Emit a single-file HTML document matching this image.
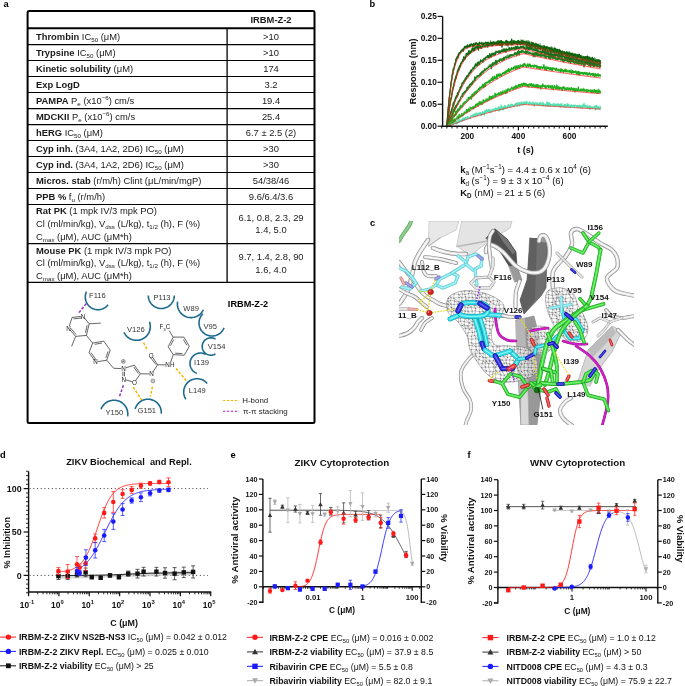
<!DOCTYPE html>
<html><head><meta charset="utf-8"><style>
html,body{margin:0;padding:0;background:#fff;}
body{width:685px;height:686px;overflow:hidden;}
svg{display:block;font-family:"Liberation Sans",sans-serif;will-change:transform;}
</style></head><body>
<svg width="685" height="686" viewBox="0 0 685 686">
<rect width="685" height="686" fill="#fff"/>
<text x="3.60" y="6.70" font-size="9.3" font-weight="bold" fill="#000" >a</text>
<text x="369.60" y="6.70" font-size="9.3" font-weight="bold" fill="#000" >b</text>
<text x="370.00" y="226.00" font-size="9.3" font-weight="bold" fill="#000" >c</text>
<text x="0.00" y="458.10" font-size="9.3" font-weight="bold" fill="#000" >d</text>
<text x="230.50" y="458.10" font-size="9.3" font-weight="bold" fill="#000" >e</text>
<text x="467.50" y="458.00" font-size="9.3" font-weight="bold" fill="#000" >f</text>
<rect x="27.6" y="11" width="286.9" height="412" rx="1.5" fill="none" stroke="#000" stroke-width="2"/>
<line x1="27.60" y1="28.20" x2="314.50" y2="28.20" stroke="#000" stroke-width="2.0" />
<line x1="27.60" y1="44.60" x2="314.50" y2="44.60" stroke="#000" stroke-width="1.2" />
<line x1="27.60" y1="60.50" x2="314.50" y2="60.50" stroke="#000" stroke-width="1.2" />
<line x1="27.60" y1="76.50" x2="314.50" y2="76.50" stroke="#000" stroke-width="1.2" />
<line x1="27.60" y1="92.50" x2="314.50" y2="92.50" stroke="#000" stroke-width="1.2" />
<line x1="27.60" y1="108.60" x2="314.50" y2="108.60" stroke="#000" stroke-width="1.2" />
<line x1="27.60" y1="124.60" x2="314.50" y2="124.60" stroke="#000" stroke-width="1.2" />
<line x1="27.60" y1="140.50" x2="314.50" y2="140.50" stroke="#000" stroke-width="1.2" />
<line x1="27.60" y1="156.50" x2="314.50" y2="156.50" stroke="#000" stroke-width="1.2" />
<line x1="27.60" y1="172.50" x2="314.50" y2="172.50" stroke="#000" stroke-width="1.2" />
<line x1="27.60" y1="188.50" x2="314.50" y2="188.50" stroke="#000" stroke-width="1.2" />
<line x1="27.60" y1="204.50" x2="314.50" y2="204.50" stroke="#000" stroke-width="1.2" />
<line x1="27.60" y1="243.60" x2="314.50" y2="243.60" stroke="#000" stroke-width="1.2" />
<line x1="27.60" y1="282.40" x2="314.50" y2="282.40" stroke="#000" stroke-width="1.2" />
<line x1="227.10" y1="28.20" x2="227.10" y2="282.40" stroke="#000" stroke-width="1.3" />
<text x="271.00" y="22.80" font-size="9.4" font-weight="bold" text-anchor="middle" fill="#1a1a1a" >IRBM-Z-2</text>
<text x="36.00" y="39.80" font-size="9.4" fill="#1a1a1a" ><tspan font-weight="bold">Thrombin</tspan> IC<tspan font-size="6.20" baseline-shift="-1.88">50</tspan> (μM)</text>
<text x="271.00" y="39.80" font-size="9.4" text-anchor="middle" fill="#1a1a1a" >>10</text>
<text x="36.00" y="56.20" font-size="9.4" fill="#1a1a1a" ><tspan font-weight="bold">Trypsine</tspan> IC<tspan font-size="6.20" baseline-shift="-1.88">50</tspan> (μM)</text>
<text x="271.00" y="56.20" font-size="9.4" text-anchor="middle" fill="#1a1a1a" >>10</text>
<text x="36.00" y="72.10" font-size="9.4" fill="#1a1a1a" ><tspan font-weight="bold">Kinetic solubility</tspan> (μM)</text>
<text x="271.00" y="72.10" font-size="9.4" text-anchor="middle" fill="#1a1a1a" >174</text>
<text x="36.00" y="88.10" font-size="9.4" fill="#1a1a1a" ><tspan font-weight="bold">Exp LogD</tspan></text>
<text x="271.00" y="88.10" font-size="9.4" text-anchor="middle" fill="#1a1a1a" >3.2</text>
<text x="36.00" y="104.10" font-size="9.4" fill="#1a1a1a" ><tspan font-weight="bold">PAMPA</tspan> P<tspan font-size="6.20" baseline-shift="-1.88">e</tspan> (x10<tspan font-size="6.20" baseline-shift="3.57">−6</tspan>) cm/s</text>
<text x="271.00" y="104.10" font-size="9.4" text-anchor="middle" fill="#1a1a1a" >19.4</text>
<text x="36.00" y="120.20" font-size="9.4" fill="#1a1a1a" ><tspan font-weight="bold">MDCKII</tspan> P<tspan font-size="6.20" baseline-shift="-1.88">e</tspan> (x10<tspan font-size="6.20" baseline-shift="3.57">−6</tspan>) cm/s</text>
<text x="271.00" y="120.20" font-size="9.4" text-anchor="middle" fill="#1a1a1a" >25.4</text>
<text x="36.00" y="136.20" font-size="9.4" fill="#1a1a1a" ><tspan font-weight="bold">hERG</tspan> IC<tspan font-size="6.20" baseline-shift="-1.88">50</tspan> (μM)</text>
<text x="271.00" y="136.20" font-size="9.4" text-anchor="middle" fill="#1a1a1a" >6.7 ± 2.5 (2)</text>
<text x="36.00" y="152.10" font-size="9.4" fill="#1a1a1a" ><tspan font-weight="bold">Cyp inh.</tspan> (3A4, 1A2, 2D6) IC<tspan font-size="6.20" baseline-shift="-1.88">50</tspan> (μM)</text>
<text x="271.00" y="152.10" font-size="9.4" text-anchor="middle" fill="#1a1a1a" >>30</text>
<text x="36.00" y="168.10" font-size="9.4" fill="#1a1a1a" ><tspan font-weight="bold">Cyp ind.</tspan> (3A4, 1A2, 2D6) IC<tspan font-size="6.20" baseline-shift="-1.88">50</tspan> (μM)</text>
<text x="271.00" y="168.10" font-size="9.4" text-anchor="middle" fill="#1a1a1a" >>30</text>
<text x="36.00" y="184.10" font-size="9.4" fill="#1a1a1a" ><tspan font-weight="bold">Micros. stab</tspan> (r/m/h) Clint (μL/min/mgP)</text>
<text x="271.00" y="184.10" font-size="9.4" text-anchor="middle" fill="#1a1a1a" >54/38/46</text>
<text x="36.00" y="200.10" font-size="9.4" fill="#1a1a1a" ><tspan font-weight="bold">PPB %</tspan> f<tspan font-size="6.20" baseline-shift="-1.88">u</tspan> (r/m/h)</text>
<text x="271.00" y="200.10" font-size="9.4" text-anchor="middle" fill="#1a1a1a" >9.6/6.4/3.6</text>
<text x="36.00" y="214.40" font-size="9.4" fill="#1a1a1a" ><tspan font-weight="bold">Rat PK</tspan> (1 mpk IV/3 mpk PO)</text>
<text x="36.00" y="227.00" font-size="9.4" fill="#1a1a1a" >Cl (ml/min/kg), V<tspan font-size="6.20" baseline-shift="-1.88">dss</tspan> (L/kg), t<tspan font-size="6.20" baseline-shift="-1.88">1/2</tspan> (h), F (%)</text>
<text x="36.00" y="239.60" font-size="9.4" fill="#1a1a1a" >C<tspan font-size="6.20" baseline-shift="-1.88">max</tspan> (μM), AUC (μM*h)</text>
<text x="271.00" y="220.80" font-size="9.4" text-anchor="middle" fill="#1a1a1a" >6.1, 0.8, 2.3, 29</text>
<text x="271.00" y="233.40" font-size="9.4" text-anchor="middle" fill="#1a1a1a" >1.4, 5.0</text>
<text x="36.00" y="253.60" font-size="9.4" fill="#1a1a1a" ><tspan font-weight="bold">Mouse PK</tspan> (1 mpk IV/3 mpk PO)</text>
<text x="36.00" y="266.20" font-size="9.4" fill="#1a1a1a" >Cl (ml/min/kg), V<tspan font-size="6.20" baseline-shift="-1.88">dss</tspan> (L/kg), t<tspan font-size="6.20" baseline-shift="-1.88">1/2</tspan> (h), F (%)</text>
<text x="36.00" y="278.80" font-size="9.4" fill="#1a1a1a" >C<tspan font-size="6.20" baseline-shift="-1.88">max</tspan> (μM), AUC (μM*h)</text>
<text x="271.00" y="260.00" font-size="9.4" text-anchor="middle" fill="#1a1a1a" >9.7, 1.4, 2.8, 90</text>
<text x="271.00" y="272.60" font-size="9.4" text-anchor="middle" fill="#1a1a1a" >1.6, 4.0</text>
<polyline points="108.01,304.82 107.41,305.53 106.77,306.19 106.07,306.80 105.34,307.36 104.56,307.87 103.76,308.32 102.92,308.71 102.05,309.04 101.16,309.30 100.26,309.50 99.34,309.63 98.42,309.69 97.50,309.69 96.57,309.62 95.66,309.48 94.76,309.28 93.87,309.01 93.01,308.68 92.17,308.28 91.36,307.83 90.59,307.32 89.86,306.75 89.17,306.13 88.53,305.46 87.94,304.75 87.40,304.00 86.92,303.21 86.50,302.39 86.14,301.54 85.84,300.66 85.60,299.77 85.44,298.86 85.33,297.94 85.30,297.01 85.33,296.09 85.43,295.17 85.60,294.26 85.83,293.36 86.13,292.48 86.49,291.63" fill="none" stroke="#1d6a8f" stroke-width="1.6" stroke-linecap="butt"/>
<polyline points="174.30,295.50 174.26,296.52 174.14,297.53 173.94,298.53 173.66,299.52 173.31,300.47 172.88,301.40 172.38,302.29 171.82,303.14 171.19,303.94 170.49,304.69 169.74,305.39 168.94,306.02 168.09,306.58 167.20,307.08 166.27,307.51 165.32,307.86 164.33,308.14 163.33,308.34 162.32,308.46 161.30,308.50 160.28,308.46 159.27,308.34 158.27,308.14 157.28,307.86 156.33,307.51 155.40,307.08 154.51,306.58 153.66,306.02 152.86,305.39 152.11,304.69 151.41,303.94 150.78,303.14 150.22,302.29 149.72,301.40 149.29,300.47 148.94,299.52 148.66,298.53 148.46,297.53 148.34,296.52 148.30,295.50" fill="none" stroke="#1d6a8f" stroke-width="1.6" stroke-linecap="butt"/>
<polyline points="203.33,309.75 202.88,310.62 202.37,311.46 201.81,312.26 201.19,313.01 200.51,313.72 199.79,314.38 199.02,314.99 198.21,315.53 197.36,316.02 196.48,316.45 195.57,316.81 194.63,317.11 193.68,317.33 192.72,317.49 191.74,317.58 190.76,317.60 189.79,317.55 188.81,317.42 187.85,317.23 186.91,316.97 185.99,316.64 185.09,316.25 184.23,315.79 183.39,315.27 182.60,314.70 181.86,314.07 181.16,313.38 180.51,312.65 179.91,311.87 179.37,311.06 178.90,310.20 178.48,309.31 178.13,308.40 177.85,307.46 177.63,306.51 177.49,305.54 177.41,304.56 177.41,303.58 177.47,302.61 177.61,301.64" fill="none" stroke="#1d6a8f" stroke-width="1.6" stroke-linecap="butt"/>
<polyline points="224.05,327.87 223.58,328.92 223.01,329.92 222.35,330.86 221.62,331.75 220.80,332.57 219.92,333.31 218.98,333.97 217.98,334.54 216.94,335.03 215.86,335.42 214.74,335.71 213.61,335.90 212.46,335.99 211.31,335.98 210.16,335.87 209.03,335.66 207.92,335.34 206.85,334.94 205.81,334.43 204.82,333.84 203.89,333.16 203.03,332.41 202.23,331.58 201.51,330.68 200.87,329.72 200.32,328.71 199.86,327.65 199.50,326.56 199.23,325.44 199.07,324.30 199.00,323.15 199.04,322.00 199.18,320.86 199.42,319.73 199.76,318.63 200.19,317.57 200.72,316.54 201.33,315.57 202.03,314.66 202.81,313.81" fill="none" stroke="#1d6a8f" stroke-width="1.6" stroke-linecap="butt"/>
<polyline points="215.51,353.88 214.70,354.33 213.85,354.69 212.96,354.95 212.05,355.12 211.13,355.20 210.20,355.17 209.28,355.05 208.39,354.83 207.51,354.51 206.68,354.11 205.90,353.62 205.17,353.05 204.51,352.40 203.92,351.69 203.40,350.92 202.98,350.09 202.64,349.23 202.40,348.34 202.25,347.42 202.20,346.50 202.25,345.58 202.40,344.66 202.64,343.77 202.98,342.91 203.40,342.08 203.92,341.31 204.51,340.60 205.17,339.95 205.90,339.38 206.68,338.89 207.51,338.49 208.39,338.17 209.28,337.95 210.20,337.83 211.13,337.80 212.05,337.88 212.96,338.05 213.85,338.31 214.70,338.67 215.51,339.12" fill="none" stroke="#1d6a8f" stroke-width="1.6" stroke-linecap="butt"/>
<polyline points="196.91,373.37 196.10,373.04 195.33,372.64 194.59,372.18 193.89,371.66 193.24,371.08 192.64,370.46 192.09,369.78 191.60,369.06 191.17,368.31 190.80,367.52 190.50,366.70 190.27,365.86 190.11,365.01 190.02,364.14 190.00,363.27 190.06,362.40 190.18,361.54 190.38,360.69 190.65,359.87 190.98,359.06 191.38,358.29 191.85,357.55 192.37,356.86 192.95,356.21 193.58,355.61 194.25,355.06 194.97,354.57 195.73,354.14 196.52,353.78 197.34,353.49 198.18,353.26 199.04,353.10 199.90,353.02 200.77,353.00 201.64,353.06 202.50,353.19 203.35,353.39 204.18,353.66 204.98,354.00 205.75,354.41" fill="none" stroke="#1d6a8f" stroke-width="1.6" stroke-linecap="butt"/>
<polyline points="185.85,399.24 185.33,398.38 184.88,397.48 184.50,396.55 184.20,395.60 183.96,394.62 183.80,393.63 183.72,392.63 183.71,391.63 183.77,390.63 183.91,389.63 184.13,388.65 184.42,387.69 184.78,386.76 185.21,385.85 185.71,384.98 186.27,384.14 186.89,383.36 187.57,382.62 188.31,381.94 189.09,381.31 189.92,380.74 190.79,380.24 191.69,379.81 192.63,379.44 193.59,379.15 194.56,378.92 195.56,378.78 196.56,378.71 197.56,378.71 198.56,378.79 199.55,378.95 200.53,379.18 201.49,379.48 202.42,379.85 203.32,380.30 204.19,380.81 205.01,381.38 205.79,382.02 206.51,382.71 207.19,383.45" fill="none" stroke="#1d6a8f" stroke-width="1.6" stroke-linecap="butt"/>
<polyline points="149.47,321.78 149.79,322.78 150.03,323.81 150.20,324.85 150.29,325.90 150.29,326.95 150.22,328.00 150.06,329.04 149.83,330.07 149.52,331.08 149.13,332.06 148.67,333.01 148.14,333.91 147.54,334.78 146.88,335.60 146.15,336.36 145.37,337.07 144.54,337.72 143.66,338.30 142.74,338.81 141.78,339.25 140.79,339.62 139.78,339.90 138.75,340.12 137.70,340.25 136.65,340.30 135.60,340.27 134.55,340.16 133.51,339.97 132.49,339.71 131.50,339.36 130.53,338.94 129.60,338.45 128.71,337.89 127.86,337.26 127.07,336.57 126.33,335.82 125.64,335.02 125.03,334.17 124.47,333.27 123.99,332.33" fill="none" stroke="#1d6a8f" stroke-width="1.6" stroke-linecap="butt"/>
<polyline points="101.03,409.28 101.42,408.33 101.87,407.42 102.39,406.53 102.98,405.69 103.62,404.90 104.33,404.16 105.08,403.47 105.89,402.84 106.74,402.27 107.63,401.76 108.55,401.32 109.51,400.95 110.49,400.65 111.49,400.43 112.50,400.28 113.52,400.21 114.54,400.21 115.56,400.29 116.57,400.44 117.57,400.67 118.55,400.97 119.50,401.34 120.43,401.79 121.31,402.30 122.16,402.87 122.96,403.51 123.72,404.20 124.41,404.95 125.06,405.74 125.64,406.59 126.16,407.47 126.61,408.39 126.99,409.34 127.30,410.31 127.53,411.31 127.70,412.32 127.78,413.34 127.80,414.36 127.73,415.38 127.59,416.40" fill="none" stroke="#1d6a8f" stroke-width="1.6" stroke-linecap="butt"/>
<polyline points="135.15,409.06 135.44,408.12 135.80,407.20 136.23,406.31 136.72,405.45 137.27,404.64 137.89,403.86 138.55,403.14 139.27,402.46 140.04,401.84 140.85,401.28 141.70,400.78 142.59,400.35 143.51,399.98 144.45,399.68 145.41,399.46 146.38,399.30 147.36,399.22 148.35,399.20 149.33,399.27 150.31,399.40 151.27,399.61 152.22,399.89 153.14,400.23 154.04,400.65 154.90,401.13 155.72,401.67 156.50,402.27 157.24,402.93 157.92,403.64 158.55,404.40 159.12,405.21 159.63,406.05 160.08,406.93 160.46,407.84 160.77,408.78 161.01,409.73 161.18,410.71 161.28,411.69 161.30,412.67 161.25,413.66" fill="none" stroke="#1d6a8f" stroke-width="1.6" stroke-linecap="butt"/>
<text x="97.40" y="297.80" font-size="7.6" text-anchor="middle" fill="#333" >F116</text>
<text x="162.00" y="300.10" font-size="7.6" text-anchor="middle" fill="#333" >P113</text>
<text x="191.10" y="310.60" font-size="7.6" text-anchor="middle" fill="#333" >W89</text>
<text x="210.30" y="328.80" font-size="7.6" text-anchor="middle" fill="#333" >V95</text>
<text x="216.60" y="349.40" font-size="7.6" text-anchor="middle" fill="#333" >V154</text>
<text x="201.50" y="365.10" font-size="7.6" text-anchor="middle" fill="#333" >I139</text>
<text x="197.20" y="393.30" font-size="7.6" text-anchor="middle" fill="#333" >L149</text>
<text x="135.90" y="332.10" font-size="7.6" text-anchor="middle" fill="#333" >V126</text>
<text x="114.30" y="414.80" font-size="7.6" text-anchor="middle" fill="#333" >Y150</text>
<text x="146.80" y="412.80" font-size="7.6" text-anchor="middle" fill="#333" >G151</text>
<text x="248.00" y="306.60" font-size="9.2" font-weight="bold" text-anchor="middle" fill="#000" >IRBM-Z-2</text>
<line x1="223.10" y1="400.50" x2="238.90" y2="400.50" stroke="#f5b800" stroke-width="1.1" stroke-dasharray="2.3,1.6"/>
<line x1="223.10" y1="411.30" x2="238.90" y2="411.30" stroke="#a020a0" stroke-width="1.1" stroke-dasharray="2.3,1.6"/>
<text x="242.30" y="403.00" font-size="7.9" fill="#222" >H-bond</text>
<text x="243.00" y="413.90" font-size="7.9" fill="#222" >π-π stacking</text>
<line x1="84.39" y1="317.90" x2="89.20" y2="323.80" stroke="#333" stroke-width="0.75" />
<line x1="89.20" y1="323.80" x2="86.40" y2="335.40" stroke="#333" stroke-width="0.75" />
<line x1="86.40" y1="335.40" x2="75.60" y2="336.40" stroke="#333" stroke-width="0.75" />
<line x1="75.60" y1="336.40" x2="70.04" y2="329.96" stroke="#333" stroke-width="0.75" />
<line x1="69.27" y1="326.21" x2="72.10" y2="317.40" stroke="#333" stroke-width="0.75" />
<line x1="72.10" y1="317.40" x2="80.81" y2="316.44" stroke="#333" stroke-width="0.75" />
<line x1="73.46" y1="318.86" x2="82.18" y2="317.90" stroke="#333" stroke-width="0.75" />
<line x1="87.20" y1="325.31" x2="85.41" y2="332.73" stroke="#333" stroke-width="0.75" />
<line x1="76.11" y1="334.54" x2="70.51" y2="328.06" stroke="#333" stroke-width="0.75" />
<line x1="89.20" y1="323.80" x2="100.80" y2="323.10" stroke="#333" stroke-width="0.75" />
<line x1="75.60" y1="336.40" x2="71.60" y2="346.40" stroke="#333" stroke-width="0.75" />
<text x="83.00" y="318.90" font-size="6.3" text-anchor="middle" fill="#222" >N</text>
<text x="68.60" y="330.60" font-size="6.3" text-anchor="middle" fill="#222" >N</text>
<line x1="86.40" y1="335.40" x2="92.60" y2="343.10" stroke="#333" stroke-width="0.75" />
<line x1="92.60" y1="343.10" x2="103.70" y2="341.10" stroke="#333" stroke-width="0.75" />
<line x1="103.70" y1="341.10" x2="110.20" y2="350.10" stroke="#333" stroke-width="0.75" />
<line x1="110.20" y1="350.10" x2="106.70" y2="360.20" stroke="#333" stroke-width="0.75" />
<line x1="106.70" y1="360.20" x2="97.87" y2="361.63" stroke="#333" stroke-width="0.75" />
<line x1="94.28" y1="360.11" x2="89.10" y2="352.70" stroke="#333" stroke-width="0.75" />
<line x1="89.10" y1="352.70" x2="92.60" y2="343.10" stroke="#333" stroke-width="0.75" />
<line x1="94.85" y1="344.32" x2="101.95" y2="343.04" stroke="#333" stroke-width="0.75" />
<line x1="108.09" y1="351.31" x2="105.85" y2="357.77" stroke="#333" stroke-width="0.75" />
<line x1="96.20" y1="360.07" x2="91.00" y2="352.63" stroke="#333" stroke-width="0.75" />
<text x="95.60" y="364.30" font-size="6.3" text-anchor="middle" fill="#222" >N</text>
<line x1="106.70" y1="360.20" x2="113.70" y2="368.30" stroke="#333" stroke-width="0.75" />
<line x1="113.70" y1="368.30" x2="121.10" y2="368.53" stroke="#333" stroke-width="0.75" />
<line x1="125.79" y1="367.89" x2="134.40" y2="365.20" stroke="#333" stroke-width="0.75" />
<line x1="134.40" y1="365.20" x2="140.40" y2="373.80" stroke="#333" stroke-width="0.75" />
<line x1="140.40" y1="373.80" x2="135.66" y2="380.60" stroke="#333" stroke-width="0.75" />
<line x1="132.29" y1="381.78" x2="125.91" y2="379.92" stroke="#333" stroke-width="0.75" />
<line x1="133.90" y1="367.10" x2="138.46" y2="373.64" stroke="#333" stroke-width="0.75" />
<line x1="122.90" y1="371.60" x2="122.90" y2="376.30" stroke="#333" stroke-width="0.75" />
<line x1="124.50" y1="371.60" x2="124.50" y2="376.30" stroke="#333" stroke-width="0.75" />
<text x="123.50" y="370.90" font-size="6.3" text-anchor="middle" fill="#222" >N</text>
<text x="123.80" y="381.60" font-size="6.3" text-anchor="middle" fill="#222" >N</text>
<text x="134.40" y="384.70" font-size="6.3" text-anchor="middle" fill="#222" >O</text>
<circle cx="123.3" cy="361.4" r="1.9" fill="none" stroke="#333" stroke-width="0.55"/>
<line x1="122.20" y1="361.40" x2="124.40" y2="361.40" stroke="#333" stroke-width="0.55" />
<line x1="123.30" y1="360.30" x2="123.30" y2="362.50" stroke="#333" stroke-width="0.55" />
<line x1="140.40" y1="373.80" x2="149.40" y2="373.88" stroke="#333" stroke-width="0.75" />
<text x="151.60" y="376.20" font-size="6.3" text-anchor="middle" fill="#222" >N</text>
<circle cx="152.9" cy="380.9" r="1.9" fill="none" stroke="#333" stroke-width="0.55"/>
<line x1="151.80" y1="380.90" x2="154.00" y2="380.90" stroke="#333" stroke-width="0.55" />
<line x1="152.81" y1="372.06" x2="157.60" y2="364.80" stroke="#333" stroke-width="0.75" />
<line x1="157.60" y1="364.80" x2="152.56" y2="357.12" stroke="#333" stroke-width="0.75" />
<line x1="156.20" y1="364.60" x2="150.10" y2="357.20" stroke="#333" stroke-width="0.75" />
<text x="151.30" y="357.50" font-size="6.3" text-anchor="middle" fill="#222" >O</text>
<line x1="157.60" y1="364.80" x2="165.70" y2="364.80" stroke="#333" stroke-width="0.75" />
<text x="169.90" y="367.10" font-size="6.3" text-anchor="middle" fill="#222" >NH</text>
<line x1="170.62" y1="362.15" x2="173.20" y2="354.70" stroke="#333" stroke-width="0.75" />
<line x1="173.20" y1="354.70" x2="168.20" y2="346.70" stroke="#333" stroke-width="0.75" />
<line x1="168.20" y1="346.70" x2="173.20" y2="337.10" stroke="#333" stroke-width="0.75" />
<line x1="173.20" y1="337.10" x2="183.80" y2="337.10" stroke="#333" stroke-width="0.75" />
<line x1="183.80" y1="337.10" x2="189.30" y2="346.20" stroke="#333" stroke-width="0.75" />
<line x1="189.30" y1="346.20" x2="184.30" y2="355.20" stroke="#333" stroke-width="0.75" />
<line x1="184.30" y1="355.20" x2="173.20" y2="354.70" stroke="#333" stroke-width="0.75" />
<line x1="170.51" y1="345.73" x2="173.71" y2="339.58" stroke="#333" stroke-width="0.75" />
<line x1="183.40" y1="339.53" x2="186.92" y2="345.36" stroke="#333" stroke-width="0.75" />
<line x1="182.29" y1="353.51" x2="175.18" y2="353.19" stroke="#333" stroke-width="0.75" />
<line x1="173.20" y1="337.10" x2="169.20" y2="330.60" stroke="#333" stroke-width="0.75" />
<text x="159.40" y="329.30" font-size="6.3" fill="#222" >F<tspan font-size="4.3" dy="1.3">3</tspan><tspan dy="-1.3">C</tspan></text>
<line x1="86.20" y1="303.60" x2="78.10" y2="313.70" stroke="#8e35b8" stroke-width="1.5" stroke-dasharray="2.8,1.6"/>
<line x1="123.40" y1="385.30" x2="119.10" y2="397.70" stroke="#8e35b8" stroke-width="1.5" stroke-dasharray="2.8,1.6"/>
<line x1="133.20" y1="387.10" x2="141.80" y2="400.20" stroke="#f5b800" stroke-width="1.5" stroke-dasharray="2.8,1.6"/>
<line x1="152.40" y1="386.60" x2="150.40" y2="396.70" stroke="#f5b800" stroke-width="1.5" stroke-dasharray="2.8,1.6"/>
<line x1="176.00" y1="368.40" x2="186.10" y2="380.40" stroke="#f5b800" stroke-width="1.5" stroke-dasharray="2.8,1.6"/>
<line x1="143.50" y1="342.70" x2="147.00" y2="349.20" stroke="#f5b800" stroke-width="1.5" stroke-dasharray="2.8,1.6"/>
<polyline points="446.86,126.20 447.19,125.69 447.52,124.95 447.86,126.20 448.19,126.20 448.52,125.56 448.85,124.89 449.19,124.15 449.52,126.20 449.85,126.18 450.18,124.11 450.51,124.20 450.85,123.04 451.18,123.43 451.51,124.34 451.84,124.38 452.17,121.49 452.51,124.12 452.84,124.46 453.17,124.67 453.50,123.34 453.84,123.16 454.17,123.50 454.50,123.10 454.83,122.64 455.16,122.10 455.50,121.58 455.83,122.31 456.16,124.11 456.49,121.57 456.82,123.49 457.16,122.16 457.49,123.29 457.82,121.73 458.15,122.36 458.49,121.27 458.82,118.16 459.15,121.27 459.48,120.28 459.81,122.25 460.15,121.12 460.48,120.08 460.81,120.69 461.14,120.11 461.47,120.25 461.81,121.20 462.14,119.56 462.47,120.76 462.80,118.05 463.14,120.22 463.47,118.95 463.80,119.49 464.13,118.45 464.46,119.83 464.80,118.17 465.13,119.13 465.46,117.67 465.79,118.17 466.12,118.52 466.46,119.29 466.79,117.68 467.12,117.85 467.45,116.60 467.79,118.43 468.12,117.42 468.45,117.35 468.78,117.45 469.11,117.40 469.45,117.32 469.78,117.96 470.11,118.24 470.44,117.53 470.77,116.47 471.11,115.46 471.44,115.87 471.77,115.68 472.10,115.84 472.44,115.80 472.77,116.19 473.10,115.51 473.43,114.43 473.76,116.35 474.10,116.60 474.43,113.92 474.76,115.47 475.09,114.66 475.42,114.65 475.76,116.48 476.09,112.92 476.42,113.45 476.75,114.89 477.09,114.23 477.42,114.73 477.75,115.60 478.08,114.75 478.41,114.17 478.75,113.35 479.08,113.64 479.41,114.16 479.74,112.81 480.08,114.75 480.41,113.14 480.74,112.73 481.07,113.99 481.40,115.33 481.74,114.38 482.07,113.17 482.40,112.79 482.73,111.70 483.06,114.07 483.40,113.00 483.73,112.27 484.06,112.95 484.39,114.99 484.73,111.82 485.06,110.27 485.39,111.44 485.72,113.19 486.05,112.61 486.39,111.90 486.72,109.61 487.05,111.32 487.38,111.71 487.71,110.22 488.05,111.71 488.38,109.74 488.71,112.10 489.04,111.81 489.38,110.56 489.71,109.78 490.04,110.43 490.37,110.68 490.70,112.64 491.04,111.47 491.37,111.28 491.70,111.12 492.03,109.94 492.36,110.74 492.70,109.57 493.03,110.16 493.36,110.47 493.69,109.94 494.03,109.55 494.36,109.05 494.69,110.25 495.02,109.92 495.35,110.92 495.69,107.97 496.02,108.03 496.35,109.51 496.68,109.72 497.01,110.36 497.35,108.91 497.68,108.79 498.01,106.80 498.34,108.58 498.68,109.48 499.01,111.01 499.34,107.20 499.67,108.29 500.00,109.95 500.34,108.13 500.67,109.78 501.00,104.78 501.33,106.97 501.66,107.42 502.00,108.06 502.33,109.87 502.66,107.84 502.99,109.14 503.33,106.98 503.66,109.54 503.99,108.27 504.32,106.13 504.65,105.64 504.99,108.29 505.32,108.55 505.65,106.14 505.98,106.08 506.31,107.78 506.65,107.42 506.98,107.34 507.31,107.74 507.64,107.17 507.98,105.22 508.31,105.69 508.64,104.29 508.97,106.28 509.30,106.25 509.64,106.99 509.97,106.09 510.30,107.16 510.63,107.53 510.96,105.06 511.30,104.27 511.63,104.78 511.96,104.22 512.29,105.19 512.63,106.05 512.96,105.20 513.29,105.57 513.62,106.21 513.95,106.70 514.29,106.42 514.62,104.92 514.95,104.69 515.28,105.22 515.62,103.31 515.95,104.45 516.28,103.98 516.61,103.30 516.94,105.20 517.28,106.23 517.61,103.53 517.94,104.85 518.27,102.85 518.60,103.72 518.94,103.00 519.27,103.17 519.60,105.85 519.93,103.07 520.27,104.35 520.60,104.36 520.93,103.98 521.26,102.75 521.59,102.56 521.93,102.37 522.26,104.89 522.59,103.78 522.92,105.44 523.25,103.18 523.59,102.45 523.92,103.79 524.25,102.84 524.58,102.88 524.92,102.15 525.25,103.94 525.58,103.97 525.91,103.93 526.24,101.52 526.58,102.18 526.91,103.38 527.24,103.06 527.57,103.19 527.90,103.13 528.24,103.55 528.57,103.69 528.90,104.60 529.23,104.03 529.57,101.84 529.90,102.94 530.23,103.42 530.56,103.71 530.89,103.46 531.23,103.20 531.56,104.19 531.89,103.40 532.22,103.38 532.55,104.36 532.89,104.42 533.22,104.64 533.55,104.73 533.88,102.86 534.22,106.02 534.55,104.02 534.88,104.38 535.21,104.41 535.54,103.74 535.88,102.76 536.21,103.80 536.54,104.03 536.87,104.51 537.20,104.06 537.54,103.08 537.87,104.36 538.20,105.11 538.53,105.25 538.87,105.12 539.20,105.41 539.53,103.03 539.86,103.77 540.19,104.36 540.53,102.75 540.86,104.81 541.19,103.47 541.52,103.45 541.85,105.74 542.19,105.77 542.52,105.18 542.85,103.43 543.18,103.07 543.52,105.53 543.85,103.36 544.18,104.76 544.51,104.79 544.84,104.97 545.18,104.77 545.51,106.23 545.84,105.46 546.17,105.71 546.51,104.06 546.84,102.54 547.17,101.94 547.50,104.93 547.83,106.29 548.17,105.04 548.50,105.57 548.83,102.77 549.16,104.16 549.49,105.43 549.83,103.84 550.16,104.25 550.49,106.36 550.82,105.33 551.16,105.06 551.49,104.84 551.82,104.75 552.15,105.22 552.48,104.73 552.82,105.50 553.15,105.82 553.48,103.51 553.81,104.65 554.14,104.60 554.48,106.58 554.81,105.22 555.14,104.29 555.47,106.35 555.81,104.06 556.14,105.52 556.47,104.77 556.80,105.31 557.13,104.99 557.47,104.06 557.80,105.64 558.13,103.75 558.46,106.04 558.79,106.21 559.13,104.64 559.46,106.38 559.79,105.73 560.12,104.51 560.46,104.24 560.79,107.14 561.12,104.96 561.45,103.65 561.78,104.33 562.12,105.74 562.45,106.11 562.78,105.84 563.11,106.68 563.44,105.85 563.78,105.79 564.11,105.77 564.44,104.51 564.77,105.89 565.11,107.10 565.44,104.69 565.77,106.77 566.10,106.18 566.43,105.90 566.77,106.12 567.10,106.78 567.43,106.07 567.76,103.74 568.09,106.46 568.43,106.02 568.76,104.82 569.09,105.21 569.42,105.21 569.76,105.13 570.09,107.89 570.42,106.84 570.75,105.90 571.08,105.56 571.42,104.82 571.75,105.63 572.08,106.34 572.41,106.09 572.74,106.35 573.08,105.93 573.41,105.53 573.74,106.53 574.07,107.01 574.41,107.07 574.74,105.20 575.07,105.04 575.40,105.34 575.73,105.49 576.07,105.53 576.40,106.36 576.73,105.74 577.06,107.41 577.39,106.61 577.73,107.14 578.06,105.75 578.39,107.03 578.72,106.60 579.06,106.13 579.39,105.22 579.72,107.32 580.05,107.48 580.38,105.80 580.72,107.68 581.05,106.19 581.38,107.20 581.71,106.77 582.05,108.44 582.38,106.01 582.71,107.21 583.04,107.61 583.37,104.75 583.71,106.09 584.04,103.41 584.37,106.42 584.70,107.17 585.03,106.75 585.37,105.32 585.70,106.92 586.03,106.48 586.36,106.43 586.70,107.83 587.03,106.84 587.36,107.47 587.69,108.21 588.02,106.18 588.36,106.40 588.69,106.99 589.02,107.96 589.35,109.04 589.68,106.65 590.02,107.23 590.35,108.78 590.68,107.23 591.01,108.66 591.35,107.24 591.68,107.09 592.01,106.90 592.34,107.06 592.67,107.12 593.01,108.40 593.34,107.69 593.67,107.83 594.00,107.59 594.33,107.12 594.67,106.80 595.00,105.83 595.33,109.91 595.66,107.06 596.00,107.66 596.33,105.29 596.66,106.60 596.99,109.12 597.32,107.15 597.66,108.06 597.99,106.62 598.32,108.62 598.65,107.71 598.98,107.76 599.32,107.74 599.65,108.23 599.98,109.46 600.31,107.26 600.65,106.76" fill="none" stroke="#55e0b0" stroke-width="1.3" stroke-linejoin="round"/>
<polyline points="446.86,126.20 447.19,126.20 447.52,125.46 447.86,124.84 448.19,125.28 448.52,124.86 448.85,123.21 449.19,125.39 449.52,124.58 449.85,125.62 450.18,124.19 450.51,123.96 450.85,123.91 451.18,123.40 451.51,120.73 451.84,122.40 452.17,122.06 452.51,119.57 452.84,121.49 453.17,122.86 453.50,120.54 453.84,121.58 454.17,118.84 454.50,121.37 454.83,120.48 455.16,121.22 455.50,119.33 455.83,120.16 456.16,118.99 456.49,119.05 456.82,119.03 457.16,117.29 457.49,117.05 457.82,117.65 458.15,118.34 458.49,118.27 458.82,116.73 459.15,114.45 459.48,116.96 459.81,117.04 460.15,116.72 460.48,116.87 460.81,116.52 461.14,115.55 461.47,113.73 461.81,114.89 462.14,115.15 462.47,115.99 462.80,114.00 463.14,114.00 463.47,114.94 463.80,114.58 464.13,113.34 464.46,112.10 464.80,112.25 465.13,112.43 465.46,112.73 465.79,111.88 466.12,111.99 466.46,109.66 466.79,112.63 467.12,111.68 467.45,109.88 467.79,111.15 468.12,109.30 468.45,110.51 468.78,110.11 469.11,110.40 469.45,111.16 469.78,110.56 470.11,107.27 470.44,108.58 470.77,108.41 471.11,107.87 471.44,108.03 471.77,107.39 472.10,108.43 472.44,108.19 472.77,106.82 473.10,107.91 473.43,108.65 473.76,107.38 474.10,107.49 474.43,106.17 474.76,107.27 475.09,107.40 475.42,106.50 475.76,104.48 476.09,105.83 476.42,105.44 476.75,105.39 477.09,104.92 477.42,104.12 477.75,103.47 478.08,106.22 478.41,103.13 478.75,104.26 479.08,104.38 479.41,101.56 479.74,103.86 480.08,101.63 480.41,102.39 480.74,104.13 481.07,102.48 481.40,102.06 481.74,102.71 482.07,104.66 482.40,102.56 482.73,102.23 483.06,102.94 483.40,99.92 483.73,101.74 484.06,101.71 484.39,101.44 484.73,101.74 485.06,101.55 485.39,100.54 485.72,100.15 486.05,100.77 486.39,100.20 486.72,101.28 487.05,99.26 487.38,100.32 487.71,99.22 488.05,100.13 488.38,99.58 488.71,98.71 489.04,99.92 489.38,96.20 489.71,98.45 490.04,98.32 490.37,98.80 490.70,96.38 491.04,96.42 491.37,97.31 491.70,98.76 492.03,97.76 492.36,96.52 492.70,97.45 493.03,97.94 493.36,97.78 493.69,97.22 494.03,96.30 494.36,96.79 494.69,95.99 495.02,93.15 495.35,93.98 495.69,96.54 496.02,95.05 496.35,95.15 496.68,95.21 497.01,93.92 497.35,95.09 497.68,94.94 498.01,94.83 498.34,94.42 498.68,92.93 499.01,93.27 499.34,95.17 499.67,94.15 500.00,94.35 500.34,92.64 500.67,93.07 501.00,92.28 501.33,93.06 501.66,94.70 502.00,92.27 502.33,92.35 502.66,91.93 502.99,93.54 503.33,92.06 503.66,92.66 503.99,92.52 504.32,91.38 504.65,91.24 504.99,92.30 505.32,92.96 505.65,93.55 505.98,91.58 506.31,89.81 506.65,90.81 506.98,92.79 507.31,91.32 507.64,89.94 507.98,88.60 508.31,88.95 508.64,89.59 508.97,89.63 509.30,90.71 509.64,89.99 509.97,89.74 510.30,90.04 510.63,89.10 510.96,89.41 511.30,88.58 511.63,87.39 511.96,87.93 512.29,88.12 512.63,88.63 512.96,89.74 513.29,88.25 513.62,87.49 513.95,88.87 514.29,86.55 514.62,87.96 514.95,87.16 515.28,87.71 515.62,88.49 515.95,85.15 516.28,88.15 516.61,86.02 516.94,87.33 517.28,86.40 517.61,87.33 517.94,86.83 518.27,85.42 518.60,84.31 518.94,86.89 519.27,85.95 519.60,84.92 519.93,86.33 520.27,84.92 520.60,86.25 520.93,84.79 521.26,84.84 521.59,83.98 521.93,84.68 522.26,86.07 522.59,84.17 522.92,85.76 523.25,83.86 523.59,83.05 523.92,83.96 524.25,85.11 524.58,83.46 524.92,84.48 525.25,85.88 525.58,85.05 525.91,83.37 526.24,85.07 526.58,84.69 526.91,85.18 527.24,86.51 527.57,85.41 527.90,84.60 528.24,84.78 528.57,85.18 528.90,87.11 529.23,83.90 529.57,84.42 529.90,84.16 530.23,83.93 530.56,85.65 530.89,85.83 531.23,84.98 531.56,83.70 531.89,86.98 532.22,85.61 532.55,86.11 532.89,84.91 533.22,84.07 533.55,85.80 533.88,86.75 534.22,85.54 534.55,85.89 534.88,87.14 535.21,84.83 535.54,86.22 535.88,85.09 536.21,87.06 536.54,84.76 536.87,87.24 537.20,84.87 537.54,87.67 537.87,84.62 538.20,86.34 538.53,87.52 538.87,86.27 539.20,85.75 539.53,87.07 539.86,86.62 540.19,85.92 540.53,86.38 540.86,89.21 541.19,86.69 541.52,85.90 541.85,86.06 542.19,85.40 542.52,87.08 542.85,83.97 543.18,85.70 543.52,86.20 543.85,85.49 544.18,85.65 544.51,86.50 544.84,87.24 545.18,85.68 545.51,86.29 545.84,88.56 546.17,87.83 546.51,86.35 546.84,86.72 547.17,86.59 547.50,86.27 547.83,86.79 548.17,85.43 548.50,87.56 548.83,87.41 549.16,86.74 549.49,86.37 549.83,86.36 550.16,85.71 550.49,87.64 550.82,86.09 551.16,86.79 551.49,88.29 551.82,87.44 552.15,85.33 552.48,86.61 552.82,87.86 553.15,89.75 553.48,88.18 553.81,88.18 554.14,87.46 554.48,85.33 554.81,86.87 555.14,87.32 555.47,88.56 555.81,88.84 556.14,87.92 556.47,88.21 556.80,84.88 557.13,88.21 557.47,88.44 557.80,86.79 558.13,87.84 558.46,89.14 558.79,86.73 559.13,88.31 559.46,89.32 559.79,87.76 560.12,87.63 560.46,88.46 560.79,87.49 561.12,87.40 561.45,89.08 561.78,90.24 562.12,90.60 562.45,88.44 562.78,87.16 563.11,87.41 563.44,87.06 563.78,86.65 564.11,88.46 564.44,87.48 564.77,90.01 565.11,87.90 565.44,88.21 565.77,88.72 566.10,89.08 566.43,89.76 566.77,88.58 567.10,87.51 567.43,89.13 567.76,88.30 568.09,89.48 568.43,88.63 568.76,89.87 569.09,88.57 569.42,89.17 569.76,88.69 570.09,89.61 570.42,90.19 570.75,89.40 571.08,88.11 571.42,87.62 571.75,89.49 572.08,88.43 572.41,88.50 572.74,88.89 573.08,90.80 573.41,89.01 573.74,90.29 574.07,88.25 574.41,88.66 574.74,88.85 575.07,91.93 575.40,88.91 575.73,88.86 576.07,90.80 576.40,88.66 576.73,89.55 577.06,89.83 577.39,90.38 577.73,90.70 578.06,90.17 578.39,86.79 578.72,89.61 579.06,89.64 579.39,90.49 579.72,90.49 580.05,90.46 580.38,90.81 580.72,89.14 581.05,90.28 581.38,89.21 581.71,91.19 582.05,89.21 582.38,90.16 582.71,89.52 583.04,90.29 583.37,91.08 583.71,89.08 584.04,90.70 584.37,90.45 584.70,91.19 585.03,90.17 585.37,90.77 585.70,90.15 586.03,90.12 586.36,91.15 586.70,91.88 587.03,90.13 587.36,89.69 587.69,89.93 588.02,91.74 588.36,90.08 588.69,90.32 589.02,90.44 589.35,90.33 589.68,91.09 590.02,90.60 590.35,89.94 590.68,91.35 591.01,92.28 591.35,91.02 591.68,90.76 592.01,92.76 592.34,91.66 592.67,90.47 593.01,91.21 593.34,91.01 593.67,92.34 594.00,90.28 594.33,89.49 594.67,91.40 595.00,91.95 595.33,92.38 595.66,90.43 596.00,91.22 596.33,92.12 596.66,90.21 596.99,90.67 597.32,90.86 597.66,93.17 597.99,91.59 598.32,90.92 598.65,92.73 598.98,90.68 599.32,90.23 599.65,90.64 599.98,92.36 600.31,92.38 600.65,90.81" fill="none" stroke="#22b022" stroke-width="1.3" stroke-linejoin="round"/>
<polyline points="446.86,125.24 447.19,124.50 447.52,124.02 447.86,124.77 448.19,124.57 448.52,125.46 448.85,122.42 449.19,120.48 449.52,122.64 449.85,122.17 450.18,120.60 450.51,120.38 450.85,121.59 451.18,120.48 451.51,120.38 451.84,116.90 452.17,119.08 452.51,117.10 452.84,115.62 453.17,115.18 453.50,115.19 453.84,114.54 454.17,116.86 454.50,115.56 454.83,115.48 455.16,114.62 455.50,111.37 455.83,115.10 456.16,112.51 456.49,113.81 456.82,110.90 457.16,110.52 457.49,111.85 457.82,108.94 458.15,110.45 458.49,108.85 458.82,109.41 459.15,109.84 459.48,109.27 459.81,108.61 460.15,107.50 460.48,107.58 460.81,105.03 461.14,107.11 461.47,106.99 461.81,106.85 462.14,106.52 462.47,106.78 462.80,105.96 463.14,103.76 463.47,104.21 463.80,104.06 464.13,103.19 464.46,102.13 464.80,102.20 465.13,101.69 465.46,102.62 465.79,101.98 466.12,102.12 466.46,101.11 466.79,101.46 467.12,100.68 467.45,100.15 467.79,99.84 468.12,99.55 468.45,99.43 468.78,97.36 469.11,98.62 469.45,98.93 469.78,97.44 470.11,98.35 470.44,98.01 470.77,96.57 471.11,97.94 471.44,99.12 471.77,95.42 472.10,94.38 472.44,96.68 472.77,95.63 473.10,93.89 473.43,96.06 473.76,94.68 474.10,94.70 474.43,93.43 474.76,94.84 475.09,91.78 475.42,92.49 475.76,91.76 476.09,92.08 476.42,93.52 476.75,91.33 477.09,92.20 477.42,90.61 477.75,91.16 478.08,90.36 478.41,89.98 478.75,88.76 479.08,88.49 479.41,89.93 479.74,88.70 480.08,87.00 480.41,87.67 480.74,88.59 481.07,87.74 481.40,87.69 481.74,86.19 482.07,86.80 482.40,86.22 482.73,84.19 483.06,87.40 483.40,86.80 483.73,87.24 484.06,86.86 484.39,84.24 484.73,84.54 485.06,83.00 485.39,86.25 485.72,84.95 486.05,82.46 486.39,82.63 486.72,82.53 487.05,82.31 487.38,82.88 487.71,82.69 488.05,82.42 488.38,81.41 488.71,82.15 489.04,81.46 489.38,80.14 489.71,82.41 490.04,81.83 490.37,80.34 490.70,80.92 491.04,80.60 491.37,78.20 491.70,79.62 492.03,80.21 492.36,78.53 492.70,76.95 493.03,80.25 493.36,79.61 493.69,78.65 494.03,79.17 494.36,76.25 494.69,77.64 495.02,78.33 495.35,77.27 495.69,78.32 496.02,77.94 496.35,77.06 496.68,74.66 497.01,78.94 497.35,76.17 497.68,75.08 498.01,75.48 498.34,74.15 498.68,75.39 499.01,75.50 499.34,75.58 499.67,76.10 500.00,73.51 500.34,76.05 500.67,74.85 501.00,75.05 501.33,75.13 501.66,76.34 502.00,74.39 502.33,73.71 502.66,73.53 502.99,72.68 503.33,73.49 503.66,73.78 503.99,72.69 504.32,72.18 504.65,73.53 504.99,73.96 505.32,73.32 505.65,71.14 505.98,71.04 506.31,72.70 506.65,71.57 506.98,70.71 507.31,70.08 507.64,71.84 507.98,71.28 508.31,69.53 508.64,68.41 508.97,69.11 509.30,71.54 509.64,69.85 509.97,70.43 510.30,70.04 510.63,70.48 510.96,70.16 511.30,69.56 511.63,67.66 511.96,68.58 512.29,68.70 512.63,68.95 512.96,69.56 513.29,68.91 513.62,67.35 513.95,67.61 514.29,66.38 514.62,67.88 514.95,68.02 515.28,69.43 515.62,67.35 515.95,69.26 516.28,65.99 516.61,67.94 516.94,67.20 517.28,68.38 517.61,67.42 517.94,67.72 518.27,65.59 518.60,66.32 518.94,67.58 519.27,68.18 519.60,66.25 519.93,66.53 520.27,67.01 520.60,65.25 520.93,65.88 521.26,65.47 521.59,66.03 521.93,65.89 522.26,65.67 522.59,66.65 522.92,64.38 523.25,64.48 523.59,66.46 523.92,64.75 524.25,63.78 524.58,64.72 524.92,63.75 525.25,65.31 525.58,65.10 525.91,66.41 526.24,66.08 526.58,67.02 526.91,66.18 527.24,65.13 527.57,64.91 527.90,64.34 528.24,65.39 528.57,66.53 528.90,65.20 529.23,65.81 529.57,64.00 529.90,63.88 530.23,64.90 530.56,66.97 530.89,66.43 531.23,65.79 531.56,66.72 531.89,65.57 532.22,65.47 532.55,65.37 532.89,66.01 533.22,67.14 533.55,67.15 533.88,66.50 534.22,65.15 534.55,64.96 534.88,65.59 535.21,66.23 535.54,65.98 535.88,65.89 536.21,65.49 536.54,65.96 536.87,68.32 537.20,65.97 537.54,66.56 537.87,67.43 538.20,66.53 538.53,66.81 538.87,67.19 539.20,68.82 539.53,67.13 539.86,66.75 540.19,67.38 540.53,68.92 540.86,66.99 541.19,66.79 541.52,67.36 541.85,67.17 542.19,67.97 542.52,68.32 542.85,67.23 543.18,68.12 543.52,67.66 543.85,64.74 544.18,67.24 544.51,67.85 544.84,69.60 545.18,67.98 545.51,67.39 545.84,68.86 546.17,68.45 546.51,70.45 546.84,67.79 547.17,68.95 547.50,67.76 547.83,67.15 548.17,68.67 548.50,67.62 548.83,68.37 549.16,68.86 549.49,68.98 549.83,69.58 550.16,67.57 550.49,68.01 550.82,69.88 551.16,68.14 551.49,69.71 551.82,70.51 552.15,67.94 552.48,70.38 552.82,68.05 553.15,69.05 553.48,68.42 553.81,68.85 554.14,68.27 554.48,69.10 554.81,68.93 555.14,69.29 555.47,68.52 555.81,70.01 556.14,68.69 556.47,68.27 556.80,69.83 557.13,69.39 557.47,70.36 557.80,70.19 558.13,69.71 558.46,70.34 558.79,70.91 559.13,70.13 559.46,69.97 559.79,69.89 560.12,69.56 560.46,72.01 560.79,68.98 561.12,70.55 561.45,71.18 561.78,70.84 562.12,70.10 562.45,69.73 562.78,70.98 563.11,70.52 563.44,72.26 563.78,70.60 564.11,70.92 564.44,71.27 564.77,70.05 565.11,69.22 565.44,70.00 565.77,71.80 566.10,69.61 566.43,71.46 566.77,71.22 567.10,71.79 567.43,70.84 567.76,70.79 568.09,71.23 568.43,71.62 568.76,71.60 569.09,71.90 569.42,70.62 569.76,72.10 570.09,71.79 570.42,71.89 570.75,72.46 571.08,72.00 571.42,73.25 571.75,71.48 572.08,71.40 572.41,72.26 572.74,70.52 573.08,72.85 573.41,71.57 573.74,71.69 574.07,72.71 574.41,72.47 574.74,71.43 575.07,72.27 575.40,72.11 575.73,71.08 576.07,72.26 576.40,74.12 576.73,73.27 577.06,71.80 577.39,72.78 577.73,73.73 578.06,74.64 578.39,72.48 578.72,71.39 579.06,74.08 579.39,75.01 579.72,72.49 580.05,73.53 580.38,73.34 580.72,73.41 581.05,74.01 581.38,72.77 581.71,72.35 582.05,72.93 582.38,73.86 582.71,72.37 583.04,73.52 583.37,72.90 583.71,74.40 584.04,72.92 584.37,72.88 584.70,72.40 585.03,73.65 585.37,73.30 585.70,74.32 586.03,72.97 586.36,73.11 586.70,72.87 587.03,74.32 587.36,75.16 587.69,74.10 588.02,74.28 588.36,74.84 588.69,73.59 589.02,73.30 589.35,73.88 589.68,73.24 590.02,73.96 590.35,75.32 590.68,74.99 591.01,74.81 591.35,73.86 591.68,73.68 592.01,74.47 592.34,73.68 592.67,75.48 593.01,74.84 593.34,73.35 593.67,74.40 594.00,73.87 594.33,76.71 594.67,76.55 595.00,75.82 595.33,74.08 595.66,73.53 596.00,75.71 596.33,76.11 596.66,76.18 596.99,76.10 597.32,74.77 597.66,75.64 597.99,73.59 598.32,74.74 598.65,76.12 598.98,75.29 599.32,75.70 599.65,74.84 599.98,74.78 600.31,76.01 600.65,74.87" fill="none" stroke="#1eaa1e" stroke-width="1.3" stroke-linejoin="round"/>
<polyline points="446.86,125.66 447.19,125.47 447.52,124.34 447.86,123.14 448.19,123.31 448.52,122.87 448.85,120.25 449.19,120.69 449.52,120.50 449.85,118.75 450.18,119.85 450.51,117.66 450.85,118.28 451.18,116.67 451.51,117.24 451.84,115.53 452.17,113.29 452.51,113.62 452.84,113.92 453.17,110.43 453.50,112.01 453.84,109.34 454.17,110.59 454.50,110.82 454.83,107.03 455.16,108.55 455.50,106.79 455.83,105.75 456.16,107.51 456.49,105.57 456.82,105.58 457.16,103.85 457.49,103.84 457.82,104.44 458.15,102.60 458.49,101.34 458.82,101.77 459.15,100.39 459.48,100.86 459.81,99.85 460.15,98.91 460.48,98.56 460.81,96.95 461.14,96.72 461.47,96.29 461.81,95.87 462.14,95.89 462.47,96.62 462.80,94.00 463.14,92.85 463.47,93.78 463.80,93.74 464.13,93.04 464.46,91.38 464.80,91.76 465.13,92.49 465.46,91.25 465.79,91.34 466.12,90.34 466.46,90.54 466.79,90.06 467.12,87.38 467.45,87.35 467.79,89.42 468.12,88.38 468.45,87.44 468.78,86.96 469.11,87.47 469.45,84.91 469.78,86.85 470.11,84.26 470.44,83.85 470.77,84.45 471.11,84.32 471.44,83.25 471.77,82.77 472.10,84.50 472.44,83.32 472.77,81.25 473.10,81.48 473.43,81.39 473.76,81.56 474.10,80.92 474.43,80.62 474.76,76.90 475.09,80.36 475.42,77.38 475.76,78.02 476.09,77.93 476.42,77.60 476.75,77.80 477.09,75.59 477.42,76.29 477.75,76.47 478.08,76.23 478.41,75.60 478.75,76.55 479.08,75.46 479.41,75.43 479.74,73.94 480.08,73.65 480.41,75.68 480.74,73.82 481.07,72.38 481.40,74.24 481.74,73.84 482.07,71.49 482.40,72.27 482.73,72.28 483.06,72.72 483.40,71.14 483.73,71.54 484.06,70.54 484.39,70.07 484.73,69.54 485.06,70.24 485.39,70.17 485.72,69.38 486.05,69.25 486.39,68.73 486.72,69.14 487.05,68.62 487.38,68.70 487.71,68.45 488.05,67.51 488.38,66.32 488.71,67.68 489.04,66.38 489.38,66.37 489.71,66.36 490.04,65.60 490.37,66.54 490.70,65.25 491.04,65.28 491.37,68.64 491.70,64.78 492.03,64.34 492.36,62.84 492.70,65.48 493.03,64.17 493.36,63.72 493.69,64.76 494.03,62.51 494.36,63.02 494.69,63.99 495.02,64.17 495.35,63.24 495.69,60.41 496.02,60.42 496.35,64.61 496.68,63.80 497.01,61.26 497.35,61.80 497.68,62.12 498.01,60.76 498.34,61.07 498.68,60.71 499.01,60.55 499.34,61.66 499.67,59.21 500.00,60.71 500.34,59.04 500.67,59.29 501.00,59.74 501.33,59.48 501.66,59.49 502.00,61.03 502.33,59.43 502.66,58.56 502.99,60.33 503.33,60.06 503.66,57.47 503.99,57.58 504.32,59.66 504.65,57.61 504.99,57.94 505.32,56.82 505.65,57.91 505.98,57.67 506.31,58.03 506.65,57.00 506.98,57.15 507.31,57.52 507.64,57.09 507.98,57.34 508.31,55.90 508.64,57.33 508.97,57.70 509.30,57.01 509.64,54.93 509.97,56.32 510.30,55.09 510.63,54.88 510.96,55.94 511.30,54.62 511.63,54.73 511.96,55.13 512.29,55.64 512.63,54.91 512.96,55.95 513.29,54.88 513.62,55.06 513.95,53.97 514.29,53.95 514.62,54.78 514.95,53.23 515.28,52.81 515.62,53.77 515.95,54.43 516.28,53.14 516.61,55.84 516.94,53.97 517.28,52.75 517.61,51.30 517.94,53.81 518.27,51.55 518.60,50.69 518.94,51.01 519.27,54.96 519.60,51.56 519.93,52.33 520.27,51.45 520.60,52.50 520.93,52.82 521.26,52.36 521.59,50.62 521.93,51.16 522.26,52.15 522.59,51.42 522.92,50.87 523.25,51.07 523.59,51.60 523.92,52.26 524.25,52.41 524.58,52.19 524.92,52.38 525.25,53.43 525.58,53.35 525.91,51.23 526.24,53.21 526.58,53.47 526.91,52.33 527.24,50.97 527.57,51.22 527.90,52.90 528.24,53.56 528.57,53.16 528.90,53.59 529.23,53.31 529.57,52.40 529.90,53.95 530.23,53.75 530.56,53.32 530.89,53.17 531.23,53.95 531.56,54.04 531.89,54.44 532.22,54.15 532.55,53.00 532.89,53.81 533.22,56.62 533.55,53.12 533.88,53.85 534.22,54.69 534.55,54.17 534.88,56.90 535.21,55.65 535.54,53.02 535.88,52.16 536.21,52.18 536.54,55.05 536.87,54.38 537.20,53.74 537.54,55.74 537.87,52.95 538.20,55.39 538.53,54.43 538.87,55.94 539.20,54.55 539.53,54.99 539.86,54.00 540.19,56.23 540.53,55.19 540.86,53.50 541.19,56.47 541.52,55.05 541.85,55.04 542.19,56.01 542.52,55.86 542.85,54.30 543.18,54.64 543.52,55.26 543.85,55.61 544.18,57.03 544.51,55.92 544.84,54.35 545.18,55.13 545.51,57.53 545.84,58.28 546.17,56.99 546.51,56.26 546.84,57.02 547.17,56.85 547.50,56.29 547.83,55.83 548.17,56.56 548.50,55.62 548.83,58.27 549.16,56.51 549.49,56.62 549.83,58.53 550.16,55.95 550.49,58.78 550.82,58.70 551.16,54.78 551.49,56.18 551.82,57.13 552.15,56.26 552.48,56.52 552.82,58.79 553.15,57.30 553.48,56.48 553.81,58.06 554.14,57.90 554.48,58.48 554.81,57.39 555.14,58.70 555.47,58.80 555.81,59.49 556.14,59.26 556.47,58.22 556.80,58.04 557.13,58.94 557.47,59.65 557.80,58.36 558.13,58.41 558.46,57.59 558.79,59.37 559.13,59.36 559.46,58.53 559.79,57.61 560.12,59.20 560.46,59.30 560.79,60.20 561.12,59.72 561.45,58.50 561.78,58.65 562.12,58.46 562.45,61.20 562.78,58.86 563.11,60.64 563.44,59.23 563.78,62.17 564.11,60.03 564.44,60.86 564.77,58.82 565.11,60.01 565.44,58.93 565.77,60.68 566.10,58.41 566.43,60.82 566.77,58.60 567.10,60.99 567.43,61.53 567.76,59.77 568.09,61.09 568.43,60.82 568.76,62.14 569.09,61.23 569.42,60.85 569.76,61.71 570.09,60.70 570.42,63.39 570.75,60.34 571.08,61.67 571.42,59.91 571.75,61.74 572.08,62.11 572.41,61.97 572.74,61.32 573.08,61.07 573.41,62.17 573.74,62.56 574.07,61.42 574.41,61.10 574.74,63.67 575.07,63.05 575.40,62.75 575.73,60.49 576.07,61.02 576.40,61.50 576.73,61.86 577.06,63.50 577.39,61.37 577.73,62.96 578.06,63.37 578.39,60.76 578.72,64.13 579.06,61.43 579.39,62.64 579.72,63.80 580.05,62.79 580.38,63.85 580.72,62.90 581.05,63.78 581.38,64.37 581.71,60.67 582.05,63.82 582.38,62.43 582.71,63.50 583.04,62.85 583.37,64.81 583.71,64.66 584.04,66.90 584.37,62.78 584.70,63.38 585.03,65.03 585.37,63.12 585.70,63.42 586.03,61.20 586.36,63.89 586.70,63.29 587.03,63.64 587.36,63.55 587.69,64.39 588.02,64.83 588.36,63.79 588.69,63.34 589.02,65.75 589.35,65.78 589.68,64.76 590.02,63.02 590.35,65.05 590.68,66.57 591.01,64.17 591.35,64.28 591.68,63.18 592.01,64.96 592.34,63.27 592.67,65.97 593.01,64.44 593.34,65.25 593.67,66.61 594.00,65.77 594.33,64.26 594.67,64.52 595.00,66.04 595.33,64.65 595.66,64.91 596.00,64.97 596.33,65.63 596.66,65.67 596.99,66.84 597.32,66.15 597.66,66.02 597.99,66.92 598.32,66.54 598.65,66.16 598.98,66.17 599.32,65.40 599.65,67.50 599.98,66.94 600.31,66.35 600.65,67.04" fill="none" stroke="#1e7d1e" stroke-width="1.3" stroke-linejoin="round"/>
<polyline points="446.86,125.87 447.19,125.40 447.52,122.55 447.86,122.70 448.19,122.39 448.52,119.37 448.85,117.31 449.19,119.67 449.52,116.79 449.85,115.48 450.18,113.45 450.51,111.92 450.85,112.48 451.18,112.80 451.51,109.60 451.84,108.26 452.17,107.79 452.51,107.19 452.84,107.10 453.17,102.97 453.50,105.59 453.84,104.97 454.17,101.64 454.50,101.42 454.83,100.16 455.16,99.61 455.50,97.46 455.83,96.87 456.16,97.98 456.49,95.65 456.82,96.98 457.16,96.71 457.49,93.09 457.82,93.92 458.15,94.85 458.49,92.03 458.82,91.93 459.15,90.07 459.48,89.91 459.81,89.91 460.15,89.17 460.48,87.05 460.81,88.05 461.14,86.36 461.47,86.81 461.81,84.77 462.14,82.84 462.47,83.42 462.80,82.28 463.14,82.33 463.47,83.13 463.80,81.91 464.13,80.97 464.46,80.06 464.80,80.52 465.13,78.79 465.46,79.56 465.79,78.27 466.12,77.83 466.46,78.43 466.79,75.83 467.12,76.27 467.45,75.72 467.79,75.38 468.12,76.93 468.45,75.78 468.78,74.83 469.11,72.54 469.45,73.63 469.78,72.04 470.11,73.21 470.44,72.61 470.77,71.83 471.11,69.92 471.44,72.17 471.77,70.33 472.10,69.37 472.44,69.25 472.77,69.02 473.10,67.87 473.43,67.99 473.76,68.89 474.10,66.93 474.43,67.96 474.76,67.19 475.09,65.10 475.42,63.80 475.76,64.44 476.09,65.11 476.42,65.97 476.75,65.64 477.09,62.97 477.42,63.96 477.75,65.34 478.08,62.16 478.41,62.83 478.75,61.83 479.08,62.44 479.41,64.66 479.74,63.00 480.08,62.15 480.41,61.91 480.74,60.02 481.07,61.89 481.40,61.08 481.74,60.79 482.07,60.58 482.40,61.26 482.73,61.20 483.06,62.29 483.40,59.23 483.73,59.52 484.06,58.90 484.39,59.91 484.73,58.66 485.06,59.40 485.39,59.23 485.72,57.71 486.05,57.22 486.39,57.07 486.72,57.48 487.05,57.62 487.38,55.69 487.71,55.66 488.05,57.30 488.38,57.56 488.71,55.96 489.04,55.84 489.38,56.86 489.71,53.58 490.04,57.67 490.37,56.28 490.70,55.07 491.04,54.18 491.37,56.79 491.70,55.26 492.03,53.28 492.36,53.16 492.70,54.63 493.03,54.20 493.36,54.95 493.69,53.56 494.03,54.83 494.36,55.65 494.69,55.02 495.02,53.35 495.35,54.56 495.69,52.06 496.02,51.77 496.35,51.92 496.68,52.13 497.01,51.54 497.35,52.27 497.68,51.57 498.01,51.84 498.34,51.42 498.68,53.06 499.01,52.60 499.34,52.82 499.67,50.94 500.00,51.15 500.34,52.30 500.67,52.39 501.00,51.89 501.33,50.38 501.66,51.25 502.00,51.27 502.33,51.62 502.66,50.97 502.99,49.21 503.33,51.34 503.66,50.93 503.99,48.84 504.32,49.71 504.65,51.43 504.99,49.18 505.32,51.39 505.65,49.53 505.98,52.46 506.31,50.89 506.65,48.95 506.98,50.35 507.31,50.40 507.64,49.57 507.98,49.54 508.31,49.93 508.64,50.06 508.97,47.59 509.30,47.81 509.64,48.88 509.97,50.25 510.30,49.58 510.63,49.29 510.96,48.47 511.30,47.32 511.63,49.33 511.96,48.62 512.29,49.12 512.63,48.51 512.96,49.26 513.29,48.16 513.62,47.34 513.95,48.80 514.29,48.68 514.62,48.20 514.95,49.54 515.28,46.45 515.62,49.46 515.95,48.46 516.28,48.92 516.61,46.55 516.94,48.44 517.28,48.41 517.61,46.03 517.94,47.94 518.27,48.54 518.60,47.74 518.94,47.50 519.27,48.38 519.60,47.79 519.93,47.77 520.27,46.82 520.60,46.74 520.93,46.64 521.26,47.53 521.59,46.59 521.93,47.54 522.26,46.17 522.59,46.87 522.92,47.64 523.25,45.99 523.59,48.65 523.92,48.21 524.25,48.13 524.58,47.57 524.92,48.73 525.25,48.79 525.58,49.54 525.91,47.68 526.24,48.62 526.58,45.83 526.91,47.30 527.24,49.25 527.57,46.94 527.90,48.20 528.24,47.35 528.57,49.56 528.90,47.44 529.23,47.58 529.57,49.14 529.90,49.65 530.23,49.28 530.56,48.74 530.89,46.74 531.23,47.40 531.56,47.79 531.89,49.55 532.22,49.74 532.55,49.15 532.89,49.85 533.22,50.13 533.55,49.96 533.88,49.02 534.22,49.99 534.55,49.78 534.88,50.35 535.21,50.37 535.54,50.58 535.88,49.12 536.21,50.20 536.54,49.06 536.87,50.76 537.20,49.65 537.54,52.11 537.87,51.24 538.20,50.99 538.53,51.63 538.87,51.21 539.20,52.08 539.53,51.42 539.86,51.99 540.19,51.43 540.53,51.80 540.86,52.56 541.19,52.07 541.52,51.73 541.85,53.08 542.19,51.83 542.52,50.79 542.85,52.31 543.18,51.63 543.52,51.64 543.85,53.11 544.18,51.13 544.51,50.05 544.84,53.57 545.18,50.57 545.51,53.43 545.84,51.40 546.17,54.66 546.51,51.88 546.84,52.93 547.17,54.39 547.50,54.02 547.83,54.32 548.17,54.26 548.50,53.10 548.83,53.72 549.16,56.06 549.49,54.01 549.83,53.33 550.16,53.78 550.49,52.30 550.82,55.81 551.16,53.87 551.49,54.15 551.82,53.56 552.15,55.65 552.48,55.69 552.82,54.67 553.15,54.51 553.48,56.42 553.81,54.38 554.14,54.82 554.48,54.18 554.81,57.51 555.14,54.57 555.47,56.00 555.81,55.68 556.14,54.53 556.47,53.73 556.80,55.30 557.13,55.63 557.47,54.33 557.80,56.55 558.13,55.91 558.46,56.33 558.79,56.87 559.13,55.80 559.46,54.09 559.79,55.91 560.12,55.74 560.46,56.33 560.79,55.28 561.12,56.28 561.45,57.39 561.78,56.51 562.12,55.29 562.45,56.85 562.78,55.67 563.11,56.99 563.44,55.02 563.78,56.80 564.11,56.51 564.44,57.50 564.77,56.49 565.11,57.59 565.44,58.89 565.77,57.23 566.10,58.78 566.43,56.24 566.77,56.98 567.10,57.81 567.43,57.23 567.76,60.50 568.09,56.56 568.43,58.76 568.76,57.55 569.09,55.79 569.42,59.93 569.76,58.83 570.09,58.17 570.42,58.17 570.75,60.30 571.08,59.64 571.42,57.36 571.75,59.46 572.08,58.41 572.41,60.36 572.74,59.99 573.08,60.95 573.41,58.99 573.74,58.20 574.07,59.31 574.41,59.74 574.74,59.31 575.07,59.16 575.40,59.97 575.73,59.23 576.07,57.94 576.40,57.75 576.73,60.54 577.06,61.28 577.39,58.27 577.73,59.25 578.06,59.09 578.39,59.76 578.72,60.64 579.06,59.55 579.39,59.48 579.72,59.50 580.05,61.77 580.38,59.78 580.72,61.20 581.05,61.28 581.38,60.66 581.71,61.41 582.05,58.89 582.38,60.67 582.71,61.03 583.04,61.54 583.37,61.19 583.71,61.73 584.04,61.01 584.37,60.81 584.70,60.90 585.03,63.01 585.37,62.18 585.70,61.85 586.03,63.19 586.36,61.70 586.70,62.28 587.03,62.16 587.36,61.91 587.69,62.96 588.02,60.91 588.36,61.49 588.69,63.10 589.02,62.18 589.35,61.98 589.68,63.52 590.02,63.19 590.35,62.24 590.68,65.49 591.01,64.34 591.35,62.81 591.68,62.59 592.01,64.16 592.34,62.50 592.67,61.25 593.01,63.27 593.34,63.58 593.67,63.54 594.00,64.66 594.33,63.21 594.67,63.64 595.00,63.16 595.33,62.57 595.66,63.99 596.00,63.92 596.33,63.84 596.66,62.54 596.99,65.71 597.32,64.37 597.66,65.04 597.99,64.38 598.32,63.76 598.65,64.57 598.98,63.99 599.32,64.59 599.65,65.53 599.98,65.55 600.31,66.32 600.65,64.83" fill="none" stroke="#15701a" stroke-width="1.3" stroke-linejoin="round"/>
<polyline points="446.86,126.20 447.19,122.65 447.52,119.90 447.86,119.15 448.19,116.89 448.52,112.87 448.85,112.01 449.19,108.73 449.52,106.20 449.85,105.09 450.18,100.97 450.51,101.51 450.85,98.47 451.18,97.47 451.51,98.11 451.84,93.78 452.17,92.13 452.51,89.82 452.84,88.98 453.17,88.08 453.50,86.44 453.84,84.84 454.17,82.47 454.50,82.18 454.83,79.46 455.16,78.61 455.50,78.99 455.83,76.14 456.16,78.24 456.49,74.96 456.82,74.91 457.16,73.07 457.49,70.89 457.82,71.09 458.15,70.35 458.49,68.08 458.82,69.23 459.15,68.48 459.48,65.95 459.81,65.54 460.15,66.79 460.48,64.55 460.81,63.25 461.14,63.51 461.47,63.10 461.81,61.96 462.14,61.28 462.47,61.59 462.80,59.54 463.14,61.34 463.47,59.36 463.80,56.70 464.13,59.32 464.46,57.85 464.80,59.56 465.13,57.72 465.46,57.60 465.79,56.01 466.12,56.15 466.46,53.50 466.79,55.80 467.12,54.57 467.45,53.98 467.79,53.23 468.12,52.66 468.45,54.72 468.78,50.77 469.11,52.90 469.45,53.01 469.78,53.63 470.11,52.20 470.44,53.22 470.77,51.07 471.11,51.59 471.44,50.46 471.77,51.31 472.10,50.25 472.44,47.95 472.77,48.77 473.10,49.55 473.43,50.47 473.76,47.91 474.10,50.78 474.43,50.34 474.76,47.54 475.09,49.21 475.42,47.17 475.76,47.76 476.09,46.06 476.42,46.29 476.75,47.32 477.09,48.36 477.42,47.05 477.75,46.13 478.08,47.24 478.41,50.06 478.75,47.50 479.08,47.38 479.41,46.97 479.74,47.15 480.08,45.60 480.41,47.84 480.74,46.09 481.07,48.35 481.40,48.45 481.74,47.23 482.07,46.90 482.40,46.96 482.73,46.69 483.06,45.34 483.40,45.30 483.73,45.71 484.06,45.53 484.39,46.32 484.73,46.54 485.06,46.90 485.39,45.86 485.72,46.50 486.05,45.66 486.39,44.59 486.72,44.70 487.05,43.90 487.38,46.03 487.71,47.21 488.05,46.11 488.38,43.06 488.71,44.26 489.04,45.32 489.38,43.58 489.71,45.21 490.04,43.15 490.37,45.12 490.70,45.09 491.04,43.98 491.37,45.73 491.70,44.75 492.03,42.68 492.36,44.10 492.70,45.56 493.03,44.70 493.36,44.45 493.69,45.13 494.03,43.97 494.36,43.13 494.69,44.27 495.02,43.43 495.35,43.98 495.69,44.10 496.02,44.94 496.35,43.26 496.68,42.86 497.01,44.58 497.35,44.97 497.68,43.59 498.01,43.98 498.34,42.97 498.68,43.56 499.01,44.14 499.34,45.34 499.67,43.38 500.00,43.87 500.34,45.17 500.67,45.37 501.00,45.68 501.33,43.29 501.66,44.30 502.00,47.08 502.33,44.70 502.66,44.45 502.99,43.92 503.33,43.77 503.66,44.11 503.99,43.05 504.32,42.77 504.65,43.96 504.99,42.20 505.32,43.84 505.65,44.54 505.98,43.54 506.31,45.07 506.65,43.96 506.98,44.68 507.31,44.06 507.64,43.44 507.98,45.99 508.31,43.23 508.64,43.35 508.97,43.80 509.30,42.89 509.64,43.24 509.97,43.91 510.30,44.52 510.63,42.83 510.96,42.79 511.30,44.95 511.63,44.22 511.96,44.65 512.29,42.69 512.63,44.04 512.96,44.68 513.29,42.00 513.62,43.02 513.95,43.22 514.29,43.20 514.62,43.60 514.95,43.39 515.28,42.55 515.62,42.98 515.95,43.84 516.28,43.30 516.61,41.57 516.94,43.91 517.28,44.64 517.61,43.25 517.94,44.46 518.27,40.80 518.60,42.73 518.94,42.76 519.27,42.96 519.60,41.40 519.93,44.29 520.27,43.35 520.60,44.91 520.93,42.08 521.26,43.35 521.59,41.56 521.93,43.53 522.26,44.27 522.59,43.93 522.92,42.46 523.25,44.03 523.59,43.00 523.92,44.05 524.25,44.13 524.58,44.08 524.92,42.06 525.25,44.77 525.58,43.51 525.91,43.13 526.24,44.73 526.58,45.57 526.91,42.74 527.24,42.61 527.57,44.63 527.90,45.64 528.24,43.73 528.57,44.70 528.90,45.56 529.23,45.23 529.57,47.27 529.90,45.83 530.23,46.31 530.56,46.51 530.89,44.75 531.23,45.15 531.56,43.85 531.89,48.21 532.22,46.34 532.55,46.60 532.89,44.58 533.22,44.96 533.55,45.94 533.88,46.06 534.22,46.97 534.55,46.84 534.88,46.86 535.21,48.97 535.54,44.76 535.88,45.98 536.21,44.76 536.54,45.68 536.87,46.49 537.20,46.25 537.54,48.80 537.87,48.23 538.20,46.50 538.53,47.79 538.87,49.09 539.20,47.62 539.53,48.95 539.86,47.78 540.19,46.35 540.53,49.07 540.86,48.49 541.19,47.61 541.52,48.26 541.85,48.14 542.19,49.23 542.52,48.83 542.85,50.91 543.18,48.85 543.52,47.51 543.85,49.95 544.18,49.13 544.51,48.34 544.84,47.93 545.18,48.07 545.51,50.16 545.84,49.79 546.17,47.76 546.51,50.02 546.84,49.37 547.17,50.56 547.50,50.47 547.83,52.81 548.17,50.53 548.50,52.24 548.83,51.17 549.16,51.22 549.49,49.03 549.83,49.69 550.16,50.13 550.49,51.12 550.82,52.06 551.16,50.31 551.49,51.68 551.82,51.07 552.15,50.12 552.48,51.31 552.82,51.24 553.15,52.27 553.48,50.36 553.81,50.95 554.14,50.86 554.48,50.05 554.81,53.32 555.14,51.79 555.47,51.27 555.81,51.66 556.14,51.77 556.47,51.70 556.80,53.74 557.13,52.40 557.47,51.27 557.80,52.54 558.13,52.77 558.46,51.83 558.79,54.46 559.13,52.44 559.46,51.43 559.79,53.25 560.12,53.89 560.46,52.65 560.79,53.69 561.12,54.13 561.45,53.25 561.78,55.12 562.12,52.92 562.45,54.84 562.78,54.29 563.11,53.12 563.44,53.94 563.78,53.74 564.11,52.73 564.44,52.67 564.77,52.20 565.11,54.86 565.44,53.51 565.77,56.11 566.10,53.79 566.43,53.38 566.77,55.45 567.10,54.36 567.43,54.08 567.76,55.14 568.09,55.69 568.43,53.67 568.76,56.52 569.09,55.14 569.42,54.45 569.76,55.24 570.09,54.00 570.42,54.18 570.75,55.25 571.08,54.05 571.42,55.13 571.75,57.16 572.08,56.35 572.41,55.85 572.74,56.00 573.08,57.93 573.41,54.10 573.74,57.96 574.07,57.62 574.41,56.15 574.74,56.47 575.07,55.25 575.40,56.61 575.73,56.54 576.07,56.27 576.40,57.78 576.73,58.41 577.06,57.68 577.39,56.31 577.73,57.66 578.06,56.23 578.39,58.08 578.72,56.88 579.06,57.67 579.39,56.95 579.72,57.84 580.05,57.73 580.38,58.46 580.72,56.86 581.05,58.20 581.38,57.75 581.71,57.68 582.05,59.27 582.38,59.29 582.71,58.59 583.04,57.38 583.37,59.74 583.71,59.78 584.04,59.83 584.37,59.32 584.70,60.06 585.03,59.89 585.37,58.65 585.70,60.31 586.03,59.33 586.36,60.55 586.70,59.67 587.03,59.04 587.36,61.59 587.69,59.65 588.02,59.56 588.36,59.91 588.69,59.68 589.02,59.60 589.35,61.35 589.68,60.28 590.02,59.60 590.35,59.04 590.68,61.71 591.01,61.04 591.35,61.87 591.68,60.62 592.01,61.73 592.34,61.72 592.67,60.08 593.01,58.71 593.34,63.00 593.67,59.45 594.00,62.03 594.33,60.54 594.67,60.93 595.00,60.14 595.33,61.63 595.66,62.31 596.00,61.63 596.33,60.88 596.66,62.59 596.99,61.40 597.32,61.87 597.66,61.77 597.99,62.01 598.32,61.50 598.65,61.38 598.98,62.52 599.32,62.65 599.65,64.48 599.98,63.31 600.31,64.02 600.65,61.94" fill="none" stroke="#116a11" stroke-width="1.3" stroke-linejoin="round"/>
<polyline points="446.86,126.20 447.19,122.19 447.52,116.56 447.86,111.92 448.19,107.77 448.52,106.08 448.85,101.52 449.19,97.41 449.52,96.18 449.85,92.65 450.18,90.86 450.51,87.70 450.85,83.94 451.18,82.23 451.51,80.50 451.84,78.64 452.17,74.69 452.51,73.61 452.84,73.84 453.17,68.90 453.50,69.90 453.84,68.21 454.17,67.19 454.50,65.99 454.83,63.60 455.16,64.51 455.50,61.99 455.83,61.34 456.16,58.37 456.49,58.79 456.82,57.90 457.16,57.01 457.49,56.20 457.82,55.95 458.15,57.78 458.49,54.35 458.82,54.48 459.15,52.92 459.48,52.78 459.81,53.11 460.15,52.97 460.48,52.65 460.81,50.96 461.14,50.94 461.47,51.33 461.81,50.46 462.14,49.43 462.47,50.10 462.80,49.28 463.14,49.47 463.47,51.13 463.80,48.26 464.13,48.05 464.46,47.10 464.80,46.40 465.13,48.18 465.46,46.70 465.79,46.83 466.12,46.85 466.46,45.95 466.79,45.75 467.12,47.69 467.45,44.88 467.79,46.36 468.12,46.71 468.45,46.61 468.78,46.05 469.11,46.81 469.45,44.56 469.78,45.10 470.11,46.30 470.44,44.54 470.77,45.03 471.11,45.09 471.44,44.16 471.77,45.11 472.10,45.21 472.44,44.40 472.77,46.60 473.10,45.93 473.43,44.21 473.76,43.61 474.10,46.23 474.43,44.53 474.76,45.14 475.09,44.72 475.42,43.81 475.76,42.90 476.09,42.59 476.42,43.35 476.75,43.60 477.09,44.05 477.42,45.97 477.75,43.73 478.08,45.24 478.41,45.13 478.75,43.90 479.08,45.51 479.41,42.23 479.74,43.33 480.08,43.53 480.41,43.39 480.74,43.60 481.07,43.74 481.40,43.09 481.74,44.40 482.07,43.46 482.40,43.53 482.73,42.92 483.06,44.72 483.40,43.38 483.73,43.73 484.06,42.96 484.39,43.03 484.73,43.35 485.06,43.06 485.39,43.06 485.72,42.14 486.05,43.15 486.39,42.90 486.72,44.31 487.05,43.58 487.38,42.61 487.71,42.32 488.05,44.27 488.38,43.34 488.71,43.54 489.04,43.21 489.38,43.71 489.71,43.63 490.04,43.26 490.37,43.06 490.70,42.18 491.04,43.97 491.37,44.06 491.70,42.34 492.03,42.60 492.36,43.25 492.70,44.17 493.03,42.01 493.36,44.06 493.69,41.90 494.03,42.74 494.36,43.11 494.69,43.11 495.02,42.13 495.35,42.90 495.69,44.57 496.02,43.55 496.35,44.93 496.68,42.45 497.01,41.92 497.35,41.80 497.68,44.09 498.01,40.71 498.34,40.98 498.68,42.84 499.01,44.64 499.34,43.54 499.67,41.67 500.00,40.66 500.34,43.16 500.67,44.41 501.00,43.55 501.33,40.74 501.66,42.58 502.00,43.92 502.33,44.57 502.66,41.90 502.99,41.72 503.33,42.95 503.66,42.66 503.99,42.38 504.32,42.77 504.65,42.95 504.99,42.96 505.32,42.96 505.65,41.17 505.98,41.96 506.31,41.34 506.65,40.53 506.98,44.51 507.31,42.34 507.64,41.34 507.98,42.45 508.31,42.81 508.64,41.83 508.97,42.71 509.30,42.99 509.64,42.46 509.97,42.09 510.30,42.12 510.63,41.24 510.96,42.07 511.30,42.53 511.63,39.11 511.96,42.26 512.29,42.28 512.63,42.15 512.96,42.67 513.29,43.50 513.62,41.77 513.95,40.52 514.29,43.68 514.62,42.64 514.95,41.47 515.28,42.53 515.62,41.34 515.95,41.88 516.28,42.88 516.61,42.01 516.94,42.28 517.28,41.24 517.61,44.21 517.94,41.33 518.27,40.42 518.60,41.55 518.94,41.45 519.27,42.18 519.60,41.32 519.93,41.77 520.27,42.85 520.60,42.74 520.93,43.82 521.26,41.14 521.59,41.38 521.93,40.47 522.26,41.26 522.59,40.82 522.92,42.77 523.25,43.27 523.59,42.02 523.92,41.88 524.25,41.31 524.58,41.89 524.92,42.01 525.25,41.91 525.58,41.80 525.91,41.95 526.24,41.93 526.58,42.82 526.91,42.52 527.24,43.95 527.57,43.70 527.90,42.98 528.24,42.40 528.57,43.64 528.90,44.37 529.23,42.17 529.57,44.00 529.90,44.96 530.23,44.32 530.56,44.63 530.89,45.92 531.23,44.04 531.56,42.13 531.89,44.58 532.22,44.75 532.55,42.94 532.89,44.05 533.22,44.33 533.55,43.01 533.88,45.56 534.22,44.57 534.55,44.12 534.88,44.50 535.21,45.93 535.54,45.79 535.88,43.26 536.21,45.16 536.54,45.42 536.87,44.22 537.20,47.08 537.54,45.50 537.87,47.24 538.20,44.28 538.53,46.68 538.87,45.70 539.20,46.79 539.53,45.87 539.86,45.78 540.19,46.17 540.53,46.58 540.86,46.12 541.19,46.68 541.52,47.03 541.85,46.02 542.19,45.90 542.52,48.12 542.85,47.88 543.18,47.75 543.52,46.80 543.85,48.53 544.18,45.77 544.51,47.32 544.84,47.30 545.18,46.69 545.51,48.35 545.84,47.36 546.17,47.41 546.51,46.65 546.84,49.00 547.17,46.74 547.50,47.59 547.83,48.01 548.17,47.31 548.50,48.67 548.83,48.71 549.16,47.80 549.49,49.04 549.83,47.74 550.16,47.55 550.49,48.75 550.82,48.88 551.16,49.76 551.49,50.11 551.82,47.92 552.15,50.40 552.48,49.41 552.82,49.29 553.15,50.53 553.48,50.41 553.81,50.52 554.14,47.88 554.48,49.65 554.81,48.76 555.14,48.22 555.47,49.29 555.81,49.09 556.14,50.87 556.47,51.19 556.80,49.22 557.13,49.29 557.47,51.77 557.80,49.77 558.13,50.67 558.46,50.27 558.79,50.20 559.13,49.38 559.46,51.90 559.79,51.38 560.12,50.25 560.46,51.80 560.79,51.11 561.12,51.80 561.45,53.45 561.78,52.43 562.12,51.13 562.45,52.59 562.78,53.63 563.11,52.71 563.44,52.22 563.78,51.93 564.11,52.16 564.44,52.06 564.77,53.67 565.11,53.31 565.44,53.56 565.77,53.33 566.10,52.56 566.43,51.78 566.77,53.38 567.10,52.21 567.43,52.25 567.76,54.51 568.09,54.27 568.43,53.42 568.76,54.98 569.09,51.93 569.42,55.62 569.76,55.08 570.09,53.23 570.42,54.78 570.75,53.46 571.08,55.18 571.42,53.29 571.75,54.95 572.08,53.77 572.41,53.58 572.74,56.08 573.08,55.57 573.41,56.48 573.74,55.95 574.07,54.07 574.41,55.07 574.74,54.30 575.07,53.83 575.40,54.29 575.73,54.67 576.07,55.86 576.40,55.90 576.73,55.30 577.06,54.85 577.39,54.72 577.73,55.56 578.06,56.21 578.39,56.08 578.72,54.48 579.06,55.90 579.39,54.32 579.72,57.01 580.05,55.56 580.38,56.27 580.72,55.83 581.05,57.37 581.38,56.40 581.71,56.86 582.05,57.15 582.38,58.11 582.71,58.40 583.04,57.44 583.37,56.67 583.71,57.02 584.04,57.12 584.37,57.12 584.70,58.81 585.03,56.56 585.37,57.60 585.70,58.47 586.03,58.35 586.36,56.95 586.70,57.79 587.03,59.66 587.36,56.11 587.69,59.64 588.02,56.64 588.36,57.55 588.69,59.41 589.02,57.32 589.35,57.39 589.68,57.67 590.02,58.13 590.35,58.52 590.68,58.70 591.01,59.50 591.35,58.80 591.68,57.90 592.01,59.31 592.34,57.39 592.67,60.86 593.01,59.41 593.34,60.94 593.67,61.28 594.00,59.42 594.33,60.06 594.67,60.35 595.00,60.92 595.33,60.20 595.66,61.61 596.00,60.31 596.33,60.71 596.66,61.48 596.99,59.95 597.32,62.21 597.66,60.09 597.99,60.32 598.32,60.14 598.65,60.60 598.98,60.03 599.32,61.13 599.65,61.99 599.98,60.66 600.31,61.86 600.65,61.52" fill="none" stroke="#0d640d" stroke-width="1.3" stroke-linejoin="round"/>
<polyline points="446.86,126.73 447.37,119.94 447.88,113.72 448.39,108.03 448.90,102.81 449.42,98.03 449.93,93.66 450.44,89.65 450.95,85.98 451.46,82.62 451.97,79.54 452.48,76.71 452.99,74.13 453.50,71.76 454.01,69.59 454.53,67.60 455.04,65.77 455.55,64.10 456.06,62.57 456.57,61.16 457.08,59.87 457.59,58.69 458.10,57.60 458.61,56.61 459.12,55.70 459.63,54.86 460.15,54.09 460.66,53.38 461.17,52.73 461.68,52.13 462.19,51.59 462.70,51.08 463.21,50.62 463.72,50.19 464.23,49.80 464.75,49.44 465.26,49.10 465.77,48.79 466.28,48.51 466.79,48.25 467.30,48.01 467.81,47.78 468.32,47.57 468.83,47.38 469.34,47.21 469.86,47.04 470.37,46.89 470.88,46.74 471.39,46.61 471.90,46.49 472.41,46.37 472.92,46.26 473.43,46.16 473.94,46.07 474.45,45.98 474.97,45.89 475.48,45.82 475.99,45.74 476.50,45.67 477.01,45.60 477.52,45.54 478.03,45.48 478.54,45.42 479.05,45.37 479.56,45.32 480.07,45.27 480.59,45.22 481.10,45.17 481.61,45.13 482.12,45.08 482.63,45.04 483.14,45.00 483.65,44.96 484.16,44.93 484.67,44.89 485.19,44.85 485.70,44.82 486.21,44.78 486.72,44.75 487.23,44.72 487.74,44.68 488.25,44.65 488.76,44.62 489.27,44.59 489.78,44.56 490.30,44.53 490.81,44.50 491.32,44.47 491.83,44.44 492.34,44.41 492.85,44.38 493.36,44.35 493.87,44.32 494.38,44.29 494.89,44.27 495.41,44.24 495.92,44.21 496.43,44.18 496.94,44.15 497.45,44.13 497.96,44.10 498.47,44.07 498.98,44.04 499.49,44.02 500.00,43.99 500.51,43.96 501.03,43.94 501.54,43.91 502.05,43.88 502.56,43.86 503.07,43.83 503.58,43.80 504.09,43.77 504.60,43.75 505.11,43.72 505.62,43.69 506.14,43.67 506.65,43.64 507.16,43.62 507.67,43.59 508.18,43.56 508.69,43.54 509.20,43.51 509.71,43.48 510.22,43.46 510.74,43.43 511.25,43.40 511.76,43.38 512.27,43.35 512.78,43.32 513.29,43.30 513.80,43.27 514.31,43.24 514.82,43.22 515.33,43.19 515.85,43.17 516.36,43.14 516.87,43.11 517.38,43.09 517.89,43.06 518.40,43.03 518.91,43.01 519.42,42.98 519.93,42.95 520.44,42.93 520.96,42.90 521.47,42.88 521.98,42.85 522.49,42.82 523.00,42.80 523.51,42.77 524.02,42.92 524.53,43.08 525.04,43.23 525.55,43.38 526.07,43.53 526.58,43.69 527.09,43.84 527.60,43.99 528.11,44.14 528.62,44.29 529.13,44.44 529.64,44.59 530.15,44.74 530.66,44.89 531.17,45.04 531.69,45.19 532.20,45.34 532.71,45.49 533.22,45.64 533.73,45.79 534.24,45.94 534.75,46.08 535.26,46.23 535.77,46.38 536.28,46.53 536.80,46.67 537.31,46.82 537.82,46.96 538.33,47.11 538.84,47.26 539.35,47.40 539.86,47.55 540.37,47.69 540.88,47.84 541.39,47.98 541.91,48.12 542.42,48.27 542.93,48.41 543.44,48.55 543.95,48.70 544.46,48.84 544.97,48.98 545.48,49.12 545.99,49.27 546.50,49.41 547.02,49.55 547.53,49.69 548.04,49.83 548.55,49.97 549.06,50.11 549.57,50.25 550.08,50.39 550.59,50.53 551.10,50.67 551.62,50.81 552.13,50.95 552.64,51.09 553.15,51.23 553.66,51.36 554.17,51.50 554.68,51.64 555.19,51.78 555.70,51.91 556.21,52.05 556.73,52.19 557.24,52.32 557.75,52.46 558.26,52.60 558.77,52.73 559.28,52.87 559.79,53.00 560.30,53.14 560.81,53.27 561.32,53.41 561.84,53.54 562.35,53.67 562.86,53.81 563.37,53.94 563.88,54.07 564.39,54.21 564.90,54.34 565.41,54.47 565.92,54.60 566.43,54.74 566.95,54.87 567.46,55.00 567.97,55.13 568.48,55.26 568.99,55.39 569.50,55.52 570.01,55.65 570.52,55.78 571.03,55.91 571.54,56.04 572.06,56.17 572.57,56.30 573.08,56.43 573.59,56.56 574.10,56.68 574.61,56.81 575.12,56.94 575.63,57.07 576.14,57.20 576.65,57.32 577.16,57.45 577.68,57.58 578.19,57.70 578.70,57.83 579.21,57.96 579.72,58.08 580.23,58.21 580.74,58.33 581.25,58.46 581.76,58.58 582.27,58.71 582.79,58.83 583.30,58.95 583.81,59.08 584.32,59.20 584.83,59.33 585.34,59.45 585.85,59.57 586.36,59.70 586.87,59.82 587.38,59.94 587.90,60.06 588.41,60.18 588.92,60.31 589.43,60.43 589.94,60.55 590.45,60.67 590.96,60.79 591.47,60.91 591.98,61.03 592.50,61.15 593.01,61.27 593.52,61.39 594.03,61.51 594.54,61.63 595.05,61.75 595.56,61.87 596.07,61.99 596.58,62.10 597.09,62.22 597.61,62.34 598.12,62.46 598.63,62.58 599.14,62.69 599.65,62.81 600.16,62.93 600.67,63.04" fill="none" stroke="#ff2020" stroke-width="0.9" />
<polyline points="446.86,126.73 447.37,122.78 447.88,119.02 448.39,115.45 448.90,112.05 449.42,108.82 449.93,105.74 450.44,102.81 450.95,100.03 451.46,97.38 451.97,94.86 452.48,92.46 452.99,90.17 453.50,88.00 454.01,85.94 454.53,83.97 455.04,82.10 455.55,80.32 456.06,78.62 456.57,77.01 457.08,75.48 457.59,74.02 458.10,72.63 458.61,71.31 459.12,70.05 459.63,68.85 460.15,67.71 460.66,66.63 461.17,65.59 461.68,64.61 462.19,63.68 462.70,62.79 463.21,61.94 463.72,61.14 464.23,60.37 464.75,59.64 465.26,58.94 465.77,58.28 466.28,57.65 466.79,57.05 467.30,56.48 467.81,55.94 468.32,55.42 468.83,54.93 469.34,54.46 469.86,54.01 470.37,53.59 470.88,53.18 471.39,52.80 471.90,52.43 472.41,52.08 472.92,51.75 473.43,51.43 473.94,51.13 474.45,50.84 474.97,50.56 475.48,50.30 475.99,50.05 476.50,49.81 477.01,49.59 477.52,49.37 478.03,49.17 478.54,48.97 479.05,48.78 479.56,48.60 480.07,48.43 480.59,48.27 481.10,48.12 481.61,47.97 482.12,47.83 482.63,47.69 483.14,47.57 483.65,47.44 484.16,47.33 484.67,47.21 485.19,47.11 485.70,47.01 486.21,46.91 486.72,46.81 487.23,46.73 487.74,46.64 488.25,46.56 488.76,46.48 489.27,46.41 489.78,46.34 490.30,46.27 490.81,46.20 491.32,46.14 491.83,46.08 492.34,46.02 492.85,45.97 493.36,45.91 493.87,45.86 494.38,45.81 494.89,45.77 495.41,45.72 495.92,45.68 496.43,45.64 496.94,45.60 497.45,45.56 497.96,45.52 498.47,45.49 498.98,45.45 499.49,45.42 500.00,45.39 500.51,45.36 501.03,45.33 501.54,45.30 502.05,45.27 502.56,45.25 503.07,45.22 503.58,45.19 504.09,45.17 504.60,45.15 505.11,45.12 505.62,45.10 506.14,45.08 506.65,45.06 507.16,45.04 507.67,45.02 508.18,45.00 508.69,44.98 509.20,44.96 509.71,44.95 510.22,44.93 510.74,44.91 511.25,44.90 511.76,44.88 512.27,44.86 512.78,44.85 513.29,44.83 513.80,44.82 514.31,44.80 514.82,44.79 515.33,44.78 515.85,44.76 516.36,44.75 516.87,44.74 517.38,44.72 517.89,44.71 518.40,44.70 518.91,44.69 519.42,44.67 519.93,44.66 520.44,44.65 520.96,44.64 521.47,44.63 521.98,44.61 522.49,44.60 523.00,44.59 523.51,44.58 524.02,44.73 524.53,44.88 525.04,45.03 525.55,45.18 526.07,45.33 526.58,45.48 527.09,45.63 527.60,45.77 528.11,45.92 528.62,46.07 529.13,46.22 529.64,46.37 530.15,46.51 530.66,46.66 531.17,46.81 531.69,46.95 532.20,47.10 532.71,47.24 533.22,47.39 533.73,47.53 534.24,47.68 534.75,47.82 535.26,47.97 535.77,48.11 536.28,48.25 536.80,48.40 537.31,48.54 537.82,48.68 538.33,48.83 538.84,48.97 539.35,49.11 539.86,49.25 540.37,49.40 540.88,49.54 541.39,49.68 541.91,49.82 542.42,49.96 542.93,50.10 543.44,50.24 543.95,50.38 544.46,50.52 544.97,50.66 545.48,50.80 545.99,50.94 546.50,51.08 547.02,51.21 547.53,51.35 548.04,51.49 548.55,51.63 549.06,51.76 549.57,51.90 550.08,52.04 550.59,52.18 551.10,52.31 551.62,52.45 552.13,52.58 552.64,52.72 553.15,52.85 553.66,52.99 554.17,53.12 554.68,53.26 555.19,53.39 555.70,53.53 556.21,53.66 556.73,53.79 557.24,53.93 557.75,54.06 558.26,54.19 558.77,54.33 559.28,54.46 559.79,54.59 560.30,54.72 560.81,54.86 561.32,54.99 561.84,55.12 562.35,55.25 562.86,55.38 563.37,55.51 563.88,55.64 564.39,55.77 564.90,55.90 565.41,56.03 565.92,56.16 566.43,56.29 566.95,56.42 567.46,56.55 567.97,56.67 568.48,56.80 568.99,56.93 569.50,57.06 570.01,57.18 570.52,57.31 571.03,57.44 571.54,57.57 572.06,57.69 572.57,57.82 573.08,57.94 573.59,58.07 574.10,58.20 574.61,58.32 575.12,58.45 575.63,58.57 576.14,58.70 576.65,58.82 577.16,58.94 577.68,59.07 578.19,59.19 578.70,59.32 579.21,59.44 579.72,59.56 580.23,59.68 580.74,59.81 581.25,59.93 581.76,60.05 582.27,60.17 582.79,60.30 583.30,60.42 583.81,60.54 584.32,60.66 584.83,60.78 585.34,60.90 585.85,61.02 586.36,61.14 586.87,61.26 587.38,61.38 587.90,61.50 588.41,61.62 588.92,61.74 589.43,61.86 589.94,61.98 590.45,62.09 590.96,62.21 591.47,62.33 591.98,62.45 592.50,62.57 593.01,62.68 593.52,62.80 594.03,62.92 594.54,63.03 595.05,63.15 595.56,63.27 596.07,63.38 596.58,63.50 597.09,63.61 597.61,63.73 598.12,63.84 598.63,63.96 599.14,64.07 599.65,64.19 600.16,64.30 600.67,64.42" fill="none" stroke="#ff2020" stroke-width="0.9" />
<polyline points="446.86,126.73 447.37,124.89 447.88,123.10 448.39,121.35 448.90,119.65 449.42,117.97 449.93,116.34 450.44,114.75 450.95,113.19 451.46,111.66 451.97,110.17 452.48,108.72 452.99,107.30 453.50,105.91 454.01,104.55 454.53,103.22 455.04,101.93 455.55,100.66 456.06,99.42 456.57,98.21 457.08,97.03 457.59,95.87 458.10,94.74 458.61,93.64 459.12,92.56 459.63,91.51 460.15,90.48 460.66,89.47 461.17,88.49 461.68,87.52 462.19,86.59 462.70,85.67 463.21,84.77 463.72,83.89 464.23,83.04 464.75,82.20 465.26,81.38 465.77,80.58 466.28,79.80 466.79,79.04 467.30,78.29 467.81,77.56 468.32,76.85 468.83,76.16 469.34,75.48 469.86,74.81 470.37,74.16 470.88,73.53 471.39,72.91 471.90,72.30 472.41,71.71 472.92,71.13 473.43,70.56 473.94,70.01 474.45,69.47 474.97,68.94 475.48,68.42 475.99,67.92 476.50,67.43 477.01,66.95 477.52,66.48 478.03,66.02 478.54,65.57 479.05,65.13 479.56,64.70 480.07,64.28 480.59,63.87 481.10,63.47 481.61,63.08 482.12,62.70 482.63,62.32 483.14,61.96 483.65,61.60 484.16,61.25 484.67,60.91 485.19,60.58 485.70,60.25 486.21,59.93 486.72,59.62 487.23,59.32 487.74,59.02 488.25,58.73 488.76,58.45 489.27,58.17 489.78,57.90 490.30,57.64 490.81,57.38 491.32,57.13 491.83,56.88 492.34,56.64 492.85,56.40 493.36,56.17 493.87,55.95 494.38,55.73 494.89,55.51 495.41,55.30 495.92,55.10 496.43,54.89 496.94,54.70 497.45,54.51 497.96,54.32 498.47,54.14 498.98,53.96 499.49,53.78 500.00,53.61 500.51,53.45 501.03,53.28 501.54,53.12 502.05,52.97 502.56,52.82 503.07,52.67 503.58,52.52 504.09,52.38 504.60,52.24 505.11,52.11 505.62,51.97 506.14,51.84 506.65,51.72 507.16,51.59 507.67,51.47 508.18,51.35 508.69,51.24 509.20,51.13 509.71,51.02 510.22,50.91 510.74,50.80 511.25,50.70 511.76,50.60 512.27,50.50 512.78,50.41 513.29,50.31 513.80,50.22 514.31,50.13 514.82,50.04 515.33,49.96 515.85,49.87 516.36,49.79 516.87,49.71 517.38,49.63 517.89,49.56 518.40,49.48 518.91,49.41 519.42,49.34 519.93,49.27 520.44,49.20 520.96,49.14 521.47,49.07 521.98,49.01 522.49,48.95 523.00,48.89 523.51,48.83 524.02,48.96 524.53,49.10 525.04,49.24 525.55,49.37 526.07,49.51 526.58,49.65 527.09,49.78 527.60,49.92 528.11,50.06 528.62,50.19 529.13,50.33 529.64,50.46 530.15,50.60 530.66,50.73 531.17,50.86 531.69,51.00 532.20,51.13 532.71,51.27 533.22,51.40 533.73,51.53 534.24,51.67 534.75,51.80 535.26,51.93 535.77,52.06 536.28,52.19 536.80,52.33 537.31,52.46 537.82,52.59 538.33,52.72 538.84,52.85 539.35,52.98 539.86,53.11 540.37,53.24 540.88,53.37 541.39,53.50 541.91,53.63 542.42,53.76 542.93,53.89 543.44,54.02 543.95,54.14 544.46,54.27 544.97,54.40 545.48,54.53 545.99,54.66 546.50,54.78 547.02,54.91 547.53,55.04 548.04,55.16 548.55,55.29 549.06,55.42 549.57,55.54 550.08,55.67 550.59,55.79 551.10,55.92 551.62,56.04 552.13,56.17 552.64,56.29 553.15,56.42 553.66,56.54 554.17,56.67 554.68,56.79 555.19,56.91 555.70,57.04 556.21,57.16 556.73,57.28 557.24,57.41 557.75,57.53 558.26,57.65 558.77,57.77 559.28,57.89 559.79,58.02 560.30,58.14 560.81,58.26 561.32,58.38 561.84,58.50 562.35,58.62 562.86,58.74 563.37,58.86 563.88,58.98 564.39,59.10 564.90,59.22 565.41,59.34 565.92,59.46 566.43,59.58 566.95,59.70 567.46,59.81 567.97,59.93 568.48,60.05 568.99,60.17 569.50,60.29 570.01,60.40 570.52,60.52 571.03,60.64 571.54,60.75 572.06,60.87 572.57,60.99 573.08,61.10 573.59,61.22 574.10,61.33 574.61,61.45 575.12,61.57 575.63,61.68 576.14,61.80 576.65,61.91 577.16,62.02 577.68,62.14 578.19,62.25 578.70,62.37 579.21,62.48 579.72,62.59 580.23,62.71 580.74,62.82 581.25,62.93 581.76,63.05 582.27,63.16 582.79,63.27 583.30,63.38 583.81,63.49 584.32,63.61 584.83,63.72 585.34,63.83 585.85,63.94 586.36,64.05 586.87,64.16 587.38,64.27 587.90,64.38 588.41,64.49 588.92,64.60 589.43,64.71 589.94,64.82 590.45,64.93 590.96,65.04 591.47,65.15 591.98,65.26 592.50,65.37 593.01,65.48 593.52,65.58 594.03,65.69 594.54,65.80 595.05,65.91 595.56,66.01 596.07,66.12 596.58,66.23 597.09,66.34 597.61,66.44 598.12,66.55 598.63,66.65 599.14,66.76 599.65,66.87 600.16,66.97 600.67,67.08" fill="none" stroke="#ff2020" stroke-width="0.9" />
<polyline points="446.86,126.73 447.37,125.55 447.88,124.38 448.39,123.23 448.90,122.10 449.42,120.99 449.93,119.89 450.44,118.81 450.95,117.74 451.46,116.69 451.97,115.65 452.48,114.62 452.99,113.62 453.50,112.62 454.01,111.64 454.53,110.68 455.04,109.73 455.55,108.79 456.06,107.86 456.57,106.95 457.08,106.05 457.59,105.17 458.10,104.30 458.61,103.44 459.12,102.59 459.63,101.75 460.15,100.93 460.66,100.11 461.17,99.31 461.68,98.52 462.19,97.75 462.70,96.98 463.21,96.22 463.72,95.48 464.23,94.74 464.75,94.02 465.26,93.31 465.77,92.60 466.28,91.91 466.79,91.23 467.30,90.55 467.81,89.89 468.32,89.24 468.83,88.59 469.34,87.95 469.86,87.33 470.37,86.71 470.88,86.10 471.39,85.50 471.90,84.91 472.41,84.33 472.92,83.75 473.43,83.18 473.94,82.63 474.45,82.08 474.97,81.53 475.48,81.00 475.99,80.47 476.50,79.95 477.01,79.44 477.52,78.93 478.03,78.44 478.54,77.94 479.05,77.46 479.56,76.98 480.07,76.51 480.59,76.05 481.10,75.59 481.61,75.14 482.12,74.70 482.63,74.26 483.14,73.83 483.65,73.41 484.16,72.99 484.67,72.58 485.19,72.17 485.70,71.77 486.21,71.37 486.72,70.98 487.23,70.60 487.74,70.22 488.25,69.85 488.76,69.48 489.27,69.12 489.78,68.76 490.30,68.41 490.81,68.06 491.32,67.72 491.83,67.38 492.34,67.05 492.85,66.72 493.36,66.40 493.87,66.08 494.38,65.76 494.89,65.45 495.41,65.15 495.92,64.85 496.43,64.55 496.94,64.26 497.45,63.97 497.96,63.69 498.47,63.41 498.98,63.13 499.49,62.86 500.00,62.59 500.51,62.33 501.03,62.07 501.54,61.81 502.05,61.56 502.56,61.31 503.07,61.06 503.58,60.82 504.09,60.58 504.60,60.35 505.11,60.11 505.62,59.88 506.14,59.66 506.65,59.44 507.16,59.22 507.67,59.00 508.18,58.79 508.69,58.58 509.20,58.37 509.71,58.17 510.22,57.97 510.74,57.77 511.25,57.57 511.76,57.38 512.27,57.19 512.78,57.01 513.29,56.82 513.80,56.64 514.31,56.46 514.82,56.28 515.33,56.11 515.85,55.94 516.36,55.77 516.87,55.60 517.38,55.44 517.89,55.28 518.40,55.12 518.91,54.96 519.42,54.80 519.93,54.65 520.44,54.50 520.96,54.35 521.47,54.21 521.98,54.06 522.49,53.92 523.00,53.78 523.51,53.64 524.02,53.75 524.53,53.87 525.04,53.98 525.55,54.10 526.07,54.21 526.58,54.32 527.09,54.43 527.60,54.55 528.11,54.66 528.62,54.77 529.13,54.88 529.64,55.00 530.15,55.11 530.66,55.22 531.17,55.33 531.69,55.44 532.20,55.55 532.71,55.66 533.22,55.78 533.73,55.89 534.24,56.00 534.75,56.11 535.26,56.22 535.77,56.33 536.28,56.44 536.80,56.55 537.31,56.66 537.82,56.76 538.33,56.87 538.84,56.98 539.35,57.09 539.86,57.20 540.37,57.31 540.88,57.42 541.39,57.52 541.91,57.63 542.42,57.74 542.93,57.85 543.44,57.95 543.95,58.06 544.46,58.17 544.97,58.28 545.48,58.38 545.99,58.49 546.50,58.60 547.02,58.70 547.53,58.81 548.04,58.91 548.55,59.02 549.06,59.12 549.57,59.23 550.08,59.34 550.59,59.44 551.10,59.55 551.62,59.65 552.13,59.75 552.64,59.86 553.15,59.96 553.66,60.07 554.17,60.17 554.68,60.28 555.19,60.38 555.70,60.48 556.21,60.59 556.73,60.69 557.24,60.79 557.75,60.89 558.26,61.00 558.77,61.10 559.28,61.20 559.79,61.30 560.30,61.41 560.81,61.51 561.32,61.61 561.84,61.71 562.35,61.81 562.86,61.91 563.37,62.01 563.88,62.12 564.39,62.22 564.90,62.32 565.41,62.42 565.92,62.52 566.43,62.62 566.95,62.72 567.46,62.82 567.97,62.92 568.48,63.02 568.99,63.12 569.50,63.21 570.01,63.31 570.52,63.41 571.03,63.51 571.54,63.61 572.06,63.71 572.57,63.81 573.08,63.90 573.59,64.00 574.10,64.10 574.61,64.20 575.12,64.30 575.63,64.39 576.14,64.49 576.65,64.59 577.16,64.68 577.68,64.78 578.19,64.88 578.70,64.97 579.21,65.07 579.72,65.17 580.23,65.26 580.74,65.36 581.25,65.45 581.76,65.55 582.27,65.64 582.79,65.74 583.30,65.83 583.81,65.93 584.32,66.02 584.83,66.12 585.34,66.21 585.85,66.31 586.36,66.40 586.87,66.50 587.38,66.59 587.90,66.68 588.41,66.78 588.92,66.87 589.43,66.96 589.94,67.06 590.45,67.15 590.96,67.24 591.47,67.34 591.98,67.43 592.50,67.52 593.01,67.61 593.52,67.70 594.03,67.80 594.54,67.89 595.05,67.98 595.56,68.07 596.07,68.16 596.58,68.25 597.09,68.35 597.61,68.44 598.12,68.53 598.63,68.62 599.14,68.71 599.65,68.80 600.16,68.89 600.67,68.98" fill="none" stroke="#ff2020" stroke-width="0.9" />
<polyline points="446.86,126.73 447.37,125.98 447.88,125.24 448.39,124.51 448.90,123.78 449.42,123.06 449.93,122.35 450.44,121.64 450.95,120.94 451.46,120.25 451.97,119.56 452.48,118.88 452.99,118.21 453.50,117.54 454.01,116.88 454.53,116.23 455.04,115.58 455.55,114.94 456.06,114.31 456.57,113.68 457.08,113.05 457.59,112.44 458.10,111.83 458.61,111.22 459.12,110.62 459.63,110.03 460.15,109.44 460.66,108.86 461.17,108.28 461.68,107.71 462.19,107.14 462.70,106.58 463.21,106.03 463.72,105.48 464.23,104.93 464.75,104.39 465.26,103.86 465.77,103.33 466.28,102.80 466.79,102.28 467.30,101.77 467.81,101.26 468.32,100.76 468.83,100.26 469.34,99.76 469.86,99.27 470.37,98.79 470.88,98.31 471.39,97.83 471.90,97.36 472.41,96.89 472.92,96.43 473.43,95.97 473.94,95.52 474.45,95.07 474.97,94.62 475.48,94.18 475.99,93.74 476.50,93.31 477.01,92.88 477.52,92.46 478.03,92.04 478.54,91.62 479.05,91.21 479.56,90.80 480.07,90.40 480.59,90.00 481.10,89.60 481.61,89.21 482.12,88.82 482.63,88.43 483.14,88.05 483.65,87.67 484.16,87.30 484.67,86.92 485.19,86.56 485.70,86.19 486.21,85.83 486.72,85.48 487.23,85.12 487.74,84.77 488.25,84.43 488.76,84.08 489.27,83.74 489.78,83.40 490.30,83.07 490.81,82.74 491.32,82.41 491.83,82.09 492.34,81.77 492.85,81.45 493.36,81.13 493.87,80.82 494.38,80.51 494.89,80.21 495.41,79.90 495.92,79.60 496.43,79.30 496.94,79.01 497.45,78.72 497.96,78.43 498.47,78.14 498.98,77.86 499.49,77.58 500.00,77.30 500.51,77.02 501.03,76.75 501.54,76.48 502.05,76.21 502.56,75.95 503.07,75.69 503.58,75.43 504.09,75.17 504.60,74.91 505.11,74.66 505.62,74.41 506.14,74.16 506.65,73.92 507.16,73.67 507.67,73.43 508.18,73.19 508.69,72.96 509.20,72.72 509.71,72.49 510.22,72.26 510.74,72.03 511.25,71.81 511.76,71.59 512.27,71.37 512.78,71.15 513.29,70.93 513.80,70.72 514.31,70.50 514.82,70.29 515.33,70.08 515.85,69.88 516.36,69.67 516.87,69.47 517.38,69.27 517.89,69.07 518.40,68.87 518.91,68.68 519.42,68.49 519.93,68.29 520.44,68.10 520.96,67.92 521.47,67.73 521.98,67.55 522.49,67.36 523.00,67.18 523.51,67.00 524.02,67.09 524.53,67.17 525.04,67.25 525.55,67.33 526.07,67.41 526.58,67.49 527.09,67.57 527.60,67.65 528.11,67.73 528.62,67.81 529.13,67.89 529.64,67.97 530.15,68.05 530.66,68.12 531.17,68.20 531.69,68.28 532.20,68.36 532.71,68.44 533.22,68.52 533.73,68.60 534.24,68.68 534.75,68.76 535.26,68.83 535.77,68.91 536.28,68.99 536.80,69.07 537.31,69.15 537.82,69.22 538.33,69.30 538.84,69.38 539.35,69.46 539.86,69.53 540.37,69.61 540.88,69.69 541.39,69.77 541.91,69.84 542.42,69.92 542.93,70.00 543.44,70.07 543.95,70.15 544.46,70.23 544.97,70.30 545.48,70.38 545.99,70.45 546.50,70.53 547.02,70.61 547.53,70.68 548.04,70.76 548.55,70.83 549.06,70.91 549.57,70.98 550.08,71.06 550.59,71.13 551.10,71.21 551.62,71.28 552.13,71.36 552.64,71.43 553.15,71.51 553.66,71.58 554.17,71.66 554.68,71.73 555.19,71.81 555.70,71.88 556.21,71.96 556.73,72.03 557.24,72.10 557.75,72.18 558.26,72.25 558.77,72.32 559.28,72.40 559.79,72.47 560.30,72.54 560.81,72.62 561.32,72.69 561.84,72.76 562.35,72.84 562.86,72.91 563.37,72.98 563.88,73.05 564.39,73.13 564.90,73.20 565.41,73.27 565.92,73.34 566.43,73.42 566.95,73.49 567.46,73.56 567.97,73.63 568.48,73.70 568.99,73.78 569.50,73.85 570.01,73.92 570.52,73.99 571.03,74.06 571.54,74.13 572.06,74.20 572.57,74.27 573.08,74.35 573.59,74.42 574.10,74.49 574.61,74.56 575.12,74.63 575.63,74.70 576.14,74.77 576.65,74.84 577.16,74.91 577.68,74.98 578.19,75.05 578.70,75.12 579.21,75.19 579.72,75.26 580.23,75.33 580.74,75.40 581.25,75.47 581.76,75.54 582.27,75.60 582.79,75.67 583.30,75.74 583.81,75.81 584.32,75.88 584.83,75.95 585.34,76.02 585.85,76.09 586.36,76.15 586.87,76.22 587.38,76.29 587.90,76.36 588.41,76.43 588.92,76.50 589.43,76.56 589.94,76.63 590.45,76.70 590.96,76.77 591.47,76.83 591.98,76.90 592.50,76.97 593.01,77.04 593.52,77.10 594.03,77.17 594.54,77.24 595.05,77.30 595.56,77.37 596.07,77.44 596.58,77.50 597.09,77.57 597.61,77.64 598.12,77.70 598.63,77.77 599.14,77.84 599.65,77.90 600.16,77.97 600.67,78.03" fill="none" stroke="#ff2020" stroke-width="0.9" />
<polyline points="446.86,126.73 447.37,126.33 447.88,125.93 448.39,125.54 448.90,125.14 449.42,124.75 449.93,124.36 450.44,123.98 450.95,123.59 451.46,123.21 451.97,122.83 452.48,122.46 452.99,122.08 453.50,121.71 454.01,121.34 454.53,120.97 455.04,120.60 455.55,120.24 456.06,119.88 456.57,119.52 457.08,119.16 457.59,118.80 458.10,118.45 458.61,118.09 459.12,117.74 459.63,117.40 460.15,117.05 460.66,116.71 461.17,116.36 461.68,116.02 462.19,115.69 462.70,115.35 463.21,115.02 463.72,114.68 464.23,114.35 464.75,114.03 465.26,113.70 465.77,113.37 466.28,113.05 466.79,112.73 467.30,112.41 467.81,112.09 468.32,111.78 468.83,111.46 469.34,111.15 469.86,110.84 470.37,110.53 470.88,110.23 471.39,109.92 471.90,109.62 472.41,109.32 472.92,109.02 473.43,108.72 473.94,108.42 474.45,108.13 474.97,107.84 475.48,107.55 475.99,107.26 476.50,106.97 477.01,106.68 477.52,106.40 478.03,106.12 478.54,105.83 479.05,105.56 479.56,105.28 480.07,105.00 480.59,104.73 481.10,104.45 481.61,104.18 482.12,103.91 482.63,103.64 483.14,103.38 483.65,103.11 484.16,102.85 484.67,102.58 485.19,102.32 485.70,102.06 486.21,101.81 486.72,101.55 487.23,101.29 487.74,101.04 488.25,100.79 488.76,100.54 489.27,100.29 489.78,100.04 490.30,99.79 490.81,99.55 491.32,99.31 491.83,99.06 492.34,98.82 492.85,98.58 493.36,98.35 493.87,98.11 494.38,97.87 494.89,97.64 495.41,97.41 495.92,97.18 496.43,96.95 496.94,96.72 497.45,96.49 497.96,96.27 498.47,96.04 498.98,95.82 499.49,95.60 500.00,95.37 500.51,95.16 501.03,94.94 501.54,94.72 502.05,94.50 502.56,94.29 503.07,94.08 503.58,93.86 504.09,93.65 504.60,93.44 505.11,93.24 505.62,93.03 506.14,92.82 506.65,92.62 507.16,92.41 507.67,92.21 508.18,92.01 508.69,91.81 509.20,91.61 509.71,91.41 510.22,91.22 510.74,91.02 511.25,90.83 511.76,90.63 512.27,90.44 512.78,90.25 513.29,90.06 513.80,89.87 514.31,89.68 514.82,89.50 515.33,89.31 515.85,89.13 516.36,88.94 516.87,88.76 517.38,88.58 517.89,88.40 518.40,88.22 518.91,88.04 519.42,87.86 519.93,87.69 520.44,87.51 520.96,87.34 521.47,87.16 521.98,86.99 522.49,86.82 523.00,86.65 523.51,86.48 524.02,86.53 524.53,86.58 525.04,86.64 525.55,86.69 526.07,86.74 526.58,86.79 527.09,86.85 527.60,86.90 528.11,86.95 528.62,87.00 529.13,87.06 529.64,87.11 530.15,87.16 530.66,87.21 531.17,87.26 531.69,87.31 532.20,87.37 532.71,87.42 533.22,87.47 533.73,87.52 534.24,87.57 534.75,87.62 535.26,87.67 535.77,87.73 536.28,87.78 536.80,87.83 537.31,87.88 537.82,87.93 538.33,87.98 538.84,88.03 539.35,88.08 539.86,88.13 540.37,88.18 540.88,88.23 541.39,88.28 541.91,88.33 542.42,88.38 542.93,88.43 543.44,88.48 543.95,88.53 544.46,88.58 544.97,88.63 545.48,88.68 545.99,88.73 546.50,88.78 547.02,88.83 547.53,88.88 548.04,88.93 548.55,88.98 549.06,89.03 549.57,89.08 550.08,89.13 550.59,89.18 551.10,89.23 551.62,89.28 552.13,89.33 552.64,89.38 553.15,89.42 553.66,89.47 554.17,89.52 554.68,89.57 555.19,89.62 555.70,89.67 556.21,89.72 556.73,89.77 557.24,89.81 557.75,89.86 558.26,89.91 558.77,89.96 559.28,90.01 559.79,90.05 560.30,90.10 560.81,90.15 561.32,90.20 561.84,90.25 562.35,90.29 562.86,90.34 563.37,90.39 563.88,90.44 564.39,90.48 564.90,90.53 565.41,90.58 565.92,90.63 566.43,90.67 566.95,90.72 567.46,90.77 567.97,90.82 568.48,90.86 568.99,90.91 569.50,90.96 570.01,91.00 570.52,91.05 571.03,91.10 571.54,91.14 572.06,91.19 572.57,91.24 573.08,91.28 573.59,91.33 574.10,91.38 574.61,91.42 575.12,91.47 575.63,91.51 576.14,91.56 576.65,91.61 577.16,91.65 577.68,91.70 578.19,91.74 578.70,91.79 579.21,91.84 579.72,91.88 580.23,91.93 580.74,91.97 581.25,92.02 581.76,92.06 582.27,92.11 582.79,92.15 583.30,92.20 583.81,92.25 584.32,92.29 584.83,92.34 585.34,92.38 585.85,92.43 586.36,92.47 586.87,92.52 587.38,92.56 587.90,92.61 588.41,92.65 588.92,92.69 589.43,92.74 589.94,92.78 590.45,92.83 590.96,92.87 591.47,92.92 591.98,92.96 592.50,93.01 593.01,93.05 593.52,93.09 594.03,93.14 594.54,93.18 595.05,93.23 595.56,93.27 596.07,93.31 596.58,93.36 597.09,93.40 597.61,93.44 598.12,93.49 598.63,93.53 599.14,93.57 599.65,93.62 600.16,93.66 600.67,93.70" fill="none" stroke="#ff2020" stroke-width="0.9" />
<polyline points="446.86,126.73 447.37,126.52 447.88,126.31 448.39,126.11 448.90,125.90 449.42,125.70 449.93,125.49 450.44,125.29 450.95,125.09 451.46,124.89 451.97,124.69 452.48,124.49 452.99,124.29 453.50,124.10 454.01,123.90 454.53,123.71 455.04,123.51 455.55,123.32 456.06,123.13 456.57,122.94 457.08,122.75 457.59,122.56 458.10,122.37 458.61,122.18 459.12,122.00 459.63,121.81 460.15,121.63 460.66,121.44 461.17,121.26 461.68,121.08 462.19,120.90 462.70,120.72 463.21,120.54 463.72,120.36 464.23,120.18 464.75,120.00 465.26,119.83 465.77,119.65 466.28,119.48 466.79,119.30 467.30,119.13 467.81,118.96 468.32,118.79 468.83,118.62 469.34,118.45 469.86,118.28 470.37,118.11 470.88,117.95 471.39,117.78 471.90,117.61 472.41,117.45 472.92,117.29 473.43,117.12 473.94,116.96 474.45,116.80 474.97,116.64 475.48,116.48 475.99,116.32 476.50,116.16 477.01,116.00 477.52,115.85 478.03,115.69 478.54,115.54 479.05,115.38 479.56,115.23 480.07,115.07 480.59,114.92 481.10,114.77 481.61,114.62 482.12,114.47 482.63,114.32 483.14,114.17 483.65,114.02 484.16,113.87 484.67,113.73 485.19,113.58 485.70,113.44 486.21,113.29 486.72,113.15 487.23,113.00 487.74,112.86 488.25,112.72 488.76,112.58 489.27,112.44 489.78,112.30 490.30,112.16 490.81,112.02 491.32,111.88 491.83,111.75 492.34,111.61 492.85,111.47 493.36,111.34 493.87,111.20 494.38,111.07 494.89,110.94 495.41,110.80 495.92,110.67 496.43,110.54 496.94,110.41 497.45,110.28 497.96,110.15 498.47,110.02 498.98,109.89 499.49,109.77 500.00,109.64 500.51,109.51 501.03,109.39 501.54,109.26 502.05,109.14 502.56,109.01 503.07,108.89 503.58,108.77 504.09,108.65 504.60,108.52 505.11,108.40 505.62,108.28 506.14,108.16 506.65,108.04 507.16,107.92 507.67,107.81 508.18,107.69 508.69,107.57 509.20,107.46 509.71,107.34 510.22,107.22 510.74,107.11 511.25,106.99 511.76,106.88 512.27,106.77 512.78,106.66 513.29,106.54 513.80,106.43 514.31,106.32 514.82,106.21 515.33,106.10 515.85,105.99 516.36,105.88 516.87,105.77 517.38,105.67 517.89,105.56 518.40,105.45 518.91,105.34 519.42,105.24 519.93,105.13 520.44,105.03 520.96,104.92 521.47,104.82 521.98,104.72 522.49,104.61 523.00,104.51 523.51,104.41 524.02,104.45 524.53,104.48 525.04,104.51 525.55,104.55 526.07,104.58 526.58,104.62 527.09,104.65 527.60,104.69 528.11,104.72 528.62,104.76 529.13,104.79 529.64,104.82 530.15,104.86 530.66,104.89 531.17,104.93 531.69,104.96 532.20,104.99 532.71,105.03 533.22,105.06 533.73,105.10 534.24,105.13 534.75,105.16 535.26,105.20 535.77,105.23 536.28,105.26 536.80,105.30 537.31,105.33 537.82,105.36 538.33,105.40 538.84,105.43 539.35,105.46 539.86,105.50 540.37,105.53 540.88,105.56 541.39,105.60 541.91,105.63 542.42,105.66 542.93,105.70 543.44,105.73 543.95,105.76 544.46,105.79 544.97,105.83 545.48,105.86 545.99,105.89 546.50,105.92 547.02,105.96 547.53,105.99 548.04,106.02 548.55,106.05 549.06,106.09 549.57,106.12 550.08,106.15 550.59,106.18 551.10,106.21 551.62,106.25 552.13,106.28 552.64,106.31 553.15,106.34 553.66,106.37 554.17,106.40 554.68,106.44 555.19,106.47 555.70,106.50 556.21,106.53 556.73,106.56 557.24,106.59 557.75,106.63 558.26,106.66 558.77,106.69 559.28,106.72 559.79,106.75 560.30,106.78 560.81,106.81 561.32,106.84 561.84,106.87 562.35,106.91 562.86,106.94 563.37,106.97 563.88,107.00 564.39,107.03 564.90,107.06 565.41,107.09 565.92,107.12 566.43,107.15 566.95,107.18 567.46,107.21 567.97,107.24 568.48,107.27 568.99,107.30 569.50,107.33 570.01,107.36 570.52,107.39 571.03,107.42 571.54,107.45 572.06,107.48 572.57,107.51 573.08,107.54 573.59,107.57 574.10,107.60 574.61,107.63 575.12,107.66 575.63,107.69 576.14,107.72 576.65,107.75 577.16,107.78 577.68,107.81 578.19,107.84 578.70,107.87 579.21,107.90 579.72,107.93 580.23,107.96 580.74,107.99 581.25,108.02 581.76,108.05 582.27,108.08 582.79,108.10 583.30,108.13 583.81,108.16 584.32,108.19 584.83,108.22 585.34,108.25 585.85,108.28 586.36,108.31 586.87,108.34 587.38,108.36 587.90,108.39 588.41,108.42 588.92,108.45 589.43,108.48 589.94,108.51 590.45,108.54 590.96,108.56 591.47,108.59 591.98,108.62 592.50,108.65 593.01,108.68 593.52,108.70 594.03,108.73 594.54,108.76 595.05,108.79 595.56,108.82 596.07,108.84 596.58,108.87 597.09,108.90 597.61,108.93 598.12,108.96 598.63,108.98 599.14,109.01 599.65,109.04 600.16,109.07 600.67,109.09" fill="none" stroke="#ff2020" stroke-width="0.9" />
<polyline points="446.86,125.62 447.27,126.20 447.68,124.52 448.09,126.20 448.50,123.96 448.90,124.88 449.31,123.20 449.72,123.54 450.13,123.75 450.54,123.92 450.95,123.90 451.36,125.04 451.77,124.15 452.17,124.32 452.58,123.96 452.99,123.28 453.40,123.70 453.81,122.71 454.22,122.90 454.63,122.92 455.04,122.01 455.44,121.78 455.85,123.20 456.26,122.14 456.67,119.15 457.08,121.53 457.49,120.98 457.90,122.00 458.31,120.22 458.72,119.57 459.12,120.25 459.53,120.72 459.94,120.42 460.35,121.95 460.76,119.62 461.17,120.25 461.58,119.49 461.99,119.36 462.39,119.35 462.80,117.54 463.21,118.43 463.62,119.65 464.03,118.40 464.44,118.23 464.85,118.60 465.26,117.26 465.66,118.66 466.07,119.73 466.48,118.98 466.89,117.57 467.30,118.63 467.71,117.49 468.12,118.80 468.53,117.00 468.94,117.42 469.34,117.85 469.75,117.40 470.16,117.01 470.57,115.83 470.98,116.28 471.39,116.53 471.80,116.08 472.21,115.30 472.61,115.53 473.02,114.28 473.43,116.30 473.84,114.82 474.25,115.29 474.66,115.82 475.07,114.61 475.48,114.27 475.88,114.01 476.29,114.31 476.70,115.37 477.11,114.32 477.52,114.01 477.93,112.76 478.34,113.98 478.75,113.82 479.16,112.46 479.56,113.64 479.97,113.96 480.38,113.19 480.79,112.64 481.20,113.06 481.61,114.53 482.02,113.29 482.43,111.94 482.83,113.34 483.24,111.82 483.65,112.30 484.06,113.02 484.47,111.51 484.88,113.95 485.29,113.79 485.70,113.19 486.10,111.26 486.51,111.84 486.92,110.93 487.33,111.43 487.74,111.13 488.15,111.58 488.56,111.36 488.97,110.03 489.38,110.11 489.78,111.82 490.19,110.05 490.60,108.67 491.01,109.66 491.42,111.03 491.83,109.44 492.24,109.79 492.65,110.14 493.05,108.91 493.46,108.57 493.87,109.98 494.28,109.31 494.69,109.65 495.10,109.20 495.51,107.70 495.92,109.36 496.32,108.38 496.73,108.54 497.14,108.58 497.55,109.53 497.96,107.90 498.37,109.29 498.78,107.60 499.19,108.20 499.60,107.90 500.00,108.32 500.41,108.55 500.82,108.60 501.23,107.59 501.64,107.57 502.05,107.15 502.46,107.55 502.87,106.52 503.27,106.97 503.68,106.89 504.09,107.10 504.50,106.81 504.91,106.13 505.32,107.20 505.73,107.54 506.14,106.06 506.54,105.93 506.95,106.17 507.36,105.89 507.77,107.13 508.18,106.75 508.59,105.81 509.00,105.74 509.41,106.70 509.82,105.12 510.22,107.08 510.63,104.26 511.04,106.15 511.45,105.64 511.86,105.96 512.27,106.13 512.68,105.15 513.09,106.42 513.49,104.98 513.90,104.45 514.31,104.76 514.72,104.43 515.13,105.58 515.54,105.83 515.95,105.29 516.36,103.14 516.76,103.70 517.17,105.43 517.58,102.32 517.99,103.16 518.40,102.68 518.81,102.66 519.22,102.32 519.63,104.82 520.04,103.21 520.44,103.86 520.85,101.43 521.26,102.42 521.67,102.94 522.08,103.07 522.49,104.59 522.90,102.59 523.31,103.32 523.71,101.39 524.12,101.96 524.53,102.69 524.94,102.99 525.35,101.72 525.76,103.17 526.17,101.79 526.58,102.58 526.98,103.04 527.39,102.50 527.80,101.34 528.21,104.26 528.62,102.25 529.03,102.29 529.44,103.18 529.85,101.72 530.26,102.43 530.66,102.57 531.07,103.94 531.48,102.59 531.89,104.24 532.30,102.71 532.71,101.31 533.12,103.98 533.53,101.88 533.93,104.19 534.34,103.22 534.75,102.69 535.16,104.59 535.57,103.08 535.98,104.06 536.39,103.95 536.80,102.71 537.20,103.54 537.61,103.15 538.02,103.51 538.43,103.22 538.84,102.23 539.25,103.49 539.66,103.88 540.07,103.63 540.48,103.06 540.88,103.31 541.29,105.59 541.70,103.83 542.11,103.41 542.52,101.55 542.93,104.36 543.34,104.10 543.75,104.90 544.15,103.98 544.56,105.48 544.97,104.70 545.38,104.07 545.79,105.33 546.20,104.28 546.61,104.67 547.02,103.01 547.42,102.75 547.83,102.32 548.24,104.06 548.65,103.62 549.06,102.18 549.47,104.82 549.88,102.81 550.29,105.10 550.70,103.42 551.10,105.72 551.51,104.73 551.92,104.58 552.33,104.66 552.74,106.15 553.15,104.38 553.56,104.77 553.97,103.25 554.37,104.06 554.78,106.47 555.19,104.50 555.60,103.72 556.01,104.75 556.42,105.31 556.83,105.91 557.24,105.06 557.64,105.59 558.05,105.03 558.46,105.10 558.87,103.73 559.28,105.72 559.69,104.60 560.10,105.87 560.51,104.70 560.92,104.07 561.32,105.49 561.73,106.05 562.14,105.01 562.55,105.05 562.96,105.65 563.37,104.75 563.78,105.08 564.19,104.58 564.59,106.39 565.00,104.56 565.41,104.14 565.82,105.98 566.23,103.57 566.64,105.11 567.05,106.47 567.46,106.29 567.86,106.04 568.27,105.98 568.68,105.64 569.09,105.20 569.50,105.66 569.91,105.79 570.32,106.37 570.73,107.34 571.14,106.20 571.54,106.68 571.95,104.86 572.36,107.76 572.77,104.69 573.18,108.19 573.59,105.90 574.00,105.74 574.41,106.75 574.81,106.65 575.22,105.06 575.63,106.79 576.04,105.95 576.45,105.86 576.86,105.35 577.27,107.05 577.68,104.82 578.08,106.13 578.49,105.13 578.90,107.27 579.31,105.11 579.72,106.17 580.13,105.43 580.54,106.69 580.95,105.40 581.36,106.15 581.76,107.86 582.17,104.05 582.58,106.83 582.99,105.87 583.40,106.47 583.81,106.72 584.22,106.67 584.63,105.57 585.03,105.57 585.44,105.60 585.85,107.86 586.26,105.75 586.67,107.80 587.08,104.49 587.49,106.19 587.90,105.56 588.30,106.58 588.71,106.48 589.12,107.24 589.53,104.90 589.94,106.96 590.35,105.73 590.76,107.42 591.17,106.86 591.58,107.10 591.98,106.88 592.39,107.25 592.80,106.27 593.21,106.27 593.62,108.28 594.03,107.28 594.44,108.07 594.85,106.00 595.25,108.06 595.66,106.57 596.07,106.87 596.48,107.08 596.89,108.76 597.30,105.59 597.71,107.22 598.12,106.52 598.52,106.22 598.93,108.04 599.34,108.05 599.75,105.70 600.16,105.53 600.57,107.97" fill="none" stroke="#55e0b0" stroke-width="0.6" stroke-opacity="0.8"/>
<polyline points="446.86,125.81 447.27,124.56 447.68,125.19 448.09,123.57 448.50,123.87 448.90,124.13 449.31,123.15 449.72,123.83 450.13,121.98 450.54,123.34 450.95,121.29 451.36,119.92 451.77,123.34 452.17,119.99 452.58,122.47 452.99,120.91 453.40,118.93 453.81,119.27 454.22,119.32 454.63,119.28 455.04,119.14 455.44,118.59 455.85,118.86 456.26,118.64 456.67,119.17 457.08,116.26 457.49,117.50 457.90,115.52 458.31,116.24 458.72,116.20 459.12,117.27 459.53,116.24 459.94,115.69 460.35,115.54 460.76,115.42 461.17,116.87 461.58,114.94 461.99,114.52 462.39,114.44 462.80,114.01 463.21,114.83 463.62,113.93 464.03,111.60 464.44,113.45 464.85,112.81 465.26,112.81 465.66,111.95 466.07,111.99 466.48,109.51 466.89,111.92 467.30,109.54 467.71,110.88 468.12,109.81 468.53,107.72 468.94,109.70 469.34,109.43 469.75,111.68 470.16,109.21 470.57,108.85 470.98,108.28 471.39,107.94 471.80,108.86 472.21,108.47 472.61,106.72 473.02,107.38 473.43,106.86 473.84,106.06 474.25,106.31 474.66,106.02 475.07,106.86 475.48,105.67 475.88,106.92 476.29,103.64 476.70,105.63 477.11,103.24 477.52,104.92 477.93,104.36 478.34,102.86 478.75,103.59 479.16,103.38 479.56,103.55 479.97,103.31 480.38,103.51 480.79,103.31 481.20,103.98 481.61,102.31 482.02,102.65 482.43,100.49 482.83,99.64 483.24,99.61 483.65,102.12 484.06,101.17 484.47,100.75 484.88,101.77 485.29,98.83 485.70,99.36 486.10,99.51 486.51,97.86 486.92,98.92 487.33,99.40 487.74,98.68 488.15,99.13 488.56,98.09 488.97,99.46 489.38,97.65 489.78,98.16 490.19,98.07 490.60,97.83 491.01,97.40 491.42,98.62 491.83,96.36 492.24,96.86 492.65,94.91 493.05,96.31 493.46,95.27 493.87,95.93 494.28,95.83 494.69,96.59 495.10,95.74 495.51,95.65 495.92,97.08 496.32,95.02 496.73,95.20 497.14,94.11 497.55,93.28 497.96,94.27 498.37,92.78 498.78,92.54 499.19,92.78 499.60,93.57 500.00,93.00 500.41,91.47 500.82,91.37 501.23,91.54 501.64,93.90 502.05,94.20 502.46,90.45 502.87,91.22 503.27,90.48 503.68,90.99 504.09,91.59 504.50,90.75 504.91,91.02 505.32,89.49 505.73,89.90 506.14,91.31 506.54,90.97 506.95,89.24 507.36,89.19 507.77,89.55 508.18,89.34 508.59,90.58 509.00,90.07 509.41,88.69 509.82,90.60 510.22,88.40 510.63,88.16 511.04,87.93 511.45,87.60 511.86,86.51 512.27,87.78 512.68,88.60 513.09,89.23 513.49,89.56 513.90,87.33 514.31,86.48 514.72,88.59 515.13,86.80 515.54,87.44 515.95,86.88 516.36,86.32 516.76,86.32 517.17,87.26 517.58,85.39 517.99,86.03 518.40,87.43 518.81,84.94 519.22,84.09 519.63,85.68 520.04,83.77 520.44,86.45 520.85,85.13 521.26,83.62 521.67,83.47 522.08,84.03 522.49,83.41 522.90,84.57 523.31,83.43 523.71,83.18 524.12,83.23 524.53,83.77 524.94,83.41 525.35,83.81 525.76,83.69 526.17,85.64 526.58,83.79 526.98,85.19 527.39,84.73 527.80,84.39 528.21,84.26 528.62,85.69 529.03,85.03 529.44,84.40 529.85,85.01 530.26,84.67 530.66,84.53 531.07,84.59 531.48,85.30 531.89,84.70 532.30,84.39 532.71,86.06 533.12,84.29 533.53,85.90 533.93,84.74 534.34,84.56 534.75,84.58 535.16,86.23 535.57,86.04 535.98,86.31 536.39,84.80 536.80,85.23 537.20,86.98 537.61,84.78 538.02,84.42 538.43,85.97 538.84,85.62 539.25,85.38 539.66,86.53 540.07,86.05 540.48,85.23 540.88,86.06 541.29,85.80 541.70,85.74 542.11,84.36 542.52,85.68 542.93,85.66 543.34,86.42 543.75,84.94 544.15,86.02 544.56,86.14 544.97,85.00 545.38,85.01 545.79,87.05 546.20,86.55 546.61,85.19 547.02,86.77 547.42,85.01 547.83,86.58 548.24,84.76 548.65,87.37 549.06,88.27 549.47,87.88 549.88,84.89 550.29,87.31 550.70,87.10 551.10,87.26 551.51,87.45 551.92,86.69 552.33,86.76 552.74,87.46 553.15,87.42 553.56,85.81 553.97,86.18 554.37,86.19 554.78,86.01 555.19,87.31 555.60,86.41 556.01,85.77 556.42,87.99 556.83,86.10 557.24,89.51 557.64,89.06 558.05,88.71 558.46,88.34 558.87,88.35 559.28,87.96 559.69,86.85 560.10,88.26 560.51,87.98 560.92,88.83 561.32,89.14 561.73,87.93 562.14,88.46 562.55,87.06 562.96,87.78 563.37,89.52 563.78,87.32 564.19,89.05 564.59,88.39 565.00,88.99 565.41,88.84 565.82,88.68 566.23,89.24 566.64,88.88 567.05,88.51 567.46,87.67 567.86,87.72 568.27,86.81 568.68,89.85 569.09,88.80 569.50,87.42 569.91,89.53 570.32,88.72 570.73,87.97 571.14,87.28 571.54,88.17 571.95,88.43 572.36,88.90 572.77,88.25 573.18,88.74 573.59,88.57 574.00,89.47 574.41,89.06 574.81,89.76 575.22,89.98 575.63,89.80 576.04,89.83 576.45,89.72 576.86,89.68 577.27,90.54 577.68,88.97 578.08,89.00 578.49,87.95 578.90,91.43 579.31,90.64 579.72,90.28 580.13,90.23 580.54,89.45 580.95,90.29 581.36,90.25 581.76,88.97 582.17,89.81 582.58,91.11 582.99,88.89 583.40,87.78 583.81,88.80 584.22,89.97 584.63,88.67 585.03,89.96 585.44,90.25 585.85,89.75 586.26,88.87 586.67,89.95 587.08,90.35 587.49,91.34 587.90,89.99 588.30,91.14 588.71,90.31 589.12,91.48 589.53,91.06 589.94,91.19 590.35,90.96 590.76,91.41 591.17,89.36 591.58,89.79 591.98,90.80 592.39,91.46 592.80,89.62 593.21,90.83 593.62,90.15 594.03,89.81 594.44,91.08 594.85,90.37 595.25,90.40 595.66,91.21 596.07,91.02 596.48,91.45 596.89,93.92 597.30,91.31 597.71,89.56 598.12,90.15 598.52,88.68 598.93,91.05 599.34,90.37 599.75,91.73 600.16,91.87 600.57,92.02" fill="none" stroke="#22b022" stroke-width="0.6" stroke-opacity="0.8"/>
<polyline points="446.86,125.34 447.27,124.43 447.68,126.16 448.09,123.24 448.50,122.45 448.90,121.94 449.31,123.15 449.72,121.26 450.13,120.55 450.54,121.42 450.95,120.65 451.36,117.14 451.77,119.09 452.17,118.36 452.58,119.07 452.99,117.34 453.40,115.05 453.81,115.34 454.22,115.88 454.63,114.56 455.04,113.73 455.44,113.00 455.85,113.85 456.26,112.12 456.67,112.51 457.08,111.85 457.49,111.64 457.90,111.08 458.31,109.45 458.72,110.91 459.12,108.70 459.53,105.99 459.94,108.67 460.35,107.65 460.76,106.97 461.17,105.07 461.58,107.21 461.99,104.99 462.39,105.10 462.80,102.83 463.21,104.27 463.62,101.89 464.03,104.02 464.44,102.41 464.85,103.25 465.26,102.36 465.66,102.50 466.07,101.32 466.48,99.18 466.89,100.57 467.30,97.52 467.71,97.84 468.12,98.57 468.53,98.41 468.94,97.73 469.34,98.26 469.75,96.68 470.16,96.71 470.57,98.10 470.98,95.97 471.39,95.10 471.80,95.17 472.21,94.56 472.61,94.44 473.02,94.49 473.43,92.77 473.84,92.09 474.25,93.21 474.66,91.87 475.07,93.15 475.48,90.75 475.88,92.20 476.29,91.09 476.70,89.95 477.11,90.86 477.52,90.04 477.93,88.85 478.34,89.87 478.75,88.75 479.16,87.75 479.56,88.15 479.97,88.72 480.38,88.06 480.79,87.60 481.20,87.05 481.61,86.19 482.02,87.78 482.43,86.17 482.83,85.62 483.24,84.17 483.65,86.44 484.06,85.63 484.47,83.78 484.88,84.29 485.29,83.01 485.70,83.70 486.10,83.93 486.51,83.12 486.92,81.71 487.33,81.87 487.74,82.04 488.15,81.80 488.56,80.71 488.97,80.83 489.38,80.88 489.78,80.19 490.19,80.46 490.60,81.24 491.01,79.23 491.42,78.70 491.83,78.27 492.24,79.27 492.65,80.00 493.05,78.35 493.46,78.95 493.87,79.81 494.28,77.81 494.69,78.36 495.10,77.39 495.51,77.62 495.92,76.25 496.32,75.98 496.73,76.04 497.14,75.22 497.55,76.47 497.96,73.73 498.37,77.03 498.78,74.67 499.19,74.19 499.60,75.20 500.00,74.53 500.41,75.44 500.82,74.57 501.23,73.72 501.64,74.84 502.05,75.22 502.46,73.63 502.87,73.83 503.27,73.73 503.68,72.84 504.09,73.67 504.50,71.34 504.91,71.08 505.32,71.85 505.73,72.18 506.14,71.52 506.54,71.37 506.95,71.76 507.36,71.44 507.77,70.33 508.18,71.28 508.59,70.86 509.00,70.51 509.41,70.80 509.82,69.53 510.22,70.67 510.63,68.59 511.04,68.59 511.45,69.05 511.86,68.12 512.27,67.73 512.68,68.83 513.09,68.37 513.49,68.67 513.90,68.30 514.31,68.14 514.72,67.57 515.13,67.04 515.54,65.43 515.95,66.86 516.36,66.17 516.76,67.02 517.17,65.25 517.58,66.40 517.99,66.50 518.40,66.43 518.81,66.01 519.22,66.22 519.63,65.58 520.04,64.07 520.44,65.37 520.85,65.92 521.26,66.71 521.67,65.07 522.08,65.70 522.49,65.35 522.90,64.43 523.31,64.11 523.71,63.97 524.12,63.45 524.53,65.31 524.94,65.12 525.35,65.37 525.76,65.55 526.17,65.31 526.58,65.54 526.98,64.29 527.39,65.85 527.80,63.14 528.21,66.83 528.62,64.43 529.03,66.53 529.44,65.67 529.85,66.36 530.26,65.38 530.66,65.04 531.07,65.87 531.48,66.14 531.89,66.48 532.30,66.42 532.71,66.49 533.12,66.41 533.53,65.84 533.93,65.21 534.34,66.61 534.75,67.80 535.16,66.46 535.57,65.51 535.98,67.14 536.39,66.02 536.80,67.38 537.20,67.54 537.61,66.33 538.02,68.16 538.43,66.99 538.84,69.01 539.25,67.66 539.66,66.51 540.07,67.32 540.48,67.56 540.88,66.56 541.29,67.86 541.70,68.12 542.11,67.56 542.52,67.33 542.93,67.21 543.34,67.54 543.75,66.44 544.15,67.03 544.56,67.69 544.97,65.68 545.38,69.02 545.79,67.55 546.20,68.48 546.61,66.05 547.02,67.69 547.42,67.30 547.83,67.72 548.24,66.87 548.65,68.64 549.06,67.47 549.47,69.76 549.88,67.88 550.29,67.45 550.70,67.74 551.10,68.03 551.51,70.19 551.92,68.58 552.33,69.00 552.74,67.48 553.15,68.38 553.56,68.34 553.97,67.84 554.37,68.57 554.78,70.23 555.19,69.82 555.60,70.97 556.01,68.22 556.42,69.47 556.83,70.46 557.24,69.01 557.64,69.85 558.05,69.80 558.46,68.50 558.87,71.41 559.28,70.97 559.69,69.86 560.10,70.05 560.51,68.94 560.92,70.26 561.32,69.57 561.73,68.60 562.14,71.29 562.55,71.40 562.96,70.85 563.37,70.48 563.78,71.29 564.19,70.20 564.59,71.13 565.00,69.57 565.41,70.16 565.82,70.07 566.23,70.52 566.64,70.59 567.05,72.20 567.46,71.07 567.86,72.45 568.27,69.87 568.68,72.01 569.09,71.88 569.50,71.55 569.91,69.35 570.32,72.22 570.73,69.91 571.14,71.27 571.54,69.25 571.95,71.69 572.36,72.02 572.77,71.64 573.18,72.14 573.59,72.34 574.00,71.18 574.41,72.23 574.81,71.14 575.22,71.44 575.63,71.22 576.04,70.72 576.45,71.22 576.86,72.98 577.27,71.09 577.68,74.39 578.08,71.26 578.49,71.36 578.90,73.36 579.31,71.42 579.72,74.16 580.13,71.76 580.54,73.02 580.95,72.97 581.36,72.93 581.76,73.32 582.17,72.27 582.58,72.99 582.99,73.04 583.40,73.01 583.81,73.42 584.22,74.03 584.63,72.72 585.03,72.56 585.44,74.34 585.85,72.57 586.26,72.36 586.67,73.35 587.08,72.30 587.49,75.45 587.90,72.49 588.30,74.34 588.71,73.51 589.12,74.60 589.53,71.79 589.94,74.27 590.35,73.41 590.76,75.28 591.17,74.34 591.58,73.78 591.98,74.29 592.39,74.89 592.80,73.03 593.21,75.67 593.62,74.34 594.03,74.61 594.44,74.83 594.85,74.02 595.25,74.42 595.66,74.83 596.07,74.17 596.48,74.85 596.89,74.38 597.30,73.80 597.71,74.73 598.12,74.94 598.52,75.53 598.93,73.89 599.34,74.33 599.75,74.75 600.16,74.99 600.57,76.01" fill="none" stroke="#1eaa1e" stroke-width="0.6" stroke-opacity="0.8"/>
<polyline points="446.86,125.72 447.27,124.54 447.68,124.80 448.09,123.65 448.50,121.97 448.90,119.30 449.31,119.68 449.72,120.30 450.13,117.07 450.54,116.48 450.95,115.75 451.36,115.94 451.77,114.69 452.17,111.87 452.58,111.93 452.99,108.13 453.40,112.76 453.81,111.73 454.22,109.94 454.63,109.55 455.04,108.55 455.44,106.58 455.85,105.29 456.26,106.87 456.67,104.42 457.08,103.43 457.49,103.20 457.90,101.54 458.31,100.98 458.72,101.95 459.12,100.44 459.53,99.63 459.94,100.20 460.35,98.69 460.76,96.96 461.17,96.83 461.58,96.48 461.99,93.66 462.39,94.69 462.80,93.78 463.21,94.71 463.62,92.31 464.03,93.12 464.44,92.30 464.85,91.90 465.26,92.05 465.66,89.89 466.07,90.86 466.48,88.53 466.89,89.37 467.30,87.04 467.71,87.30 468.12,86.04 468.53,87.46 468.94,85.49 469.34,84.83 469.75,84.71 470.16,84.53 470.57,84.44 470.98,86.22 471.39,82.51 471.80,83.55 472.21,82.88 472.61,81.19 473.02,83.32 473.43,81.24 473.84,79.54 474.25,79.65 474.66,79.41 475.07,79.46 475.48,78.20 475.88,79.25 476.29,77.98 476.70,76.39 477.11,77.45 477.52,76.37 477.93,76.17 478.34,76.52 478.75,76.75 479.16,75.41 479.56,74.94 479.97,74.79 480.38,73.57 480.79,72.88 481.20,72.24 481.61,72.11 482.02,73.06 482.43,70.51 482.83,71.05 483.24,70.37 483.65,71.77 484.06,69.40 484.47,68.02 484.88,69.22 485.29,68.37 485.70,69.51 486.10,68.55 486.51,68.43 486.92,67.50 487.33,67.62 487.74,67.23 488.15,67.94 488.56,67.88 488.97,66.58 489.38,64.11 489.78,66.84 490.19,65.25 490.60,64.28 491.01,65.71 491.42,66.30 491.83,64.29 492.24,64.38 492.65,64.83 493.05,62.53 493.46,62.95 493.87,63.32 494.28,64.25 494.69,61.73 495.10,61.59 495.51,61.61 495.92,60.68 496.32,62.75 496.73,62.48 497.14,60.64 497.55,60.78 497.96,60.98 498.37,61.13 498.78,59.61 499.19,60.06 499.60,59.32 500.00,60.84 500.41,59.59 500.82,59.07 501.23,58.35 501.64,60.47 502.05,59.01 502.46,59.20 502.87,58.43 503.27,58.37 503.68,57.69 504.09,57.18 504.50,57.45 504.91,57.56 505.32,56.56 505.73,55.93 506.14,56.91 506.54,57.48 506.95,55.08 507.36,55.65 507.77,54.38 508.18,56.46 508.59,56.28 509.00,55.93 509.41,55.70 509.82,56.73 510.22,54.58 510.63,56.44 511.04,57.40 511.45,54.89 511.86,55.62 512.27,54.32 512.68,55.41 513.09,55.43 513.49,55.90 513.90,55.07 514.31,54.09 514.72,51.84 515.13,52.98 515.54,53.99 515.95,52.12 516.36,52.95 516.76,54.66 517.17,54.43 517.58,54.10 517.99,53.16 518.40,52.50 518.81,52.94 519.22,52.76 519.63,52.99 520.04,51.90 520.44,51.25 520.85,52.75 521.26,50.62 521.67,52.33 522.08,51.73 522.49,49.92 522.90,50.74 523.31,51.12 523.71,52.82 524.12,51.17 524.53,51.64 524.94,51.61 525.35,50.55 525.76,52.08 526.17,50.12 526.58,51.73 526.98,51.72 527.39,52.22 527.80,51.96 528.21,50.95 528.62,52.01 529.03,53.18 529.44,53.07 529.85,51.47 530.26,52.09 530.66,53.40 531.07,52.85 531.48,52.75 531.89,52.42 532.30,53.84 532.71,53.01 533.12,54.31 533.53,53.94 533.93,53.55 534.34,52.26 534.75,53.61 535.16,52.17 535.57,53.37 535.98,52.66 536.39,54.01 536.80,55.53 537.20,55.95 537.61,54.51 538.02,52.67 538.43,54.44 538.84,54.83 539.25,53.94 539.66,54.89 540.07,54.98 540.48,54.56 540.88,54.47 541.29,55.41 541.70,55.70 542.11,53.67 542.52,55.91 542.93,56.03 543.34,55.49 543.75,55.54 544.15,55.24 544.56,54.22 544.97,54.52 545.38,55.78 545.79,55.73 546.20,55.07 546.61,56.11 547.02,55.94 547.42,57.12 547.83,55.90 548.24,56.41 548.65,57.67 549.06,56.29 549.47,54.65 549.88,56.37 550.29,57.45 550.70,55.71 551.10,56.60 551.51,56.83 551.92,55.76 552.33,56.36 552.74,55.42 553.15,58.02 553.56,57.79 553.97,57.57 554.37,57.40 554.78,58.69 555.19,57.49 555.60,59.04 556.01,58.39 556.42,58.20 556.83,57.84 557.24,57.86 557.64,58.89 558.05,58.01 558.46,58.12 558.87,58.55 559.28,58.52 559.69,59.07 560.10,57.13 560.51,57.59 560.92,58.65 561.32,57.79 561.73,59.80 562.14,59.56 562.55,59.48 562.96,58.88 563.37,59.63 563.78,60.23 564.19,60.82 564.59,60.55 565.00,58.85 565.41,59.33 565.82,61.05 566.23,58.28 566.64,60.41 567.05,60.47 567.46,60.29 567.86,60.18 568.27,60.63 568.68,60.41 569.09,59.78 569.50,59.74 569.91,61.20 570.32,60.84 570.73,61.43 571.14,61.23 571.54,61.01 571.95,61.28 572.36,60.56 572.77,61.96 573.18,60.90 573.59,60.67 574.00,61.66 574.41,61.75 574.81,61.02 575.22,61.95 575.63,61.99 576.04,61.59 576.45,64.01 576.86,61.32 577.27,61.79 577.68,61.57 578.08,63.36 578.49,62.60 578.90,61.93 579.31,61.90 579.72,62.98 580.13,62.93 580.54,61.28 580.95,62.46 581.36,61.69 581.76,64.01 582.17,62.54 582.58,63.47 582.99,63.51 583.40,62.04 583.81,64.14 584.22,64.11 584.63,63.97 585.03,63.65 585.44,63.49 585.85,63.22 586.26,62.58 586.67,63.33 587.08,62.28 587.49,62.96 587.90,63.49 588.30,64.16 588.71,62.91 589.12,64.45 589.53,63.40 589.94,64.30 590.35,64.89 590.76,63.90 591.17,63.96 591.58,64.36 591.98,63.75 592.39,64.67 592.80,65.48 593.21,64.85 593.62,63.37 594.03,65.91 594.44,66.72 594.85,65.21 595.25,66.17 595.66,64.19 596.07,65.29 596.48,66.31 596.89,65.62 597.30,66.46 597.71,65.29 598.12,64.98 598.52,64.81 598.93,65.02 599.34,66.02 599.75,65.05 600.16,65.72 600.57,67.33" fill="none" stroke="#1e7d1e" stroke-width="0.6" stroke-opacity="0.8"/>
<polyline points="446.86,124.57 447.27,124.98 447.68,123.21 448.09,122.56 448.50,120.47 448.90,120.16 449.31,117.99 449.72,116.27 450.13,115.22 450.54,113.20 450.95,110.87 451.36,110.56 451.77,108.66 452.17,106.85 452.58,107.13 452.99,104.14 453.40,104.31 453.81,103.18 454.22,101.71 454.63,99.74 455.04,100.91 455.44,97.99 455.85,98.19 456.26,96.67 456.67,96.64 457.08,96.98 457.49,92.81 457.90,92.23 458.31,92.89 458.72,91.86 459.12,91.23 459.53,89.35 459.94,86.69 460.35,87.75 460.76,88.28 461.17,85.36 461.58,86.00 461.99,85.82 462.39,83.34 462.80,82.94 463.21,82.05 463.62,80.87 464.03,79.95 464.44,81.91 464.85,79.27 465.26,77.75 465.66,77.02 466.07,78.36 466.48,78.43 466.89,77.19 467.30,75.28 467.71,75.20 468.12,73.74 468.53,74.03 468.94,74.43 469.34,73.74 469.75,72.44 470.16,70.98 470.57,69.90 470.98,71.55 471.39,69.80 471.80,69.75 472.21,70.23 472.61,69.78 473.02,66.93 473.43,68.22 473.84,67.47 474.25,66.56 474.66,66.21 475.07,65.51 475.48,66.40 475.88,65.63 476.29,64.68 476.70,64.21 477.11,64.77 477.52,65.24 477.93,62.64 478.34,62.30 478.75,61.86 479.16,62.44 479.56,63.56 479.97,62.01 480.38,59.57 480.79,60.75 481.20,60.49 481.61,61.81 482.02,60.66 482.43,58.95 482.83,59.22 483.24,59.34 483.65,57.85 484.06,58.05 484.47,57.92 484.88,58.28 485.29,57.51 485.70,56.72 486.10,57.10 486.51,58.23 486.92,57.04 487.33,56.89 487.74,56.06 488.15,55.09 488.56,56.03 488.97,56.13 489.38,54.90 489.78,54.92 490.19,55.80 490.60,54.52 491.01,54.56 491.42,54.23 491.83,55.67 492.24,55.88 492.65,55.28 493.05,55.26 493.46,52.76 493.87,52.57 494.28,54.39 494.69,51.83 495.10,53.93 495.51,53.48 495.92,50.74 496.32,53.59 496.73,51.70 497.14,51.45 497.55,51.05 497.96,51.30 498.37,51.52 498.78,50.26 499.19,51.53 499.60,51.25 500.00,50.86 500.41,51.37 500.82,51.08 501.23,49.77 501.64,49.30 502.05,50.06 502.46,50.57 502.87,50.79 503.27,50.59 503.68,50.46 504.09,50.42 504.50,50.00 504.91,50.02 505.32,48.78 505.73,50.86 506.14,49.88 506.54,48.72 506.95,49.69 507.36,49.60 507.77,48.67 508.18,49.14 508.59,49.82 509.00,48.76 509.41,48.26 509.82,50.20 510.22,47.85 510.63,50.06 511.04,47.88 511.45,49.56 511.86,48.14 512.27,48.30 512.68,47.30 513.09,48.19 513.49,48.43 513.90,48.64 514.31,47.74 514.72,48.07 515.13,47.03 515.54,47.37 515.95,46.59 516.36,46.99 516.76,47.39 517.17,47.55 517.58,46.89 517.99,46.71 518.40,48.49 518.81,46.92 519.22,47.53 519.63,46.88 520.04,46.42 520.44,48.74 520.85,47.11 521.26,46.09 521.67,48.43 522.08,46.68 522.49,46.82 522.90,47.28 523.31,45.96 523.71,45.97 524.12,46.86 524.53,45.76 524.94,45.82 525.35,47.02 525.76,46.57 526.17,46.65 526.58,46.01 526.98,46.92 527.39,47.13 527.80,47.73 528.21,47.31 528.62,46.67 529.03,48.21 529.44,48.34 529.85,49.20 530.26,46.23 530.66,48.91 531.07,49.11 531.48,49.27 531.89,47.85 532.30,48.67 532.71,50.86 533.12,49.07 533.53,47.70 533.93,49.44 534.34,49.40 534.75,47.10 535.16,49.92 535.57,50.00 535.98,49.36 536.39,47.90 536.80,49.74 537.20,51.63 537.61,50.45 538.02,50.62 538.43,49.88 538.84,50.94 539.25,50.61 539.66,51.95 540.07,52.04 540.48,50.99 540.88,49.71 541.29,52.09 541.70,52.72 542.11,50.41 542.52,51.20 542.93,50.95 543.34,51.89 543.75,51.63 544.15,52.02 544.56,52.04 544.97,50.59 545.38,52.59 545.79,52.69 546.20,52.43 546.61,52.70 547.02,51.17 547.42,52.88 547.83,52.50 548.24,54.01 548.65,52.56 549.06,52.57 549.47,52.66 549.88,54.73 550.29,53.97 550.70,55.82 551.10,52.17 551.51,53.81 551.92,52.39 552.33,52.24 552.74,53.12 553.15,54.67 553.56,54.40 553.97,53.62 554.37,56.11 554.78,53.29 555.19,53.31 555.60,53.94 556.01,55.04 556.42,54.57 556.83,56.38 557.24,55.91 557.64,55.57 558.05,55.93 558.46,53.91 558.87,55.07 559.28,57.67 559.69,54.65 560.10,55.31 560.51,56.05 560.92,56.57 561.32,54.23 561.73,55.92 562.14,55.99 562.55,57.72 562.96,56.92 563.37,55.72 563.78,56.49 564.19,57.09 564.59,57.06 565.00,58.28 565.41,59.12 565.82,56.60 566.23,58.43 566.64,58.63 567.05,57.08 567.46,56.63 567.86,57.84 568.27,56.67 568.68,57.69 569.09,60.56 569.50,56.49 569.91,58.95 570.32,56.71 570.73,58.44 571.14,58.34 571.54,58.78 571.95,59.34 572.36,58.02 572.77,57.18 573.18,57.60 573.59,59.31 574.00,58.48 574.41,58.09 574.81,58.59 575.22,60.33 575.63,57.48 576.04,60.02 576.45,60.19 576.86,59.43 577.27,59.44 577.68,60.22 578.08,60.97 578.49,60.98 578.90,60.00 579.31,61.74 579.72,59.19 580.13,59.70 580.54,60.17 580.95,60.27 581.36,61.30 581.76,61.11 582.17,59.93 582.58,61.25 582.99,59.50 583.40,60.08 583.81,60.46 584.22,61.36 584.63,62.06 585.03,61.46 585.44,62.26 585.85,61.82 586.26,61.90 586.67,62.17 587.08,60.77 587.49,62.63 587.90,62.60 588.30,60.99 588.71,61.89 589.12,61.76 589.53,62.84 589.94,62.08 590.35,61.30 590.76,62.53 591.17,62.25 591.58,61.64 591.98,62.28 592.39,61.80 592.80,64.02 593.21,64.60 593.62,64.13 594.03,62.85 594.44,63.91 594.85,65.16 595.25,61.90 595.66,62.42 596.07,64.12 596.48,64.31 596.89,64.43 597.30,63.27 597.71,63.59 598.12,63.95 598.52,62.95 598.93,64.96 599.34,65.38 599.75,64.41 600.16,64.53 600.57,64.49" fill="none" stroke="#15701a" stroke-width="0.6" stroke-opacity="0.8"/>
<polyline points="446.86,125.37 447.27,123.75 447.68,117.81 448.09,117.70 448.50,112.89 448.90,110.05 449.31,106.92 449.72,104.85 450.13,103.28 450.54,100.33 450.95,99.07 451.36,95.81 451.77,93.75 452.17,93.17 452.58,87.65 452.99,88.24 453.40,85.44 453.81,83.05 454.22,82.58 454.63,81.33 455.04,80.43 455.44,78.65 455.85,77.24 456.26,75.40 456.67,73.28 457.08,72.58 457.49,70.25 457.90,70.08 458.31,69.13 458.72,70.97 459.12,67.43 459.53,66.09 459.94,66.70 460.35,64.57 460.76,64.28 461.17,63.04 461.58,62.10 461.99,61.56 462.39,60.64 462.80,59.59 463.21,58.96 463.62,59.19 464.03,57.19 464.44,57.35 464.85,56.51 465.26,54.77 465.66,54.31 466.07,53.37 466.48,55.01 466.89,53.98 467.30,53.48 467.71,53.39 468.12,53.20 468.53,51.95 468.94,51.31 469.34,50.02 469.75,52.07 470.16,50.87 470.57,51.62 470.98,50.89 471.39,52.43 471.80,48.21 472.21,51.20 472.61,49.45 473.02,50.86 473.43,49.35 473.84,49.73 474.25,50.45 474.66,49.32 475.07,48.39 475.48,48.11 475.88,49.51 476.29,47.07 476.70,47.73 477.11,48.29 477.52,45.80 477.93,47.59 478.34,46.63 478.75,45.36 479.16,46.50 479.56,46.51 479.97,45.45 480.38,46.55 480.79,45.99 481.20,46.07 481.61,46.17 482.02,45.07 482.43,45.39 482.83,44.29 483.24,45.10 483.65,46.59 484.06,44.92 484.47,45.43 484.88,45.33 485.29,44.18 485.70,44.59 486.10,46.29 486.51,43.05 486.92,44.87 487.33,46.12 487.74,44.91 488.15,44.14 488.56,45.49 488.97,45.21 489.38,45.97 489.78,44.11 490.19,44.77 490.60,42.92 491.01,43.97 491.42,43.95 491.83,44.66 492.24,43.22 492.65,45.25 493.05,43.76 493.46,43.54 493.87,44.62 494.28,44.94 494.69,42.85 495.10,42.22 495.51,43.45 495.92,42.16 496.32,43.33 496.73,43.87 497.14,44.03 497.55,44.73 497.96,42.82 498.37,44.10 498.78,44.14 499.19,43.23 499.60,43.10 500.00,44.16 500.41,43.30 500.82,43.60 501.23,43.33 501.64,43.55 502.05,43.77 502.46,45.52 502.87,43.89 503.27,42.30 503.68,43.62 504.09,43.16 504.50,42.77 504.91,44.16 505.32,43.20 505.73,43.49 506.14,42.92 506.54,42.69 506.95,43.14 507.36,43.38 507.77,42.34 508.18,43.05 508.59,44.45 509.00,42.04 509.41,42.72 509.82,43.63 510.22,43.15 510.63,43.92 511.04,42.95 511.45,44.36 511.86,42.17 512.27,42.63 512.68,43.90 513.09,42.58 513.49,44.28 513.90,43.46 514.31,43.86 514.72,42.37 515.13,42.35 515.54,44.14 515.95,42.79 516.36,42.50 516.76,43.23 517.17,40.79 517.58,44.29 517.99,41.73 518.40,41.57 518.81,43.19 519.22,43.86 519.63,41.80 520.04,45.03 520.44,42.88 520.85,44.09 521.26,42.84 521.67,43.32 522.08,43.95 522.49,42.31 522.90,41.77 523.31,43.98 523.71,42.27 524.12,42.87 524.53,43.67 524.94,43.66 525.35,42.82 525.76,42.44 526.17,43.79 526.58,45.82 526.98,43.07 527.39,43.53 527.80,45.71 528.21,44.58 528.62,44.24 529.03,44.60 529.44,44.20 529.85,45.35 530.26,44.13 530.66,47.22 531.07,44.61 531.48,45.55 531.89,45.25 532.30,44.69 532.71,44.18 533.12,46.38 533.53,45.69 533.93,46.61 534.34,45.79 534.75,46.45 535.16,47.11 535.57,45.18 535.98,45.96 536.39,46.39 536.80,45.34 537.20,48.05 537.61,46.38 538.02,45.42 538.43,47.26 538.84,47.82 539.25,47.87 539.66,46.20 540.07,46.46 540.48,47.21 540.88,46.79 541.29,48.31 541.70,48.17 542.11,47.21 542.52,48.88 542.93,47.97 543.34,48.29 543.75,49.13 544.15,48.31 544.56,49.72 544.97,49.27 545.38,50.56 545.79,50.04 546.20,49.81 546.61,48.82 547.02,49.24 547.42,50.46 547.83,49.69 548.24,47.59 548.65,49.62 549.06,49.43 549.47,51.76 549.88,50.45 550.29,49.11 550.70,51.48 551.10,51.12 551.51,51.09 551.92,50.65 552.33,50.12 552.74,52.29 553.15,50.25 553.56,53.28 553.97,51.87 554.37,50.81 554.78,52.30 555.19,52.13 555.60,51.96 556.01,50.19 556.42,52.59 556.83,50.96 557.24,50.18 557.64,52.36 558.05,52.84 558.46,52.23 558.87,53.22 559.28,52.76 559.69,53.48 560.10,53.96 560.51,54.16 560.92,52.04 561.32,53.56 561.73,54.08 562.14,52.22 562.55,53.42 562.96,53.67 563.37,54.14 563.78,53.57 564.19,53.95 564.59,54.16 565.00,54.03 565.41,53.30 565.82,54.25 566.23,53.02 566.64,53.42 567.05,55.29 567.46,55.34 567.86,55.72 568.27,55.36 568.68,54.15 569.09,55.19 569.50,55.43 569.91,55.00 570.32,57.12 570.73,55.00 571.14,55.56 571.54,54.90 571.95,55.85 572.36,54.80 572.77,54.85 573.18,56.15 573.59,55.48 574.00,56.88 574.41,56.81 574.81,57.25 575.22,56.56 575.63,57.55 576.04,57.54 576.45,56.87 576.86,58.06 577.27,56.35 577.68,57.78 578.08,57.28 578.49,57.43 578.90,56.36 579.31,56.82 579.72,57.66 580.13,58.07 580.54,56.88 580.95,57.86 581.36,58.76 581.76,57.82 582.17,57.47 582.58,58.15 582.99,58.17 583.40,57.01 583.81,58.87 584.22,57.83 584.63,57.21 585.03,57.19 585.44,59.80 585.85,58.41 586.26,58.85 586.67,56.95 587.08,58.03 587.49,58.36 587.90,58.30 588.30,58.95 588.71,60.46 589.12,57.65 589.53,61.22 589.94,59.13 590.35,59.21 590.76,59.82 591.17,59.19 591.58,60.20 591.98,59.56 592.39,60.15 592.80,61.10 593.21,59.68 593.62,61.14 594.03,60.17 594.44,61.75 594.85,60.70 595.25,60.52 595.66,60.07 596.07,62.15 596.48,61.76 596.89,61.38 597.30,62.37 597.71,61.01 598.12,59.54 598.52,61.13 598.93,61.26 599.34,62.64 599.75,61.50 600.16,61.61 600.57,60.44" fill="none" stroke="#116a11" stroke-width="0.6" stroke-opacity="0.8"/>
<polyline points="446.86,126.12 447.27,118.96 447.68,115.02 448.09,109.98 448.50,105.49 448.90,100.58 449.31,98.16 449.72,93.45 450.13,88.36 450.54,88.08 450.95,82.71 451.36,80.04 451.77,78.53 452.17,76.45 452.58,72.53 452.99,71.78 453.40,69.28 453.81,67.95 454.22,67.09 454.63,63.63 455.04,62.53 455.44,62.61 455.85,59.56 456.26,60.49 456.67,59.44 457.08,56.54 457.49,56.75 457.90,55.50 458.31,53.28 458.72,54.90 459.12,52.70 459.53,52.95 459.94,51.90 460.35,51.62 460.76,51.59 461.17,50.36 461.58,50.76 461.99,49.50 462.39,49.97 462.80,49.00 463.21,48.29 463.62,49.32 464.03,47.84 464.44,46.88 464.85,47.13 465.26,46.17 465.66,47.64 466.07,46.03 466.48,46.06 466.89,48.59 467.30,45.98 467.71,45.03 468.12,45.71 468.53,45.48 468.94,45.49 469.34,45.38 469.75,46.05 470.16,45.61 470.57,46.85 470.98,42.95 471.39,44.72 471.80,44.42 472.21,43.97 472.61,44.00 473.02,44.44 473.43,45.69 473.84,45.29 474.25,42.67 474.66,43.73 475.07,43.46 475.48,44.92 475.88,44.35 476.29,43.64 476.70,44.51 477.11,42.72 477.52,44.41 477.93,44.07 478.34,44.67 478.75,43.29 479.16,42.43 479.56,43.34 479.97,43.50 480.38,43.78 480.79,42.72 481.20,43.39 481.61,41.80 482.02,43.56 482.43,43.63 482.83,43.73 483.24,44.92 483.65,43.00 484.06,43.06 484.47,44.56 484.88,44.15 485.29,44.04 485.70,43.34 486.10,43.94 486.51,42.34 486.92,41.93 487.33,43.54 487.74,42.92 488.15,43.85 488.56,41.72 488.97,43.82 489.38,43.54 489.78,42.81 490.19,43.51 490.60,40.40 491.01,42.92 491.42,42.94 491.83,43.57 492.24,42.75 492.65,43.19 493.05,43.00 493.46,41.73 493.87,43.11 494.28,42.20 494.69,43.10 495.10,41.63 495.51,43.17 495.92,43.33 496.32,42.67 496.73,41.33 497.14,42.77 497.55,43.16 497.96,42.50 498.37,42.97 498.78,42.09 499.19,42.90 499.60,42.00 500.00,41.47 500.41,41.80 500.82,40.89 501.23,41.93 501.64,40.55 502.05,41.03 502.46,42.37 502.87,41.43 503.27,42.74 503.68,42.24 504.09,42.12 504.50,42.72 504.91,41.73 505.32,42.06 505.73,40.21 506.14,41.26 506.54,42.13 506.95,42.49 507.36,42.35 507.77,42.46 508.18,42.49 508.59,41.80 509.00,42.98 509.41,42.04 509.82,41.32 510.22,42.24 510.63,42.69 511.04,42.12 511.45,40.91 511.86,42.31 512.27,40.26 512.68,43.06 513.09,42.28 513.49,41.02 513.90,40.36 514.31,41.69 514.72,42.94 515.13,41.72 515.54,42.25 515.95,42.03 516.36,41.74 516.76,41.92 517.17,41.41 517.58,41.22 517.99,41.58 518.40,42.87 518.81,41.44 519.22,43.55 519.63,41.18 520.04,41.59 520.44,42.01 520.85,39.34 521.26,39.71 521.67,39.96 522.08,40.93 522.49,41.52 522.90,40.67 523.31,39.63 523.71,41.18 524.12,41.35 524.53,41.85 524.94,41.52 525.35,40.84 525.76,42.49 526.17,40.89 526.58,41.81 526.98,40.10 527.39,42.00 527.80,41.18 528.21,43.27 528.62,40.40 529.03,42.56 529.44,42.82 529.85,41.56 530.26,42.85 530.66,44.18 531.07,42.68 531.48,42.85 531.89,43.46 532.30,43.97 532.71,45.09 533.12,42.33 533.53,44.29 533.93,43.71 534.34,44.58 534.75,44.87 535.16,44.12 535.57,45.26 535.98,43.78 536.39,46.12 536.80,44.30 537.20,43.91 537.61,45.44 538.02,44.98 538.43,44.56 538.84,45.77 539.25,45.70 539.66,45.78 540.07,43.35 540.48,46.56 540.88,46.11 541.29,46.46 541.70,46.66 542.11,47.10 542.52,46.98 542.93,46.38 543.34,45.61 543.75,45.32 544.15,47.97 544.56,47.81 544.97,47.10 545.38,48.03 545.79,47.97 546.20,47.60 546.61,48.00 547.02,48.36 547.42,47.54 547.83,48.52 548.24,48.18 548.65,47.78 549.06,47.54 549.47,48.10 549.88,47.44 550.29,48.37 550.70,49.89 551.10,47.43 551.51,46.33 551.92,48.22 552.33,47.64 552.74,48.18 553.15,49.64 553.56,48.82 553.97,50.07 554.37,50.07 554.78,49.19 555.19,49.71 555.60,50.47 556.01,51.24 556.42,49.41 556.83,50.21 557.24,50.19 557.64,51.20 558.05,51.21 558.46,50.68 558.87,52.37 559.28,49.79 559.69,50.94 560.10,50.11 560.51,50.33 560.92,51.77 561.32,50.93 561.73,52.45 562.14,52.38 562.55,50.52 562.96,52.26 563.37,52.57 563.78,51.59 564.19,52.08 564.59,51.36 565.00,53.42 565.41,52.64 565.82,53.45 566.23,52.60 566.64,52.96 567.05,53.64 567.46,54.45 567.86,54.21 568.27,52.32 568.68,53.56 569.09,54.29 569.50,53.28 569.91,54.52 570.32,52.84 570.73,52.98 571.14,53.81 571.54,54.45 571.95,55.64 572.36,53.72 572.77,52.48 573.18,54.18 573.59,54.92 574.00,53.85 574.41,54.99 574.81,55.81 575.22,54.94 575.63,54.43 576.04,56.64 576.45,54.24 576.86,53.83 577.27,55.37 577.68,55.87 578.08,56.78 578.49,55.17 578.90,55.99 579.31,54.78 579.72,54.58 580.13,54.95 580.54,55.98 580.95,57.82 581.36,55.18 581.76,56.85 582.17,56.95 582.58,55.69 582.99,56.31 583.40,57.73 583.81,57.21 584.22,57.26 584.63,57.24 585.03,58.23 585.44,56.00 585.85,57.51 586.26,56.92 586.67,56.67 587.08,55.79 587.49,57.15 587.90,58.51 588.30,58.35 588.71,57.31 589.12,56.72 589.53,59.53 589.94,56.68 590.35,58.94 590.76,58.71 591.17,59.01 591.58,58.21 591.98,58.99 592.39,58.95 592.80,59.82 593.21,57.83 593.62,58.89 594.03,59.33 594.44,57.53 594.85,58.91 595.25,58.37 595.66,59.90 596.07,59.63 596.48,59.98 596.89,59.19 597.30,59.78 597.71,61.60 598.12,59.72 598.52,60.50 598.93,60.18 599.34,59.66 599.75,60.83 600.16,60.12 600.57,60.75" fill="none" stroke="#0d640d" stroke-width="0.6" stroke-opacity="0.8"/>
<line x1="442.60" y1="16.40" x2="442.60" y2="126.90" stroke="#111" stroke-width="1.4" />
<line x1="441.90" y1="126.20" x2="607.83" y2="126.20" stroke="#111" stroke-width="1.4" />
<line x1="437.60" y1="126.20" x2="442.60" y2="126.20" stroke="#111" stroke-width="1.2" />
<text x="436.80" y="129.20" font-size="8.3" font-weight="bold" text-anchor="end" fill="#111" >0.00</text>
<line x1="437.60" y1="104.24" x2="442.60" y2="104.24" stroke="#111" stroke-width="1.2" />
<text x="436.80" y="107.24" font-size="8.3" font-weight="bold" text-anchor="end" fill="#111" >0.05</text>
<line x1="437.60" y1="82.28" x2="442.60" y2="82.28" stroke="#111" stroke-width="1.2" />
<text x="436.80" y="85.28" font-size="8.3" font-weight="bold" text-anchor="end" fill="#111" >0.10</text>
<line x1="437.60" y1="60.32" x2="442.60" y2="60.32" stroke="#111" stroke-width="1.2" />
<text x="436.80" y="63.32" font-size="8.3" font-weight="bold" text-anchor="end" fill="#111" >0.15</text>
<line x1="437.60" y1="38.36" x2="442.60" y2="38.36" stroke="#111" stroke-width="1.2" />
<text x="436.80" y="41.36" font-size="8.3" font-weight="bold" text-anchor="end" fill="#111" >0.20</text>
<line x1="437.60" y1="16.40" x2="442.60" y2="16.40" stroke="#111" stroke-width="1.2" />
<text x="436.80" y="19.40" font-size="8.3" font-weight="bold" text-anchor="end" fill="#111" >0.25</text>
<line x1="441.75" y1="126.20" x2="441.75" y2="128.50" stroke="#111" stroke-width="1.0" />
<line x1="446.86" y1="126.20" x2="446.86" y2="128.50" stroke="#111" stroke-width="1.0" />
<line x1="451.97" y1="126.20" x2="451.97" y2="128.50" stroke="#111" stroke-width="1.0" />
<line x1="457.08" y1="126.20" x2="457.08" y2="128.50" stroke="#111" stroke-width="1.0" />
<line x1="462.19" y1="126.20" x2="462.19" y2="128.50" stroke="#111" stroke-width="1.0" />
<line x1="467.30" y1="126.20" x2="467.30" y2="130.20" stroke="#111" stroke-width="1.2" />
<text x="467.30" y="139.20" font-size="8.3" font-weight="bold" text-anchor="middle" fill="#111" >200</text>
<line x1="472.41" y1="126.20" x2="472.41" y2="128.50" stroke="#111" stroke-width="1.0" />
<line x1="477.52" y1="126.20" x2="477.52" y2="128.50" stroke="#111" stroke-width="1.0" />
<line x1="482.63" y1="126.20" x2="482.63" y2="128.50" stroke="#111" stroke-width="1.0" />
<line x1="487.74" y1="126.20" x2="487.74" y2="128.50" stroke="#111" stroke-width="1.0" />
<line x1="492.85" y1="126.20" x2="492.85" y2="128.50" stroke="#111" stroke-width="1.0" />
<line x1="497.96" y1="126.20" x2="497.96" y2="128.50" stroke="#111" stroke-width="1.0" />
<line x1="503.07" y1="126.20" x2="503.07" y2="128.50" stroke="#111" stroke-width="1.0" />
<line x1="508.18" y1="126.20" x2="508.18" y2="128.50" stroke="#111" stroke-width="1.0" />
<line x1="513.29" y1="126.20" x2="513.29" y2="128.50" stroke="#111" stroke-width="1.0" />
<line x1="518.40" y1="126.20" x2="518.40" y2="130.20" stroke="#111" stroke-width="1.2" />
<text x="518.40" y="139.20" font-size="8.3" font-weight="bold" text-anchor="middle" fill="#111" >400</text>
<line x1="523.51" y1="126.20" x2="523.51" y2="128.50" stroke="#111" stroke-width="1.0" />
<line x1="528.62" y1="126.20" x2="528.62" y2="128.50" stroke="#111" stroke-width="1.0" />
<line x1="533.73" y1="126.20" x2="533.73" y2="128.50" stroke="#111" stroke-width="1.0" />
<line x1="538.84" y1="126.20" x2="538.84" y2="128.50" stroke="#111" stroke-width="1.0" />
<line x1="543.95" y1="126.20" x2="543.95" y2="128.50" stroke="#111" stroke-width="1.0" />
<line x1="549.06" y1="126.20" x2="549.06" y2="128.50" stroke="#111" stroke-width="1.0" />
<line x1="554.17" y1="126.20" x2="554.17" y2="128.50" stroke="#111" stroke-width="1.0" />
<line x1="559.28" y1="126.20" x2="559.28" y2="128.50" stroke="#111" stroke-width="1.0" />
<line x1="564.39" y1="126.20" x2="564.39" y2="128.50" stroke="#111" stroke-width="1.0" />
<line x1="569.50" y1="126.20" x2="569.50" y2="130.20" stroke="#111" stroke-width="1.2" />
<text x="569.50" y="139.20" font-size="8.3" font-weight="bold" text-anchor="middle" fill="#111" >600</text>
<line x1="574.61" y1="126.20" x2="574.61" y2="128.50" stroke="#111" stroke-width="1.0" />
<line x1="579.72" y1="126.20" x2="579.72" y2="128.50" stroke="#111" stroke-width="1.0" />
<line x1="584.83" y1="126.20" x2="584.83" y2="128.50" stroke="#111" stroke-width="1.0" />
<line x1="589.94" y1="126.20" x2="589.94" y2="128.50" stroke="#111" stroke-width="1.0" />
<line x1="595.05" y1="126.20" x2="595.05" y2="128.50" stroke="#111" stroke-width="1.0" />
<line x1="600.16" y1="126.20" x2="600.16" y2="128.50" stroke="#111" stroke-width="1.0" />
<line x1="605.27" y1="126.20" x2="605.27" y2="128.50" stroke="#111" stroke-width="1.0" />
<text x="525.50" y="153.20" font-size="9.0" font-weight="bold" text-anchor="middle" fill="#111" >t (s)</text>
<text transform="translate(416.0,71.3) rotate(-90)" font-size="9.1" font-weight="bold" text-anchor="middle" fill="#111">Response (nm)</text>
<text x="460.20" y="172.80" font-size="9.5" fill="#111" ><tspan font-weight="bold">k</tspan><tspan font-size="6.27" baseline-shift="-1.90">a</tspan> (M<tspan font-size="6.27" baseline-shift="3.61">−1</tspan>s<tspan font-size="6.27" baseline-shift="3.61">−1</tspan>) = 4.4 ± 0.6 x 10<tspan font-size="6.27" baseline-shift="3.61">4</tspan> (6)</text>
<text x="460.20" y="184.20" font-size="9.5" fill="#111" ><tspan font-weight="bold">k</tspan><tspan font-size="6.27" baseline-shift="-1.90">d</tspan> (s<tspan font-size="6.27" baseline-shift="3.61">−1</tspan>) = 9 ± 3 x 10<tspan font-size="6.27" baseline-shift="3.61">−4</tspan> (6)</text>
<text x="460.20" y="195.60" font-size="9.5" fill="#111" ><tspan font-weight="bold">K</tspan><tspan font-size="6.27" baseline-shift="-1.90"><tspan font-weight='bold'>D</tspan></tspan> (nM) = 21 ± 5 (6)</text>
<line x1="28.60" y1="471.40" x2="28.60" y2="592.70" stroke="#111" stroke-width="1.4" />
<line x1="27.90" y1="592.00" x2="211.20" y2="592.00" stroke="#111" stroke-width="1.4" />
<line x1="26.00" y1="592.76" x2="28.60" y2="592.76" stroke="#111" stroke-width="0.9" />
<line x1="26.00" y1="588.42" x2="28.60" y2="588.42" stroke="#111" stroke-width="0.9" />
<line x1="26.00" y1="584.08" x2="28.60" y2="584.08" stroke="#111" stroke-width="0.9" />
<line x1="26.00" y1="579.74" x2="28.60" y2="579.74" stroke="#111" stroke-width="0.9" />
<line x1="23.60" y1="575.40" x2="28.60" y2="575.40" stroke="#111" stroke-width="1.2" />
<text x="21.60" y="578.70" font-size="8.9" font-weight="bold" text-anchor="end" fill="#111" >0</text>
<line x1="26.00" y1="571.06" x2="28.60" y2="571.06" stroke="#111" stroke-width="0.9" />
<line x1="26.00" y1="566.72" x2="28.60" y2="566.72" stroke="#111" stroke-width="0.9" />
<line x1="26.00" y1="562.38" x2="28.60" y2="562.38" stroke="#111" stroke-width="0.9" />
<line x1="26.00" y1="558.04" x2="28.60" y2="558.04" stroke="#111" stroke-width="0.9" />
<line x1="26.00" y1="553.70" x2="28.60" y2="553.70" stroke="#111" stroke-width="0.9" />
<line x1="26.00" y1="549.36" x2="28.60" y2="549.36" stroke="#111" stroke-width="0.9" />
<line x1="26.00" y1="545.02" x2="28.60" y2="545.02" stroke="#111" stroke-width="0.9" />
<line x1="26.00" y1="540.68" x2="28.60" y2="540.68" stroke="#111" stroke-width="0.9" />
<line x1="26.00" y1="536.34" x2="28.60" y2="536.34" stroke="#111" stroke-width="0.9" />
<line x1="23.60" y1="532.00" x2="28.60" y2="532.00" stroke="#111" stroke-width="1.2" />
<text x="21.60" y="535.30" font-size="8.9" font-weight="bold" text-anchor="end" fill="#111" >50</text>
<line x1="26.00" y1="527.66" x2="28.60" y2="527.66" stroke="#111" stroke-width="0.9" />
<line x1="26.00" y1="523.32" x2="28.60" y2="523.32" stroke="#111" stroke-width="0.9" />
<line x1="26.00" y1="518.98" x2="28.60" y2="518.98" stroke="#111" stroke-width="0.9" />
<line x1="26.00" y1="514.64" x2="28.60" y2="514.64" stroke="#111" stroke-width="0.9" />
<line x1="26.00" y1="510.30" x2="28.60" y2="510.30" stroke="#111" stroke-width="0.9" />
<line x1="26.00" y1="505.96" x2="28.60" y2="505.96" stroke="#111" stroke-width="0.9" />
<line x1="26.00" y1="501.62" x2="28.60" y2="501.62" stroke="#111" stroke-width="0.9" />
<line x1="26.00" y1="497.28" x2="28.60" y2="497.28" stroke="#111" stroke-width="0.9" />
<line x1="26.00" y1="492.94" x2="28.60" y2="492.94" stroke="#111" stroke-width="0.9" />
<line x1="23.60" y1="488.60" x2="28.60" y2="488.60" stroke="#111" stroke-width="1.2" />
<text x="21.60" y="491.90" font-size="8.9" font-weight="bold" text-anchor="end" fill="#111" >100</text>
<line x1="26.00" y1="484.26" x2="28.60" y2="484.26" stroke="#111" stroke-width="0.9" />
<line x1="26.00" y1="479.92" x2="28.60" y2="479.92" stroke="#111" stroke-width="0.9" />
<line x1="26.00" y1="475.58" x2="28.60" y2="475.58" stroke="#111" stroke-width="0.9" />
<line x1="26.00" y1="471.24" x2="28.60" y2="471.24" stroke="#111" stroke-width="0.9" />
<line x1="28.60" y1="592.00" x2="28.60" y2="596.20" stroke="#111" stroke-width="1.2" />
<text x="27.00" y="608.00" font-size="8.4" font-weight="bold" text-anchor="middle" fill="#111" >10<tspan font-size="5.8" dy="-3.6">-1</tspan></text>
<line x1="37.74" y1="592.00" x2="37.74" y2="594.30" stroke="#111" stroke-width="0.9" />
<line x1="43.08" y1="592.00" x2="43.08" y2="594.30" stroke="#111" stroke-width="0.9" />
<line x1="46.87" y1="592.00" x2="46.87" y2="594.30" stroke="#111" stroke-width="0.9" />
<line x1="49.81" y1="592.00" x2="49.81" y2="594.30" stroke="#111" stroke-width="0.9" />
<line x1="52.22" y1="592.00" x2="52.22" y2="594.30" stroke="#111" stroke-width="0.9" />
<line x1="54.25" y1="592.00" x2="54.25" y2="594.30" stroke="#111" stroke-width="0.9" />
<line x1="56.01" y1="592.00" x2="56.01" y2="594.30" stroke="#111" stroke-width="0.9" />
<line x1="57.56" y1="592.00" x2="57.56" y2="594.30" stroke="#111" stroke-width="0.9" />
<line x1="58.95" y1="592.00" x2="58.95" y2="596.20" stroke="#111" stroke-width="1.2" />
<text x="57.35" y="608.00" font-size="8.4" font-weight="bold" text-anchor="middle" fill="#111" >10<tspan font-size="5.8" dy="-3.6">0</tspan></text>
<line x1="68.09" y1="592.00" x2="68.09" y2="594.30" stroke="#111" stroke-width="0.9" />
<line x1="73.43" y1="592.00" x2="73.43" y2="594.30" stroke="#111" stroke-width="0.9" />
<line x1="77.22" y1="592.00" x2="77.22" y2="594.30" stroke="#111" stroke-width="0.9" />
<line x1="80.16" y1="592.00" x2="80.16" y2="594.30" stroke="#111" stroke-width="0.9" />
<line x1="82.57" y1="592.00" x2="82.57" y2="594.30" stroke="#111" stroke-width="0.9" />
<line x1="84.60" y1="592.00" x2="84.60" y2="594.30" stroke="#111" stroke-width="0.9" />
<line x1="86.36" y1="592.00" x2="86.36" y2="594.30" stroke="#111" stroke-width="0.9" />
<line x1="87.91" y1="592.00" x2="87.91" y2="594.30" stroke="#111" stroke-width="0.9" />
<line x1="89.30" y1="592.00" x2="89.30" y2="596.20" stroke="#111" stroke-width="1.2" />
<text x="87.70" y="608.00" font-size="8.4" font-weight="bold" text-anchor="middle" fill="#111" >10<tspan font-size="5.8" dy="-3.6">1</tspan></text>
<line x1="98.44" y1="592.00" x2="98.44" y2="594.30" stroke="#111" stroke-width="0.9" />
<line x1="103.78" y1="592.00" x2="103.78" y2="594.30" stroke="#111" stroke-width="0.9" />
<line x1="107.57" y1="592.00" x2="107.57" y2="594.30" stroke="#111" stroke-width="0.9" />
<line x1="110.51" y1="592.00" x2="110.51" y2="594.30" stroke="#111" stroke-width="0.9" />
<line x1="112.92" y1="592.00" x2="112.92" y2="594.30" stroke="#111" stroke-width="0.9" />
<line x1="114.95" y1="592.00" x2="114.95" y2="594.30" stroke="#111" stroke-width="0.9" />
<line x1="116.71" y1="592.00" x2="116.71" y2="594.30" stroke="#111" stroke-width="0.9" />
<line x1="118.26" y1="592.00" x2="118.26" y2="594.30" stroke="#111" stroke-width="0.9" />
<line x1="119.65" y1="592.00" x2="119.65" y2="596.20" stroke="#111" stroke-width="1.2" />
<text x="118.05" y="608.00" font-size="8.4" font-weight="bold" text-anchor="middle" fill="#111" >10<tspan font-size="5.8" dy="-3.6">2</tspan></text>
<line x1="128.79" y1="592.00" x2="128.79" y2="594.30" stroke="#111" stroke-width="0.9" />
<line x1="134.13" y1="592.00" x2="134.13" y2="594.30" stroke="#111" stroke-width="0.9" />
<line x1="137.92" y1="592.00" x2="137.92" y2="594.30" stroke="#111" stroke-width="0.9" />
<line x1="140.86" y1="592.00" x2="140.86" y2="594.30" stroke="#111" stroke-width="0.9" />
<line x1="143.27" y1="592.00" x2="143.27" y2="594.30" stroke="#111" stroke-width="0.9" />
<line x1="145.30" y1="592.00" x2="145.30" y2="594.30" stroke="#111" stroke-width="0.9" />
<line x1="147.06" y1="592.00" x2="147.06" y2="594.30" stroke="#111" stroke-width="0.9" />
<line x1="148.61" y1="592.00" x2="148.61" y2="594.30" stroke="#111" stroke-width="0.9" />
<line x1="150.00" y1="592.00" x2="150.00" y2="596.20" stroke="#111" stroke-width="1.2" />
<text x="148.40" y="608.00" font-size="8.4" font-weight="bold" text-anchor="middle" fill="#111" >10<tspan font-size="5.8" dy="-3.6">3</tspan></text>
<line x1="159.14" y1="592.00" x2="159.14" y2="594.30" stroke="#111" stroke-width="0.9" />
<line x1="164.48" y1="592.00" x2="164.48" y2="594.30" stroke="#111" stroke-width="0.9" />
<line x1="168.27" y1="592.00" x2="168.27" y2="594.30" stroke="#111" stroke-width="0.9" />
<line x1="171.21" y1="592.00" x2="171.21" y2="594.30" stroke="#111" stroke-width="0.9" />
<line x1="173.62" y1="592.00" x2="173.62" y2="594.30" stroke="#111" stroke-width="0.9" />
<line x1="175.65" y1="592.00" x2="175.65" y2="594.30" stroke="#111" stroke-width="0.9" />
<line x1="177.41" y1="592.00" x2="177.41" y2="594.30" stroke="#111" stroke-width="0.9" />
<line x1="178.96" y1="592.00" x2="178.96" y2="594.30" stroke="#111" stroke-width="0.9" />
<line x1="180.35" y1="592.00" x2="180.35" y2="596.20" stroke="#111" stroke-width="1.2" />
<text x="178.75" y="608.00" font-size="8.4" font-weight="bold" text-anchor="middle" fill="#111" >10<tspan font-size="5.8" dy="-3.6">4</tspan></text>
<line x1="189.49" y1="592.00" x2="189.49" y2="594.30" stroke="#111" stroke-width="0.9" />
<line x1="194.83" y1="592.00" x2="194.83" y2="594.30" stroke="#111" stroke-width="0.9" />
<line x1="198.62" y1="592.00" x2="198.62" y2="594.30" stroke="#111" stroke-width="0.9" />
<line x1="201.56" y1="592.00" x2="201.56" y2="594.30" stroke="#111" stroke-width="0.9" />
<line x1="203.97" y1="592.00" x2="203.97" y2="594.30" stroke="#111" stroke-width="0.9" />
<line x1="206.00" y1="592.00" x2="206.00" y2="594.30" stroke="#111" stroke-width="0.9" />
<line x1="207.76" y1="592.00" x2="207.76" y2="594.30" stroke="#111" stroke-width="0.9" />
<line x1="209.31" y1="592.00" x2="209.31" y2="594.30" stroke="#111" stroke-width="0.9" />
<line x1="210.70" y1="592.00" x2="210.70" y2="596.20" stroke="#111" stroke-width="1.2" />
<text x="209.10" y="608.00" font-size="8.4" font-weight="bold" text-anchor="middle" fill="#111" >10<tspan font-size="5.8" dy="-3.6">5</tspan></text>
<line x1="29.60" y1="488.60" x2="208.00" y2="488.60" stroke="#444" stroke-width="1.0" stroke-dasharray="1.1,2.6"/>
<line x1="29.60" y1="575.40" x2="208.00" y2="575.40" stroke="#444" stroke-width="1.0" stroke-dasharray="1.1,2.6"/>
<text x="124.10" y="626.10" font-size="8.9" font-weight="bold" text-anchor="middle" fill="#111" >C (μM)</text>
<text transform="translate(9.9,542.8) rotate(-90)" font-size="9.1" font-weight="bold" text-anchor="middle" fill="#111">% Inhibition</text>
<text x="66.20" y="465.00" font-size="9.3" font-weight="bold" fill="#111" xml:space="preserve">ZIKV Biochemical  and Repl.</text>
<polygon points="58.0,577.1 194,570.2 194,575.0 58,578.9" fill="#c8c8c8" opacity="0.7"/>
<polyline points="58.40,575.83 80.00,575.40 110.00,574.97 150.00,573.23 193.00,572.62" fill="none" stroke="#111" stroke-width="0.9" />
<polyline points="58.00,571.87 58.50,571.84 59.00,571.80 59.50,571.77 60.00,571.73 60.50,571.68 61.00,571.64 61.50,571.59 62.00,571.54 62.50,571.48 63.00,571.42 63.50,571.36 64.00,571.29 64.50,571.22 65.00,571.14 65.50,571.06 66.00,570.97 66.50,570.88 67.00,570.78 67.50,570.68 68.00,570.56 68.50,570.45 69.00,570.32 69.50,570.18 70.00,570.04 70.50,569.88 71.00,569.72 71.50,569.55 72.00,569.36 72.50,569.16 73.00,568.96 73.50,568.73 74.00,568.50 74.50,568.25 75.00,567.98 75.50,567.70 76.00,567.40 76.50,567.08 77.00,566.75 77.50,566.39 78.00,566.01 78.50,565.61 79.00,565.19 79.50,564.75 80.00,564.27 80.50,563.78 81.00,563.25 81.50,562.70 82.00,562.12 82.50,561.51 83.00,560.87 83.50,560.19 84.00,559.48 84.50,558.74 85.00,557.96 85.50,557.15 86.00,556.31 86.50,555.42 87.00,554.50 87.50,553.54 88.00,552.55 88.50,551.52 89.00,550.45 89.50,549.34 90.00,548.20 90.50,547.03 91.00,545.82 91.50,544.58 92.00,543.31 92.50,542.00 93.00,540.68 93.50,539.32 94.00,537.94 94.50,536.54 95.00,535.13 95.50,533.70 96.00,532.25 96.50,530.80 97.00,529.34 97.50,527.88 98.00,526.41 98.50,524.95 99.00,523.50 99.50,522.06 100.00,520.63 100.50,519.21 101.00,517.81 101.50,516.43 102.00,515.08 102.50,513.75 103.00,512.45 103.50,511.18 104.00,509.93 104.50,508.73 105.00,507.55 105.50,506.41 106.00,505.31 106.50,504.24 107.00,503.21 107.50,502.21 108.00,501.25 108.50,500.33 109.00,499.45 109.50,498.60 110.00,497.79 110.50,497.01 111.00,496.27 111.50,495.56 112.00,494.89 112.50,494.25 113.00,493.63 113.50,493.05 114.00,492.50 114.50,491.98 115.00,491.48 115.50,491.01 116.00,490.56 116.50,490.14 117.00,489.74 117.50,489.36 118.00,489.01 118.50,488.67 119.00,488.35 119.50,488.06 120.00,487.77 120.50,487.51 121.00,487.26 121.50,487.02 122.00,486.80 122.50,486.59 123.00,486.39 123.50,486.21 124.00,486.03 124.50,485.87 125.00,485.72 125.50,485.57 126.00,485.44 126.50,485.31 127.00,485.19 127.50,485.08 128.00,484.97 128.50,484.87 129.00,484.78 129.50,484.69 130.00,484.61 130.50,484.53 131.00,484.46 131.50,484.40 132.00,484.33 132.50,484.27 133.00,484.22 133.50,484.17 134.00,484.12 134.50,484.07 135.00,484.03 135.50,483.99 136.00,483.95 136.50,483.91 137.00,483.88 137.50,483.85 138.00,483.82 138.50,483.79 139.00,483.77 139.50,483.74 140.00,483.72 140.50,483.70 141.00,483.68 141.50,483.66 142.00,483.65 142.50,483.63 143.00,483.61 143.50,483.60 144.00,483.59 144.50,483.58 145.00,483.56 145.50,483.55 146.00,483.54 146.50,483.53 147.00,483.52 147.50,483.52 148.00,483.51 148.50,483.50 149.00,483.49 149.50,483.49 150.00,483.48 150.50,483.48 151.00,483.47 151.50,483.46 152.00,483.46 152.50,483.46 153.00,483.45 153.50,483.45 154.00,483.44 154.50,483.44 155.00,483.44 155.50,483.44 156.00,483.43 156.50,483.43 157.00,483.43 157.50,483.43 158.00,483.42 158.50,483.42 159.00,483.42 159.50,483.42 160.00,483.42 160.50,483.41 161.00,483.41 161.50,483.41 162.00,483.41 162.50,483.41 163.00,483.41 163.50,483.41 164.00,483.41 164.50,483.41 165.00,483.40 165.50,483.40 166.00,483.40 166.50,483.40 167.00,483.40 167.50,483.40 168.00,483.40 168.50,483.40 169.00,483.40" fill="none" stroke="#ff2020" stroke-width="0.9" />
<polyline points="76.00,570.27 76.50,570.03 77.00,569.79 77.50,569.53 78.00,569.27 78.50,568.99 79.00,568.70 79.50,568.40 80.00,568.09 80.50,567.77 81.00,567.43 81.50,567.08 82.00,566.71 82.50,566.33 83.00,565.94 83.50,565.53 84.00,565.10 84.50,564.67 85.00,564.21 85.50,563.74 86.00,563.25 86.50,562.74 87.00,562.22 87.50,561.68 88.00,561.12 88.50,560.54 89.00,559.95 89.50,559.34 90.00,558.70 90.50,558.05 91.00,557.38 91.50,556.69 92.00,555.99 92.50,555.26 93.00,554.52 93.50,553.75 94.00,552.97 94.50,552.17 95.00,551.36 95.50,550.52 96.00,549.67 96.50,548.80 97.00,547.92 97.50,547.02 98.00,546.10 98.50,545.17 99.00,544.23 99.50,543.28 100.00,542.31 100.50,541.33 101.00,540.34 101.50,539.35 102.00,538.34 102.50,537.33 103.00,536.32 103.50,535.30 104.00,534.27 104.50,533.24 105.00,532.22 105.50,531.19 106.00,530.16 106.50,529.14 107.00,528.12 107.50,527.10 108.00,526.09 108.50,525.09 109.00,524.09 109.50,523.10 110.00,522.13 110.50,521.16 111.00,520.20 111.50,519.26 112.00,518.33 112.50,517.42 113.00,516.52 113.50,515.63 114.00,514.77 114.50,513.91 115.00,513.08 115.50,512.26 116.00,511.46 116.50,510.68 117.00,509.92 117.50,509.17 118.00,508.45 118.50,507.74 119.00,507.05 119.50,506.38 120.00,505.73 120.50,505.10 121.00,504.48 121.50,503.89 122.00,503.31 122.50,502.75 123.00,502.21 123.50,501.69 124.00,501.19 124.50,500.70 125.00,500.22 125.50,499.77 126.00,499.33 126.50,498.91 127.00,498.50 127.50,498.10 128.00,497.72 128.50,497.36 129.00,497.01 129.50,496.67 130.00,496.34 130.50,496.03 131.00,495.73 131.50,495.44 132.00,495.17 132.50,494.90 133.00,494.65 133.50,494.40 134.00,494.17 134.50,493.94 135.00,493.72 135.50,493.52 136.00,493.32 136.50,493.13 137.00,492.95 137.50,492.77 138.00,492.61 138.50,492.45 139.00,492.29 139.50,492.15 140.00,492.01 140.50,491.88 141.00,491.75 141.50,491.62 142.00,491.51 142.50,491.40 143.00,491.29 143.50,491.19 144.00,491.09 144.50,491.00 145.00,490.91 145.50,490.82 146.00,490.74 146.50,490.66 147.00,490.59 147.50,490.52 148.00,490.45 148.50,490.38 149.00,490.32 149.50,490.26 150.00,490.21 150.50,490.15 151.00,490.10 151.50,490.05 152.00,490.01 152.50,489.96 153.00,489.92 153.50,489.88 154.00,489.84 154.50,489.80 155.00,489.77 155.50,489.73 156.00,489.70 156.50,489.67 157.00,489.64 157.50,489.61 158.00,489.59 158.50,489.56 159.00,489.54 159.50,489.51 160.00,489.49 160.50,489.47 161.00,489.45 161.50,489.43 162.00,489.41 162.50,489.39 163.00,489.38 163.50,489.36 164.00,489.35 164.50,489.33 165.00,489.32 165.50,489.30 166.00,489.29 166.50,489.28 167.00,489.27 167.50,489.26 168.00,489.25 168.50,489.24" fill="none" stroke="#2020ff" stroke-width="0.9" />
<line x1="58.40" y1="579.48" x2="58.40" y2="572.54" stroke="#333" stroke-width="0.8" />
<line x1="56.40" y1="579.48" x2="60.40" y2="579.48" stroke="#333" stroke-width="0.8" />
<line x1="56.40" y1="572.54" x2="60.40" y2="572.54" stroke="#333" stroke-width="0.8" />
<rect x="56.20" y="573.81" width="4.40" height="4.40" fill="#111"/>
<line x1="67.70" y1="579.48" x2="67.70" y2="572.54" stroke="#333" stroke-width="0.8" />
<line x1="65.70" y1="579.48" x2="69.70" y2="579.48" stroke="#333" stroke-width="0.8" />
<line x1="65.70" y1="572.54" x2="69.70" y2="572.54" stroke="#333" stroke-width="0.8" />
<rect x="65.50" y="573.81" width="4.40" height="4.40" fill="#111"/>
<line x1="77.00" y1="576.96" x2="77.00" y2="571.75" stroke="#333" stroke-width="0.8" />
<line x1="75.00" y1="576.96" x2="79.00" y2="576.96" stroke="#333" stroke-width="0.8" />
<line x1="75.00" y1="571.75" x2="79.00" y2="571.75" stroke="#333" stroke-width="0.8" />
<rect x="74.80" y="572.16" width="4.40" height="4.40" fill="#111"/>
<line x1="85.60" y1="576.70" x2="85.60" y2="568.02" stroke="#333" stroke-width="0.8" />
<line x1="83.60" y1="576.70" x2="87.60" y2="576.70" stroke="#333" stroke-width="0.8" />
<line x1="83.60" y1="568.02" x2="87.60" y2="568.02" stroke="#333" stroke-width="0.8" />
<rect x="83.40" y="570.16" width="4.40" height="4.40" fill="#111"/>
<line x1="91.80" y1="578.87" x2="91.80" y2="575.40" stroke="#333" stroke-width="0.8" />
<line x1="89.80" y1="578.87" x2="93.80" y2="578.87" stroke="#333" stroke-width="0.8" />
<line x1="89.80" y1="575.40" x2="93.80" y2="575.40" stroke="#333" stroke-width="0.8" />
<rect x="89.60" y="574.94" width="4.40" height="4.40" fill="#111"/>
<line x1="100.70" y1="579.48" x2="100.70" y2="576.01" stroke="#333" stroke-width="0.8" />
<line x1="98.70" y1="579.48" x2="102.70" y2="579.48" stroke="#333" stroke-width="0.8" />
<line x1="98.70" y1="576.01" x2="102.70" y2="576.01" stroke="#333" stroke-width="0.8" />
<rect x="98.50" y="575.54" width="4.40" height="4.40" fill="#111"/>
<line x1="110.00" y1="577.14" x2="110.00" y2="573.66" stroke="#333" stroke-width="0.8" />
<line x1="108.00" y1="577.14" x2="112.00" y2="577.14" stroke="#333" stroke-width="0.8" />
<line x1="108.00" y1="573.66" x2="112.00" y2="573.66" stroke="#333" stroke-width="0.8" />
<rect x="107.80" y="573.20" width="4.40" height="4.40" fill="#111"/>
<line x1="118.90" y1="578.87" x2="118.90" y2="575.40" stroke="#333" stroke-width="0.8" />
<line x1="116.90" y1="578.87" x2="120.90" y2="578.87" stroke="#333" stroke-width="0.8" />
<line x1="116.90" y1="575.40" x2="120.90" y2="575.40" stroke="#333" stroke-width="0.8" />
<rect x="116.70" y="574.94" width="4.40" height="4.40" fill="#111"/>
<line x1="128.20" y1="576.27" x2="128.20" y2="571.06" stroke="#333" stroke-width="0.8" />
<line x1="126.20" y1="576.27" x2="130.20" y2="576.27" stroke="#333" stroke-width="0.8" />
<line x1="126.20" y1="571.06" x2="130.20" y2="571.06" stroke="#333" stroke-width="0.8" />
<rect x="126.00" y="571.46" width="4.40" height="4.40" fill="#111"/>
<line x1="137.50" y1="578.00" x2="137.50" y2="569.32" stroke="#333" stroke-width="0.8" />
<line x1="135.50" y1="578.00" x2="139.50" y2="578.00" stroke="#333" stroke-width="0.8" />
<line x1="135.50" y1="569.32" x2="139.50" y2="569.32" stroke="#333" stroke-width="0.8" />
<rect x="135.30" y="571.46" width="4.40" height="4.40" fill="#111"/>
<line x1="143.60" y1="576.01" x2="143.60" y2="567.33" stroke="#333" stroke-width="0.8" />
<line x1="141.60" y1="576.01" x2="145.60" y2="576.01" stroke="#333" stroke-width="0.8" />
<line x1="141.60" y1="567.33" x2="145.60" y2="567.33" stroke="#333" stroke-width="0.8" />
<rect x="141.40" y="569.47" width="4.40" height="4.40" fill="#111"/>
<line x1="156.40" y1="576.01" x2="156.40" y2="567.33" stroke="#333" stroke-width="0.8" />
<line x1="154.40" y1="576.01" x2="158.40" y2="576.01" stroke="#333" stroke-width="0.8" />
<line x1="154.40" y1="567.33" x2="158.40" y2="567.33" stroke="#333" stroke-width="0.8" />
<rect x="154.20" y="569.47" width="4.40" height="4.40" fill="#111"/>
<line x1="165.00" y1="578.18" x2="165.00" y2="567.76" stroke="#333" stroke-width="0.8" />
<line x1="163.00" y1="578.18" x2="167.00" y2="578.18" stroke="#333" stroke-width="0.8" />
<line x1="163.00" y1="567.76" x2="167.00" y2="567.76" stroke="#333" stroke-width="0.8" />
<rect x="162.80" y="570.77" width="4.40" height="4.40" fill="#111"/>
<line x1="174.60" y1="579.74" x2="174.60" y2="567.59" stroke="#333" stroke-width="0.8" />
<line x1="172.60" y1="579.74" x2="176.60" y2="579.74" stroke="#333" stroke-width="0.8" />
<line x1="172.60" y1="567.59" x2="176.60" y2="567.59" stroke="#333" stroke-width="0.8" />
<rect x="172.40" y="571.46" width="4.40" height="4.40" fill="#111"/>
<line x1="183.80" y1="577.57" x2="183.80" y2="567.15" stroke="#333" stroke-width="0.8" />
<line x1="181.80" y1="577.57" x2="185.80" y2="577.57" stroke="#333" stroke-width="0.8" />
<line x1="181.80" y1="567.15" x2="185.80" y2="567.15" stroke="#333" stroke-width="0.8" />
<rect x="181.60" y="570.16" width="4.40" height="4.40" fill="#111"/>
<line x1="193.10" y1="578.00" x2="193.10" y2="565.85" stroke="#333" stroke-width="0.8" />
<line x1="191.10" y1="578.00" x2="195.10" y2="578.00" stroke="#333" stroke-width="0.8" />
<line x1="191.10" y1="565.85" x2="195.10" y2="565.85" stroke="#333" stroke-width="0.8" />
<rect x="190.90" y="569.73" width="4.40" height="4.40" fill="#111"/>
<line x1="58.40" y1="574.53" x2="58.40" y2="567.59" stroke="#ff3030" stroke-width="0.8" />
<line x1="56.40" y1="574.53" x2="60.40" y2="574.53" stroke="#ff3030" stroke-width="0.8" />
<line x1="56.40" y1="567.59" x2="60.40" y2="567.59" stroke="#ff3030" stroke-width="0.8" />
<circle cx="58.40" cy="571.06" r="2.30" fill="#ff1a1a"/>
<line x1="67.70" y1="578.44" x2="67.70" y2="564.55" stroke="#ff3030" stroke-width="0.8" />
<line x1="65.70" y1="578.44" x2="69.70" y2="578.44" stroke="#ff3030" stroke-width="0.8" />
<line x1="65.70" y1="564.55" x2="69.70" y2="564.55" stroke="#ff3030" stroke-width="0.8" />
<circle cx="67.70" cy="571.49" r="2.30" fill="#ff1a1a"/>
<line x1="77.00" y1="572.19" x2="77.00" y2="556.56" stroke="#ff3030" stroke-width="0.8" />
<line x1="75.00" y1="572.19" x2="79.00" y2="572.19" stroke="#ff3030" stroke-width="0.8" />
<line x1="75.00" y1="556.56" x2="79.00" y2="556.56" stroke="#ff3030" stroke-width="0.8" />
<circle cx="77.00" cy="564.38" r="2.30" fill="#ff1a1a"/>
<line x1="79.70" y1="571.06" x2="79.70" y2="564.12" stroke="#ff3030" stroke-width="0.8" />
<line x1="77.70" y1="571.06" x2="81.70" y2="571.06" stroke="#ff3030" stroke-width="0.8" />
<line x1="77.70" y1="564.12" x2="81.70" y2="564.12" stroke="#ff3030" stroke-width="0.8" />
<circle cx="79.70" cy="567.59" r="2.30" fill="#ff1a1a"/>
<line x1="85.60" y1="570.37" x2="85.60" y2="556.48" stroke="#ff3030" stroke-width="0.8" />
<line x1="83.60" y1="570.37" x2="87.60" y2="570.37" stroke="#ff3030" stroke-width="0.8" />
<line x1="83.60" y1="556.48" x2="87.60" y2="556.48" stroke="#ff3030" stroke-width="0.8" />
<circle cx="85.60" cy="563.42" r="2.30" fill="#ff1a1a"/>
<line x1="95.20" y1="542.68" x2="95.20" y2="534.00" stroke="#ff3030" stroke-width="0.8" />
<line x1="93.20" y1="542.68" x2="97.20" y2="542.68" stroke="#ff3030" stroke-width="0.8" />
<line x1="93.20" y1="534.00" x2="97.20" y2="534.00" stroke="#ff3030" stroke-width="0.8" />
<circle cx="95.20" cy="538.34" r="2.30" fill="#ff1a1a"/>
<line x1="104.20" y1="518.11" x2="104.20" y2="507.70" stroke="#ff3030" stroke-width="0.8" />
<line x1="102.20" y1="518.11" x2="106.20" y2="518.11" stroke="#ff3030" stroke-width="0.8" />
<line x1="102.20" y1="507.70" x2="106.20" y2="507.70" stroke="#ff3030" stroke-width="0.8" />
<circle cx="104.20" cy="512.90" r="2.30" fill="#ff1a1a"/>
<line x1="113.30" y1="512.38" x2="113.30" y2="491.55" stroke="#ff3030" stroke-width="0.8" />
<line x1="111.30" y1="512.38" x2="115.30" y2="512.38" stroke="#ff3030" stroke-width="0.8" />
<line x1="111.30" y1="491.55" x2="115.30" y2="491.55" stroke="#ff3030" stroke-width="0.8" />
<circle cx="113.30" cy="501.97" r="2.30" fill="#ff1a1a"/>
<line x1="122.60" y1="498.32" x2="122.60" y2="489.64" stroke="#ff3030" stroke-width="0.8" />
<line x1="120.60" y1="498.32" x2="124.60" y2="498.32" stroke="#ff3030" stroke-width="0.8" />
<line x1="120.60" y1="489.64" x2="124.60" y2="489.64" stroke="#ff3030" stroke-width="0.8" />
<circle cx="122.60" cy="493.98" r="2.30" fill="#ff1a1a"/>
<line x1="131.70" y1="493.37" x2="131.70" y2="486.43" stroke="#ff3030" stroke-width="0.8" />
<line x1="129.70" y1="493.37" x2="133.70" y2="493.37" stroke="#ff3030" stroke-width="0.8" />
<line x1="129.70" y1="486.43" x2="133.70" y2="486.43" stroke="#ff3030" stroke-width="0.8" />
<circle cx="131.70" cy="489.90" r="2.30" fill="#ff1a1a"/>
<line x1="140.90" y1="488.34" x2="140.90" y2="483.13" stroke="#ff3030" stroke-width="0.8" />
<line x1="138.90" y1="488.34" x2="142.90" y2="488.34" stroke="#ff3030" stroke-width="0.8" />
<line x1="138.90" y1="483.13" x2="142.90" y2="483.13" stroke="#ff3030" stroke-width="0.8" />
<circle cx="140.90" cy="485.74" r="2.30" fill="#ff1a1a"/>
<line x1="150.10" y1="485.13" x2="150.10" y2="481.66" stroke="#ff3030" stroke-width="0.8" />
<line x1="148.10" y1="485.13" x2="152.10" y2="485.13" stroke="#ff3030" stroke-width="0.8" />
<line x1="148.10" y1="481.66" x2="152.10" y2="481.66" stroke="#ff3030" stroke-width="0.8" />
<circle cx="150.10" cy="483.39" r="2.30" fill="#ff1a1a"/>
<line x1="159.30" y1="483.74" x2="159.30" y2="480.27" stroke="#ff3030" stroke-width="0.8" />
<line x1="157.30" y1="483.74" x2="161.30" y2="483.74" stroke="#ff3030" stroke-width="0.8" />
<line x1="157.30" y1="480.27" x2="161.30" y2="480.27" stroke="#ff3030" stroke-width="0.8" />
<circle cx="159.30" cy="482.00" r="2.30" fill="#ff1a1a"/>
<line x1="168.50" y1="486.60" x2="168.50" y2="477.92" stroke="#ff3030" stroke-width="0.8" />
<line x1="166.50" y1="486.60" x2="170.50" y2="486.60" stroke="#ff3030" stroke-width="0.8" />
<line x1="166.50" y1="477.92" x2="170.50" y2="477.92" stroke="#ff3030" stroke-width="0.8" />
<circle cx="168.50" cy="482.26" r="2.30" fill="#ff1a1a"/>
<line x1="77.00" y1="574.53" x2="77.00" y2="567.59" stroke="#3030ff" stroke-width="0.8" />
<line x1="75.00" y1="574.53" x2="79.00" y2="574.53" stroke="#3030ff" stroke-width="0.8" />
<line x1="75.00" y1="567.59" x2="79.00" y2="567.59" stroke="#3030ff" stroke-width="0.8" />
<circle cx="77.00" cy="571.06" r="2.30" fill="#1a1aff"/>
<line x1="79.70" y1="575.57" x2="79.70" y2="570.37" stroke="#3030ff" stroke-width="0.8" />
<line x1="77.70" y1="575.57" x2="81.70" y2="575.57" stroke="#3030ff" stroke-width="0.8" />
<line x1="77.70" y1="570.37" x2="81.70" y2="570.37" stroke="#3030ff" stroke-width="0.8" />
<circle cx="79.70" cy="572.97" r="2.30" fill="#1a1aff"/>
<line x1="85.90" y1="565.42" x2="85.90" y2="549.79" stroke="#3030ff" stroke-width="0.8" />
<line x1="83.90" y1="565.42" x2="87.90" y2="565.42" stroke="#3030ff" stroke-width="0.8" />
<line x1="83.90" y1="549.79" x2="87.90" y2="549.79" stroke="#3030ff" stroke-width="0.8" />
<circle cx="85.90" cy="557.61" r="2.30" fill="#1a1aff"/>
<line x1="95.20" y1="558.04" x2="95.20" y2="542.42" stroke="#3030ff" stroke-width="0.8" />
<line x1="93.20" y1="558.04" x2="97.20" y2="558.04" stroke="#3030ff" stroke-width="0.8" />
<line x1="93.20" y1="542.42" x2="97.20" y2="542.42" stroke="#3030ff" stroke-width="0.8" />
<circle cx="95.20" cy="550.23" r="2.30" fill="#1a1aff"/>
<line x1="104.20" y1="541.55" x2="104.20" y2="529.40" stroke="#3030ff" stroke-width="0.8" />
<line x1="102.20" y1="541.55" x2="106.20" y2="541.55" stroke="#3030ff" stroke-width="0.8" />
<line x1="102.20" y1="529.40" x2="106.20" y2="529.40" stroke="#3030ff" stroke-width="0.8" />
<circle cx="104.20" cy="535.47" r="2.30" fill="#1a1aff"/>
<line x1="113.30" y1="529.40" x2="113.30" y2="513.77" stroke="#3030ff" stroke-width="0.8" />
<line x1="111.30" y1="529.40" x2="115.30" y2="529.40" stroke="#3030ff" stroke-width="0.8" />
<line x1="111.30" y1="513.77" x2="115.30" y2="513.77" stroke="#3030ff" stroke-width="0.8" />
<circle cx="113.30" cy="521.58" r="2.30" fill="#1a1aff"/>
<line x1="122.60" y1="515.51" x2="122.60" y2="503.36" stroke="#3030ff" stroke-width="0.8" />
<line x1="120.60" y1="515.51" x2="124.60" y2="515.51" stroke="#3030ff" stroke-width="0.8" />
<line x1="120.60" y1="503.36" x2="124.60" y2="503.36" stroke="#3030ff" stroke-width="0.8" />
<circle cx="122.60" cy="509.43" r="2.30" fill="#1a1aff"/>
<line x1="131.70" y1="503.10" x2="131.70" y2="497.89" stroke="#3030ff" stroke-width="0.8" />
<line x1="129.70" y1="503.10" x2="133.70" y2="503.10" stroke="#3030ff" stroke-width="0.8" />
<line x1="129.70" y1="497.89" x2="133.70" y2="497.89" stroke="#3030ff" stroke-width="0.8" />
<circle cx="131.70" cy="500.49" r="2.30" fill="#1a1aff"/>
<line x1="140.90" y1="501.62" x2="140.90" y2="492.94" stroke="#3030ff" stroke-width="0.8" />
<line x1="138.90" y1="501.62" x2="142.90" y2="501.62" stroke="#3030ff" stroke-width="0.8" />
<line x1="138.90" y1="492.94" x2="142.90" y2="492.94" stroke="#3030ff" stroke-width="0.8" />
<circle cx="140.90" cy="497.28" r="2.30" fill="#1a1aff"/>
<line x1="150.10" y1="495.89" x2="150.10" y2="490.68" stroke="#3030ff" stroke-width="0.8" />
<line x1="148.10" y1="495.89" x2="152.10" y2="495.89" stroke="#3030ff" stroke-width="0.8" />
<line x1="148.10" y1="490.68" x2="152.10" y2="490.68" stroke="#3030ff" stroke-width="0.8" />
<circle cx="150.10" cy="493.29" r="2.30" fill="#1a1aff"/>
<line x1="159.30" y1="492.25" x2="159.30" y2="488.77" stroke="#3030ff" stroke-width="0.8" />
<line x1="157.30" y1="492.25" x2="161.30" y2="492.25" stroke="#3030ff" stroke-width="0.8" />
<line x1="157.30" y1="488.77" x2="161.30" y2="488.77" stroke="#3030ff" stroke-width="0.8" />
<circle cx="159.30" cy="490.51" r="2.30" fill="#1a1aff"/>
<line x1="168.50" y1="491.64" x2="168.50" y2="488.17" stroke="#3030ff" stroke-width="0.8" />
<line x1="166.50" y1="491.64" x2="170.50" y2="491.64" stroke="#3030ff" stroke-width="0.8" />
<line x1="166.50" y1="488.17" x2="170.50" y2="488.17" stroke="#3030ff" stroke-width="0.8" />
<circle cx="168.50" cy="489.90" r="2.30" fill="#1a1aff"/>
<line x1="0.00" y1="637.10" x2="16.00" y2="637.10" stroke="#ff2020" stroke-width="1.0" />
<circle cx="8.40" cy="637.10" r="2.70" fill="#ff1a1a"/>
<text x="18.90" y="640.30" font-size="8.75" fill="#111" ><tspan font-weight="bold">IRBM-Z-2 ZIKV NS2B-NS3</tspan> IC<tspan font-size="5.78" baseline-shift="-1.75">50</tspan> (μM) = 0.042 ± 0.012</text>
<line x1="0.00" y1="651.40" x2="16.00" y2="651.40" stroke="#2020ff" stroke-width="1.0" />
<circle cx="8.40" cy="651.40" r="2.70" fill="#1a1aff"/>
<text x="18.90" y="654.60" font-size="8.75" fill="#111" ><tspan font-weight="bold">IRBM-Z-2 ZIKV Repl.</tspan> EC<tspan font-size="5.78" baseline-shift="-1.75">50</tspan> (μM) = 0.025 ± 0.010</text>
<line x1="0.00" y1="665.80" x2="16.00" y2="665.80" stroke="#111" stroke-width="1.0" />
<rect x="6.00" y="663.40" width="4.80" height="4.80" fill="#111"/>
<text x="18.90" y="669.00" font-size="8.75" fill="#111" ><tspan font-weight="bold">IRBM-Z-2 viability</tspan> EC<tspan font-size="5.78" baseline-shift="-1.75">50</tspan> (μM) &gt; 25</text>
<line x1="262.90" y1="479.00" x2="262.90" y2="602.90" stroke="#111" stroke-width="1.4" />
<line x1="421.30" y1="479.00" x2="421.30" y2="602.90" stroke="#111" stroke-width="1.4" />
<line x1="262.20" y1="602.20" x2="262.90" y2="602.20" stroke="#111" stroke-width="1.4" />
<line x1="262.90" y1="586.80" x2="421.30" y2="586.80" stroke="#111" stroke-width="1.4" />
<line x1="258.90" y1="602.20" x2="262.90" y2="602.20" stroke="#111" stroke-width="1.2" />
<line x1="421.30" y1="602.20" x2="425.30" y2="602.20" stroke="#111" stroke-width="1.2" />
<text x="257.60" y="604.80" font-size="7.2" font-weight="bold" text-anchor="end" fill="#111" >-20</text>
<text x="426.30" y="604.80" font-size="7.2" font-weight="bold" fill="#111" >-20</text>
<line x1="258.90" y1="586.80" x2="262.90" y2="586.80" stroke="#111" stroke-width="1.2" />
<line x1="421.30" y1="586.80" x2="425.30" y2="586.80" stroke="#111" stroke-width="1.2" />
<text x="257.60" y="589.40" font-size="7.2" font-weight="bold" text-anchor="end" fill="#111" >0</text>
<text x="426.30" y="589.40" font-size="7.2" font-weight="bold" fill="#111" >0</text>
<line x1="258.90" y1="571.40" x2="262.90" y2="571.40" stroke="#111" stroke-width="1.2" />
<line x1="421.30" y1="571.40" x2="425.30" y2="571.40" stroke="#111" stroke-width="1.2" />
<text x="257.60" y="574.00" font-size="7.2" font-weight="bold" text-anchor="end" fill="#111" >20</text>
<text x="426.30" y="574.00" font-size="7.2" font-weight="bold" fill="#111" >20</text>
<line x1="258.90" y1="556.00" x2="262.90" y2="556.00" stroke="#111" stroke-width="1.2" />
<line x1="421.30" y1="556.00" x2="425.30" y2="556.00" stroke="#111" stroke-width="1.2" />
<text x="257.60" y="558.60" font-size="7.2" font-weight="bold" text-anchor="end" fill="#111" >40</text>
<text x="426.30" y="558.60" font-size="7.2" font-weight="bold" fill="#111" >40</text>
<line x1="258.90" y1="540.60" x2="262.90" y2="540.60" stroke="#111" stroke-width="1.2" />
<line x1="421.30" y1="540.60" x2="425.30" y2="540.60" stroke="#111" stroke-width="1.2" />
<text x="257.60" y="543.20" font-size="7.2" font-weight="bold" text-anchor="end" fill="#111" >60</text>
<text x="426.30" y="543.20" font-size="7.2" font-weight="bold" fill="#111" >60</text>
<line x1="258.90" y1="525.20" x2="262.90" y2="525.20" stroke="#111" stroke-width="1.2" />
<line x1="421.30" y1="525.20" x2="425.30" y2="525.20" stroke="#111" stroke-width="1.2" />
<text x="257.60" y="527.80" font-size="7.2" font-weight="bold" text-anchor="end" fill="#111" >80</text>
<text x="426.30" y="527.80" font-size="7.2" font-weight="bold" fill="#111" >80</text>
<line x1="258.90" y1="509.80" x2="262.90" y2="509.80" stroke="#111" stroke-width="1.2" />
<line x1="421.30" y1="509.80" x2="425.30" y2="509.80" stroke="#111" stroke-width="1.2" />
<text x="257.60" y="512.40" font-size="7.2" font-weight="bold" text-anchor="end" fill="#111" >100</text>
<text x="426.30" y="512.40" font-size="7.2" font-weight="bold" fill="#111" >100</text>
<line x1="258.90" y1="494.40" x2="262.90" y2="494.40" stroke="#111" stroke-width="1.2" />
<line x1="421.30" y1="494.40" x2="425.30" y2="494.40" stroke="#111" stroke-width="1.2" />
<text x="257.60" y="497.00" font-size="7.2" font-weight="bold" text-anchor="end" fill="#111" >120</text>
<text x="426.30" y="497.00" font-size="7.2" font-weight="bold" fill="#111" >120</text>
<line x1="258.90" y1="479.00" x2="262.90" y2="479.00" stroke="#111" stroke-width="1.2" />
<line x1="421.30" y1="479.00" x2="425.30" y2="479.00" stroke="#111" stroke-width="1.2" />
<text x="257.60" y="481.60" font-size="7.2" font-weight="bold" text-anchor="end" fill="#111" >140</text>
<text x="426.30" y="481.60" font-size="7.2" font-weight="bold" fill="#111" >140</text>
<line x1="258.90" y1="602.20" x2="262.90" y2="602.20" stroke="#111" stroke-width="1.2" />
<line x1="263.40" y1="586.80" x2="263.40" y2="588.80" stroke="#111" stroke-width="1.1" />
<line x1="270.87" y1="586.80" x2="270.87" y2="588.80" stroke="#111" stroke-width="0.8" />
<line x1="275.23" y1="586.80" x2="275.23" y2="588.80" stroke="#111" stroke-width="0.8" />
<line x1="278.33" y1="586.80" x2="278.33" y2="588.80" stroke="#111" stroke-width="0.8" />
<line x1="280.73" y1="586.80" x2="280.73" y2="588.80" stroke="#111" stroke-width="0.8" />
<line x1="282.70" y1="586.80" x2="282.70" y2="588.80" stroke="#111" stroke-width="0.8" />
<line x1="284.36" y1="586.80" x2="284.36" y2="588.80" stroke="#111" stroke-width="0.8" />
<line x1="285.80" y1="586.80" x2="285.80" y2="588.80" stroke="#111" stroke-width="0.8" />
<line x1="287.07" y1="586.80" x2="287.07" y2="588.80" stroke="#111" stroke-width="0.8" />
<line x1="288.20" y1="586.80" x2="288.20" y2="588.80" stroke="#111" stroke-width="1.1" />
<line x1="295.67" y1="586.80" x2="295.67" y2="588.80" stroke="#111" stroke-width="0.8" />
<line x1="300.03" y1="586.80" x2="300.03" y2="588.80" stroke="#111" stroke-width="0.8" />
<line x1="303.13" y1="586.80" x2="303.13" y2="588.80" stroke="#111" stroke-width="0.8" />
<line x1="305.53" y1="586.80" x2="305.53" y2="588.80" stroke="#111" stroke-width="0.8" />
<line x1="307.50" y1="586.80" x2="307.50" y2="588.80" stroke="#111" stroke-width="0.8" />
<line x1="309.16" y1="586.80" x2="309.16" y2="588.80" stroke="#111" stroke-width="0.8" />
<line x1="310.60" y1="586.80" x2="310.60" y2="588.80" stroke="#111" stroke-width="0.8" />
<line x1="311.87" y1="586.80" x2="311.87" y2="588.80" stroke="#111" stroke-width="0.8" />
<line x1="313.00" y1="586.80" x2="313.00" y2="590.80" stroke="#111" stroke-width="1.1" />
<line x1="320.47" y1="586.80" x2="320.47" y2="588.80" stroke="#111" stroke-width="0.8" />
<line x1="324.83" y1="586.80" x2="324.83" y2="588.80" stroke="#111" stroke-width="0.8" />
<line x1="327.93" y1="586.80" x2="327.93" y2="588.80" stroke="#111" stroke-width="0.8" />
<line x1="330.33" y1="586.80" x2="330.33" y2="588.80" stroke="#111" stroke-width="0.8" />
<line x1="332.30" y1="586.80" x2="332.30" y2="588.80" stroke="#111" stroke-width="0.8" />
<line x1="333.96" y1="586.80" x2="333.96" y2="588.80" stroke="#111" stroke-width="0.8" />
<line x1="335.40" y1="586.80" x2="335.40" y2="588.80" stroke="#111" stroke-width="0.8" />
<line x1="336.67" y1="586.80" x2="336.67" y2="588.80" stroke="#111" stroke-width="0.8" />
<line x1="337.80" y1="586.80" x2="337.80" y2="588.80" stroke="#111" stroke-width="1.1" />
<line x1="345.27" y1="586.80" x2="345.27" y2="588.80" stroke="#111" stroke-width="0.8" />
<line x1="349.63" y1="586.80" x2="349.63" y2="588.80" stroke="#111" stroke-width="0.8" />
<line x1="352.73" y1="586.80" x2="352.73" y2="588.80" stroke="#111" stroke-width="0.8" />
<line x1="355.13" y1="586.80" x2="355.13" y2="588.80" stroke="#111" stroke-width="0.8" />
<line x1="357.10" y1="586.80" x2="357.10" y2="588.80" stroke="#111" stroke-width="0.8" />
<line x1="358.76" y1="586.80" x2="358.76" y2="588.80" stroke="#111" stroke-width="0.8" />
<line x1="360.20" y1="586.80" x2="360.20" y2="588.80" stroke="#111" stroke-width="0.8" />
<line x1="361.47" y1="586.80" x2="361.47" y2="588.80" stroke="#111" stroke-width="0.8" />
<line x1="362.60" y1="586.80" x2="362.60" y2="590.80" stroke="#111" stroke-width="1.1" />
<line x1="370.07" y1="586.80" x2="370.07" y2="588.80" stroke="#111" stroke-width="0.8" />
<line x1="374.43" y1="586.80" x2="374.43" y2="588.80" stroke="#111" stroke-width="0.8" />
<line x1="377.53" y1="586.80" x2="377.53" y2="588.80" stroke="#111" stroke-width="0.8" />
<line x1="379.93" y1="586.80" x2="379.93" y2="588.80" stroke="#111" stroke-width="0.8" />
<line x1="381.90" y1="586.80" x2="381.90" y2="588.80" stroke="#111" stroke-width="0.8" />
<line x1="383.56" y1="586.80" x2="383.56" y2="588.80" stroke="#111" stroke-width="0.8" />
<line x1="385.00" y1="586.80" x2="385.00" y2="588.80" stroke="#111" stroke-width="0.8" />
<line x1="386.27" y1="586.80" x2="386.27" y2="588.80" stroke="#111" stroke-width="0.8" />
<line x1="387.40" y1="586.80" x2="387.40" y2="588.80" stroke="#111" stroke-width="1.1" />
<line x1="394.87" y1="586.80" x2="394.87" y2="588.80" stroke="#111" stroke-width="0.8" />
<line x1="399.23" y1="586.80" x2="399.23" y2="588.80" stroke="#111" stroke-width="0.8" />
<line x1="402.33" y1="586.80" x2="402.33" y2="588.80" stroke="#111" stroke-width="0.8" />
<line x1="404.73" y1="586.80" x2="404.73" y2="588.80" stroke="#111" stroke-width="0.8" />
<line x1="406.70" y1="586.80" x2="406.70" y2="588.80" stroke="#111" stroke-width="0.8" />
<line x1="408.36" y1="586.80" x2="408.36" y2="588.80" stroke="#111" stroke-width="0.8" />
<line x1="409.80" y1="586.80" x2="409.80" y2="588.80" stroke="#111" stroke-width="0.8" />
<line x1="411.07" y1="586.80" x2="411.07" y2="588.80" stroke="#111" stroke-width="0.8" />
<line x1="412.20" y1="586.80" x2="412.20" y2="590.80" stroke="#111" stroke-width="1.1" />
<line x1="419.67" y1="586.80" x2="419.67" y2="588.80" stroke="#111" stroke-width="0.8" />
<text x="313.00" y="599.60" font-size="7.7" font-weight="bold" text-anchor="middle" fill="#111" >0.01</text>
<text x="362.60" y="599.60" font-size="7.7" font-weight="bold" text-anchor="middle" fill="#111" >1</text>
<text x="412.20" y="599.60" font-size="7.7" font-weight="bold" text-anchor="middle" fill="#111" >100</text>
<text x="342.00" y="612.80" font-size="8.4" font-weight="bold" text-anchor="middle" fill="#111" >C (μM)</text>
<text x="294.60" y="465.90" font-size="9.8" font-weight="bold" fill="#111" >ZIKV Cytoprotection</text>
<text transform="translate(238.0,540.3) rotate(-90)" font-size="9.8" font-weight="bold" text-anchor="middle" fill="#111">% Antiviral activity</text>
<text transform="translate(441.2,538.0) rotate(90)" font-size="9.6" font-weight="bold" text-anchor="middle" fill="#111">% Viability</text>
<polyline points="270.00,510.57 270.50,510.57 271.00,510.57 271.50,510.57 272.00,510.57 272.50,510.57 273.00,510.57 273.50,510.57 274.00,510.57 274.50,510.57 275.00,510.57 275.50,510.57 276.00,510.57 276.50,510.57 277.00,510.57 277.50,510.57 278.00,510.57 278.50,510.57 279.00,510.57 279.50,510.57 280.00,510.57 280.50,510.57 281.00,510.57 281.50,510.57 282.00,510.57 282.50,510.57 283.00,510.57 283.50,510.57 284.00,510.57 284.50,510.57 285.00,510.57 285.50,510.57 286.00,510.57 286.50,510.57 287.00,510.57 287.50,510.57 288.00,510.57 288.50,510.57 289.00,510.57 289.50,510.57 290.00,510.57 290.50,510.57 291.00,510.57 291.50,510.57 292.00,510.57 292.50,510.57 293.00,510.57 293.50,510.57 294.00,510.57 294.50,510.57 295.00,510.57 295.50,510.57 296.00,510.57 296.50,510.57 297.00,510.57 297.50,510.57 298.00,510.57 298.50,510.57 299.00,510.57 299.50,510.57 300.00,510.57 300.50,510.57 301.00,510.57 301.50,510.57 302.00,510.57 302.50,510.57 303.00,510.57 303.50,510.57 304.00,510.57 304.50,510.57 305.00,510.57 305.50,510.57 306.00,510.57 306.50,510.57 307.00,510.57 307.50,510.57 308.00,510.57 308.50,510.57 309.00,510.57 309.50,510.57 310.00,510.57 310.50,510.57 311.00,510.57 311.50,510.57 312.00,510.57 312.50,510.57 313.00,510.57 313.50,510.57 314.00,510.57 314.50,510.57 315.00,510.57 315.50,510.57 316.00,510.57 316.50,510.57 317.00,510.57 317.50,510.57 318.00,510.57 318.50,510.57 319.00,510.57 319.50,510.57 320.00,510.57 320.50,510.57 321.00,510.57 321.50,510.57 322.00,510.57 322.50,510.57 323.00,510.57 323.50,510.57 324.00,510.57 324.50,510.57 325.00,510.57 325.50,510.57 326.00,510.57 326.50,510.57 327.00,510.57 327.50,510.57 328.00,510.57 328.50,510.57 329.00,510.57 329.50,510.57 330.00,510.57 330.50,510.57 331.00,510.57 331.50,510.57 332.00,510.57 332.50,510.57 333.00,510.57 333.50,510.57 334.00,510.57 334.50,510.57 335.00,510.57 335.50,510.57 336.00,510.57 336.50,510.57 337.00,510.57 337.50,510.57 338.00,510.57 338.50,510.57 339.00,510.57 339.50,510.57 340.00,510.57 340.50,510.57 341.00,510.57 341.50,510.57 342.00,510.57 342.50,510.57 343.00,510.57 343.50,510.57 344.00,510.57 344.50,510.57 345.00,510.57 345.50,510.57 346.00,510.57 346.50,510.57 347.00,510.57 347.50,510.57 348.00,510.57 348.50,510.57 349.00,510.57 349.50,510.57 350.00,510.57 350.50,510.57 351.00,510.57 351.50,510.57 352.00,510.57 352.50,510.57 353.00,510.57 353.50,510.57 354.00,510.57 354.50,510.57 355.00,510.57 355.50,510.57 356.00,510.57 356.50,510.57 357.00,510.57 357.50,510.57 358.00,510.57 358.50,510.57 359.00,510.57 359.50,510.57 360.00,510.57 360.50,510.57 361.00,510.57 361.50,510.57 362.00,510.57 362.50,510.57 363.00,510.57 363.50,510.57 364.00,510.57 364.50,510.57 365.00,510.57 365.50,510.57 366.00,510.57 366.50,510.57 367.00,510.57 367.50,510.57 368.00,510.57 368.50,510.57 369.00,510.57 369.50,510.57 370.00,510.57 370.50,510.57 371.00,510.57 371.50,510.57 372.00,510.57 372.50,510.57 373.00,510.57 373.50,510.57 374.00,510.57 374.50,510.57 375.00,510.57 375.50,510.57 376.00,510.57 376.50,510.57 377.00,510.57 377.50,510.57 378.00,510.57 378.50,510.57 379.00,510.57 379.50,510.57 380.00,510.57 380.50,510.57 381.00,510.57 381.50,510.57 382.00,510.57 382.50,510.57 383.00,510.57 383.50,510.57 384.00,510.57 384.50,510.57 385.00,510.57 385.50,510.57 386.00,510.57 386.50,510.57 387.00,510.57 387.50,510.57 388.00,510.57 388.50,510.58 389.00,510.58 389.50,510.58 390.00,510.58 390.50,510.58 391.00,510.59 391.50,510.59 392.00,510.59 392.50,510.60 393.00,510.61 393.50,510.62 394.00,510.63 394.50,510.64 395.00,510.66 395.50,510.68 396.00,510.71 396.50,510.74 397.00,510.78 397.50,510.84 398.00,510.90 398.50,510.98 399.00,511.08 399.50,511.20 400.00,511.36 400.50,511.54 401.00,511.78 401.50,512.06 402.00,512.42 402.50,512.85 403.00,513.39 403.50,514.04 404.00,514.83 404.50,515.80 405.00,516.96 405.50,518.35 406.00,520.01 406.50,521.96 407.00,524.23 407.50,526.84 408.00,529.79 408.50,533.08 409.00,536.68 409.50,540.53 410.00,544.56 410.50,548.68 411.00,552.81 411.50,556.84 412.00,560.69 412.50,564.29" fill="none" stroke="#b4b4b4" stroke-width="0.9" />
<polyline points="270.00,510.19 270.50,510.19 271.00,510.19 271.50,510.19 272.00,510.19 272.50,510.19 273.00,510.19 273.50,510.19 274.00,510.19 274.50,510.19 275.00,510.19 275.50,510.19 276.00,510.19 276.50,510.19 277.00,510.19 277.50,510.19 278.00,510.19 278.50,510.19 279.00,510.19 279.50,510.19 280.00,510.19 280.50,510.19 281.00,510.19 281.50,510.19 282.00,510.19 282.50,510.19 283.00,510.19 283.50,510.19 284.00,510.19 284.50,510.19 285.00,510.19 285.50,510.19 286.00,510.19 286.50,510.19 287.00,510.19 287.50,510.19 288.00,510.19 288.50,510.19 289.00,510.19 289.50,510.19 290.00,510.19 290.50,510.19 291.00,510.19 291.50,510.19 292.00,510.19 292.50,510.19 293.00,510.19 293.50,510.19 294.00,510.19 294.50,510.19 295.00,510.19 295.50,510.19 296.00,510.19 296.50,510.19 297.00,510.19 297.50,510.19 298.00,510.19 298.50,510.19 299.00,510.19 299.50,510.19 300.00,510.19 300.50,510.19 301.00,510.19 301.50,510.19 302.00,510.19 302.50,510.19 303.00,510.19 303.50,510.19 304.00,510.19 304.50,510.19 305.00,510.19 305.50,510.19 306.00,510.19 306.50,510.19 307.00,510.19 307.50,510.19 308.00,510.19 308.50,510.19 309.00,510.19 309.50,510.19 310.00,510.19 310.50,510.19 311.00,510.19 311.50,510.19 312.00,510.19 312.50,510.19 313.00,510.20 313.50,510.20 314.00,510.20 314.50,510.20 315.00,510.20 315.50,510.20 316.00,510.20 316.50,510.20 317.00,510.20 317.50,510.20 318.00,510.20 318.50,510.20 319.00,510.20 319.50,510.21 320.00,510.21 320.50,510.21 321.00,510.21 321.50,510.21 322.00,510.21 322.50,510.21 323.00,510.21 323.50,510.21 324.00,510.22 324.50,510.22 325.00,510.22 325.50,510.22 326.00,510.22 326.50,510.23 327.00,510.23 327.50,510.23 328.00,510.23 328.50,510.23 329.00,510.24 329.50,510.24 330.00,510.24 330.50,510.25 331.00,510.25 331.50,510.25 332.00,510.25 332.50,510.26 333.00,510.26 333.50,510.27 334.00,510.27 334.50,510.27 335.00,510.28 335.50,510.28 336.00,510.29 336.50,510.29 337.00,510.30 337.50,510.31 338.00,510.31 338.50,510.32 339.00,510.33 339.50,510.33 340.00,510.34 340.50,510.35 341.00,510.36 341.50,510.37 342.00,510.37 342.50,510.38 343.00,510.39 343.50,510.41 344.00,510.42 344.50,510.43 345.00,510.44 345.50,510.45 346.00,510.47 346.50,510.48 347.00,510.50 347.50,510.51 348.00,510.53 348.50,510.55 349.00,510.57 349.50,510.58 350.00,510.61 350.50,510.63 351.00,510.65 351.50,510.67 352.00,510.70 352.50,510.72 353.00,510.75 353.50,510.78 354.00,510.81 354.50,510.84 355.00,510.88 355.50,510.91 356.00,510.95 356.50,510.99 357.00,511.03 357.50,511.07 358.00,511.11 358.50,511.16 359.00,511.21 359.50,511.26 360.00,511.32 360.50,511.37 361.00,511.43 361.50,511.50 362.00,511.56 362.50,511.63 363.00,511.71 363.50,511.78 364.00,511.86 364.50,511.95 365.00,512.03 365.50,512.13 366.00,512.22 366.50,512.32 367.00,512.43 367.50,512.54 368.00,512.66 368.50,512.78 369.00,512.91 369.50,513.04 370.00,513.19 370.50,513.33 371.00,513.49 371.50,513.65 372.00,513.82 372.50,514.00 373.00,514.18 373.50,514.37 374.00,514.58 374.50,514.79 375.00,515.01 375.50,515.24 376.00,515.48 376.50,515.73 377.00,516.00 377.50,516.27 378.00,516.56 378.50,516.86 379.00,517.17 379.50,517.49 380.00,517.83 380.50,518.18 381.00,518.54 381.50,518.92 382.00,519.32 382.50,519.73 383.00,520.15 383.50,520.59 384.00,521.05 384.50,521.53 385.00,522.02 385.50,522.53 386.00,523.05 386.50,523.60 387.00,524.16 387.50,524.74 388.00,525.34 388.50,525.96 389.00,526.59 389.50,527.25 390.00,527.92 390.50,528.61 391.00,529.32 391.50,530.05 392.00,530.79 392.50,531.55 393.00,532.33 393.50,533.13 394.00,533.94 394.50,534.76 395.00,535.61 395.50,536.46 396.00,537.33 396.50,538.22 397.00,539.11 397.50,540.02 398.00,540.93 398.50,541.86 399.00,542.79 399.50,543.73 400.00,544.67 400.50,545.62 401.00,546.58 401.50,547.54 402.00,548.49 402.50,549.45 403.00,550.41 403.50,551.36 404.00,552.31 404.50,553.26 405.00,554.20 405.50,555.13 406.00,556.05" fill="none" stroke="#444" stroke-width="0.9" />
<polyline points="296.00,587.02 296.50,587.00 297.00,586.97 297.50,586.94 298.00,586.90 298.50,586.86 299.00,586.81 299.50,586.76 300.00,586.70 300.50,586.63 301.00,586.55 301.50,586.46 302.00,586.35 302.50,586.23 303.00,586.10 303.50,585.94 304.00,585.77 304.50,585.57 305.00,585.34 305.50,585.08 306.00,584.79 306.50,584.45 307.00,584.07 307.50,583.64 308.00,583.16 308.50,582.61 309.00,582.00 309.50,581.31 310.00,580.54 310.50,579.68 311.00,578.72 311.50,577.65 312.00,576.47 312.50,575.18 313.00,573.76 313.50,572.22 314.00,570.55 314.50,568.75 315.00,566.83 315.50,564.79 316.00,562.65 316.50,560.40 317.00,558.08 317.50,555.69 318.00,553.26 318.50,550.80 319.00,548.35 319.50,545.92 320.00,543.53 320.50,541.20 321.00,538.96 321.50,536.81 322.00,534.77 322.50,532.85 323.00,531.05 323.50,529.38 324.00,527.84 324.50,526.42 325.00,525.13 325.50,523.95 326.00,522.89 326.50,521.93 327.00,521.07 327.50,520.29 328.00,519.60 328.50,518.99 329.00,518.44 329.50,517.96 330.00,517.53 330.50,517.15 331.00,516.82 331.50,516.53 332.00,516.27 332.50,516.04 333.00,515.84 333.50,515.66 334.00,515.51 334.50,515.37 335.00,515.25 335.50,515.15 336.00,515.06 336.50,514.98 337.00,514.91 337.50,514.85 338.00,514.79 338.50,514.75 339.00,514.70 339.50,514.67 340.00,514.64 340.50,514.61 341.00,514.59 341.50,514.57 342.00,514.55 342.50,514.53 343.00,514.52 343.50,514.50 344.00,514.49 344.50,514.48 345.00,514.48 345.50,514.47 346.00,514.46 346.50,514.46 347.00,514.45 347.50,514.45 348.00,514.45 348.50,514.44 349.00,514.44 349.50,514.44 350.00,514.43 350.50,514.43 351.00,514.43 351.50,514.43 352.00,514.43 352.50,514.43 353.00,514.43 353.50,514.43 354.00,514.42 354.50,514.42 355.00,514.42 355.50,514.42 356.00,514.42 356.50,514.42 357.00,514.42 357.50,514.42 358.00,514.42 358.50,514.42 359.00,514.42 359.50,514.42 360.00,514.42 360.50,514.42 361.00,514.42 361.50,514.42 362.00,514.42 362.50,514.42 363.00,514.42 363.50,514.42 364.00,514.42 364.50,514.42 365.00,514.42 365.50,514.42 366.00,514.42 366.50,514.42 367.00,514.42 367.50,514.42 368.00,514.42 368.50,514.42 369.00,514.42 369.50,514.42 370.00,514.42 370.50,514.42 371.00,514.42 371.50,514.42 372.00,514.42 372.50,514.42 373.00,514.42 373.50,514.42 374.00,514.42 374.50,514.42 375.00,514.42 375.50,514.42 376.00,514.42 376.50,514.42 377.00,514.42 377.50,514.42 378.00,514.42 378.50,514.42 379.00,514.42 379.50,514.42 380.00,514.42 380.50,514.42" fill="none" stroke="#ff2020" stroke-width="0.9" />
<polyline points="362.00,586.15 362.50,586.07 363.00,585.97 363.50,585.87 364.00,585.75 364.50,585.62 365.00,585.48 365.50,585.31 366.00,585.13 366.50,584.92 367.00,584.69 367.50,584.44 368.00,584.15 368.50,583.83 369.00,583.47 369.50,583.06 370.00,582.62 370.50,582.12 371.00,581.57 371.50,580.96 372.00,580.28 372.50,579.54 373.00,578.71 373.50,577.81 374.00,576.82 374.50,575.74 375.00,574.57 375.50,573.29 376.00,571.91 376.50,570.43 377.00,568.85 377.50,567.15 378.00,565.36 378.50,563.47 379.00,561.49 379.50,559.43 380.00,557.30 380.50,555.10 381.00,552.86 381.50,550.59 382.00,548.30 382.50,546.01 383.00,543.74 383.50,541.50 384.00,539.30 384.50,537.17 385.00,535.11 385.50,533.13 386.00,531.24 386.50,529.45 387.00,527.75 387.50,526.17 388.00,524.69 388.50,523.31 389.00,522.03 389.50,520.86 390.00,519.78 390.50,518.79 391.00,517.89 391.50,517.06 392.00,516.32 392.50,515.64 393.00,515.03 393.50,514.48 394.00,513.98 394.50,513.54 395.00,513.13 395.50,512.77 396.00,512.45 396.50,512.16 397.00,511.91 397.50,511.68 398.00,511.47 398.50,511.29 399.00,511.12 399.50,510.98 400.00,510.85 400.50,510.73 401.00,510.63 401.50,510.53" fill="none" stroke="#2020ff" stroke-width="0.9" />
<line x1="274.80" y1="504.41" x2="274.80" y2="499.79" stroke="#b8b8b8" stroke-width="0.8" />
<line x1="273.10" y1="504.41" x2="276.50" y2="504.41" stroke="#b8b8b8" stroke-width="0.8" />
<line x1="273.10" y1="499.79" x2="276.50" y2="499.79" stroke="#b8b8b8" stroke-width="0.8" />
<polygon points="274.80,504.40 277.00,500.37 272.60,500.37" fill="#a8a8a8"/>
<line x1="287.90" y1="522.43" x2="287.90" y2="497.79" stroke="#b8b8b8" stroke-width="0.8" />
<line x1="286.20" y1="522.43" x2="289.60" y2="522.43" stroke="#b8b8b8" stroke-width="0.8" />
<line x1="286.20" y1="497.79" x2="289.60" y2="497.79" stroke="#b8b8b8" stroke-width="0.8" />
<polygon points="287.90,512.41 290.10,508.38 285.70,508.38" fill="#a8a8a8"/>
<line x1="299.90" y1="522.89" x2="299.90" y2="504.41" stroke="#b8b8b8" stroke-width="0.8" />
<line x1="298.20" y1="522.89" x2="301.60" y2="522.89" stroke="#b8b8b8" stroke-width="0.8" />
<line x1="298.20" y1="504.41" x2="301.60" y2="504.41" stroke="#b8b8b8" stroke-width="0.8" />
<polygon points="299.90,515.95 302.10,511.92 297.70,511.92" fill="#a8a8a8"/>
<line x1="312.60" y1="522.35" x2="312.60" y2="505.41" stroke="#b8b8b8" stroke-width="0.8" />
<line x1="310.90" y1="522.35" x2="314.30" y2="522.35" stroke="#b8b8b8" stroke-width="0.8" />
<line x1="310.90" y1="505.41" x2="314.30" y2="505.41" stroke="#b8b8b8" stroke-width="0.8" />
<polygon points="312.60,516.18 314.80,512.16 310.40,512.16" fill="#a8a8a8"/>
<line x1="324.70" y1="516.11" x2="324.70" y2="513.03" stroke="#b8b8b8" stroke-width="0.8" />
<line x1="323.00" y1="516.11" x2="326.40" y2="516.11" stroke="#b8b8b8" stroke-width="0.8" />
<line x1="323.00" y1="513.03" x2="326.40" y2="513.03" stroke="#b8b8b8" stroke-width="0.8" />
<polygon points="324.70,516.87 326.90,512.85 322.50,512.85" fill="#a8a8a8"/>
<line x1="337.70" y1="515.96" x2="337.70" y2="506.72" stroke="#b8b8b8" stroke-width="0.8" />
<line x1="336.00" y1="515.96" x2="339.40" y2="515.96" stroke="#b8b8b8" stroke-width="0.8" />
<line x1="336.00" y1="506.72" x2="339.40" y2="506.72" stroke="#b8b8b8" stroke-width="0.8" />
<polygon points="337.70,513.64 339.90,509.61 335.50,509.61" fill="#a8a8a8"/>
<line x1="350.40" y1="516.73" x2="350.40" y2="490.55" stroke="#b8b8b8" stroke-width="0.8" />
<line x1="348.70" y1="516.73" x2="352.10" y2="516.73" stroke="#b8b8b8" stroke-width="0.8" />
<line x1="348.70" y1="490.55" x2="352.10" y2="490.55" stroke="#b8b8b8" stroke-width="0.8" />
<polygon points="350.40,505.94 352.60,501.91 348.20,501.91" fill="#a8a8a8"/>
<line x1="362.50" y1="520.58" x2="362.50" y2="492.86" stroke="#b8b8b8" stroke-width="0.8" />
<line x1="360.80" y1="520.58" x2="364.20" y2="520.58" stroke="#b8b8b8" stroke-width="0.8" />
<line x1="360.80" y1="492.86" x2="364.20" y2="492.86" stroke="#b8b8b8" stroke-width="0.8" />
<polygon points="362.50,509.02 364.70,504.99 360.30,504.99" fill="#a8a8a8"/>
<line x1="375.50" y1="516.73" x2="375.50" y2="510.57" stroke="#b8b8b8" stroke-width="0.8" />
<line x1="373.80" y1="516.73" x2="377.20" y2="516.73" stroke="#b8b8b8" stroke-width="0.8" />
<line x1="373.80" y1="510.57" x2="377.20" y2="510.57" stroke="#b8b8b8" stroke-width="0.8" />
<polygon points="375.50,515.95 377.70,511.92 373.30,511.92" fill="#a8a8a8"/>
<line x1="388.20" y1="512.34" x2="388.20" y2="503.10" stroke="#b8b8b8" stroke-width="0.8" />
<line x1="386.50" y1="512.34" x2="389.90" y2="512.34" stroke="#b8b8b8" stroke-width="0.8" />
<line x1="386.50" y1="503.10" x2="389.90" y2="503.10" stroke="#b8b8b8" stroke-width="0.8" />
<polygon points="388.20,510.02 390.40,506.00 386.00,506.00" fill="#a8a8a8"/>
<line x1="401.00" y1="514.42" x2="401.00" y2="509.80" stroke="#b8b8b8" stroke-width="0.8" />
<line x1="399.30" y1="514.42" x2="402.70" y2="514.42" stroke="#b8b8b8" stroke-width="0.8" />
<line x1="399.30" y1="509.80" x2="402.70" y2="509.80" stroke="#b8b8b8" stroke-width="0.8" />
<polygon points="401.00,514.41 403.20,510.38 398.80,510.38" fill="#a8a8a8"/>
<line x1="412.30" y1="565.24" x2="412.30" y2="562.16" stroke="#b8b8b8" stroke-width="0.8" />
<line x1="410.60" y1="565.24" x2="414.00" y2="565.24" stroke="#b8b8b8" stroke-width="0.8" />
<line x1="410.60" y1="562.16" x2="414.00" y2="562.16" stroke="#b8b8b8" stroke-width="0.8" />
<polygon points="412.30,566.00 414.50,561.97 410.10,561.97" fill="#a8a8a8"/>
<line x1="270.00" y1="532.13" x2="270.00" y2="498.25" stroke="#444" stroke-width="0.8" />
<line x1="268.30" y1="532.13" x2="271.70" y2="532.13" stroke="#444" stroke-width="0.8" />
<line x1="268.30" y1="498.25" x2="271.70" y2="498.25" stroke="#444" stroke-width="0.8" />
<polygon points="270.00,512.89 272.20,516.91 267.80,516.91" fill="#333"/>
<line x1="282.40" y1="508.26" x2="282.40" y2="505.18" stroke="#444" stroke-width="0.8" />
<line x1="280.70" y1="508.26" x2="284.10" y2="508.26" stroke="#444" stroke-width="0.8" />
<line x1="280.70" y1="505.18" x2="284.10" y2="505.18" stroke="#444" stroke-width="0.8" />
<polygon points="282.40,504.42 284.60,508.44 280.20,508.44" fill="#333"/>
<line x1="295.40" y1="512.11" x2="295.40" y2="505.95" stroke="#444" stroke-width="0.8" />
<line x1="293.70" y1="512.11" x2="297.10" y2="512.11" stroke="#444" stroke-width="0.8" />
<line x1="293.70" y1="505.95" x2="297.10" y2="505.95" stroke="#444" stroke-width="0.8" />
<polygon points="295.40,506.73 297.60,510.75 293.20,510.75" fill="#333"/>
<line x1="307.50" y1="514.42" x2="307.50" y2="511.34" stroke="#444" stroke-width="0.8" />
<line x1="305.80" y1="514.42" x2="309.20" y2="514.42" stroke="#444" stroke-width="0.8" />
<line x1="305.80" y1="511.34" x2="309.20" y2="511.34" stroke="#444" stroke-width="0.8" />
<polygon points="307.50,510.58 309.70,514.61 305.30,514.61" fill="#333"/>
<line x1="320.50" y1="515.19" x2="320.50" y2="493.63" stroke="#444" stroke-width="0.8" />
<line x1="318.80" y1="515.19" x2="322.20" y2="515.19" stroke="#444" stroke-width="0.8" />
<line x1="318.80" y1="493.63" x2="322.20" y2="493.63" stroke="#444" stroke-width="0.8" />
<polygon points="320.50,502.11 322.70,506.13 318.30,506.13" fill="#333"/>
<line x1="330.80" y1="515.19" x2="330.80" y2="507.49" stroke="#444" stroke-width="0.8" />
<line x1="329.10" y1="515.19" x2="332.50" y2="515.19" stroke="#444" stroke-width="0.8" />
<line x1="329.10" y1="507.49" x2="332.50" y2="507.49" stroke="#444" stroke-width="0.8" />
<polygon points="330.80,509.04 333.00,513.06 328.60,513.06" fill="#333"/>
<line x1="343.60" y1="522.89" x2="343.60" y2="502.87" stroke="#444" stroke-width="0.8" />
<line x1="341.90" y1="522.89" x2="345.30" y2="522.89" stroke="#444" stroke-width="0.8" />
<line x1="341.90" y1="502.87" x2="345.30" y2="502.87" stroke="#444" stroke-width="0.8" />
<polygon points="343.60,510.58 345.80,514.61 341.40,514.61" fill="#333"/>
<line x1="355.60" y1="517.81" x2="355.60" y2="511.65" stroke="#444" stroke-width="0.8" />
<line x1="353.90" y1="517.81" x2="357.30" y2="517.81" stroke="#444" stroke-width="0.8" />
<line x1="353.90" y1="511.65" x2="357.30" y2="511.65" stroke="#444" stroke-width="0.8" />
<polygon points="355.60,512.43 357.80,516.45 353.40,516.45" fill="#333"/>
<line x1="368.60" y1="519.81" x2="368.60" y2="510.57" stroke="#444" stroke-width="0.8" />
<line x1="366.90" y1="519.81" x2="370.30" y2="519.81" stroke="#444" stroke-width="0.8" />
<line x1="366.90" y1="510.57" x2="370.30" y2="510.57" stroke="#444" stroke-width="0.8" />
<polygon points="368.60,512.89 370.80,516.91 366.40,516.91" fill="#333"/>
<line x1="380.70" y1="527.51" x2="380.70" y2="515.19" stroke="#444" stroke-width="0.8" />
<line x1="379.00" y1="527.51" x2="382.40" y2="527.51" stroke="#444" stroke-width="0.8" />
<line x1="379.00" y1="515.19" x2="382.40" y2="515.19" stroke="#444" stroke-width="0.8" />
<polygon points="380.70,519.05 382.90,523.07 378.50,523.07" fill="#333"/>
<line x1="393.40" y1="537.52" x2="393.40" y2="532.90" stroke="#444" stroke-width="0.8" />
<line x1="391.70" y1="537.52" x2="395.10" y2="537.52" stroke="#444" stroke-width="0.8" />
<line x1="391.70" y1="532.90" x2="395.10" y2="532.90" stroke="#444" stroke-width="0.8" />
<polygon points="393.40,532.91 395.60,536.93 391.20,536.93" fill="#333"/>
<line x1="406.10" y1="557.54" x2="406.10" y2="551.38" stroke="#444" stroke-width="0.8" />
<line x1="404.40" y1="557.54" x2="407.80" y2="557.54" stroke="#444" stroke-width="0.8" />
<line x1="404.40" y1="551.38" x2="407.80" y2="551.38" stroke="#444" stroke-width="0.8" />
<polygon points="406.10,552.16 408.30,556.18 403.90,556.18" fill="#333"/>
<line x1="270.00" y1="593.19" x2="270.00" y2="588.57" stroke="#ff3030" stroke-width="0.8" />
<line x1="268.30" y1="593.19" x2="271.70" y2="593.19" stroke="#ff3030" stroke-width="0.8" />
<line x1="268.30" y1="588.57" x2="271.70" y2="588.57" stroke="#ff3030" stroke-width="0.8" />
<circle cx="270.00" cy="590.88" r="2.20" fill="#ff1a1a"/>
<line x1="282.40" y1="590.88" x2="282.40" y2="589.34" stroke="#ff3030" stroke-width="0.8" />
<line x1="280.70" y1="590.88" x2="284.10" y2="590.88" stroke="#ff3030" stroke-width="0.8" />
<line x1="280.70" y1="589.34" x2="284.10" y2="589.34" stroke="#ff3030" stroke-width="0.8" />
<circle cx="282.40" cy="590.11" r="2.20" fill="#ff1a1a"/>
<line x1="295.40" y1="589.50" x2="295.40" y2="581.79" stroke="#ff3030" stroke-width="0.8" />
<line x1="293.70" y1="589.50" x2="297.10" y2="589.50" stroke="#ff3030" stroke-width="0.8" />
<line x1="293.70" y1="581.79" x2="297.10" y2="581.79" stroke="#ff3030" stroke-width="0.8" />
<circle cx="295.40" cy="585.64" r="2.20" fill="#ff1a1a"/>
<line x1="307.50" y1="581.41" x2="307.50" y2="579.87" stroke="#ff3030" stroke-width="0.8" />
<line x1="305.80" y1="581.41" x2="309.20" y2="581.41" stroke="#ff3030" stroke-width="0.8" />
<line x1="305.80" y1="579.87" x2="309.20" y2="579.87" stroke="#ff3030" stroke-width="0.8" />
<circle cx="307.50" cy="580.64" r="2.20" fill="#ff1a1a"/>
<line x1="320.50" y1="544.45" x2="320.50" y2="539.83" stroke="#ff3030" stroke-width="0.8" />
<line x1="318.80" y1="544.45" x2="322.20" y2="544.45" stroke="#ff3030" stroke-width="0.8" />
<line x1="318.80" y1="539.83" x2="322.20" y2="539.83" stroke="#ff3030" stroke-width="0.8" />
<circle cx="320.50" cy="542.14" r="2.20" fill="#ff1a1a"/>
<line x1="330.80" y1="514.42" x2="330.80" y2="509.80" stroke="#ff3030" stroke-width="0.8" />
<line x1="329.10" y1="514.42" x2="332.50" y2="514.42" stroke="#ff3030" stroke-width="0.8" />
<line x1="329.10" y1="509.80" x2="332.50" y2="509.80" stroke="#ff3030" stroke-width="0.8" />
<circle cx="330.80" cy="512.11" r="2.20" fill="#ff1a1a"/>
<line x1="343.60" y1="524.12" x2="343.60" y2="513.34" stroke="#ff3030" stroke-width="0.8" />
<line x1="341.90" y1="524.12" x2="345.30" y2="524.12" stroke="#ff3030" stroke-width="0.8" />
<line x1="341.90" y1="513.34" x2="345.30" y2="513.34" stroke="#ff3030" stroke-width="0.8" />
<circle cx="343.60" cy="518.73" r="2.20" fill="#ff1a1a"/>
<line x1="355.60" y1="522.43" x2="355.60" y2="517.81" stroke="#ff3030" stroke-width="0.8" />
<line x1="353.90" y1="522.43" x2="357.30" y2="522.43" stroke="#ff3030" stroke-width="0.8" />
<line x1="353.90" y1="517.81" x2="357.30" y2="517.81" stroke="#ff3030" stroke-width="0.8" />
<circle cx="355.60" cy="520.12" r="2.20" fill="#ff1a1a"/>
<line x1="368.60" y1="519.81" x2="368.60" y2="515.19" stroke="#ff3030" stroke-width="0.8" />
<line x1="366.90" y1="519.81" x2="370.30" y2="519.81" stroke="#ff3030" stroke-width="0.8" />
<line x1="366.90" y1="515.19" x2="370.30" y2="515.19" stroke="#ff3030" stroke-width="0.8" />
<circle cx="368.60" cy="517.50" r="2.20" fill="#ff1a1a"/>
<line x1="380.70" y1="528.28" x2="380.70" y2="517.50" stroke="#ff3030" stroke-width="0.8" />
<line x1="379.00" y1="528.28" x2="382.40" y2="528.28" stroke="#ff3030" stroke-width="0.8" />
<line x1="379.00" y1="517.50" x2="382.40" y2="517.50" stroke="#ff3030" stroke-width="0.8" />
<circle cx="380.70" cy="522.89" r="2.20" fill="#ff1a1a"/>
<line x1="393.40" y1="535.98" x2="393.40" y2="531.36" stroke="#ff3030" stroke-width="0.8" />
<line x1="391.70" y1="535.98" x2="395.10" y2="535.98" stroke="#ff3030" stroke-width="0.8" />
<line x1="391.70" y1="531.36" x2="395.10" y2="531.36" stroke="#ff3030" stroke-width="0.8" />
<circle cx="393.40" cy="533.67" r="2.20" fill="#ff1a1a"/>
<line x1="406.10" y1="557.54" x2="406.10" y2="552.92" stroke="#ff3030" stroke-width="0.8" />
<line x1="404.40" y1="557.54" x2="407.80" y2="557.54" stroke="#ff3030" stroke-width="0.8" />
<line x1="404.40" y1="552.92" x2="407.80" y2="552.92" stroke="#ff3030" stroke-width="0.8" />
<circle cx="406.10" cy="555.23" r="2.20" fill="#ff1a1a"/>
<line x1="274.80" y1="587.95" x2="274.80" y2="584.88" stroke="#3030ff" stroke-width="0.8" />
<line x1="273.10" y1="587.95" x2="276.50" y2="587.95" stroke="#3030ff" stroke-width="0.8" />
<line x1="273.10" y1="584.88" x2="276.50" y2="584.88" stroke="#3030ff" stroke-width="0.8" />
<rect x="272.70" y="584.31" width="4.20" height="4.20" fill="#1a1aff"/>
<line x1="287.90" y1="589.65" x2="287.90" y2="586.57" stroke="#3030ff" stroke-width="0.8" />
<line x1="286.20" y1="589.65" x2="289.60" y2="589.65" stroke="#3030ff" stroke-width="0.8" />
<line x1="286.20" y1="586.57" x2="289.60" y2="586.57" stroke="#3030ff" stroke-width="0.8" />
<rect x="285.80" y="586.01" width="4.20" height="4.20" fill="#1a1aff"/>
<line x1="299.90" y1="591.03" x2="299.90" y2="587.95" stroke="#3030ff" stroke-width="0.8" />
<line x1="298.20" y1="591.03" x2="301.60" y2="591.03" stroke="#3030ff" stroke-width="0.8" />
<line x1="298.20" y1="587.95" x2="301.60" y2="587.95" stroke="#3030ff" stroke-width="0.8" />
<rect x="297.80" y="587.39" width="4.20" height="4.20" fill="#1a1aff"/>
<line x1="312.60" y1="590.34" x2="312.60" y2="587.26" stroke="#3030ff" stroke-width="0.8" />
<line x1="310.90" y1="590.34" x2="314.30" y2="590.34" stroke="#3030ff" stroke-width="0.8" />
<line x1="310.90" y1="587.26" x2="314.30" y2="587.26" stroke="#3030ff" stroke-width="0.8" />
<rect x="310.50" y="586.70" width="4.20" height="4.20" fill="#1a1aff"/>
<line x1="324.70" y1="590.34" x2="324.70" y2="587.26" stroke="#3030ff" stroke-width="0.8" />
<line x1="323.00" y1="590.34" x2="326.40" y2="590.34" stroke="#3030ff" stroke-width="0.8" />
<line x1="323.00" y1="587.26" x2="326.40" y2="587.26" stroke="#3030ff" stroke-width="0.8" />
<rect x="322.60" y="586.70" width="4.20" height="4.20" fill="#1a1aff"/>
<line x1="337.70" y1="586.34" x2="337.70" y2="583.26" stroke="#3030ff" stroke-width="0.8" />
<line x1="336.00" y1="586.34" x2="339.40" y2="586.34" stroke="#3030ff" stroke-width="0.8" />
<line x1="336.00" y1="583.26" x2="339.40" y2="583.26" stroke="#3030ff" stroke-width="0.8" />
<rect x="335.60" y="582.70" width="4.20" height="4.20" fill="#1a1aff"/>
<line x1="350.40" y1="589.42" x2="350.40" y2="580.18" stroke="#3030ff" stroke-width="0.8" />
<line x1="348.70" y1="589.42" x2="352.10" y2="589.42" stroke="#3030ff" stroke-width="0.8" />
<line x1="348.70" y1="580.18" x2="352.10" y2="580.18" stroke="#3030ff" stroke-width="0.8" />
<rect x="348.30" y="582.70" width="4.20" height="4.20" fill="#1a1aff"/>
<line x1="362.50" y1="587.18" x2="362.50" y2="585.64" stroke="#3030ff" stroke-width="0.8" />
<line x1="360.80" y1="587.18" x2="364.20" y2="587.18" stroke="#3030ff" stroke-width="0.8" />
<line x1="360.80" y1="585.64" x2="364.20" y2="585.64" stroke="#3030ff" stroke-width="0.8" />
<rect x="360.40" y="584.31" width="4.20" height="4.20" fill="#1a1aff"/>
<line x1="375.50" y1="573.17" x2="375.50" y2="570.09" stroke="#3030ff" stroke-width="0.8" />
<line x1="373.80" y1="573.17" x2="377.20" y2="573.17" stroke="#3030ff" stroke-width="0.8" />
<line x1="373.80" y1="570.09" x2="377.20" y2="570.09" stroke="#3030ff" stroke-width="0.8" />
<rect x="373.40" y="569.53" width="4.20" height="4.20" fill="#1a1aff"/>
<line x1="388.20" y1="528.28" x2="388.20" y2="517.50" stroke="#3030ff" stroke-width="0.8" />
<line x1="386.50" y1="528.28" x2="389.90" y2="528.28" stroke="#3030ff" stroke-width="0.8" />
<line x1="386.50" y1="517.50" x2="389.90" y2="517.50" stroke="#3030ff" stroke-width="0.8" />
<rect x="386.10" y="520.79" width="4.20" height="4.20" fill="#1a1aff"/>
<line x1="401.00" y1="522.12" x2="401.00" y2="509.80" stroke="#3030ff" stroke-width="0.8" />
<line x1="399.30" y1="522.12" x2="402.70" y2="522.12" stroke="#3030ff" stroke-width="0.8" />
<line x1="399.30" y1="509.80" x2="402.70" y2="509.80" stroke="#3030ff" stroke-width="0.8" />
<rect x="398.90" y="513.86" width="4.20" height="4.20" fill="#1a1aff"/>
<line x1="247.00" y1="637.30" x2="263.00" y2="637.30" stroke="#ff1a1a" stroke-width="1.0" />
<circle cx="255.00" cy="637.30" r="2.70" fill="#ff1a1a"/>
<text x="269.40" y="640.50" font-size="8.75" fill="#111" ><tspan font-weight="bold">IRBM-Z-2 CPE</tspan> EC<tspan font-size="5.78" baseline-shift="-1.75">50</tspan> (μM) = 0.016 ± 0.002</text>
<line x1="247.00" y1="651.90" x2="263.00" y2="651.90" stroke="#333" stroke-width="1.0" />
<polygon points="255.00,648.79 257.97,654.23 252.03,654.23" fill="#333"/>
<text x="269.40" y="655.10" font-size="8.75" fill="#111" ><tspan font-weight="bold">IRBM-Z-2 viability</tspan> EC<tspan font-size="5.78" baseline-shift="-1.75">50</tspan> (μM) = 37.9 ± 8.5</text>
<line x1="247.00" y1="666.30" x2="263.00" y2="666.30" stroke="#1a1aff" stroke-width="1.0" />
<rect x="252.30" y="663.60" width="5.40" height="5.40" fill="#1a1aff"/>
<text x="269.40" y="669.50" font-size="8.75" fill="#111" ><tspan font-weight="bold">Ribavirin CPE</tspan> EC<tspan font-size="5.78" baseline-shift="-1.75">50</tspan> (μM) = 5.5 ± 0.8</text>
<line x1="247.00" y1="680.70" x2="263.00" y2="680.70" stroke="#aaaaaa" stroke-width="1.0" />
<polygon points="255.00,683.80 257.97,678.37 252.03,678.37" fill="#aaaaaa"/>
<text x="269.40" y="683.90" font-size="8.75" fill="#111" ><tspan font-weight="bold">Ribavirin viability</tspan> EC<tspan font-size="5.78" baseline-shift="-1.75">50</tspan> (μM) = 82.0 ± 9.1</text>
<line x1="497.90" y1="479.70" x2="497.90" y2="603.60" stroke="#111" stroke-width="1.4" />
<line x1="657.80" y1="479.70" x2="657.80" y2="603.60" stroke="#111" stroke-width="1.4" />
<line x1="497.20" y1="602.90" x2="497.90" y2="602.90" stroke="#111" stroke-width="1.4" />
<line x1="497.90" y1="587.50" x2="657.80" y2="587.50" stroke="#111" stroke-width="1.4" />
<line x1="493.90" y1="602.90" x2="497.90" y2="602.90" stroke="#111" stroke-width="1.2" />
<line x1="657.80" y1="602.90" x2="661.80" y2="602.90" stroke="#111" stroke-width="1.2" />
<text x="492.60" y="605.50" font-size="7.2" font-weight="bold" text-anchor="end" fill="#111" >-20</text>
<text x="662.80" y="605.50" font-size="7.2" font-weight="bold" fill="#111" >-20</text>
<line x1="493.90" y1="587.50" x2="497.90" y2="587.50" stroke="#111" stroke-width="1.2" />
<line x1="657.80" y1="587.50" x2="661.80" y2="587.50" stroke="#111" stroke-width="1.2" />
<text x="492.60" y="590.10" font-size="7.2" font-weight="bold" text-anchor="end" fill="#111" >0</text>
<text x="662.80" y="590.10" font-size="7.2" font-weight="bold" fill="#111" >0</text>
<line x1="493.90" y1="572.10" x2="497.90" y2="572.10" stroke="#111" stroke-width="1.2" />
<line x1="657.80" y1="572.10" x2="661.80" y2="572.10" stroke="#111" stroke-width="1.2" />
<text x="492.60" y="574.70" font-size="7.2" font-weight="bold" text-anchor="end" fill="#111" >20</text>
<text x="662.80" y="574.70" font-size="7.2" font-weight="bold" fill="#111" >20</text>
<line x1="493.90" y1="556.70" x2="497.90" y2="556.70" stroke="#111" stroke-width="1.2" />
<line x1="657.80" y1="556.70" x2="661.80" y2="556.70" stroke="#111" stroke-width="1.2" />
<text x="492.60" y="559.30" font-size="7.2" font-weight="bold" text-anchor="end" fill="#111" >40</text>
<text x="662.80" y="559.30" font-size="7.2" font-weight="bold" fill="#111" >40</text>
<line x1="493.90" y1="541.30" x2="497.90" y2="541.30" stroke="#111" stroke-width="1.2" />
<line x1="657.80" y1="541.30" x2="661.80" y2="541.30" stroke="#111" stroke-width="1.2" />
<text x="492.60" y="543.90" font-size="7.2" font-weight="bold" text-anchor="end" fill="#111" >60</text>
<text x="662.80" y="543.90" font-size="7.2" font-weight="bold" fill="#111" >60</text>
<line x1="493.90" y1="525.90" x2="497.90" y2="525.90" stroke="#111" stroke-width="1.2" />
<line x1="657.80" y1="525.90" x2="661.80" y2="525.90" stroke="#111" stroke-width="1.2" />
<text x="492.60" y="528.50" font-size="7.2" font-weight="bold" text-anchor="end" fill="#111" >80</text>
<text x="662.80" y="528.50" font-size="7.2" font-weight="bold" fill="#111" >80</text>
<line x1="493.90" y1="510.50" x2="497.90" y2="510.50" stroke="#111" stroke-width="1.2" />
<line x1="657.80" y1="510.50" x2="661.80" y2="510.50" stroke="#111" stroke-width="1.2" />
<text x="492.60" y="513.10" font-size="7.2" font-weight="bold" text-anchor="end" fill="#111" >100</text>
<text x="662.80" y="513.10" font-size="7.2" font-weight="bold" fill="#111" >100</text>
<line x1="493.90" y1="495.10" x2="497.90" y2="495.10" stroke="#111" stroke-width="1.2" />
<line x1="657.80" y1="495.10" x2="661.80" y2="495.10" stroke="#111" stroke-width="1.2" />
<text x="492.60" y="497.70" font-size="7.2" font-weight="bold" text-anchor="end" fill="#111" >120</text>
<text x="662.80" y="497.70" font-size="7.2" font-weight="bold" fill="#111" >120</text>
<line x1="493.90" y1="479.70" x2="497.90" y2="479.70" stroke="#111" stroke-width="1.2" />
<line x1="657.80" y1="479.70" x2="661.80" y2="479.70" stroke="#111" stroke-width="1.2" />
<text x="492.60" y="482.30" font-size="7.2" font-weight="bold" text-anchor="end" fill="#111" >140</text>
<text x="662.80" y="482.30" font-size="7.2" font-weight="bold" fill="#111" >140</text>
<line x1="493.90" y1="602.90" x2="497.90" y2="602.90" stroke="#111" stroke-width="1.2" />
<line x1="498.00" y1="587.50" x2="498.00" y2="589.50" stroke="#111" stroke-width="1.1" />
<line x1="509.14" y1="587.50" x2="509.14" y2="589.50" stroke="#111" stroke-width="0.8" />
<line x1="515.65" y1="587.50" x2="515.65" y2="589.50" stroke="#111" stroke-width="0.8" />
<line x1="520.28" y1="587.50" x2="520.28" y2="589.50" stroke="#111" stroke-width="0.8" />
<line x1="523.86" y1="587.50" x2="523.86" y2="589.50" stroke="#111" stroke-width="0.8" />
<line x1="526.79" y1="587.50" x2="526.79" y2="589.50" stroke="#111" stroke-width="0.8" />
<line x1="529.27" y1="587.50" x2="529.27" y2="589.50" stroke="#111" stroke-width="0.8" />
<line x1="531.41" y1="587.50" x2="531.41" y2="589.50" stroke="#111" stroke-width="0.8" />
<line x1="533.31" y1="587.50" x2="533.31" y2="589.50" stroke="#111" stroke-width="0.8" />
<line x1="535.00" y1="587.50" x2="535.00" y2="589.50" stroke="#111" stroke-width="1.1" />
<line x1="546.14" y1="587.50" x2="546.14" y2="589.50" stroke="#111" stroke-width="0.8" />
<line x1="552.65" y1="587.50" x2="552.65" y2="589.50" stroke="#111" stroke-width="0.8" />
<line x1="557.28" y1="587.50" x2="557.28" y2="589.50" stroke="#111" stroke-width="0.8" />
<line x1="560.86" y1="587.50" x2="560.86" y2="589.50" stroke="#111" stroke-width="0.8" />
<line x1="563.79" y1="587.50" x2="563.79" y2="589.50" stroke="#111" stroke-width="0.8" />
<line x1="566.27" y1="587.50" x2="566.27" y2="589.50" stroke="#111" stroke-width="0.8" />
<line x1="568.41" y1="587.50" x2="568.41" y2="589.50" stroke="#111" stroke-width="0.8" />
<line x1="570.31" y1="587.50" x2="570.31" y2="589.50" stroke="#111" stroke-width="0.8" />
<line x1="572.00" y1="587.50" x2="572.00" y2="591.50" stroke="#111" stroke-width="1.1" />
<line x1="583.14" y1="587.50" x2="583.14" y2="589.50" stroke="#111" stroke-width="0.8" />
<line x1="589.65" y1="587.50" x2="589.65" y2="589.50" stroke="#111" stroke-width="0.8" />
<line x1="594.28" y1="587.50" x2="594.28" y2="589.50" stroke="#111" stroke-width="0.8" />
<line x1="597.86" y1="587.50" x2="597.86" y2="589.50" stroke="#111" stroke-width="0.8" />
<line x1="600.79" y1="587.50" x2="600.79" y2="589.50" stroke="#111" stroke-width="0.8" />
<line x1="603.27" y1="587.50" x2="603.27" y2="589.50" stroke="#111" stroke-width="0.8" />
<line x1="605.41" y1="587.50" x2="605.41" y2="589.50" stroke="#111" stroke-width="0.8" />
<line x1="607.31" y1="587.50" x2="607.31" y2="589.50" stroke="#111" stroke-width="0.8" />
<line x1="609.00" y1="587.50" x2="609.00" y2="589.50" stroke="#111" stroke-width="1.1" />
<line x1="620.14" y1="587.50" x2="620.14" y2="589.50" stroke="#111" stroke-width="0.8" />
<line x1="626.65" y1="587.50" x2="626.65" y2="589.50" stroke="#111" stroke-width="0.8" />
<line x1="631.28" y1="587.50" x2="631.28" y2="589.50" stroke="#111" stroke-width="0.8" />
<line x1="634.86" y1="587.50" x2="634.86" y2="589.50" stroke="#111" stroke-width="0.8" />
<line x1="637.79" y1="587.50" x2="637.79" y2="589.50" stroke="#111" stroke-width="0.8" />
<line x1="640.27" y1="587.50" x2="640.27" y2="589.50" stroke="#111" stroke-width="0.8" />
<line x1="642.41" y1="587.50" x2="642.41" y2="589.50" stroke="#111" stroke-width="0.8" />
<line x1="644.31" y1="587.50" x2="644.31" y2="589.50" stroke="#111" stroke-width="0.8" />
<line x1="646.00" y1="587.50" x2="646.00" y2="591.50" stroke="#111" stroke-width="1.1" />
<line x1="657.14" y1="587.50" x2="657.14" y2="589.50" stroke="#111" stroke-width="0.8" />
<text x="572.00" y="600.30" font-size="7.7" font-weight="bold" text-anchor="middle" fill="#111" >1</text>
<text x="646.00" y="600.30" font-size="7.7" font-weight="bold" text-anchor="middle" fill="#111" >100</text>
<text x="577.40" y="613.80" font-size="8.4" font-weight="bold" text-anchor="middle" fill="#111" >C (μM)</text>
<text x="530.00" y="465.90" font-size="9.8" font-weight="bold" fill="#111" >WNV Cytoprotection</text>
<text transform="translate(474.3,541.0) rotate(-90)" font-size="9.8" font-weight="bold" text-anchor="middle" fill="#111">% Antiviral activity</text>
<text transform="translate(677.3,538.7) rotate(90)" font-size="9.6" font-weight="bold" text-anchor="middle" fill="#111">% Viability</text>
<polyline points="506.00,506.65 636.00,506.65" fill="none" stroke="#444" stroke-width="0.9" />
<polyline points="552.00,510.50 552.50,510.50 553.00,510.50 553.50,510.50 554.00,510.50 554.50,510.50 555.00,510.50 555.50,510.50 556.00,510.50 556.50,510.50 557.00,510.50 557.50,510.50 558.00,510.50 558.50,510.50 559.00,510.50 559.50,510.50 560.00,510.50 560.50,510.50 561.00,510.50 561.50,510.50 562.00,510.50 562.50,510.50 563.00,510.50 563.50,510.50 564.00,510.50 564.50,510.50 565.00,510.50 565.50,510.50 566.00,510.50 566.50,510.50 567.00,510.50 567.50,510.50 568.00,510.50 568.50,510.50 569.00,510.50 569.50,510.50 570.00,510.50 570.50,510.50 571.00,510.50 571.50,510.50 572.00,510.50 572.50,510.50 573.00,510.50 573.50,510.50 574.00,510.50 574.50,510.50 575.00,510.50 575.50,510.50 576.00,510.50 576.50,510.50 577.00,510.50 577.50,510.50 578.00,510.50 578.50,510.50 579.00,510.50 579.50,510.50 580.00,510.50 580.50,510.50 581.00,510.50 581.50,510.50 582.00,510.50 582.50,510.50 583.00,510.50 583.50,510.50 584.00,510.50 584.50,510.50 585.00,510.50 585.50,510.50 586.00,510.50 586.50,510.50 587.00,510.50 587.50,510.50 588.00,510.50 588.50,510.50 589.00,510.50 589.50,510.50 590.00,510.50 590.50,510.50 591.00,510.50 591.50,510.50 592.00,510.50 592.50,510.50 593.00,510.50 593.50,510.51 594.00,510.51 594.50,510.51 595.00,510.51 595.50,510.51 596.00,510.51 596.50,510.51 597.00,510.51 597.50,510.51 598.00,510.51 598.50,510.52 599.00,510.52 599.50,510.52 600.00,510.52 600.50,510.52 601.00,510.53 601.50,510.53 602.00,510.53 602.50,510.53 603.00,510.54 603.50,510.54 604.00,510.55 604.50,510.55 605.00,510.56 605.50,510.56 606.00,510.57 606.50,510.58 607.00,510.59 607.50,510.60 608.00,510.61 608.50,510.62 609.00,510.63 609.50,510.65 610.00,510.66 610.50,510.68 611.00,510.70 611.50,510.72 612.00,510.75 612.50,510.78 613.00,510.81 613.50,510.84 614.00,510.88 614.50,510.92 615.00,510.96 615.50,511.02 616.00,511.07 616.50,511.13 617.00,511.20 617.50,511.28 618.00,511.36 618.50,511.46 619.00,511.56 619.50,511.68 620.00,511.80 620.50,511.94 621.00,512.10 621.50,512.27 622.00,512.46 622.50,512.67 623.00,512.90 623.50,513.15 624.00,513.43 624.50,513.74 625.00,514.08 625.50,514.45 626.00,514.86 626.50,515.31 627.00,515.80 627.50,516.34 628.00,516.93 628.50,517.57 629.00,518.27 629.50,519.03 630.00,519.85 630.50,520.74 631.00,521.70 631.50,522.73 632.00,523.84 632.50,525.03 633.00,526.30 633.50,527.65 634.00,529.08 634.50,530.58 635.00,532.17 635.50,533.83 636.00,535.55 636.50,537.35 637.00,539.19 637.50,541.09 638.00,543.03 638.50,545.00 639.00,547.00 639.50,549.00 640.00,551.00 640.50,553.00 641.00,554.97 641.50,556.91 642.00,558.81 642.50,560.65 643.00,562.45 643.50,564.17 644.00,565.83 644.50,567.42 645.00,568.92 645.50,570.35 646.00,571.70" fill="none" stroke="#b4b4b4" stroke-width="0.9" />
<polyline points="508.00,587.50 508.50,587.50 509.00,587.50 509.50,587.50 510.00,587.50 510.50,587.50 511.00,587.50 511.50,587.50 512.00,587.50 512.50,587.50 513.00,587.50 513.50,587.50 514.00,587.50 514.50,587.50 515.00,587.50 515.50,587.50 516.00,587.50 516.50,587.50 517.00,587.50 517.50,587.50 518.00,587.50 518.50,587.50 519.00,587.50 519.50,587.50 520.00,587.50 520.50,587.50 521.00,587.50 521.50,587.50 522.00,587.50 522.50,587.50 523.00,587.50 523.50,587.50 524.00,587.50 524.50,587.50 525.00,587.50 525.50,587.50 526.00,587.50 526.50,587.50 527.00,587.50 527.50,587.50 528.00,587.50 528.50,587.50 529.00,587.50 529.50,587.50 530.00,587.50 530.50,587.50 531.00,587.50 531.50,587.50 532.00,587.50 532.50,587.50 533.00,587.50 533.50,587.50 534.00,587.50 534.50,587.50 535.00,587.50 535.50,587.50 536.00,587.50 536.50,587.50 537.00,587.50 537.50,587.49 538.00,587.49 538.50,587.49 539.00,587.49 539.50,587.49 540.00,587.49 540.50,587.49 541.00,587.49 541.50,587.48 542.00,587.48 542.50,587.48 543.00,587.48 543.50,587.47 544.00,587.47 544.50,587.46 545.00,587.46 545.50,587.45 546.00,587.44 546.50,587.44 547.00,587.43 547.50,587.41 548.00,587.40 548.50,587.39 549.00,587.37 549.50,587.35 550.00,587.33 550.50,587.30 551.00,587.28 551.50,587.24 552.00,587.20 552.50,587.16 553.00,587.11 553.50,587.05 554.00,586.98 554.50,586.91 555.00,586.82 555.50,586.72 556.00,586.61 556.50,586.47 557.00,586.32 557.50,586.15 558.00,585.96 558.50,585.73 559.00,585.47 559.50,585.18 560.00,584.85 560.50,584.47 561.00,584.04 561.50,583.55 562.00,582.99 562.50,582.37 563.00,581.66 563.50,580.86 564.00,579.97 564.50,578.97 565.00,577.86 565.50,576.63 566.00,575.27 566.50,573.77 567.00,572.13 567.50,570.35 568.00,568.43 568.50,566.37 569.00,564.17 569.50,561.86 570.00,559.43 570.50,556.91 571.00,554.31 571.50,551.67 572.00,549.00 572.50,546.33 573.00,543.69 573.50,541.09 574.00,538.57 574.50,536.14 575.00,533.83 575.50,531.63 576.00,529.57 576.50,527.65 577.00,525.87 577.50,524.23 578.00,522.73 578.50,521.37 579.00,520.14 579.50,519.03 580.00,518.03 580.50,517.14 581.00,516.34 581.50,515.63 582.00,515.01 582.50,514.45 583.00,513.96 583.50,513.53 584.00,513.15 584.50,512.82 585.00,512.53 585.50,512.27 586.00,512.04 586.50,511.85 587.00,511.68 587.50,511.53 588.00,511.39 588.50,511.28 589.00,511.18 589.50,511.09 590.00,511.02 590.50,510.95 591.00,510.89 591.50,510.84 592.00,510.80 592.50,510.76 593.00,510.72 593.50,510.70 594.00,510.67 594.50,510.65 595.00,510.63 595.50,510.61 596.00,510.60 596.50,510.59 597.00,510.57 597.50,510.56 598.00,510.56 598.50,510.55 599.00,510.54 599.50,510.54 600.00,510.53 600.50,510.53 601.00,510.52 601.50,510.52 602.00,510.52 602.50,510.52 603.00,510.51 603.50,510.51 604.00,510.51 604.50,510.51 605.00,510.51 605.50,510.51 606.00,510.51 606.50,510.51 607.00,510.50 607.50,510.50 608.00,510.50 608.50,510.50 609.00,510.50 609.50,510.50 610.00,510.50 610.50,510.50 611.00,510.50 611.50,510.50 612.00,510.50 612.50,510.50 613.00,510.50 613.50,510.50 614.00,510.50 614.50,510.50 615.00,510.50 615.50,510.50 616.00,510.50 616.50,510.50 617.00,510.50 617.50,510.50 618.00,510.50 618.50,510.50 619.00,510.50 619.50,510.50 620.00,510.50 620.50,510.50 621.00,510.50 621.50,510.50 622.00,510.50 622.50,510.50 623.00,510.50 623.50,510.50 624.00,510.50 624.50,510.50 625.00,510.50 625.50,510.50 626.00,510.50 626.50,510.50 627.00,510.50 627.50,510.50 628.00,510.50 628.50,510.50 629.00,510.50 629.50,510.50 630.00,510.50 630.50,510.50 631.00,510.50 631.50,510.50 632.00,510.50 632.50,510.50 633.00,510.50 633.50,510.50 634.00,510.50 634.50,510.50 635.00,510.50 635.50,510.50" fill="none" stroke="#ff2020" stroke-width="0.9" />
<polyline points="554.00,587.48 554.50,587.48 555.00,587.48 555.50,587.48 556.00,587.47 556.50,587.47 557.00,587.47 557.50,587.47 558.00,587.46 558.50,587.46 559.00,587.45 559.50,587.45 560.00,587.44 560.50,587.44 561.00,587.43 561.50,587.42 562.00,587.41 562.50,587.41 563.00,587.40 563.50,587.38 564.00,587.37 564.50,587.36 565.00,587.34 565.50,587.33 566.00,587.31 566.50,587.29 567.00,587.27 567.50,587.24 568.00,587.22 568.50,587.19 569.00,587.15 569.50,587.12 570.00,587.08 570.50,587.03 571.00,586.98 571.50,586.93 572.00,586.87 572.50,586.81 573.00,586.73 573.50,586.65 574.00,586.57 574.50,586.47 575.00,586.36 575.50,586.24 576.00,586.12 576.50,585.97 577.00,585.82 577.50,585.64 578.00,585.45 578.50,585.24 579.00,585.01 579.50,584.76 580.00,584.48 580.50,584.18 581.00,583.85 581.50,583.48 582.00,583.09 582.50,582.65 583.00,582.18 583.50,581.66 584.00,581.10 584.50,580.48 585.00,579.82 585.50,579.10 586.00,578.32 586.50,577.48 587.00,576.58 587.50,575.61 588.00,574.57 588.50,573.45 589.00,572.27 589.50,571.01 590.00,569.68 590.50,568.27 591.00,566.79 591.50,565.24 592.00,563.63 592.50,561.95 593.00,560.22 593.50,558.43 594.00,556.60 594.50,554.73 595.00,552.84 595.50,550.92 596.00,549.00 596.50,547.08 597.00,545.16 597.50,543.27 598.00,541.40 598.50,539.57 599.00,537.78 599.50,536.05 600.00,534.37 600.50,532.76 601.00,531.21 601.50,529.73 602.00,528.32 602.50,526.99 603.00,525.73 603.50,524.55 604.00,523.43 604.50,522.39 605.00,521.42 605.50,520.52 606.00,519.68 606.50,518.90 607.00,518.18 607.50,517.52 608.00,516.90 608.50,516.34 609.00,515.82 609.50,515.35 610.00,514.91 610.50,514.52 611.00,514.15 611.50,513.82 612.00,513.52 612.50,513.24 613.00,512.99 613.50,512.76" fill="none" stroke="#2020ff" stroke-width="0.9" />
<line x1="554.70" y1="510.88" x2="554.70" y2="509.35" stroke="#b8b8b8" stroke-width="0.8" />
<line x1="553.00" y1="510.88" x2="556.40" y2="510.88" stroke="#b8b8b8" stroke-width="0.8" />
<line x1="553.00" y1="509.35" x2="556.40" y2="509.35" stroke="#b8b8b8" stroke-width="0.8" />
<polygon points="554.70,512.41 556.90,508.39 552.50,508.39" fill="#a8a8a8"/>
<line x1="571.80" y1="512.04" x2="571.80" y2="510.50" stroke="#b8b8b8" stroke-width="0.8" />
<line x1="570.10" y1="512.04" x2="573.50" y2="512.04" stroke="#b8b8b8" stroke-width="0.8" />
<line x1="570.10" y1="510.50" x2="573.50" y2="510.50" stroke="#b8b8b8" stroke-width="0.8" />
<polygon points="571.80,513.57 574.00,509.54 569.60,509.54" fill="#a8a8a8"/>
<line x1="590.60" y1="510.88" x2="590.60" y2="509.35" stroke="#b8b8b8" stroke-width="0.8" />
<line x1="588.90" y1="510.88" x2="592.30" y2="510.88" stroke="#b8b8b8" stroke-width="0.8" />
<line x1="588.90" y1="509.35" x2="592.30" y2="509.35" stroke="#b8b8b8" stroke-width="0.8" />
<polygon points="590.60,512.41 592.80,508.39 588.40,508.39" fill="#a8a8a8"/>
<line x1="609.00" y1="515.89" x2="609.00" y2="509.73" stroke="#b8b8b8" stroke-width="0.8" />
<line x1="607.30" y1="515.89" x2="610.70" y2="515.89" stroke="#b8b8b8" stroke-width="0.8" />
<line x1="607.30" y1="509.73" x2="610.70" y2="509.73" stroke="#b8b8b8" stroke-width="0.8" />
<polygon points="609.00,515.11 611.20,511.08 606.80,511.08" fill="#a8a8a8"/>
<line x1="627.40" y1="525.13" x2="627.40" y2="509.73" stroke="#b8b8b8" stroke-width="0.8" />
<line x1="625.70" y1="525.13" x2="629.10" y2="525.13" stroke="#b8b8b8" stroke-width="0.8" />
<line x1="625.70" y1="509.73" x2="629.10" y2="509.73" stroke="#b8b8b8" stroke-width="0.8" />
<polygon points="627.40,519.73 629.60,515.70 625.20,515.70" fill="#a8a8a8"/>
<line x1="646.00" y1="572.87" x2="646.00" y2="565.17" stroke="#b8b8b8" stroke-width="0.8" />
<line x1="644.30" y1="572.87" x2="647.70" y2="572.87" stroke="#b8b8b8" stroke-width="0.8" />
<line x1="644.30" y1="565.17" x2="647.70" y2="565.17" stroke="#b8b8b8" stroke-width="0.8" />
<polygon points="646.00,571.32 648.20,567.29 643.80,567.29" fill="#a8a8a8"/>
<line x1="508.30" y1="508.96" x2="508.30" y2="504.34" stroke="#444" stroke-width="0.8" />
<line x1="506.60" y1="508.96" x2="510.00" y2="508.96" stroke="#444" stroke-width="0.8" />
<line x1="506.60" y1="504.34" x2="510.00" y2="504.34" stroke="#444" stroke-width="0.8" />
<polygon points="508.30,504.35 510.50,508.38 506.10,508.38" fill="#333"/>
<line x1="523.70" y1="508.96" x2="523.70" y2="504.34" stroke="#444" stroke-width="0.8" />
<line x1="522.00" y1="508.96" x2="525.40" y2="508.96" stroke="#444" stroke-width="0.8" />
<line x1="522.00" y1="504.34" x2="525.40" y2="504.34" stroke="#444" stroke-width="0.8" />
<polygon points="523.70,504.35 525.90,508.38 521.50,508.38" fill="#333"/>
<line x1="542.60" y1="508.96" x2="542.60" y2="501.26" stroke="#444" stroke-width="0.8" />
<line x1="540.90" y1="508.96" x2="544.30" y2="508.96" stroke="#444" stroke-width="0.8" />
<line x1="540.90" y1="501.26" x2="544.30" y2="501.26" stroke="#444" stroke-width="0.8" />
<polygon points="542.60,502.81 544.80,506.84 540.40,506.84" fill="#333"/>
<line x1="560.80" y1="509.27" x2="560.80" y2="506.19" stroke="#444" stroke-width="0.8" />
<line x1="559.10" y1="509.27" x2="562.50" y2="509.27" stroke="#444" stroke-width="0.8" />
<line x1="559.10" y1="506.19" x2="562.50" y2="506.19" stroke="#444" stroke-width="0.8" />
<polygon points="560.80,505.43 563.00,509.45 558.60,509.45" fill="#333"/>
<line x1="579.40" y1="509.27" x2="579.40" y2="506.19" stroke="#444" stroke-width="0.8" />
<line x1="577.70" y1="509.27" x2="581.10" y2="509.27" stroke="#444" stroke-width="0.8" />
<line x1="577.70" y1="506.19" x2="581.10" y2="506.19" stroke="#444" stroke-width="0.8" />
<polygon points="579.40,505.43 581.60,509.45 577.20,509.45" fill="#333"/>
<line x1="598.60" y1="513.58" x2="598.60" y2="510.50" stroke="#444" stroke-width="0.8" />
<line x1="596.90" y1="513.58" x2="600.30" y2="513.58" stroke="#444" stroke-width="0.8" />
<line x1="596.90" y1="510.50" x2="600.30" y2="510.50" stroke="#444" stroke-width="0.8" />
<polygon points="598.60,509.74 600.80,513.76 596.40,513.76" fill="#333"/>
<line x1="616.50" y1="506.65" x2="616.50" y2="503.57" stroke="#444" stroke-width="0.8" />
<line x1="614.80" y1="506.65" x2="618.20" y2="506.65" stroke="#444" stroke-width="0.8" />
<line x1="614.80" y1="503.57" x2="618.20" y2="503.57" stroke="#444" stroke-width="0.8" />
<polygon points="616.50,502.81 618.70,506.84 614.30,506.84" fill="#333"/>
<line x1="634.70" y1="502.41" x2="634.70" y2="499.33" stroke="#444" stroke-width="0.8" />
<line x1="633.00" y1="502.41" x2="636.40" y2="502.41" stroke="#444" stroke-width="0.8" />
<line x1="633.00" y1="499.33" x2="636.40" y2="499.33" stroke="#444" stroke-width="0.8" />
<polygon points="634.70,498.57 636.90,502.60 632.50,502.60" fill="#333"/>
<line x1="508.30" y1="590.97" x2="508.30" y2="589.42" stroke="#ff3030" stroke-width="0.8" />
<line x1="506.60" y1="590.97" x2="510.00" y2="590.97" stroke="#ff3030" stroke-width="0.8" />
<line x1="506.60" y1="589.42" x2="510.00" y2="589.42" stroke="#ff3030" stroke-width="0.8" />
<rect x="506.10" y="588.00" width="4.40" height="4.40" fill="#ff1a1a"/>
<line x1="523.70" y1="588.27" x2="523.70" y2="586.73" stroke="#ff3030" stroke-width="0.8" />
<line x1="522.00" y1="588.27" x2="525.40" y2="588.27" stroke="#ff3030" stroke-width="0.8" />
<line x1="522.00" y1="586.73" x2="525.40" y2="586.73" stroke="#ff3030" stroke-width="0.8" />
<rect x="521.50" y="585.30" width="4.40" height="4.40" fill="#ff1a1a"/>
<line x1="542.60" y1="586.50" x2="542.60" y2="584.96" stroke="#ff3030" stroke-width="0.8" />
<line x1="540.90" y1="586.50" x2="544.30" y2="586.50" stroke="#ff3030" stroke-width="0.8" />
<line x1="540.90" y1="584.96" x2="544.30" y2="584.96" stroke="#ff3030" stroke-width="0.8" />
<rect x="540.40" y="583.53" width="4.40" height="4.40" fill="#ff1a1a"/>
<line x1="560.80" y1="585.50" x2="560.80" y2="583.96" stroke="#ff3030" stroke-width="0.8" />
<line x1="559.10" y1="585.50" x2="562.50" y2="585.50" stroke="#ff3030" stroke-width="0.8" />
<line x1="559.10" y1="583.96" x2="562.50" y2="583.96" stroke="#ff3030" stroke-width="0.8" />
<rect x="558.60" y="582.53" width="4.40" height="4.40" fill="#ff1a1a"/>
<line x1="579.40" y1="527.67" x2="579.40" y2="515.35" stroke="#ff3030" stroke-width="0.8" />
<line x1="577.70" y1="527.67" x2="581.10" y2="527.67" stroke="#ff3030" stroke-width="0.8" />
<line x1="577.70" y1="515.35" x2="581.10" y2="515.35" stroke="#ff3030" stroke-width="0.8" />
<rect x="577.20" y="519.31" width="4.40" height="4.40" fill="#ff1a1a"/>
<line x1="598.60" y1="512.35" x2="598.60" y2="503.11" stroke="#ff3030" stroke-width="0.8" />
<line x1="596.90" y1="512.35" x2="600.30" y2="512.35" stroke="#ff3030" stroke-width="0.8" />
<line x1="596.90" y1="503.11" x2="600.30" y2="503.11" stroke="#ff3030" stroke-width="0.8" />
<rect x="596.40" y="505.53" width="4.40" height="4.40" fill="#ff1a1a"/>
<line x1="616.50" y1="514.66" x2="616.50" y2="506.96" stroke="#ff3030" stroke-width="0.8" />
<line x1="614.80" y1="514.66" x2="618.20" y2="514.66" stroke="#ff3030" stroke-width="0.8" />
<line x1="614.80" y1="506.96" x2="618.20" y2="506.96" stroke="#ff3030" stroke-width="0.8" />
<rect x="614.30" y="508.61" width="4.40" height="4.40" fill="#ff1a1a"/>
<line x1="634.70" y1="515.27" x2="634.70" y2="502.95" stroke="#ff3030" stroke-width="0.8" />
<line x1="633.00" y1="515.27" x2="636.40" y2="515.27" stroke="#ff3030" stroke-width="0.8" />
<line x1="633.00" y1="502.95" x2="636.40" y2="502.95" stroke="#ff3030" stroke-width="0.8" />
<rect x="632.50" y="506.91" width="4.40" height="4.40" fill="#ff1a1a"/>
<line x1="554.70" y1="589.27" x2="554.70" y2="587.73" stroke="#3030ff" stroke-width="0.8" />
<line x1="553.00" y1="589.27" x2="556.40" y2="589.27" stroke="#3030ff" stroke-width="0.8" />
<line x1="553.00" y1="587.73" x2="556.40" y2="587.73" stroke="#3030ff" stroke-width="0.8" />
<circle cx="554.70" cy="588.50" r="2.20" fill="#1a1aff"/>
<line x1="571.80" y1="587.50" x2="571.80" y2="585.96" stroke="#3030ff" stroke-width="0.8" />
<line x1="570.10" y1="587.50" x2="573.50" y2="587.50" stroke="#3030ff" stroke-width="0.8" />
<line x1="570.10" y1="585.96" x2="573.50" y2="585.96" stroke="#3030ff" stroke-width="0.8" />
<circle cx="571.80" cy="586.73" r="2.20" fill="#1a1aff"/>
<line x1="590.60" y1="569.02" x2="590.60" y2="564.40" stroke="#3030ff" stroke-width="0.8" />
<line x1="588.90" y1="569.02" x2="592.30" y2="569.02" stroke="#3030ff" stroke-width="0.8" />
<line x1="588.90" y1="564.40" x2="592.30" y2="564.40" stroke="#3030ff" stroke-width="0.8" />
<circle cx="590.60" cy="566.71" r="2.20" fill="#1a1aff"/>
<line x1="609.00" y1="517.58" x2="609.00" y2="512.96" stroke="#3030ff" stroke-width="0.8" />
<line x1="607.30" y1="517.58" x2="610.70" y2="517.58" stroke="#3030ff" stroke-width="0.8" />
<line x1="607.30" y1="512.96" x2="610.70" y2="512.96" stroke="#3030ff" stroke-width="0.8" />
<circle cx="609.00" cy="515.27" r="2.20" fill="#1a1aff"/>
<line x1="627.90" y1="521.28" x2="627.90" y2="513.58" stroke="#3030ff" stroke-width="0.8" />
<line x1="626.20" y1="521.28" x2="629.60" y2="521.28" stroke="#3030ff" stroke-width="0.8" />
<line x1="626.20" y1="513.58" x2="629.60" y2="513.58" stroke="#3030ff" stroke-width="0.8" />
<circle cx="627.90" cy="517.43" r="2.20" fill="#1a1aff"/>
<line x1="482.40" y1="637.60" x2="498.40" y2="637.60" stroke="#ff1a1a" stroke-width="1.0" />
<rect x="487.70" y="634.90" width="5.40" height="5.40" fill="#ff1a1a"/>
<text x="506.60" y="640.80" font-size="8.75" fill="#111" ><tspan font-weight="bold">IRBM-Z-2 CPE</tspan> EC<tspan font-size="5.78" baseline-shift="-1.75">50</tspan> (μM) = 1.0 ± 0.12</text>
<line x1="482.40" y1="652.10" x2="498.40" y2="652.10" stroke="#333" stroke-width="1.0" />
<polygon points="490.40,648.99 493.37,654.43 487.43,654.43" fill="#333"/>
<text x="506.60" y="655.30" font-size="8.75" fill="#111" ><tspan font-weight="bold">IRBM-Z-2 viability</tspan> EC<tspan font-size="5.78" baseline-shift="-1.75">50</tspan> (μM) &gt; 50</text>
<line x1="482.40" y1="666.40" x2="498.40" y2="666.40" stroke="#1a1aff" stroke-width="1.0" />
<circle cx="490.40" cy="666.40" r="2.70" fill="#1a1aff"/>
<text x="506.60" y="669.60" font-size="8.75" fill="#111" ><tspan font-weight="bold">NITD008 CPE</tspan> EC<tspan font-size="5.78" baseline-shift="-1.75">50</tspan> (μM) = 4.3 ± 0.3</text>
<line x1="482.40" y1="680.80" x2="498.40" y2="680.80" stroke="#aaaaaa" stroke-width="1.0" />
<polygon points="490.40,683.90 493.37,678.47 487.43,678.47" fill="#aaaaaa"/>
<text x="506.60" y="684.00" font-size="8.75" fill="#111" ><tspan font-weight="bold">NITD008 viability</tspan> EC<tspan font-size="5.78" baseline-shift="-1.75">50</tspan> (μM) = 75.9 ± 22.7</text>
<defs><clipPath id="cpc"><rect x="399" y="221" width="235" height="204"/></clipPath><pattern id="mesh" width="3.4" height="3.4" patternUnits="userSpaceOnUse" patternTransform="rotate(12)"><path d="M0,0 L3.4,3.4 M3.4,0 L0,3.4 M1.7,0 L1.7,3.4" stroke="#4a4a4a" stroke-width="0.26" fill="none"/></pattern></defs>
<g clip-path="url(#cpc)" stroke-linecap="round" stroke-linejoin="round">
<path d="M412.0,219.0 C411.5,220.2 410.3,223.7 409.0,226.0 C407.7,228.3 405.7,230.5 404.0,233.0 C402.3,235.5 399.8,239.7 399.0,241.0" fill="none" stroke="#5a9a5a" stroke-width="3.90"/>
<path d="M412.0,219.0 C411.5,220.2 410.3,223.7 409.0,226.0 C407.7,228.3 405.7,230.5 404.0,233.0 C402.3,235.5 399.8,239.7 399.0,241.0" fill="none" stroke="#8ccc8c" stroke-width="2.60"/>
<polygon points="429.5,221.0 459.0,221.0 456.0,230.0 440.0,238.0 428.6,246.0" fill="#e8e8e8" stroke="#b4b4b4" stroke-width="0.6"/>
<line x1="428.60" y1="246.00" x2="440.00" y2="238.00" stroke="#bdbdbd" stroke-width="1.4" />
<polygon points="462.0,221.0 512.0,221.0 510.0,228.0 491.0,240.0 480.0,248.0 470.0,256.0 457.0,246.0" fill="#e4e4e4" stroke="#b0b0b0" stroke-width="0.6"/>
<line x1="457.00" y1="246.50" x2="490.00" y2="240.50" stroke="#b8b8b8" stroke-width="1.6" />
<path d="M428.0,240.0 C426.7,242.0 422.2,248.3 420.0,252.0 C417.8,255.7 416.3,258.2 415.0,262.0 C413.7,265.8 413.2,270.3 412.0,275.0 C410.8,279.7 409.7,285.8 408.0,290.0 C406.3,294.2 403.5,297.7 402.0,300.0 C400.5,302.3 399.5,303.3 399.0,304.0" fill="none" stroke="#8a8a8a" stroke-width="4.50"/>
<path d="M428.0,240.0 C426.7,242.0 422.2,248.3 420.0,252.0 C417.8,255.7 416.3,258.2 415.0,262.0 C413.7,265.8 413.2,270.3 412.0,275.0 C410.8,279.7 409.7,285.8 408.0,290.0 C406.3,294.2 403.5,297.7 402.0,300.0 C400.5,302.3 399.5,303.3 399.0,304.0" fill="none" stroke="#e2e2e2" stroke-width="3.20"/>
<path d="M428.0,240.0 C426.7,242.0 422.2,248.3 420.0,252.0 C417.8,255.7 416.3,258.2 415.0,262.0 C413.7,265.8 413.2,270.3 412.0,275.0 C410.8,279.7 409.7,285.8 408.0,290.0 C406.3,294.2 403.5,297.7 402.0,300.0 C400.5,302.3 399.5,303.3 399.0,304.0" fill="none" stroke="#fdfdfd" stroke-width="1.22"/>
<path d="M433.0,248.0 C435.0,248.7 440.8,251.0 445.0,252.0 C449.2,253.0 454.5,253.7 458.0,254.0 C461.5,254.3 464.7,254.0 466.0,254.0" fill="none" stroke="#8a8a8a" stroke-width="4.50"/>
<path d="M433.0,248.0 C435.0,248.7 440.8,251.0 445.0,252.0 C449.2,253.0 454.5,253.7 458.0,254.0 C461.5,254.3 464.7,254.0 466.0,254.0" fill="none" stroke="#e2e2e2" stroke-width="3.20"/>
<path d="M433.0,248.0 C435.0,248.7 440.8,251.0 445.0,252.0 C449.2,253.0 454.5,253.7 458.0,254.0 C461.5,254.3 464.7,254.0 466.0,254.0" fill="none" stroke="#fdfdfd" stroke-width="1.22"/>
<path d="M425.0,257.0 C427.5,257.3 434.8,258.0 440.0,259.0 C445.2,260.0 453.3,262.3 456.0,263.0" fill="none" stroke="#8a8a8a" stroke-width="4.10"/>
<path d="M425.0,257.0 C427.5,257.3 434.8,258.0 440.0,259.0 C445.2,260.0 453.3,262.3 456.0,263.0" fill="none" stroke="#e2e2e2" stroke-width="2.80"/>
<path d="M425.0,257.0 C427.5,257.3 434.8,258.0 440.0,259.0 C445.2,260.0 453.3,262.3 456.0,263.0" fill="none" stroke="#fdfdfd" stroke-width="1.06"/>
<path d="M422.0,262.0 C422.3,263.7 423.0,269.7 424.0,272.0 C425.0,274.3 426.0,275.3 428.0,276.0 C430.0,276.7 434.7,276.0 436.0,276.0" fill="none" stroke="#8a8a8a" stroke-width="3.90"/>
<path d="M422.0,262.0 C422.3,263.7 423.0,269.7 424.0,272.0 C425.0,274.3 426.0,275.3 428.0,276.0 C430.0,276.7 434.7,276.0 436.0,276.0" fill="none" stroke="#e2e2e2" stroke-width="2.60"/>
<path d="M422.0,262.0 C422.3,263.7 423.0,269.7 424.0,272.0 C425.0,274.3 426.0,275.3 428.0,276.0 C430.0,276.7 434.7,276.0 436.0,276.0" fill="none" stroke="#fdfdfd" stroke-width="0.99"/>
<path d="M399.0,336.0 C400.5,335.5 405.5,334.3 408.0,333.0 C410.5,331.7 412.3,329.8 414.0,328.0 C415.7,326.2 416.7,323.7 418.0,322.0 C419.3,320.3 421.3,318.7 422.0,318.0" fill="none" stroke="#8a8a8a" stroke-width="4.30"/>
<path d="M399.0,336.0 C400.5,335.5 405.5,334.3 408.0,333.0 C410.5,331.7 412.3,329.8 414.0,328.0 C415.7,326.2 416.7,323.7 418.0,322.0 C419.3,320.3 421.3,318.7 422.0,318.0" fill="none" stroke="#e2e2e2" stroke-width="3.00"/>
<path d="M399.0,336.0 C400.5,335.5 405.5,334.3 408.0,333.0 C410.5,331.7 412.3,329.8 414.0,328.0 C415.7,326.2 416.7,323.7 418.0,322.0 C419.3,320.3 421.3,318.7 422.0,318.0" fill="none" stroke="#fdfdfd" stroke-width="1.14"/>
<path d="M399.0,262.0 C400.0,263.3 402.7,267.0 405.0,270.0 C407.3,273.0 410.5,276.7 413.0,280.0 C415.5,283.3 417.8,287.3 420.0,290.0 C422.2,292.7 423.8,294.3 426.0,296.0 C428.2,297.7 430.7,298.7 433.0,300.0 C435.3,301.3 437.7,303.0 440.0,304.0 C442.3,305.0 445.8,305.7 447.0,306.0" fill="none" stroke="#8a8a8a" stroke-width="4.10"/>
<path d="M399.0,262.0 C400.0,263.3 402.7,267.0 405.0,270.0 C407.3,273.0 410.5,276.7 413.0,280.0 C415.5,283.3 417.8,287.3 420.0,290.0 C422.2,292.7 423.8,294.3 426.0,296.0 C428.2,297.7 430.7,298.7 433.0,300.0 C435.3,301.3 437.7,303.0 440.0,304.0 C442.3,305.0 445.8,305.7 447.0,306.0" fill="none" stroke="#e2e2e2" stroke-width="2.80"/>
<path d="M399.0,262.0 C400.0,263.3 402.7,267.0 405.0,270.0 C407.3,273.0 410.5,276.7 413.0,280.0 C415.5,283.3 417.8,287.3 420.0,290.0 C422.2,292.7 423.8,294.3 426.0,296.0 C428.2,297.7 430.7,298.7 433.0,300.0 C435.3,301.3 437.7,303.0 440.0,304.0 C442.3,305.0 445.8,305.7 447.0,306.0" fill="none" stroke="#fdfdfd" stroke-width="1.06"/>
<path d="M399.0,289.0 C400.2,289.7 403.3,291.7 406.0,293.0 C408.7,294.3 412.3,295.3 415.0,297.0 C417.7,298.7 420.0,301.3 422.0,303.0 C424.0,304.7 426.2,306.3 427.0,307.0" fill="none" stroke="#8a8a8a" stroke-width="3.90"/>
<path d="M399.0,289.0 C400.2,289.7 403.3,291.7 406.0,293.0 C408.7,294.3 412.3,295.3 415.0,297.0 C417.7,298.7 420.0,301.3 422.0,303.0 C424.0,304.7 426.2,306.3 427.0,307.0" fill="none" stroke="#e2e2e2" stroke-width="2.60"/>
<path d="M399.0,289.0 C400.2,289.7 403.3,291.7 406.0,293.0 C408.7,294.3 412.3,295.3 415.0,297.0 C417.7,298.7 420.0,301.3 422.0,303.0 C424.0,304.7 426.2,306.3 427.0,307.0" fill="none" stroke="#fdfdfd" stroke-width="0.99"/>
<path d="M432.0,318.0 C430.8,318.8 426.8,321.0 425.0,323.0 C423.2,325.0 421.7,328.8 421.0,330.0" fill="none" stroke="#8a8a8a" stroke-width="3.70"/>
<path d="M432.0,318.0 C430.8,318.8 426.8,321.0 425.0,323.0 C423.2,325.0 421.7,328.8 421.0,330.0" fill="none" stroke="#e2e2e2" stroke-width="2.40"/>
<path d="M432.0,318.0 C430.8,318.8 426.8,321.0 425.0,323.0 C423.2,325.0 421.7,328.8 421.0,330.0" fill="none" stroke="#fdfdfd" stroke-width="0.91"/>
<path d="M476.0,352.0 C474.7,353.3 470.5,356.7 468.0,360.0 C465.5,363.3 461.8,367.3 461.0,372.0 C460.2,376.7 461.5,383.3 463.0,388.0 C464.5,392.7 468.7,396.3 470.0,400.0 C471.3,403.7 471.5,406.7 471.0,410.0 C470.5,413.3 468.0,417.2 467.0,420.0 C466.0,422.8 465.3,425.8 465.0,427.0" fill="none" stroke="#8a8a8a" stroke-width="3.70"/>
<path d="M476.0,352.0 C474.7,353.3 470.5,356.7 468.0,360.0 C465.5,363.3 461.8,367.3 461.0,372.0 C460.2,376.7 461.5,383.3 463.0,388.0 C464.5,392.7 468.7,396.3 470.0,400.0 C471.3,403.7 471.5,406.7 471.0,410.0 C470.5,413.3 468.0,417.2 467.0,420.0 C466.0,422.8 465.3,425.8 465.0,427.0" fill="none" stroke="#e2e2e2" stroke-width="2.40"/>
<path d="M476.0,352.0 C474.7,353.3 470.5,356.7 468.0,360.0 C465.5,363.3 461.8,367.3 461.0,372.0 C460.2,376.7 461.5,383.3 463.0,388.0 C464.5,392.7 468.7,396.3 470.0,400.0 C471.3,403.7 471.5,406.7 471.0,410.0 C470.5,413.3 468.0,417.2 467.0,420.0 C466.0,422.8 465.3,425.8 465.0,427.0" fill="none" stroke="#fdfdfd" stroke-width="0.91"/>
<polygon points="486.0,238.0 495.0,229.0 507.0,239.0 516.0,252.0 517.0,266.0 509.0,266.0 499.0,250.0" fill="#505050" stroke="#3a3a3a" stroke-width="0.6"/>
<polygon points="495.0,229.0 507.0,239.0 516.0,252.0 513.0,255.0 502.0,241.0" fill="#747474" stroke="#444" stroke-width="0.6"/>
<polygon points="509.0,266.0 517.0,266.0 522.0,280.0 515.0,282.0" fill="#9a9a9a" stroke="#777" stroke-width="0.6"/>
<polygon points="530.0,238.0 547.5,241.0 546.0,288.0 541.0,296.0 524.0,314.0 520.0,300.0 527.0,280.0 529.0,252.0" fill="#707070" stroke="#4a4a4a" stroke-width="0.6"/>
<polygon points="530.0,238.0 537.0,238.0 535.0,300.0 524.0,314.0 520.0,300.0 527.0,280.0" fill="#606060" stroke="none" stroke-width="0"/>
<polygon points="538.0,236.0 547.5,238.0 547.5,243.0 537.0,241.0" fill="#9a9a9a" stroke="none" stroke-width="0"/>
<path d="M486.0,252.0 C486.2,251.2 486.0,248.2 487.0,247.0 C488.0,245.8 489.3,244.2 492.0,245.0 C494.7,245.8 499.0,248.5 503.0,252.0 C507.0,255.5 511.8,262.7 516.0,266.0 C520.2,269.3 524.0,271.0 528.0,272.0 C532.0,273.0 536.8,273.3 540.0,272.0 C543.2,270.7 545.4,267.8 547.0,264.0 C548.6,260.2 549.8,253.5 549.6,249.0 C549.4,244.5 547.4,239.2 546.0,237.0 C544.6,234.8 542.2,235.3 541.0,236.0 C539.8,236.7 539.3,240.2 539.0,241.0" fill="none" stroke="#8a8a8a" stroke-width="4.60"/>
<path d="M486.0,252.0 C486.2,251.2 486.0,248.2 487.0,247.0 C488.0,245.8 489.3,244.2 492.0,245.0 C494.7,245.8 499.0,248.5 503.0,252.0 C507.0,255.5 511.8,262.7 516.0,266.0 C520.2,269.3 524.0,271.0 528.0,272.0 C532.0,273.0 536.8,273.3 540.0,272.0 C543.2,270.7 545.4,267.8 547.0,264.0 C548.6,260.2 549.8,253.5 549.6,249.0 C549.4,244.5 547.4,239.2 546.0,237.0 C544.6,234.8 542.2,235.3 541.0,236.0 C539.8,236.7 539.3,240.2 539.0,241.0" fill="none" stroke="#e2e2e2" stroke-width="3.30"/>
<path d="M486.0,252.0 C486.2,251.2 486.0,248.2 487.0,247.0 C488.0,245.8 489.3,244.2 492.0,245.0 C494.7,245.8 499.0,248.5 503.0,252.0 C507.0,255.5 511.8,262.7 516.0,266.0 C520.2,269.3 524.0,271.0 528.0,272.0 C532.0,273.0 536.8,273.3 540.0,272.0 C543.2,270.7 545.4,267.8 547.0,264.0 C548.6,260.2 549.8,253.5 549.6,249.0 C549.4,244.5 547.4,239.2 546.0,237.0 C544.6,234.8 542.2,235.3 541.0,236.0 C539.8,236.7 539.3,240.2 539.0,241.0" fill="none" stroke="#fdfdfd" stroke-width="1.25"/>
<path d="M493.0,231.0 C492.5,231.8 490.7,233.7 490.0,236.0 C489.3,238.3 489.0,241.7 489.0,245.0 C489.0,248.3 489.5,252.2 490.0,256.0 C490.5,259.8 491.7,266.0 492.0,268.0" fill="none" stroke="#8a8a8a" stroke-width="4.10"/>
<path d="M493.0,231.0 C492.5,231.8 490.7,233.7 490.0,236.0 C489.3,238.3 489.0,241.7 489.0,245.0 C489.0,248.3 489.5,252.2 490.0,256.0 C490.5,259.8 491.7,266.0 492.0,268.0" fill="none" stroke="#e2e2e2" stroke-width="2.80"/>
<path d="M493.0,231.0 C492.5,231.8 490.7,233.7 490.0,236.0 C489.3,238.3 489.0,241.7 489.0,245.0 C489.0,248.3 489.5,252.2 490.0,256.0 C490.5,259.8 491.7,266.0 492.0,268.0" fill="none" stroke="#fdfdfd" stroke-width="1.06"/>
<path d="M519.6,281.0 C519.0,282.8 516.7,287.7 516.0,292.0 C515.3,296.3 515.6,304.5 515.5,307.0" fill="none" stroke="#8a8a8a" stroke-width="4.10"/>
<path d="M519.6,281.0 C519.0,282.8 516.7,287.7 516.0,292.0 C515.3,296.3 515.6,304.5 515.5,307.0" fill="none" stroke="#e2e2e2" stroke-width="2.80"/>
<path d="M519.6,281.0 C519.0,282.8 516.7,287.7 516.0,292.0 C515.3,296.3 515.6,304.5 515.5,307.0" fill="none" stroke="#fdfdfd" stroke-width="1.06"/>
<polygon points="516.0,320.0 534.0,316.0 540.0,340.0 541.0,370.0 540.0,400.0 537.0,425.0 521.0,425.0 519.0,395.0 517.0,360.0" fill="#b6b6b6" stroke="#8a8a8a" stroke-width="0.6"/>
<polygon points="525.0,318.0 534.0,316.0 540.0,340.0 541.0,370.0 540.0,400.0 537.0,425.0 529.0,425.0 528.0,390.0 526.0,350.0" fill="#989898" stroke="none" stroke-width="0"/>
<polygon points="521.0,395.0 528.0,390.0 529.0,425.0 521.0,425.0" fill="#d8d8d8" stroke="#9a9a9a" stroke-width="0.6"/>
<polygon points="578.0,381.0 588.0,350.0 612.0,326.0 622.0,331.0 612.0,352.0 597.0,372.0 590.0,386.0" fill="#d6d6d6" stroke="#a0a0a0" stroke-width="0.6"/>
<polygon points="588.0,350.0 612.0,326.0 616.0,333.0 593.0,357.0" fill="#bcbcbc" stroke="none" stroke-width="0"/>
<path d="M555.0,300.0 C554.7,298.0 553.3,292.7 553.0,288.0 C552.7,283.3 551.8,276.3 553.0,272.0 C554.2,267.7 557.8,264.7 560.0,262.0 C562.2,259.3 564.0,259.0 566.0,256.0 C568.0,253.0 571.2,247.8 572.0,244.0 C572.8,240.2 570.2,235.5 571.0,233.0 C571.8,230.5 574.3,228.8 577.0,229.0 C579.7,229.2 583.2,231.7 587.0,234.0 C590.8,236.3 595.8,240.3 600.0,243.0 C604.2,245.7 609.2,247.5 612.0,250.0 C614.8,252.5 616.2,255.0 617.0,258.0 C617.8,261.0 618.7,264.7 617.0,268.0 C615.3,271.3 607.5,274.3 607.0,278.0 C606.5,281.7 610.8,287.3 614.0,290.0 C617.2,292.7 622.3,293.0 626.0,294.0 C629.7,295.0 634.3,295.7 636.0,296.0" fill="none" stroke="#8a8a8a" stroke-width="4.30"/>
<path d="M555.0,300.0 C554.7,298.0 553.3,292.7 553.0,288.0 C552.7,283.3 551.8,276.3 553.0,272.0 C554.2,267.7 557.8,264.7 560.0,262.0 C562.2,259.3 564.0,259.0 566.0,256.0 C568.0,253.0 571.2,247.8 572.0,244.0 C572.8,240.2 570.2,235.5 571.0,233.0 C571.8,230.5 574.3,228.8 577.0,229.0 C579.7,229.2 583.2,231.7 587.0,234.0 C590.8,236.3 595.8,240.3 600.0,243.0 C604.2,245.7 609.2,247.5 612.0,250.0 C614.8,252.5 616.2,255.0 617.0,258.0 C617.8,261.0 618.7,264.7 617.0,268.0 C615.3,271.3 607.5,274.3 607.0,278.0 C606.5,281.7 610.8,287.3 614.0,290.0 C617.2,292.7 622.3,293.0 626.0,294.0 C629.7,295.0 634.3,295.7 636.0,296.0" fill="none" stroke="#e2e2e2" stroke-width="3.00"/>
<path d="M555.0,300.0 C554.7,298.0 553.3,292.7 553.0,288.0 C552.7,283.3 551.8,276.3 553.0,272.0 C554.2,267.7 557.8,264.7 560.0,262.0 C562.2,259.3 564.0,259.0 566.0,256.0 C568.0,253.0 571.2,247.8 572.0,244.0 C572.8,240.2 570.2,235.5 571.0,233.0 C571.8,230.5 574.3,228.8 577.0,229.0 C579.7,229.2 583.2,231.7 587.0,234.0 C590.8,236.3 595.8,240.3 600.0,243.0 C604.2,245.7 609.2,247.5 612.0,250.0 C614.8,252.5 616.2,255.0 617.0,258.0 C617.8,261.0 618.7,264.7 617.0,268.0 C615.3,271.3 607.5,274.3 607.0,278.0 C606.5,281.7 610.8,287.3 614.0,290.0 C617.2,292.7 622.3,293.0 626.0,294.0 C629.7,295.0 634.3,295.7 636.0,296.0" fill="none" stroke="#fdfdfd" stroke-width="1.14"/>
<path d="M618.0,330.0 C619.7,331.7 625.0,337.3 628.0,340.0 C631.0,342.7 634.7,345.0 636.0,346.0" fill="none" stroke="#8a8a8a" stroke-width="4.10"/>
<path d="M618.0,330.0 C619.7,331.7 625.0,337.3 628.0,340.0 C631.0,342.7 634.7,345.0 636.0,346.0" fill="none" stroke="#e2e2e2" stroke-width="2.80"/>
<path d="M618.0,330.0 C619.7,331.7 625.0,337.3 628.0,340.0 C631.0,342.7 634.7,345.0 636.0,346.0" fill="none" stroke="#fdfdfd" stroke-width="1.06"/>
<path d="M606.0,310.0 C607.0,311.0 609.3,314.7 612.0,316.0 C614.7,317.3 618.3,318.0 622.0,318.0 C625.7,318.0 632.0,316.3 634.0,316.0" fill="none" stroke="#8a8a8a" stroke-width="3.70"/>
<path d="M606.0,310.0 C607.0,311.0 609.3,314.7 612.0,316.0 C614.7,317.3 618.3,318.0 622.0,318.0 C625.7,318.0 632.0,316.3 634.0,316.0" fill="none" stroke="#e2e2e2" stroke-width="2.40"/>
<path d="M606.0,310.0 C607.0,311.0 609.3,314.7 612.0,316.0 C614.7,317.3 618.3,318.0 622.0,318.0 C625.7,318.0 632.0,316.3 634.0,316.0" fill="none" stroke="#fdfdfd" stroke-width="0.91"/>
<path d="M572.5,426.0 C570.9,424.7 565.1,420.7 563.0,418.0 C560.9,415.3 559.7,412.7 560.0,410.0 C560.3,407.3 563.2,404.0 565.0,402.0 C566.8,400.0 570.0,398.7 571.0,398.0" fill="none" stroke="#8a8a8a" stroke-width="4.10"/>
<path d="M572.5,426.0 C570.9,424.7 565.1,420.7 563.0,418.0 C560.9,415.3 559.7,412.7 560.0,410.0 C560.3,407.3 563.2,404.0 565.0,402.0 C566.8,400.0 570.0,398.7 571.0,398.0" fill="none" stroke="#e2e2e2" stroke-width="2.80"/>
<path d="M572.5,426.0 C570.9,424.7 565.1,420.7 563.0,418.0 C560.9,415.3 559.7,412.7 560.0,410.0 C560.3,407.3 563.2,404.0 565.0,402.0 C566.8,400.0 570.0,398.7 571.0,398.0" fill="none" stroke="#fdfdfd" stroke-width="1.06"/>
<path d="M557.0,253.0 L566.0,262.0 L572.0,268.0 L582.0,277.0" fill="none" stroke="#8a8a8a" stroke-width="2.90"/>
<path d="M557.0,253.0 L566.0,262.0 L572.0,268.0 L582.0,277.0" fill="none" stroke="#dedede" stroke-width="2.00"/>
<path d="M557.0,253.0 L566.0,262.0 L572.0,268.0 L582.0,277.0" fill="none" stroke="#fafafa" stroke-width="0.60" opacity="0.8"/>
<path d="M571.5,269.5 L575.0,272.5" fill="none" stroke="#12128a" stroke-width="2.80"/>
<path d="M571.5,269.5 L575.0,272.5" fill="none" stroke="#2b2be0" stroke-width="1.90"/>
<path d="M571.5,269.5 L575.0,272.5" fill="none" stroke="#7a7aff" stroke-width="0.57" opacity="0.8"/>
<path d="M593.0,322.0 L600.0,318.0 L610.0,322.0 L604.0,330.0 L598.0,336.0" fill="none" stroke="#8a8a8a" stroke-width="2.80"/>
<path d="M593.0,322.0 L600.0,318.0 L610.0,322.0 L604.0,330.0 L598.0,336.0" fill="none" stroke="#dedede" stroke-width="1.90"/>
<path d="M593.0,322.0 L600.0,318.0 L610.0,322.0 L604.0,330.0 L598.0,336.0" fill="none" stroke="#fafafa" stroke-width="0.57" opacity="0.8"/>
<path d="M610.0,322.0 L622.0,318.0" fill="none" stroke="#8a8a8a" stroke-width="2.80"/>
<path d="M610.0,322.0 L622.0,318.0" fill="none" stroke="#dedede" stroke-width="1.90"/>
<path d="M610.0,322.0 L622.0,318.0" fill="none" stroke="#fafafa" stroke-width="0.57" opacity="0.8"/>
<path d="M612.0,345.0 L610.0,340.0" fill="none" stroke="#a01818" stroke-width="2.70"/>
<path d="M612.0,345.0 L610.0,340.0" fill="none" stroke="#e83a3a" stroke-width="1.80"/>
<path d="M612.0,345.0 L610.0,340.0" fill="none" stroke="#ffa0a0" stroke-width="0.54" opacity="0.8"/>
<path d="M600.0,357.0 L605.0,351.0" fill="none" stroke="#12128a" stroke-width="2.70"/>
<path d="M600.0,357.0 L605.0,351.0" fill="none" stroke="#2b2be0" stroke-width="1.80"/>
<path d="M600.0,357.0 L605.0,351.0" fill="none" stroke="#7a7aff" stroke-width="0.54" opacity="0.8"/>
<clipPath id="mb1"><path d="M448.0,298.0 C450.3,294.5 456.7,292.0 462.0,291.0 C467.3,290.0 474.3,290.8 480.0,292.0 C485.7,293.2 492.0,295.7 496.0,298.0 C500.0,300.3 503.3,302.7 504.0,306.0 C504.7,309.3 502.0,314.3 500.0,318.0 C498.0,321.7 493.0,323.7 492.0,328.0 C491.0,332.3 491.0,341.0 494.0,344.0 C497.0,347.0 504.7,345.3 510.0,346.0 C515.3,346.7 521.7,346.0 526.0,348.0 C530.3,350.0 534.3,353.8 536.0,358.0 C537.7,362.2 538.3,369.3 536.0,373.0 C533.7,376.7 527.3,378.5 522.0,380.0 C516.7,381.5 509.7,382.8 504.0,382.0 C498.3,381.2 492.3,378.2 488.0,375.0 C483.7,371.8 481.0,367.2 478.0,363.0 C475.0,358.8 471.8,354.5 470.0,350.0 C468.2,345.5 469.0,340.7 467.0,336.0 C465.0,331.3 461.2,326.0 458.0,322.0 C454.8,318.0 449.7,316.0 448.0,312.0 C446.3,308.0 445.7,301.5 448.0,298.0Z"/></clipPath>
<path d="M448.0,298.0 C450.3,294.5 456.7,292.0 462.0,291.0 C467.3,290.0 474.3,290.8 480.0,292.0 C485.7,293.2 492.0,295.7 496.0,298.0 C500.0,300.3 503.3,302.7 504.0,306.0 C504.7,309.3 502.0,314.3 500.0,318.0 C498.0,321.7 493.0,323.7 492.0,328.0 C491.0,332.3 491.0,341.0 494.0,344.0 C497.0,347.0 504.7,345.3 510.0,346.0 C515.3,346.7 521.7,346.0 526.0,348.0 C530.3,350.0 534.3,353.8 536.0,358.0 C537.7,362.2 538.3,369.3 536.0,373.0 C533.7,376.7 527.3,378.5 522.0,380.0 C516.7,381.5 509.7,382.8 504.0,382.0 C498.3,381.2 492.3,378.2 488.0,375.0 C483.7,371.8 481.0,367.2 478.0,363.0 C475.0,358.8 471.8,354.5 470.0,350.0 C468.2,345.5 469.0,340.7 467.0,336.0 C465.0,331.3 461.2,326.0 458.0,322.0 C454.8,318.0 449.7,316.0 448.0,312.0 C446.3,308.0 445.7,301.5 448.0,298.0Z" fill="#ffffff" stroke="none" opacity="0.6"/>
<path d="M444.2,287.5L448.1,287.9M444.2,287.5L445.0,289.5M444.2,287.5L448.0,291.2M448.1,287.9L451.5,287.8M448.1,287.9L448.0,291.2M448.1,287.9L450.0,291.1M451.5,287.8L453.6,286.9M451.5,287.8L450.0,291.1M453.6,286.9L458.9,287.3M453.6,286.9L454.2,290.7M453.6,286.9L457.0,289.6M458.9,287.3L462.3,286.2M458.9,287.3L457.0,289.6M462.3,286.2L464.9,286.5M462.3,286.2L460.9,291.4M462.3,286.2L464.4,291.0M464.9,286.5L468.6,287.1M464.9,286.5L464.4,291.0M464.9,286.5L469.4,291.4M468.6,287.1L471.0,286.4M468.6,287.1L469.4,291.4M468.6,287.1L471.7,290.2M471.0,286.4L475.1,287.8M471.0,286.4L471.7,290.2M475.1,287.8L479.5,286.3M475.1,287.8L475.5,291.1M475.1,287.8L478.2,291.0M479.5,286.3L483.1,286.3M479.5,286.3L478.2,291.0M483.1,286.3L486.2,286.3M483.1,286.3L483.1,291.2M486.2,286.3L488.5,287.7M486.2,286.3L485.1,291.4M486.2,286.3L488.7,290.2M488.5,287.7L492.4,286.4M488.5,287.7L488.7,290.2M488.5,287.7L493.2,291.3M492.4,286.4L497.5,287.7M492.4,286.4L493.2,291.3M497.5,287.7L499.6,287.9M497.5,287.7L496.2,291.3M499.6,287.9L503.6,287.4M499.6,287.9L500.1,290.1M499.6,287.9L503.1,289.9M503.6,287.4L506.4,287.9M503.6,287.4L503.1,289.9M506.4,287.9L510.9,287.9M506.4,287.9L506.2,289.8M506.4,287.9L510.9,291.5M510.9,287.9L514.8,286.6M510.9,287.9L510.9,291.5M514.8,286.6L517.2,286.3M514.8,286.6L513.3,289.6M517.2,286.3L520.3,286.1M517.2,286.3L518.5,290.6M520.3,286.1L524.1,287.2M520.3,286.1L520.8,290.0M520.3,286.1L524.7,291.2M524.1,287.2L527.0,287.4M524.1,287.2L524.7,291.2M527.0,287.4L531.2,286.6M527.0,287.4L527.9,290.3M531.2,286.6L535.6,287.0M531.2,286.6L530.6,291.3M535.6,287.0L538.1,287.0M535.6,287.0L534.1,290.5M535.6,287.0L539.2,289.8M538.1,287.0L542.4,286.1M538.1,287.0L539.2,289.8M538.1,287.0L542.5,291.4M542.4,286.1L542.5,291.4M445.0,289.5L448.0,291.2M445.0,289.5L444.3,294.6M445.0,289.5L446.7,293.9M448.0,291.2L450.0,291.1M448.0,291.2L446.7,293.9M450.0,291.1L454.2,290.7M450.0,291.1L450.3,294.7M450.0,291.1L454.1,293.9M454.2,290.7L457.0,289.6M454.2,290.7L454.1,293.9M457.0,289.6L460.9,291.4M457.0,289.6L459.0,294.7M460.9,291.4L464.4,291.0M460.9,291.4L462.5,293.9M464.4,291.0L469.4,291.4M464.4,291.0L465.0,294.5M469.4,291.4L471.7,290.2M469.4,291.4L468.5,293.6M471.7,290.2L475.5,291.1M471.7,290.2L471.8,293.3M471.7,290.2L475.3,295.0M475.5,291.1L478.2,291.0M475.5,291.1L475.3,295.0M478.2,291.0L483.1,291.2M478.2,291.0L479.9,294.3M483.1,291.2L485.1,291.4M483.1,291.2L482.5,293.7M485.1,291.4L488.7,290.2M485.1,291.4L485.2,293.5M488.7,290.2L493.2,291.3M488.7,290.2L490.1,294.7M488.7,290.2L492.7,294.6M493.2,291.3L496.2,291.3M493.2,291.3L492.7,294.6M496.2,291.3L500.1,290.1M496.2,291.3L497.0,294.4M496.2,291.3L500.3,294.5M500.1,290.1L503.1,289.9M500.1,290.1L500.3,294.5M503.1,289.9L506.2,289.8M503.1,289.9L503.2,294.4M506.2,289.8L510.9,291.5M506.2,289.8L506.6,294.0M510.9,291.5L513.3,289.6M510.9,291.5L511.0,294.4M513.3,289.6L518.5,290.6M513.3,289.6L513.6,294.9M513.3,289.6L517.8,294.2M518.5,290.6L520.8,290.0M518.5,290.6L517.8,294.2M518.5,290.6L520.0,294.1M520.8,290.0L524.7,291.2M520.8,290.0L520.0,294.1M524.7,291.2L527.9,290.3M524.7,291.2L524.0,294.3M527.9,290.3L530.6,291.3M527.9,290.3L527.9,294.6M530.6,291.3L534.1,290.5M530.6,291.3L531.8,294.6M530.6,291.3L534.7,294.3M534.1,290.5L539.2,289.8M534.1,290.5L534.7,294.3M534.1,290.5L539.0,294.7M539.2,289.8L542.5,291.4M539.2,289.8L539.0,294.7M539.2,289.8L541.7,294.7M542.5,291.4L541.7,294.7M444.3,294.6L446.7,293.9M444.3,294.6L444.7,297.9M444.3,294.6L448.5,298.4M446.7,293.9L450.3,294.7M446.7,293.9L448.5,298.4M446.7,293.9L451.0,297.6M450.3,294.7L454.1,293.9M450.3,294.7L451.0,297.6M454.1,293.9L459.0,294.7M454.1,293.9L453.8,298.2M459.0,294.7L462.5,293.9M459.0,294.7L458.9,297.5M459.0,294.7L461.9,297.9M462.5,293.9L465.0,294.5M462.5,293.9L461.9,297.9M465.0,294.5L468.5,293.6M465.0,294.5L465.5,296.8M468.5,293.6L471.8,293.3M468.5,293.6L469.1,297.7M471.8,293.3L475.3,295.0M471.8,293.3L472.3,297.3M475.3,295.0L479.9,294.3M475.3,295.0L475.7,298.0M479.9,294.3L482.5,293.7M479.9,294.3L479.3,297.9M479.9,294.3L481.6,296.8M482.5,293.7L485.2,293.5M482.5,293.7L481.6,296.8M485.2,293.5L490.1,294.7M485.2,293.5L485.9,297.8M485.2,293.5L488.9,297.9M490.1,294.7L492.7,294.6M490.1,294.7L488.9,297.9M490.1,294.7L493.3,296.6M492.7,294.6L497.0,294.4M492.7,294.6L493.3,296.6M497.0,294.4L500.3,294.5M497.0,294.4L496.4,297.0M500.3,294.5L503.2,294.4M500.3,294.5L499.1,296.8M503.2,294.4L506.6,294.0M503.2,294.4L503.1,296.9M506.6,294.0L511.0,294.4M506.6,294.0L506.4,296.6M511.0,294.4L513.6,294.9M511.0,294.4L510.4,297.3M513.6,294.9L517.8,294.2M513.6,294.9L514.2,297.7M513.6,294.9L517.0,298.3M517.8,294.2L520.0,294.1M517.8,294.2L517.0,298.3M517.8,294.2L520.0,297.3M520.0,294.1L524.0,294.3M520.0,294.1L520.0,297.3M520.0,294.1L524.1,297.3M524.0,294.3L527.9,294.6M524.0,294.3L524.1,297.3M524.0,294.3L527.2,298.2M527.9,294.6L531.8,294.6M527.9,294.6L527.2,298.2M531.8,294.6L534.7,294.3M531.8,294.6L531.2,296.6M534.7,294.3L539.0,294.7M534.7,294.3L535.2,296.7M534.7,294.3L538.6,297.2M539.0,294.7L541.7,294.7M539.0,294.7L538.6,297.2M541.7,294.7L542.2,298.4M444.7,297.9L448.5,298.4M444.7,297.9L444.6,300.8M444.7,297.9L448.1,301.3M448.5,298.4L451.0,297.6M448.5,298.4L448.1,301.3M451.0,297.6L453.8,298.2M451.0,297.6L450.7,300.3M453.8,298.2L458.9,297.5M453.8,298.2L454.7,301.1M453.8,298.2L458.9,301.9M458.9,297.5L461.9,297.9M458.9,297.5L458.9,301.9M461.9,297.9L465.5,296.8M461.9,297.9L461.7,300.7M465.5,296.8L469.1,297.7M465.5,296.8L465.8,300.0M465.5,296.8L467.7,301.1M469.1,297.7L472.3,297.3M469.1,297.7L467.7,301.1M472.3,297.3L475.7,298.0M472.3,297.3L472.2,300.3M472.3,297.3L475.8,301.8M475.7,298.0L479.3,297.9M475.7,298.0L475.8,301.8M479.3,297.9L481.6,296.8M479.3,297.9L478.8,300.9M481.6,296.8L485.9,297.8M481.6,296.8L482.0,300.6M481.6,296.8L486.9,300.8M485.9,297.8L488.9,297.9M485.9,297.8L486.9,300.8M485.9,297.8L490.4,301.8M488.9,297.9L493.3,296.6M488.9,297.9L490.4,301.8M493.3,296.6L496.4,297.0M493.3,296.6L493.2,300.5M496.4,297.0L499.1,296.8M496.4,297.0L497.5,301.0M499.1,296.8L503.1,296.9M499.1,296.8L499.8,300.6M503.1,296.9L506.4,296.6M503.1,296.9L504.5,301.0M506.4,296.6L510.4,297.3M506.4,296.6L506.6,301.0M510.4,297.3L514.2,297.7M510.4,297.3L509.7,301.2M514.2,297.7L517.0,298.3M514.2,297.7L513.9,300.6M517.0,298.3L520.0,297.3M517.0,298.3L518.1,301.7M520.0,297.3L524.1,297.3M520.0,297.3L520.0,301.1M524.1,297.3L527.2,298.2M524.1,297.3L524.0,301.9M527.2,298.2L531.2,296.6M527.2,298.2L528.6,300.5M531.2,296.6L535.2,296.7M531.2,296.6L531.0,300.3M535.2,296.7L538.6,297.2M535.2,296.7L536.0,300.6M535.2,296.7L538.7,300.9M538.6,297.2L542.2,298.4M538.6,297.2L538.7,300.9M542.2,298.4L542.3,301.2M444.6,300.8L448.1,301.3M444.6,300.8L444.5,303.7M444.6,300.8L448.0,304.1M448.1,301.3L450.7,300.3M448.1,301.3L448.0,304.1M448.1,301.3L451.1,304.2M450.7,300.3L454.7,301.1M450.7,300.3L451.1,304.2M454.7,301.1L458.9,301.9M454.7,301.1L454.1,304.6M454.7,301.1L457.9,304.2M458.9,301.9L461.7,300.7M458.9,301.9L457.9,304.2M458.9,301.9L462.0,304.7M461.7,300.7L465.8,300.0M461.7,300.7L462.0,304.7M461.7,300.7L464.1,304.0M465.8,300.0L467.7,301.1M465.8,300.0L464.1,304.0M465.8,300.0L468.4,305.3M467.7,301.1L472.2,300.3M467.7,301.1L468.4,305.3M472.2,300.3L475.8,301.8M472.2,300.3L472.8,304.6M475.8,301.8L478.8,300.9M475.8,301.8L474.5,305.1M478.8,300.9L482.0,300.6M478.8,300.9L478.9,304.7M482.0,300.6L486.9,300.8M482.0,300.6L482.9,304.8M486.9,300.8L490.4,301.8M486.9,300.8L486.0,305.3M490.4,301.8L493.2,300.5M490.4,301.8L489.3,304.3M490.4,301.8L493.7,303.9M493.2,300.5L497.5,301.0M493.2,300.5L493.7,303.9M497.5,301.0L499.8,300.6M497.5,301.0L496.1,305.2M497.5,301.0L499.1,305.2M499.8,300.6L504.5,301.0M499.8,300.6L499.1,305.2M504.5,301.0L506.6,301.0M504.5,301.0L503.9,304.4M506.6,301.0L509.7,301.2M506.6,301.0L506.6,305.1M506.6,301.0L511.3,303.8M509.7,301.2L513.9,300.6M509.7,301.2L511.3,303.8M513.9,300.6L518.1,301.7M513.9,300.6L514.0,304.6M518.1,301.7L520.0,301.1M518.1,301.7L517.5,304.2M520.0,301.1L524.0,301.9M520.0,301.1L520.3,304.7M520.0,301.1L525.1,303.6M524.0,301.9L528.6,300.5M524.0,301.9L525.1,303.6M528.6,300.5L531.0,300.3M528.6,300.5L527.5,305.1M528.6,300.5L532.1,304.8M531.0,300.3L536.0,300.6M531.0,300.3L532.1,304.8M536.0,300.6L538.7,300.9M536.0,300.6L534.1,304.9M538.7,300.9L542.3,301.2M538.7,300.9L539.5,305.5M538.7,300.9L542.4,303.6M542.3,301.2L542.4,303.6M444.5,303.7L448.0,304.1M444.5,303.7L444.7,307.4M444.5,303.7L447.8,308.9M448.0,304.1L451.1,304.2M448.0,304.1L447.8,308.9M448.0,304.1L451.4,307.3M451.1,304.2L454.1,304.6M451.1,304.2L451.4,307.3M454.1,304.6L457.9,304.2M454.1,304.6L454.1,308.8M457.9,304.2L462.0,304.7M457.9,304.2L457.3,308.2M462.0,304.7L464.1,304.0M462.0,304.7L461.3,307.3M464.1,304.0L468.4,305.3M464.1,304.0L465.2,307.1M468.4,305.3L472.8,304.6M468.4,305.3L467.7,307.8M468.4,305.3L471.1,307.1M472.8,304.6L474.5,305.1M472.8,304.6L471.1,307.1M472.8,304.6L475.7,308.5M474.5,305.1L478.9,304.7M474.5,305.1L475.7,308.5M474.5,305.1L479.8,307.3M478.9,304.7L482.9,304.8M478.9,304.7L479.8,307.3M482.9,304.8L486.0,305.3M482.9,304.8L482.4,307.6M486.0,305.3L489.3,304.3M486.0,305.3L486.2,308.0M489.3,304.3L493.7,303.9M489.3,304.3L490.4,307.7M493.7,303.9L496.1,305.2M493.7,303.9L492.1,308.4M496.1,305.2L499.1,305.2M496.1,305.2L495.8,308.3M499.1,305.2L503.9,304.4M499.1,305.2L500.0,308.8M503.9,304.4L506.6,305.1M503.9,304.4L503.6,308.2M506.6,305.1L511.3,303.8M506.6,305.1L506.5,308.1M511.3,303.8L514.0,304.6M511.3,303.8L510.0,308.5M514.0,304.6L517.5,304.2M514.0,304.6L514.0,307.3M517.5,304.2L520.3,304.7M517.5,304.2L517.0,307.7M520.3,304.7L525.1,303.6M520.3,304.7L521.5,307.4M520.3,304.7L524.9,308.3M525.1,303.6L527.5,305.1M525.1,303.6L524.9,308.3M527.5,305.1L532.1,304.8M527.5,305.1L527.2,308.3M532.1,304.8L534.1,304.9M532.1,304.8L530.7,307.2M534.1,304.9L539.5,305.5M534.1,304.9L535.2,307.5M539.5,305.5L542.4,303.6M539.5,305.5L539.3,308.0M542.4,303.6L541.6,308.6M444.7,307.4L447.8,308.9M444.7,307.4L443.1,312.0M447.8,308.9L451.4,307.3M447.8,308.9L446.6,310.8M447.8,308.9L451.9,311.9M451.4,307.3L454.1,308.8M451.4,307.3L451.9,311.9M451.4,307.3L453.9,310.7M454.1,308.8L457.3,308.2M454.1,308.8L453.9,310.7M457.3,308.2L461.3,307.3M457.3,308.2L458.9,311.8M457.3,308.2L462.1,310.8M461.3,307.3L465.2,307.1M461.3,307.3L462.1,310.8M461.3,307.3L465.2,311.2M465.2,307.1L467.7,307.8M465.2,307.1L465.2,311.2M467.7,307.8L471.1,307.1M467.7,307.8L468.0,311.2M471.1,307.1L475.7,308.5M471.1,307.1L472.2,311.2M475.7,308.5L479.8,307.3M475.7,308.5L475.3,310.8M479.8,307.3L482.4,307.6M479.8,307.3L479.7,311.8M479.8,307.3L483.1,311.4M482.4,307.6L486.2,308.0M482.4,307.6L483.1,311.4M486.2,308.0L490.4,307.7M486.2,308.0L486.7,311.5M486.2,308.0L489.7,311.6M490.4,307.7L492.1,308.4M490.4,307.7L489.7,311.6M492.1,308.4L495.8,308.3M492.1,308.4L493.5,311.3M495.8,308.3L500.0,308.8M495.8,308.3L495.7,310.6M495.8,308.3L499.4,310.6M500.0,308.8L503.6,308.2M500.0,308.8L499.4,310.6M500.0,308.8L504.3,311.5M503.6,308.2L506.5,308.1M503.6,308.2L504.3,311.5M506.5,308.1L510.0,308.5M506.5,308.1L507.5,310.5M510.0,308.5L514.0,307.3M510.0,308.5L510.4,312.3M514.0,307.3L517.0,307.7M514.0,307.3L514.2,311.4M517.0,307.7L521.5,307.4M517.0,307.7L517.4,310.7M517.0,307.7L520.3,310.8M521.5,307.4L524.9,308.3M521.5,307.4L520.3,310.8M524.9,308.3L527.2,308.3M524.9,308.3L524.2,311.3M527.2,308.3L530.7,307.2M527.2,308.3L528.8,310.8M530.7,307.2L535.2,307.5M530.7,307.2L531.0,311.1M530.7,307.2L534.3,311.1M535.2,307.5L539.3,308.0M535.2,307.5L534.3,311.1M535.2,307.5L538.0,311.5M539.3,308.0L541.6,308.6M539.3,308.0L538.0,311.5M541.6,308.6L541.1,312.3M443.1,312.0L446.6,310.8M443.1,312.0L443.7,315.9M446.6,310.8L451.9,311.9M446.6,310.8L447.9,315.3M451.9,311.9L453.9,310.7M451.9,311.9L450.9,315.9M453.9,310.7L458.9,311.8M453.9,310.7L453.7,315.3M458.9,311.8L462.1,310.8M458.9,311.8L457.6,315.3M462.1,310.8L465.2,311.2M462.1,310.8L462.0,314.3M465.2,311.2L468.0,311.2M465.2,311.2L464.4,314.0M468.0,311.2L472.2,311.2M468.0,311.2L468.0,314.2M468.0,311.2L471.8,315.9M472.2,311.2L475.3,310.8M472.2,311.2L471.8,315.9M475.3,310.8L479.7,311.8M475.3,310.8L475.2,314.6M479.7,311.8L483.1,311.4M479.7,311.8L478.9,314.6M479.7,311.8L483.0,315.4M483.1,311.4L486.7,311.5M483.1,311.4L483.0,315.4M483.1,311.4L485.3,314.5M486.7,311.5L489.7,311.6M486.7,311.5L485.3,314.5M489.7,311.6L493.5,311.3M489.7,311.6L489.8,315.9M493.5,311.3L495.7,310.6M493.5,311.3L493.3,314.9M495.7,310.6L499.4,310.6M495.7,310.6L497.5,314.0M499.4,310.6L504.3,311.5M499.4,310.6L499.1,315.6M504.3,311.5L507.5,310.5M504.3,311.5L503.3,314.1M504.3,311.5L507.1,316.0M507.5,310.5L510.4,312.3M507.5,310.5L507.1,316.0M510.4,312.3L514.2,311.4M510.4,312.3L510.5,314.7M514.2,311.4L517.4,310.7M514.2,311.4L513.2,314.1M517.4,310.7L520.3,310.8M517.4,310.7L518.3,315.0M520.3,310.8L524.2,311.3M520.3,310.8L521.9,314.1M524.2,311.3L528.8,310.8M524.2,311.3L524.0,314.1M524.2,311.3L527.8,314.1M528.8,310.8L531.0,311.1M528.8,310.8L527.8,314.1M531.0,311.1L534.3,311.1M531.0,311.1L531.0,314.8M534.3,311.1L538.0,311.5M534.3,311.1L534.6,314.1M538.0,311.5L541.1,312.3M538.0,311.5L537.6,315.9M538.0,311.5L541.4,315.0M541.1,312.3L541.4,315.0M443.7,315.9L447.9,315.3M443.7,315.9L443.8,318.6M447.9,315.3L450.9,315.9M447.9,315.3L446.7,318.1M450.9,315.9L453.7,315.3M450.9,315.9L450.2,318.6M453.7,315.3L457.6,315.3M453.7,315.3L455.3,318.7M453.7,315.3L458.7,317.9M457.6,315.3L462.0,314.3M457.6,315.3L458.7,317.9M462.0,314.3L464.4,314.0M462.0,314.3L460.5,318.6M464.4,314.0L468.0,314.2M464.4,314.0L465.0,318.6M468.0,314.2L471.8,315.9M468.0,314.2L468.3,318.8M468.0,314.2L472.5,319.3M471.8,315.9L475.2,314.6M471.8,315.9L472.5,319.3M475.2,314.6L478.9,314.6M475.2,314.6L475.1,318.4M475.2,314.6L479.7,317.9M478.9,314.6L483.0,315.4M478.9,314.6L479.7,317.9M483.0,315.4L485.3,314.5M483.0,315.4L481.7,318.1M483.0,315.4L485.2,319.0M485.3,314.5L489.8,315.9M485.3,314.5L485.2,319.0M489.8,315.9L493.3,314.9M489.8,315.9L490.1,318.1M489.8,315.9L492.3,317.7M493.3,314.9L497.5,314.0M493.3,314.9L492.3,317.7M493.3,314.9L496.0,317.7M497.5,314.0L499.1,315.6M497.5,314.0L496.0,317.7M499.1,315.6L503.3,314.1M499.1,315.6L499.9,318.7M503.3,314.1L507.1,316.0M503.3,314.1L503.0,317.6M507.1,316.0L510.5,314.7M507.1,316.0L507.4,317.6M507.1,316.0L509.9,318.1M510.5,314.7L513.2,314.1M510.5,314.7L509.9,318.1M510.5,314.7L513.7,317.7M513.2,314.1L518.3,315.0M513.2,314.1L513.7,317.7M518.3,315.0L521.9,314.1M518.3,315.0L517.3,318.1M521.9,314.1L524.0,314.1M521.9,314.1L521.5,318.6M521.9,314.1L525.3,318.8M524.0,314.1L527.8,314.1M524.0,314.1L525.3,318.8M527.8,314.1L531.0,314.8M527.8,314.1L528.5,318.6M531.0,314.8L534.6,314.1M531.0,314.8L531.4,319.1M534.6,314.1L537.6,315.9M534.6,314.1L535.3,319.4M534.6,314.1L539.0,318.9M537.6,315.9L541.4,315.0M537.6,315.9L539.0,318.9M541.4,315.0L541.5,319.1M443.8,318.6L446.7,318.1M443.8,318.6L443.8,321.3M446.7,318.1L450.2,318.6M446.7,318.1L446.6,321.3M450.2,318.6L455.3,318.7M450.2,318.6L450.5,322.4M450.2,318.6L454.1,321.1M455.3,318.7L458.7,317.9M455.3,318.7L454.1,321.1M458.7,317.9L460.5,318.6M458.7,317.9L458.5,322.1M460.5,318.6L465.0,318.6M460.5,318.6L460.6,321.1M465.0,318.6L468.3,318.8M465.0,318.6L464.3,321.7M465.0,318.6L469.2,322.9M468.3,318.8L472.5,319.3M468.3,318.8L469.2,322.9M468.3,318.8L472.2,321.5M472.5,319.3L475.1,318.4M472.5,319.3L472.2,321.5M475.1,318.4L479.7,317.9M475.1,318.4L475.4,321.7M475.1,318.4L478.7,321.0M479.7,317.9L481.7,318.1M479.7,317.9L478.7,321.0M479.7,317.9L482.7,322.7M481.7,318.1L485.2,319.0M481.7,318.1L482.7,322.7M485.2,319.0L490.1,318.1M485.2,319.0L486.5,321.2M485.2,319.0L489.6,321.3M490.1,318.1L492.3,317.7M490.1,318.1L489.6,321.3M492.3,317.7L496.0,317.7M492.3,317.7L493.4,321.9M492.3,317.7L497.4,322.6M496.0,317.7L499.9,318.7M496.0,317.7L497.4,322.6M499.9,318.7L503.0,317.6M499.9,318.7L499.2,321.6M503.0,317.6L507.4,317.6M503.0,317.6L504.3,321.9M503.0,317.6L506.9,321.9M507.4,317.6L509.9,318.1M507.4,317.6L506.9,321.9M509.9,318.1L513.7,317.7M509.9,318.1L511.0,322.9M513.7,317.7L517.3,318.1M513.7,317.7L514.1,322.9M517.3,318.1L521.5,318.6M517.3,318.1L517.7,321.2M521.5,318.6L525.3,318.8M521.5,318.6L521.6,321.8M525.3,318.8L528.5,318.6M525.3,318.8L523.6,323.0M528.5,318.6L531.4,319.1M528.5,318.6L527.1,322.2M531.4,319.1L535.3,319.4M531.4,319.1L531.5,322.8M531.4,319.1L534.8,321.4M535.3,319.4L539.0,318.9M535.3,319.4L534.8,321.4M535.3,319.4L538.1,321.4M539.0,318.9L541.5,319.1M539.0,318.9L538.1,321.4M541.5,319.1L542.1,321.7M443.8,321.3L446.6,321.3M443.8,321.3L444.5,325.0M446.6,321.3L450.5,322.4M446.6,321.3L447.2,325.0M446.6,321.3L452.0,326.2M450.5,322.4L454.1,321.1M450.5,322.4L452.0,326.2M454.1,321.1L458.5,322.1M454.1,321.1L455.2,325.7M458.5,322.1L460.6,321.1M458.5,322.1L457.8,324.8M460.6,321.1L464.3,321.7M460.6,321.1L462.2,325.5M464.3,321.7L469.2,322.9M464.3,321.7L464.1,324.8M469.2,322.9L472.2,321.5M469.2,322.9L467.7,325.9M469.2,322.9L472.8,324.9M472.2,321.5L475.4,321.7M472.2,321.5L472.8,324.9M475.4,321.7L478.7,321.0M475.4,321.7L476.1,325.1M478.7,321.0L482.7,322.7M478.7,321.0L479.4,326.2M482.7,322.7L486.5,321.2M482.7,322.7L482.7,326.1M482.7,322.7L485.8,324.5M486.5,321.2L489.6,321.3M486.5,321.2L485.8,324.5M489.6,321.3L493.4,321.9M489.6,321.3L489.5,325.7M493.4,321.9L497.4,322.6M493.4,321.9L492.4,325.3M497.4,322.6L499.2,321.6M497.4,322.6L496.1,324.6M497.4,322.6L499.6,325.3M499.2,321.6L504.3,321.9M499.2,321.6L499.6,325.3M504.3,321.9L506.9,321.9M504.3,321.9L503.5,325.9M506.9,321.9L511.0,322.9M506.9,321.9L506.8,326.5M506.9,321.9L511.1,326.3M511.0,322.9L514.1,322.9M511.0,322.9L511.1,326.3M511.0,322.9L514.4,325.8M514.1,322.9L517.7,321.2M514.1,322.9L514.4,325.8M517.7,321.2L521.6,321.8M517.7,321.2L517.6,326.1M521.6,321.8L523.6,323.0M521.6,321.8L520.7,325.7M523.6,323.0L527.1,322.2M523.6,323.0L524.9,325.5M527.1,322.2L531.5,322.8M527.1,322.2L527.6,324.7M527.1,322.2L530.7,325.2M531.5,322.8L534.8,321.4M531.5,322.8L530.7,325.2M534.8,321.4L538.1,321.4M534.8,321.4L535.2,326.0M534.8,321.4L538.9,325.1M538.1,321.4L542.1,321.7M538.1,321.4L538.9,325.1M538.1,321.4L542.9,325.0M542.1,321.7L542.9,325.0M444.5,325.0L447.2,325.0M444.5,325.0L444.4,328.1M447.2,325.0L452.0,326.2M447.2,325.0L448.0,329.3M452.0,326.2L455.2,325.7M452.0,326.2L451.9,329.8M455.2,325.7L457.8,324.8M455.2,325.7L454.9,329.7M455.2,325.7L458.5,329.2M457.8,324.8L462.2,325.5M457.8,324.8L458.5,329.2M462.2,325.5L464.1,324.8M462.2,325.5L460.9,329.0M462.2,325.5L465.8,328.5M464.1,324.8L467.7,325.9M464.1,324.8L465.8,328.5M464.1,324.8L469.4,329.1M467.7,325.9L472.8,324.9M467.7,325.9L469.4,329.1M467.7,325.9L471.8,328.0M472.8,324.9L476.1,325.1M472.8,324.9L471.8,328.0M472.8,324.9L475.3,328.4M476.1,325.1L479.4,326.2M476.1,325.1L475.3,328.4M479.4,326.2L482.7,326.1M479.4,326.2L479.3,329.8M482.7,326.1L485.8,324.5M482.7,326.1L483.3,329.2M485.8,324.5L489.5,325.7M485.8,324.5L485.8,328.2M489.5,325.7L492.4,325.3M489.5,325.7L489.9,329.1M492.4,325.3L496.1,324.6M492.4,325.3L493.4,328.7M492.4,325.3L497.3,328.4M496.1,324.6L499.6,325.3M496.1,324.6L497.3,328.4M499.6,325.3L503.5,325.9M499.6,325.3L499.6,328.5M499.6,325.3L503.7,329.8M503.5,325.9L506.8,326.5M503.5,325.9L503.7,329.8M503.5,325.9L506.3,329.3M506.8,326.5L511.1,326.3M506.8,326.5L506.3,329.3M506.8,326.5L511.0,328.4M511.1,326.3L514.4,325.8M511.1,326.3L511.0,328.4M511.1,326.3L513.1,329.1M514.4,325.8L517.6,326.1M514.4,325.8L513.1,329.1M517.6,326.1L520.7,325.7M517.6,326.1L518.2,329.8M520.7,325.7L524.9,325.5M520.7,325.7L521.5,328.8M520.7,325.7L524.4,329.1M524.9,325.5L527.6,324.7M524.9,325.5L524.4,329.1M524.9,325.5L528.8,328.6M527.6,324.7L530.7,325.2M527.6,324.7L528.8,328.6M527.6,324.7L531.1,329.2M530.7,325.2L535.2,326.0M530.7,325.2L531.1,329.2M530.7,325.2L535.9,328.4M535.2,326.0L538.9,325.1M535.2,326.0L535.9,328.4M538.9,325.1L542.9,325.0M538.9,325.1L537.6,328.2M538.9,325.1L542.1,329.2M542.9,325.0L542.1,329.2M444.4,328.1L448.0,329.3M444.4,328.1L443.4,331.9M448.0,329.3L451.9,329.8M448.0,329.3L447.7,332.8M448.0,329.3L451.4,333.0M451.9,329.8L454.9,329.7M451.9,329.8L451.4,333.0M454.9,329.7L458.5,329.2M454.9,329.7L453.6,332.5M454.9,329.7L458.7,333.4M458.5,329.2L460.9,329.0M458.5,329.2L458.7,333.4M460.9,329.0L465.8,328.5M460.9,329.0L461.1,333.2M465.8,328.5L469.4,329.1M465.8,328.5L465.3,333.4M469.4,329.1L471.8,328.0M469.4,329.1L468.0,332.9M469.4,329.1L472.7,332.5M471.8,328.0L475.3,328.4M471.8,328.0L472.7,332.5M475.3,328.4L479.3,329.8M475.3,328.4L474.7,331.9M479.3,329.8L483.3,329.2M479.3,329.8L478.3,331.7M483.3,329.2L485.8,328.2M483.3,329.2L481.8,332.7M485.8,328.2L489.9,329.1M485.8,328.2L485.2,333.0M489.9,329.1L493.4,328.7M489.9,329.1L490.0,333.1M489.9,329.1L493.6,332.9M493.4,328.7L497.3,328.4M493.4,328.7L493.6,332.9M497.3,328.4L499.6,328.5M497.3,328.4L497.3,333.4M499.6,328.5L503.7,329.8M499.6,328.5L500.3,333.4M503.7,329.8L506.3,329.3M503.7,329.8L502.7,331.7M506.3,329.3L511.0,328.4M506.3,329.3L506.1,331.9M511.0,328.4L513.1,329.1M511.0,328.4L510.2,332.4M511.0,328.4L514.4,333.0M513.1,329.1L518.2,329.8M513.1,329.1L514.4,333.0M513.1,329.1L516.7,332.3M518.2,329.8L521.5,328.8M518.2,329.8L516.7,332.3M521.5,328.8L524.4,329.1M521.5,328.8L521.1,332.3M524.4,329.1L528.8,328.6M524.4,329.1L523.7,332.7M528.8,328.6L531.1,329.2M528.8,328.6L527.7,332.9M528.8,328.6L531.5,333.4M531.1,329.2L535.9,328.4M531.1,329.2L531.5,333.4M535.9,328.4L537.6,328.2M535.9,328.4L535.9,331.6M537.6,328.2L542.1,329.2M537.6,328.2L539.0,332.9M542.1,329.2L541.6,331.7M443.4,331.9L447.7,332.8M443.4,331.9L444.0,335.7M447.7,332.8L451.4,333.0M447.7,332.8L448.0,336.8M451.4,333.0L453.6,332.5M451.4,333.0L450.8,335.6M453.6,332.5L458.7,333.4M453.6,332.5L454.5,336.4M458.7,333.4L461.1,333.2M458.7,333.4L458.6,336.2M461.1,333.2L465.3,333.4M461.1,333.2L461.1,335.7M465.3,333.4L468.0,332.9M465.3,333.4L465.7,336.0M468.0,332.9L472.7,332.5M468.0,332.9L467.6,335.8M472.7,332.5L474.7,331.9M472.7,332.5L471.5,336.3M474.7,331.9L478.3,331.7M474.7,331.9L474.6,335.5M478.3,331.7L481.8,332.7M478.3,331.7L478.2,336.0M478.3,331.7L483.5,336.1M481.8,332.7L485.2,333.0M481.8,332.7L483.5,336.1M485.2,333.0L490.0,333.1M485.2,333.0L485.8,336.9M490.0,333.1L493.6,332.9M490.0,333.1L488.7,335.7M493.6,332.9L497.3,333.4M493.6,332.9L493.6,335.0M497.3,333.4L500.3,333.4M497.3,333.4L497.0,335.7M500.3,333.4L502.7,331.7M500.3,333.4L499.0,335.5M502.7,331.7L506.1,331.9M502.7,331.7L503.4,335.8M502.7,331.7L507.0,335.1M506.1,331.9L510.2,332.4M506.1,331.9L507.0,335.1M506.1,331.9L509.9,336.9M510.2,332.4L514.4,333.0M510.2,332.4L509.9,336.9M510.2,332.4L513.9,335.9M514.4,333.0L516.7,332.3M514.4,333.0L513.9,335.9M516.7,332.3L521.1,332.3M516.7,332.3L516.7,335.6M521.1,332.3L523.7,332.7M521.1,332.3L521.9,336.4M521.1,332.3L524.5,335.1M523.7,332.7L527.7,332.9M523.7,332.7L524.5,335.1M523.7,332.7L527.8,336.6M527.7,332.9L531.5,333.4M527.7,332.9L527.8,336.6M527.7,332.9L531.4,336.2M531.5,333.4L535.9,331.6M531.5,333.4L531.4,336.2M531.5,333.4L535.8,336.3M535.9,331.6L539.0,332.9M535.9,331.6L535.8,336.3M535.9,331.6L538.8,335.1M539.0,332.9L541.6,331.7M539.0,332.9L538.8,335.1M541.6,331.7L541.0,336.5M444.0,335.7L448.0,336.8M444.0,335.7L443.8,340.2M444.0,335.7L448.2,340.3M448.0,336.8L450.8,335.6M448.0,336.8L448.2,340.3M448.0,336.8L450.8,340.5M450.8,335.6L454.5,336.4M450.8,335.6L450.8,340.5M454.5,336.4L458.6,336.2M454.5,336.4L455.0,340.3M454.5,336.4L457.3,340.1M458.6,336.2L461.1,335.7M458.6,336.2L457.3,340.1M461.1,335.7L465.7,336.0M461.1,335.7L461.3,340.4M465.7,336.0L467.6,335.8M465.7,336.0L466.0,338.9M467.6,335.8L471.5,336.3M467.6,335.8L468.3,339.0M471.5,336.3L474.6,335.5M471.5,336.3L471.9,339.1M474.6,335.5L478.2,336.0M474.6,335.5L475.8,338.7M474.6,335.5L478.3,339.4M478.2,336.0L483.5,336.1M478.2,336.0L478.3,339.4M483.5,336.1L485.8,336.9M483.5,336.1L481.6,339.3M485.8,336.9L488.7,335.7M485.8,336.9L486.8,340.3M488.7,335.7L493.6,335.0M488.7,335.7L488.9,338.5M493.6,335.0L497.0,335.7M493.6,335.0L493.7,340.4M497.0,335.7L499.0,335.5M497.0,335.7L496.7,338.8M499.0,335.5L503.4,335.8M499.0,335.5L499.5,340.3M503.4,335.8L507.0,335.1M503.4,335.8L504.4,338.6M503.4,335.8L506.4,339.4M507.0,335.1L509.9,336.9M507.0,335.1L506.4,339.4M507.0,335.1L510.0,340.0M509.9,336.9L513.9,335.9M509.9,336.9L510.0,340.0M513.9,335.9L516.7,335.6M513.9,335.9L513.7,340.1M516.7,335.6L521.9,336.4M516.7,335.6L516.8,339.5M516.7,335.6L521.9,339.9M521.9,336.4L524.5,335.1M521.9,336.4L521.9,339.9M521.9,336.4L523.7,338.7M524.5,335.1L527.8,336.6M524.5,335.1L523.7,338.7M527.8,336.6L531.4,336.2M527.8,336.6L528.3,339.2M531.4,336.2L535.8,336.3M531.4,336.2L531.2,339.5M535.8,336.3L538.8,335.1M535.8,336.3L535.2,340.4M538.8,335.1L541.0,336.5M538.8,335.1L538.0,339.6M541.0,336.5L541.5,339.6M443.8,340.2L448.2,340.3M443.8,340.2L444.5,342.3M443.8,340.2L447.5,343.4M448.2,340.3L450.8,340.5M448.2,340.3L447.5,343.4M448.2,340.3L450.0,343.5M450.8,340.5L455.0,340.3M450.8,340.5L450.0,343.5M455.0,340.3L457.3,340.1M455.0,340.3L454.3,343.0M455.0,340.3L458.2,343.6M457.3,340.1L461.3,340.4M457.3,340.1L458.2,343.6M461.3,340.4L466.0,338.9M461.3,340.4L460.6,343.0M461.3,340.4L464.1,342.8M466.0,338.9L468.3,339.0M466.0,338.9L464.1,342.8M468.3,339.0L471.9,339.1M468.3,339.0L468.2,342.0M471.9,339.1L475.8,338.7M471.9,339.1L471.6,342.9M475.8,338.7L478.3,339.4M475.8,338.7L475.8,343.8M478.3,339.4L481.6,339.3M478.3,339.4L478.7,343.1M481.6,339.3L486.8,340.3M481.6,339.3L482.9,343.9M486.8,340.3L488.9,338.5M486.8,340.3L486.9,344.0M488.9,338.5L493.7,340.4M488.9,338.5L489.1,342.3M488.9,338.5L493.9,342.2M493.7,340.4L496.7,338.8M493.7,340.4L493.9,342.2M496.7,338.8L499.5,340.3M496.7,338.8L496.4,343.5M499.5,340.3L504.4,338.6M499.5,340.3L500.1,342.8M499.5,340.3L504.3,342.6M504.4,338.6L506.4,339.4M504.4,338.6L504.3,342.6M506.4,339.4L510.0,340.0M506.4,339.4L507.1,343.7M510.0,340.0L513.7,340.1M510.0,340.0L509.8,342.7M513.7,340.1L516.8,339.5M513.7,340.1L514.0,343.1M513.7,340.1L516.9,342.9M516.8,339.5L521.9,339.9M516.8,339.5L516.9,342.9M516.8,339.5L520.1,342.2M521.9,339.9L523.7,338.7M521.9,339.9L520.1,342.2M523.7,338.7L528.3,339.2M523.7,338.7L524.2,342.3M528.3,339.2L531.2,339.5M528.3,339.2L528.9,342.5M528.3,339.2L531.1,343.6M531.2,339.5L535.2,340.4M531.2,339.5L531.1,343.6M535.2,340.4L538.0,339.6M535.2,340.4L535.5,342.5M538.0,339.6L541.5,339.6M538.0,339.6L539.2,343.3M541.5,339.6L541.8,343.3M444.5,342.3L447.5,343.4M444.5,342.3L443.5,346.0M447.5,343.4L450.0,343.5M447.5,343.4L448.3,346.4M450.0,343.5L454.3,343.0M450.0,343.5L451.8,345.9M454.3,343.0L458.2,343.6M454.3,343.0L453.8,345.6M458.2,343.6L460.6,343.0M458.2,343.6L458.5,346.6M460.6,343.0L464.1,342.8M460.6,343.0L460.5,345.6M460.6,343.0L465.6,346.5M464.1,342.8L468.2,342.0M464.1,342.8L465.6,346.5M464.1,342.8L469.2,345.6M468.2,342.0L471.6,342.9M468.2,342.0L469.2,345.6M471.6,342.9L475.8,343.8M471.6,342.9L472.2,345.7M471.6,342.9L475.9,346.7M475.8,343.8L478.7,343.1M475.8,343.8L475.9,346.7M478.7,343.1L482.9,343.9M478.7,343.1L479.2,345.9M478.7,343.1L483.4,345.7M482.9,343.9L486.9,344.0M482.9,343.9L483.4,345.7M486.9,344.0L489.1,342.3M486.9,344.0L485.1,346.9M489.1,342.3L493.9,342.2M489.1,342.3L488.7,345.6M489.1,342.3L492.9,346.8M493.9,342.2L496.4,343.5M493.9,342.2L492.9,346.8M493.9,342.2L497.3,346.9M496.4,343.5L500.1,342.8M496.4,343.5L497.3,346.9M500.1,342.8L504.3,342.6M500.1,342.8L499.1,346.8M500.1,342.8L504.2,345.7M504.3,342.6L507.1,343.7M504.3,342.6L504.2,345.7M504.3,342.6L507.5,346.0M507.1,343.7L509.8,342.7M507.1,343.7L507.5,346.0M509.8,342.7L514.0,343.1M509.8,342.7L510.1,345.5M514.0,343.1L516.9,342.9M514.0,343.1L514.5,346.5M514.0,343.1L518.3,346.4M516.9,342.9L520.1,342.2M516.9,342.9L518.3,346.4M520.1,342.2L524.2,342.3M520.1,342.2L520.3,345.9M524.2,342.3L528.9,342.5M524.2,342.3L524.0,347.4M524.2,342.3L527.4,345.7M528.9,342.5L531.1,343.6M528.9,342.5L527.4,345.7M531.1,343.6L535.5,342.5M531.1,343.6L531.2,345.7M535.5,342.5L539.2,343.3M535.5,342.5L534.9,346.7M539.2,343.3L541.8,343.3M539.2,343.3L538.8,345.8M541.8,343.3L541.3,346.5M443.5,346.0L448.3,346.4M443.5,346.0L444.4,349.9M448.3,346.4L451.8,345.9M448.3,346.4L447.6,350.8M451.8,345.9L453.8,345.6M451.8,345.9L450.3,349.5M451.8,345.9L454.5,350.1M453.8,345.6L458.5,346.6M453.8,345.6L454.5,350.1M458.5,346.6L460.5,345.6M458.5,346.6L458.8,350.1M460.5,345.6L465.6,346.5M460.5,345.6L461.8,349.8M460.5,345.6L465.6,350.7M465.6,346.5L469.2,345.6M465.6,346.5L465.6,350.7M465.6,346.5L468.1,349.2M469.2,345.6L472.2,345.7M469.2,345.6L468.1,349.2M472.2,345.7L475.9,346.7M472.2,345.7L471.5,349.7M475.9,346.7L479.2,345.9M475.9,346.7L476.3,349.5M479.2,345.9L483.4,345.7M479.2,345.9L479.3,350.3M479.2,345.9L483.4,349.2M483.4,345.7L485.1,346.9M483.4,345.7L483.4,349.2M485.1,346.9L488.7,345.6M485.1,346.9L486.5,349.7M488.7,345.6L492.9,346.8M488.7,345.6L488.7,350.3M492.9,346.8L497.3,346.9M492.9,346.8L493.7,350.2M497.3,346.9L499.1,346.8M497.3,346.9L495.6,350.9M499.1,346.8L504.2,345.7M499.1,346.8L499.8,350.3M504.2,345.7L507.5,346.0M504.2,345.7L503.9,349.5M507.5,346.0L510.1,345.5M507.5,346.0L506.8,349.7M510.1,345.5L514.5,346.5M510.1,345.5L509.7,349.1M510.1,345.5L514.4,349.8M514.5,346.5L518.3,346.4M514.5,346.5L514.4,349.8M514.5,346.5L518.2,349.1M518.3,346.4L520.3,345.9M518.3,346.4L518.2,349.1M520.3,345.9L524.0,347.4M520.3,345.9L520.6,349.4M524.0,347.4L527.4,345.7M524.0,347.4L525.4,350.6M527.4,345.7L531.2,345.7M527.4,345.7L528.8,350.0M527.4,345.7L530.7,349.8M531.2,345.7L534.9,346.7M531.2,345.7L530.7,349.8M531.2,345.7L534.5,349.1M534.9,346.7L538.8,345.8M534.9,346.7L534.5,349.1M538.8,345.8L541.3,346.5M538.8,345.8L538.6,349.6M541.3,346.5L541.2,350.0M444.4,349.9L447.6,350.8M444.4,349.9L444.9,354.4M447.6,350.8L450.3,349.5M447.6,350.8L447.4,352.7M447.6,350.8L451.5,352.7M450.3,349.5L454.5,350.1M450.3,349.5L451.5,352.7M454.5,350.1L458.8,350.1M454.5,350.1L454.6,352.7M458.8,350.1L461.8,349.8M458.8,350.1L459.0,353.6M461.8,349.8L465.6,350.7M461.8,349.8L461.4,353.0M465.6,350.7L468.1,349.2M465.6,350.7L465.1,354.4M468.1,349.2L471.5,349.7M468.1,349.2L468.4,352.9M471.5,349.7L476.3,349.5M471.5,349.7L472.0,354.3M476.3,349.5L479.3,350.3M476.3,349.5L475.3,353.8M476.3,349.5L479.8,353.2M479.3,350.3L483.4,349.2M479.3,350.3L479.8,353.2M483.4,349.2L486.5,349.7M483.4,349.2L483.1,353.6M486.5,349.7L488.7,350.3M486.5,349.7L485.3,352.6M488.7,350.3L493.7,350.2M488.7,350.3L490.4,353.4M488.7,350.3L492.9,354.3M493.7,350.2L495.6,350.9M493.7,350.2L492.9,354.3M495.6,350.9L499.8,350.3M495.6,350.9L496.6,353.5M499.8,350.3L503.9,349.5M499.8,350.3L499.6,354.0M499.8,350.3L503.0,353.4M503.9,349.5L506.8,349.7M503.9,349.5L503.0,353.4M506.8,349.7L509.7,349.1M506.8,349.7L507.5,353.7M509.7,349.1L514.4,349.8M509.7,349.1L509.8,352.9M509.7,349.1L514.4,354.0M514.4,349.8L518.2,349.1M514.4,349.8L514.4,354.0M518.2,349.1L520.6,349.4M518.2,349.1L516.7,354.5M520.6,349.4L525.4,350.6M520.6,349.4L520.3,352.8M525.4,350.6L528.8,350.0M525.4,350.6L523.7,353.4M528.8,350.0L530.7,349.8M528.8,350.0L528.2,354.2M530.7,349.8L534.5,349.1M530.7,349.8L530.8,353.9M534.5,349.1L538.6,349.6M534.5,349.1L534.2,353.7M538.6,349.6L541.2,350.0M538.6,349.6L538.0,353.2M538.6,349.6L541.1,353.9M541.2,350.0L541.1,353.9M444.9,354.4L447.4,352.7M444.9,354.4L443.2,357.5M447.4,352.7L451.5,352.7M447.4,352.7L447.2,357.2M451.5,352.7L454.6,352.7M451.5,352.7L451.3,357.0M451.5,352.7L455.2,357.8M454.6,352.7L459.0,353.6M454.6,352.7L455.2,357.8M459.0,353.6L461.4,353.0M459.0,353.6L457.6,356.7M461.4,353.0L465.1,354.4M461.4,353.0L462.3,356.3M461.4,353.0L464.8,356.8M465.1,354.4L468.4,352.9M465.1,354.4L464.8,356.8M468.4,352.9L472.0,354.3M468.4,352.9L469.5,356.3M472.0,354.3L475.3,353.8M472.0,354.3L472.3,357.5M475.3,353.8L479.8,353.2M475.3,353.8L476.0,356.0M479.8,353.2L483.1,353.6M479.8,353.2L479.9,356.6M479.8,353.2L483.2,357.3M483.1,353.6L485.3,352.6M483.1,353.6L483.2,357.3M485.3,352.6L490.4,353.4M485.3,352.6L485.8,357.7M490.4,353.4L492.9,354.3M490.4,353.4L489.9,356.7M490.4,353.4L493.5,357.0M492.9,354.3L496.6,353.5M492.9,354.3L493.5,357.0M496.6,353.5L499.6,354.0M496.6,353.5L496.9,357.2M499.6,354.0L503.0,353.4M499.6,354.0L500.6,356.3M503.0,353.4L507.5,353.7M503.0,353.4L503.5,356.0M503.0,353.4L507.6,357.5M507.5,353.7L509.8,352.9M507.5,353.7L507.6,357.5M509.8,352.9L514.4,354.0M509.8,352.9L511.2,356.1M514.4,354.0L516.7,354.5M514.4,354.0L514.1,357.0M516.7,354.5L520.3,352.8M516.7,354.5L516.7,356.4M520.3,352.8L523.7,353.4M520.3,352.8L521.9,357.7M523.7,353.4L528.2,354.2M523.7,353.4L524.0,357.7M528.2,354.2L530.8,353.9M528.2,354.2L528.3,356.8M530.8,353.9L534.2,353.7M530.8,353.9L531.8,356.5M534.2,353.7L538.0,353.2M534.2,353.7L534.5,356.0M534.2,353.7L538.8,357.2M538.0,353.2L541.1,353.9M538.0,353.2L538.8,357.2M538.0,353.2L542.5,357.0M541.1,353.9L542.5,357.0M443.2,357.5L447.2,357.2M443.2,357.5L443.9,360.1M443.2,357.5L448.0,360.2M447.2,357.2L451.3,357.0M447.2,357.2L448.0,360.2M447.2,357.2L451.2,361.0M451.3,357.0L455.2,357.8M451.3,357.0L451.2,361.0M455.2,357.8L457.6,356.7M455.2,357.8L454.4,360.9M457.6,356.7L462.3,356.3M457.6,356.7L457.1,360.0M462.3,356.3L464.8,356.8M462.3,356.3L462.2,359.8M462.3,356.3L464.1,359.5M464.8,356.8L469.5,356.3M464.8,356.8L464.1,359.5M469.5,356.3L472.3,357.5M469.5,356.3L469.0,359.7M472.3,357.5L476.0,356.0M472.3,357.5L471.9,360.4M472.3,357.5L476.1,360.5M476.0,356.0L479.9,356.6M476.0,356.0L476.1,360.5M476.0,356.0L479.0,359.5M479.9,356.6L483.2,357.3M479.9,356.6L479.0,359.5M483.2,357.3L485.8,357.7M483.2,357.3L483.1,361.0M483.2,357.3L486.2,361.2M485.8,357.7L489.9,356.7M485.8,357.7L486.2,361.2M485.8,357.7L489.7,360.9M489.9,356.7L493.5,357.0M489.9,356.7L489.7,360.9M493.5,357.0L496.9,357.2M493.5,357.0L493.7,360.7M493.5,357.0L495.5,361.3M496.9,357.2L500.6,356.3M496.9,357.2L495.5,361.3M496.9,357.2L501.0,359.9M500.6,356.3L503.5,356.0M500.6,356.3L501.0,359.9M503.5,356.0L507.6,357.5M503.5,356.0L502.6,360.2M503.5,356.0L506.2,360.2M507.6,357.5L511.2,356.1M507.6,357.5L506.2,360.2M511.2,356.1L514.1,357.0M511.2,356.1L509.7,359.9M514.1,357.0L516.7,356.4M514.1,357.0L513.0,360.4M516.7,356.4L521.9,357.7M516.7,356.4L517.1,361.0M516.7,356.4L520.8,359.8M521.9,357.7L524.0,357.7M521.9,357.7L520.8,359.8M524.0,357.7L528.3,356.8M524.0,357.7L525.4,361.3M524.0,357.7L528.4,359.9M528.3,356.8L531.8,356.5M528.3,356.8L528.4,359.9M531.8,356.5L534.5,356.0M531.8,356.5L531.3,360.4M534.5,356.0L538.8,357.2M534.5,356.0L534.8,359.6M538.8,357.2L542.5,357.0M538.8,357.2L538.4,361.0M542.5,357.0L542.4,361.2M443.9,360.1L448.0,360.2M443.9,360.1L444.4,364.5M448.0,360.2L451.2,361.0M448.0,360.2L448.2,364.8M451.2,361.0L454.4,360.9M451.2,361.0L451.6,363.8M451.2,361.0L454.8,364.3M454.4,360.9L457.1,360.0M454.4,360.9L454.8,364.3M454.4,360.9L458.8,364.4M457.1,360.0L462.2,359.8M457.1,360.0L458.8,364.4M462.2,359.8L464.1,359.5M462.2,359.8L461.4,363.4M464.1,359.5L469.0,359.7M464.1,359.5L464.7,363.5M464.1,359.5L468.9,364.5M469.0,359.7L471.9,360.4M469.0,359.7L468.9,364.5M469.0,359.7L471.4,364.1M471.9,360.4L476.1,360.5M471.9,360.4L471.4,364.1M471.9,360.4L476.2,363.7M476.1,360.5L479.0,359.5M476.1,360.5L476.2,363.7M479.0,359.5L483.1,361.0M479.0,359.5L478.2,364.2M483.1,361.0L486.2,361.2M483.1,361.0L482.2,363.3M483.1,361.0L485.6,363.0M486.2,361.2L489.7,360.9M486.2,361.2L485.6,363.0M486.2,361.2L488.8,363.9M489.7,360.9L493.7,360.7M489.7,360.9L488.8,363.9M489.7,360.9L492.2,363.0M493.7,360.7L495.5,361.3M493.7,360.7L492.2,363.0M493.7,360.7L496.6,364.9M495.5,361.3L501.0,359.9M495.5,361.3L496.6,364.9M501.0,359.9L502.6,360.2M501.0,359.9L500.7,363.7M502.6,360.2L506.2,360.2M502.6,360.2L504.3,363.2M506.2,360.2L509.7,359.9M506.2,360.2L506.3,363.0M509.7,359.9L513.0,360.4M509.7,359.9L509.6,364.2M513.0,360.4L517.1,361.0M513.0,360.4L514.5,364.0M517.1,361.0L520.8,359.8M517.1,361.0L518.1,363.9M517.1,361.0L521.8,364.2M520.8,359.8L525.4,361.3M520.8,359.8L521.8,364.2M525.4,361.3L528.4,359.9M525.4,361.3L524.6,363.3M528.4,359.9L531.3,360.4M528.4,359.9L527.9,363.9M528.4,359.9L532.1,363.5M531.3,360.4L534.8,359.6M531.3,360.4L532.1,363.5M531.3,360.4L534.6,364.6M534.8,359.6L538.4,361.0M534.8,359.6L534.6,364.6M538.4,361.0L542.4,361.2M538.4,361.0L537.6,364.1M542.4,361.2L541.4,364.3M444.4,364.5L448.2,364.8M444.4,364.5L444.2,366.7M448.2,364.8L451.6,363.8M448.2,364.8L448.0,367.3M451.6,363.8L454.8,364.3M451.6,363.8L450.6,368.2M451.6,363.8L455.1,367.1M454.8,364.3L458.8,364.4M454.8,364.3L455.1,367.1M458.8,364.4L461.4,363.4M458.8,364.4L458.4,366.7M458.8,364.4L461.5,366.7M461.4,363.4L464.7,363.5M461.4,363.4L461.5,366.7M461.4,363.4L465.3,368.3M464.7,363.5L468.9,364.5M464.7,363.5L465.3,368.3M468.9,364.5L471.4,364.1M468.9,364.5L468.8,366.6M471.4,364.1L476.2,363.7M471.4,364.1L472.0,367.4M471.4,364.1L475.4,366.8M476.2,363.7L478.2,364.2M476.2,363.7L475.4,366.8M478.2,364.2L482.2,363.3M478.2,364.2L478.6,367.4M482.2,363.3L485.6,363.0M482.2,363.3L481.6,367.8M482.2,363.3L485.5,367.1M485.6,363.0L488.8,363.9M485.6,363.0L485.5,367.1M488.8,363.9L492.2,363.0M488.8,363.9L488.7,367.1M492.2,363.0L496.6,364.9M492.2,363.0L493.9,367.1M492.2,363.0L495.7,367.2M496.6,364.9L500.7,363.7M496.6,364.9L495.7,367.2M500.7,363.7L504.3,363.2M500.7,363.7L500.9,366.7M504.3,363.2L506.3,363.0M504.3,363.2L503.2,366.9M506.3,363.0L509.6,364.2M506.3,363.0L507.4,367.4M506.3,363.0L509.7,368.2M509.6,364.2L514.5,364.0M509.6,364.2L509.7,368.2M509.6,364.2L513.7,367.9M514.5,364.0L518.1,363.9M514.5,364.0L513.7,367.9M518.1,363.9L521.8,364.2M518.1,363.9L517.4,368.2M518.1,363.9L520.1,367.0M521.8,364.2L524.6,363.3M521.8,364.2L520.1,367.0M524.6,363.3L527.9,363.9M524.6,363.3L524.1,367.0M527.9,363.9L532.1,363.5M527.9,363.9L528.6,367.5M532.1,363.5L534.6,364.6M532.1,363.5L531.2,367.5M534.6,364.6L537.6,364.1M534.6,364.6L535.7,367.6M537.6,364.1L541.4,364.3M537.6,364.1L538.4,367.8M541.4,364.3L542.2,367.3M444.2,366.7L448.0,367.3M444.2,366.7L443.9,370.3M444.2,366.7L447.4,371.8M448.0,367.3L450.6,368.2M448.0,367.3L447.4,371.8M448.0,367.3L450.6,370.7M450.6,368.2L455.1,367.1M450.6,368.2L450.6,370.7M455.1,367.1L458.4,366.7M455.1,367.1L454.7,371.2M458.4,366.7L461.5,366.7M458.4,366.7L457.4,370.9M461.5,366.7L465.3,368.3M461.5,366.7L462.0,370.1M465.3,368.3L468.8,366.6M465.3,368.3L464.2,371.5M468.8,366.6L472.0,367.4M468.8,366.6L469.3,370.1M472.0,367.4L475.4,366.8M472.0,367.4L471.2,371.3M475.4,366.8L478.6,367.4M475.4,366.8L475.1,371.3M478.6,367.4L481.6,367.8M478.6,367.4L478.1,370.9M478.6,367.4L481.8,370.7M481.6,367.8L485.5,367.1M481.6,367.8L481.8,370.7M481.6,367.8L486.4,371.0M485.5,367.1L488.7,367.1M485.5,367.1L486.4,371.0M488.7,367.1L493.9,367.1M488.7,367.1L490.2,371.7M493.9,367.1L495.7,367.2M493.9,367.1L493.2,371.7M493.9,367.1L495.9,370.9M495.7,367.2L500.9,366.7M495.7,367.2L495.9,370.9M500.9,366.7L503.2,366.9M500.9,366.7L499.6,371.2M503.2,366.9L507.4,367.4M503.2,366.9L502.7,371.8M507.4,367.4L509.7,368.2M507.4,367.4L506.7,371.6M509.7,368.2L513.7,367.9M509.7,368.2L511.4,371.9M513.7,367.9L517.4,368.2M513.7,367.9L513.8,371.7M517.4,368.2L520.1,367.0M517.4,368.2L518.5,370.3M520.1,367.0L524.1,367.0M520.1,367.0L521.5,371.5M524.1,367.0L528.6,367.5M524.1,367.0L524.4,370.6M528.6,367.5L531.2,367.5M528.6,367.5L527.3,370.8M531.2,367.5L535.7,367.6M531.2,367.5L532.4,370.8M535.7,367.6L538.4,367.8M535.7,367.6L534.5,371.2M538.4,367.8L542.2,367.3M538.4,367.8L538.4,371.2M542.2,367.3L541.9,370.6M443.9,370.3L447.4,371.8M443.9,370.3L443.1,375.1M443.9,370.3L447.8,374.0M447.4,371.8L450.6,370.7M447.4,371.8L447.8,374.0M450.6,370.7L454.7,371.2M450.6,370.7L451.0,374.7M450.6,370.7L454.5,375.3M454.7,371.2L457.4,370.9M454.7,371.2L454.5,375.3M454.7,371.2L458.6,374.1M457.4,370.9L462.0,370.1M457.4,370.9L458.6,374.1M462.0,370.1L464.2,371.5M462.0,370.1L461.2,374.7M462.0,370.1L464.3,375.4M464.2,371.5L469.3,370.1M464.2,371.5L464.3,375.4M469.3,370.1L471.2,371.3M469.3,370.1L467.6,374.5M471.2,371.3L475.1,371.3M471.2,371.3L471.5,374.6M475.1,371.3L478.1,370.9M475.1,371.3L474.6,373.9M475.1,371.3L480.0,375.1M478.1,370.9L481.8,370.7M478.1,370.9L480.0,375.1M478.1,370.9L481.9,374.4M481.8,370.7L486.4,371.0M481.8,370.7L481.9,374.4M486.4,371.0L490.2,371.7M486.4,371.0L485.1,373.7M490.2,371.7L493.2,371.7M490.2,371.7L488.9,375.5M493.2,371.7L495.9,370.9M493.2,371.7L492.6,374.0M495.9,370.9L499.6,371.2M495.9,370.9L495.6,373.7M495.9,370.9L501.0,375.0M499.6,371.2L502.7,371.8M499.6,371.2L501.0,375.0M502.7,371.8L506.7,371.6M502.7,371.8L504.3,375.2M506.7,371.6L511.4,371.9M506.7,371.6L507.6,374.0M511.4,371.9L513.8,371.7M511.4,371.9L509.8,374.0M513.8,371.7L518.5,370.3M513.8,371.7L513.1,373.9M518.5,370.3L521.5,371.5M518.5,370.3L517.9,374.5M518.5,370.3L520.0,374.1M521.5,371.5L524.4,370.6M521.5,371.5L520.0,374.1M521.5,371.5L525.2,375.2M524.4,370.6L527.3,370.8M524.4,370.6L525.2,375.2M527.3,370.8L532.4,370.8M527.3,370.8L528.5,375.0M527.3,370.8L532.3,374.6M532.4,370.8L534.5,371.2M532.4,370.8L532.3,374.6M532.4,370.8L534.8,374.6M534.5,371.2L538.4,371.2M534.5,371.2L534.8,374.6M538.4,371.2L541.9,370.6M538.4,371.2L538.1,373.6M541.9,370.6L541.5,374.4M443.1,375.1L447.8,374.0M443.1,375.1L443.2,377.2M447.8,374.0L451.0,374.7M447.8,374.0L447.0,377.7M451.0,374.7L454.5,375.3M451.0,374.7L451.9,378.0M454.5,375.3L458.6,374.1M454.5,375.3L455.2,378.5M458.6,374.1L461.2,374.7M458.6,374.1L458.2,377.6M461.2,374.7L464.3,375.4M461.2,374.7L461.3,377.6M464.3,375.4L467.6,374.5M464.3,375.4L465.3,378.7M467.6,374.5L471.5,374.6M467.6,374.5L469.1,377.6M471.5,374.6L474.6,373.9M471.5,374.6L471.3,377.0M471.5,374.6L475.7,377.5M474.6,373.9L480.0,375.1M474.6,373.9L475.7,377.5M480.0,375.1L481.9,374.4M480.0,375.1L478.0,377.6M481.9,374.4L485.1,373.7M481.9,374.4L482.0,377.4M481.9,374.4L486.3,378.2M485.1,373.7L488.9,375.5M485.1,373.7L486.3,378.2M488.9,375.5L492.6,374.0M488.9,375.5L489.1,378.5M488.9,375.5L492.4,378.8M492.6,374.0L495.6,373.7M492.6,374.0L492.4,378.8M495.6,373.7L501.0,375.0M495.6,373.7L495.7,378.2M501.0,375.0L504.3,375.2M501.0,375.0L500.4,378.5M504.3,375.2L507.6,374.0M504.3,375.2L503.5,378.7M504.3,375.2L507.3,378.4M507.6,374.0L509.8,374.0M507.6,374.0L507.3,378.4M509.8,374.0L513.1,373.9M509.8,374.0L509.7,377.4M513.1,373.9L517.9,374.5M513.1,373.9L513.9,378.1M517.9,374.5L520.0,374.1M517.9,374.5L516.7,378.5M517.9,374.5L520.7,378.0M520.0,374.1L525.2,375.2M520.0,374.1L520.7,378.0M525.2,375.2L528.5,375.0M525.2,375.2L524.5,378.7M525.2,375.2L527.6,378.1M528.5,375.0L532.3,374.6M528.5,375.0L527.6,378.1M532.3,374.6L534.8,374.6M532.3,374.6L531.7,378.3M532.3,374.6L534.6,377.6M534.8,374.6L538.1,373.6M534.8,374.6L534.6,377.6M538.1,373.6L541.5,374.4M538.1,373.6L538.4,378.2M538.1,373.6L542.3,377.3M541.5,374.4L542.3,377.3M443.2,377.2L447.0,377.7M443.2,377.2L443.9,381.6M443.2,377.2L446.9,380.7M447.0,377.7L451.9,378.0M447.0,377.7L446.9,380.7M451.9,378.0L455.2,378.5M451.9,378.0L451.9,380.5M451.9,378.0L454.5,381.1M455.2,378.5L458.2,377.6M455.2,378.5L454.5,381.1M455.2,378.5L457.1,381.0M458.2,377.6L461.3,377.6M458.2,377.6L457.1,381.0M458.2,377.6L460.8,381.3M461.3,377.6L465.3,378.7M461.3,377.6L460.8,381.3M461.3,377.6L465.8,380.7M465.3,378.7L469.1,377.6M465.3,378.7L465.8,380.7M465.3,378.7L468.2,381.9M469.1,377.6L471.3,377.0M469.1,377.6L468.2,381.9M471.3,377.0L475.7,377.5M471.3,377.0L472.2,380.5M471.3,377.0L475.0,381.1M475.7,377.5L478.0,377.6M475.7,377.5L475.0,381.1M478.0,377.6L482.0,377.4M478.0,377.6L479.8,381.4M482.0,377.4L486.3,378.2M482.0,377.4L482.0,381.5M482.0,377.4L486.0,380.8M486.3,378.2L489.1,378.5M486.3,378.2L486.0,380.8M489.1,378.5L492.4,378.8M489.1,378.5L489.8,381.9M492.4,378.8L495.7,378.2M492.4,378.8L493.0,381.6M492.4,378.8L497.0,382.4M495.7,378.2L500.4,378.5M495.7,378.2L497.0,382.4M500.4,378.5L503.5,378.7M500.4,378.5L500.2,380.6M500.4,378.5L503.5,381.8M503.5,378.7L507.3,378.4M503.5,378.7L503.5,381.8M503.5,378.7L506.7,381.9M507.3,378.4L509.7,377.4M507.3,378.4L506.7,381.9M509.7,377.4L513.9,378.1M509.7,377.4L510.2,381.7M513.9,378.1L516.7,378.5M513.9,378.1L514.2,381.8M513.9,378.1L518.4,381.9M516.7,378.5L520.7,378.0M516.7,378.5L518.4,381.9M520.7,378.0L524.5,378.7M520.7,378.0L521.4,381.9M524.5,378.7L527.6,378.1M524.5,378.7L524.0,381.7M524.5,378.7L528.2,380.6M527.6,378.1L531.7,378.3M527.6,378.1L528.2,380.6M527.6,378.1L532.0,381.0M531.7,378.3L534.6,377.6M531.7,378.3L532.0,381.0M531.7,378.3L535.0,381.5M534.6,377.6L538.4,378.2M534.6,377.6L535.0,381.5M538.4,378.2L542.3,377.3M538.4,378.2L538.9,382.0M538.4,378.2L541.9,382.4M542.3,377.3L541.9,382.4M443.9,381.6L446.9,380.7M443.9,381.6L443.9,385.1M446.9,380.7L451.9,380.5M446.9,380.7L448.5,384.6M451.9,380.5L454.5,381.1M451.9,380.5L451.4,385.9M454.5,381.1L457.1,381.0M454.5,381.1L453.7,385.6M454.5,381.1L458.3,385.1M457.1,381.0L460.8,381.3M457.1,381.0L458.3,385.1M460.8,381.3L465.8,380.7M460.8,381.3L462.1,385.7M460.8,381.3L464.3,385.0M465.8,380.7L468.2,381.9M465.8,380.7L464.3,385.0M468.2,381.9L472.2,380.5M468.2,381.9L468.7,385.4M472.2,380.5L475.0,381.1M472.2,380.5L472.9,385.6M475.0,381.1L479.8,381.4M475.0,381.1L476.2,384.1M479.8,381.4L482.0,381.5M479.8,381.4L478.9,385.8M482.0,381.5L486.0,380.8M482.0,381.5L483.4,385.5M486.0,380.8L489.8,381.9M486.0,380.8L485.7,385.5M489.8,381.9L493.0,381.6M489.8,381.9L489.6,385.3M489.8,381.9L493.3,385.7M493.0,381.6L497.0,382.4M493.0,381.6L493.3,385.7M497.0,382.4L500.2,380.6M497.0,382.4L496.9,385.9M497.0,382.4L500.0,385.0M500.2,380.6L503.5,381.8M500.2,380.6L500.0,385.0M500.2,380.6L503.8,385.1M503.5,381.8L506.7,381.9M503.5,381.8L503.8,385.1M506.7,381.9L510.2,381.7M506.7,381.9L506.1,385.9M510.2,381.7L514.2,381.8M510.2,381.7L510.1,385.0M510.2,381.7L513.1,384.4M514.2,381.8L518.4,381.9M514.2,381.8L513.1,384.4M518.4,381.9L521.4,381.9M518.4,381.9L518.4,384.6M521.4,381.9L524.0,381.7M521.4,381.9L520.6,385.6M524.0,381.7L528.2,380.6M524.0,381.7L524.0,385.3M528.2,380.6L532.0,381.0M528.2,380.6L528.1,385.8M532.0,381.0L535.0,381.5M532.0,381.0L531.5,384.7M535.0,381.5L538.9,382.0M535.0,381.5L534.5,384.7M538.9,382.0L541.9,382.4M538.9,382.0L537.5,384.2M541.9,382.4L541.3,384.6M443.9,385.1L448.5,384.6M443.9,385.1L444.5,389.4M448.5,384.6L451.4,385.9M448.5,384.6L447.2,388.0M448.5,384.6L450.6,388.8M451.4,385.9L453.7,385.6M451.4,385.9L450.6,388.8M453.7,385.6L458.3,385.1M453.7,385.6L454.5,387.7M458.3,385.1L462.1,385.7M458.3,385.1L458.0,388.0M462.1,385.7L464.3,385.0M462.1,385.7L460.8,389.1M462.1,385.7L464.2,388.4M464.3,385.0L468.7,385.4M464.3,385.0L464.2,388.4M468.7,385.4L472.9,385.6M468.7,385.4L469.0,388.6M468.7,385.4L472.7,388.1M472.9,385.6L476.2,384.1M472.9,385.6L472.7,388.1M476.2,384.1L478.9,385.8M476.2,384.1L476.4,387.6M478.9,385.8L483.4,385.5M478.9,385.8L479.8,388.3M478.9,385.8L481.5,388.0M483.4,385.5L485.7,385.5M483.4,385.5L481.5,388.0M483.4,385.5L487.0,388.9M485.7,385.5L489.6,385.3M485.7,385.5L487.0,388.9M489.6,385.3L493.3,385.7M489.6,385.3L490.0,389.1M493.3,385.7L496.9,385.9M493.3,385.7L492.0,388.1M496.9,385.9L500.0,385.0M496.9,385.9L496.4,389.3M500.0,385.0L503.8,385.1M500.0,385.0L500.8,387.8M503.8,385.1L506.1,385.9M503.8,385.1L504.5,388.6M506.1,385.9L510.1,385.0M506.1,385.9L506.6,387.7M506.1,385.9L510.4,388.5M510.1,385.0L513.1,384.4M510.1,385.0L510.4,388.5M510.1,385.0L513.9,388.1M513.1,384.4L518.4,384.6M513.1,384.4L513.9,388.1M513.1,384.4L518.4,388.5M518.4,384.6L520.6,385.6M518.4,384.6L518.4,388.5M520.6,385.6L524.0,385.3M520.6,385.6L520.6,389.1M520.6,385.6L524.0,388.3M524.0,385.3L528.1,385.8M524.0,385.3L524.0,388.3M524.0,385.3L527.2,388.0M528.1,385.8L531.5,384.7M528.1,385.8L527.2,388.0M528.1,385.8L532.5,388.7M531.5,384.7L534.5,384.7M531.5,384.7L532.5,388.7M534.5,384.7L537.5,384.2M534.5,384.7L535.0,388.8M534.5,384.7L538.8,388.5M537.5,384.2L541.3,384.6M537.5,384.2L538.8,388.5M537.5,384.2L541.7,387.8M541.3,384.6L541.7,387.8M444.5,389.4L447.2,388.0M447.2,388.0L450.6,388.8M450.6,388.8L454.5,387.7M454.5,387.7L458.0,388.0M458.0,388.0L460.8,389.1M460.8,389.1L464.2,388.4M464.2,388.4L469.0,388.6M469.0,388.6L472.7,388.1M472.7,388.1L476.4,387.6M476.4,387.6L479.8,388.3M479.8,388.3L481.5,388.0M481.5,388.0L487.0,388.9M487.0,388.9L490.0,389.1M490.0,389.1L492.0,388.1M492.0,388.1L496.4,389.3M496.4,389.3L500.8,387.8M500.8,387.8L504.5,388.6M504.5,388.6L506.6,387.7M506.6,387.7L510.4,388.5M510.4,388.5L513.9,388.1M513.9,388.1L518.4,388.5M518.4,388.5L520.6,389.1M520.6,389.1L524.0,388.3M524.0,388.3L527.2,388.0M527.2,388.0L532.5,388.7M532.5,388.7L535.0,388.8M535.0,388.8L538.8,388.5M538.8,388.5L541.7,387.8" stroke="#4a4a4a" stroke-width="0.3" fill="none" clip-path="url(#mb1)" opacity="1.0"/>
<path d="M448.0,298.0 C450.3,294.5 456.7,292.0 462.0,291.0 C467.3,290.0 474.3,290.8 480.0,292.0 C485.7,293.2 492.0,295.7 496.0,298.0 C500.0,300.3 503.3,302.7 504.0,306.0 C504.7,309.3 502.0,314.3 500.0,318.0 C498.0,321.7 493.0,323.7 492.0,328.0 C491.0,332.3 491.0,341.0 494.0,344.0 C497.0,347.0 504.7,345.3 510.0,346.0 C515.3,346.7 521.7,346.0 526.0,348.0 C530.3,350.0 534.3,353.8 536.0,358.0 C537.7,362.2 538.3,369.3 536.0,373.0 C533.7,376.7 527.3,378.5 522.0,380.0 C516.7,381.5 509.7,382.8 504.0,382.0 C498.3,381.2 492.3,378.2 488.0,375.0 C483.7,371.8 481.0,367.2 478.0,363.0 C475.0,358.8 471.8,354.5 470.0,350.0 C468.2,345.5 469.0,340.7 467.0,336.0 C465.0,331.3 461.2,326.0 458.0,322.0 C454.8,318.0 449.7,316.0 448.0,312.0 C446.3,308.0 445.7,301.5 448.0,298.0Z" fill="none" stroke="#777" stroke-width="0.5" opacity="1.0"/>
<clipPath id="mb2"><path d="M547.0,292.0 C548.7,289.2 552.8,288.5 556.0,288.0 C559.2,287.5 563.0,287.8 566.0,289.0 C569.0,290.2 572.0,292.3 574.0,295.0 C576.0,297.7 576.2,301.2 578.0,305.0 C579.8,308.8 583.3,313.8 585.0,318.0 C586.7,322.2 588.3,326.3 588.0,330.0 C587.7,333.7 586.0,338.0 583.0,340.0 C580.0,342.0 573.8,343.0 570.0,342.0 C566.2,341.0 563.0,337.3 560.0,334.0 C557.0,330.7 554.3,326.8 552.0,322.0 C549.7,317.2 546.8,310.0 546.0,305.0 C545.2,300.0 545.3,294.8 547.0,292.0Z"/></clipPath>
<path d="M547.0,292.0 C548.7,289.2 552.8,288.5 556.0,288.0 C559.2,287.5 563.0,287.8 566.0,289.0 C569.0,290.2 572.0,292.3 574.0,295.0 C576.0,297.7 576.2,301.2 578.0,305.0 C579.8,308.8 583.3,313.8 585.0,318.0 C586.7,322.2 588.3,326.3 588.0,330.0 C587.7,333.7 586.0,338.0 583.0,340.0 C580.0,342.0 573.8,343.0 570.0,342.0 C566.2,341.0 563.0,337.3 560.0,334.0 C557.0,330.7 554.3,326.8 552.0,322.0 C549.7,317.2 546.8,310.0 546.0,305.0 C545.2,300.0 545.3,294.8 547.0,292.0Z" fill="#ffffff" stroke="none" opacity="0.6"/>
<path d="M542.2,284.4L544.6,284.2M542.2,284.4L542.0,287.7M544.6,284.2L549.1,284.1M544.6,284.2L545.4,287.0M549.1,284.1L552.5,284.6M549.1,284.1L549.6,288.3M552.5,284.6L556.6,284.7M552.5,284.6L551.6,286.6M552.5,284.6L555.9,286.7M556.6,284.7L559.2,283.1M556.6,284.7L555.9,286.7M559.2,283.1L562.9,283.1M559.2,283.1L559.4,287.2M559.2,283.1L562.5,288.1M562.9,283.1L566.8,284.0M562.9,283.1L562.5,288.1M566.8,284.0L570.5,284.7M566.8,284.0L566.7,288.3M570.5,284.7L574.0,284.4M570.5,284.7L569.4,287.3M574.0,284.4L576.7,284.5M574.0,284.4L573.7,288.0M574.0,284.4L576.9,286.9M576.7,284.5L580.8,283.4M576.7,284.5L576.9,286.9M580.8,283.4L584.7,283.9M580.8,283.4L580.3,287.6M584.7,283.9L587.6,283.4M584.7,283.9L584.9,287.8M587.6,283.4L591.7,283.9M587.6,283.4L588.2,288.2M591.7,283.9L595.0,284.7M591.7,283.9L590.9,287.5M595.0,284.7L595.2,287.9M542.0,287.7L545.4,287.0M542.0,287.7L541.8,290.4M545.4,287.0L549.6,288.3M545.4,287.0L546.0,290.6M549.6,288.3L551.6,286.6M549.6,288.3L548.5,290.5M551.6,286.6L555.9,286.7M551.6,286.6L552.9,291.3M551.6,286.6L556.9,291.2M555.9,286.7L559.4,287.2M555.9,286.7L556.9,291.2M559.4,287.2L562.5,288.1M559.4,287.2L559.5,291.8M562.5,288.1L566.7,288.3M562.5,288.1L562.3,291.2M562.5,288.1L567.5,290.7M566.7,288.3L569.4,287.3M566.7,288.3L567.5,290.7M569.4,287.3L573.7,288.0M569.4,287.3L569.3,290.2M573.7,288.0L576.9,286.9M573.7,288.0L572.6,291.5M573.7,288.0L576.8,291.6M576.9,286.9L580.3,287.6M576.9,286.9L576.8,291.6M576.9,286.9L581.2,290.1M580.3,287.6L584.9,287.8M580.3,287.6L581.2,290.1M584.9,287.8L588.2,288.2M584.9,287.8L583.6,290.5M588.2,288.2L590.9,287.5M588.2,288.2L587.0,290.1M590.9,287.5L595.2,287.9M590.9,287.5L590.5,290.7M590.9,287.5L594.4,291.1M595.2,287.9L594.4,291.1M541.8,290.4L546.0,290.6M541.8,290.4L543.0,293.7M546.0,290.6L548.5,290.5M546.0,290.6L544.8,295.3M548.5,290.5L552.9,291.3M548.5,290.5L548.6,294.6M552.9,291.3L556.9,291.2M552.9,291.3L552.1,295.3M552.9,291.3L556.9,294.6M556.9,291.2L559.5,291.8M556.9,291.2L556.9,294.6M556.9,291.2L558.7,294.2M559.5,291.8L562.3,291.2M559.5,291.8L558.7,294.2M559.5,291.8L563.4,294.6M562.3,291.2L567.5,290.7M562.3,291.2L563.4,294.6M567.5,290.7L569.3,290.2M567.5,290.7L566.1,294.3M567.5,290.7L569.1,294.3M569.3,290.2L572.6,291.5M569.3,290.2L569.1,294.3M569.3,290.2L574.1,294.3M572.6,291.5L576.8,291.6M572.6,291.5L574.1,294.3M572.6,291.5L576.9,293.8M576.8,291.6L581.2,290.1M576.8,291.6L576.9,293.8M576.8,291.6L580.9,294.3M581.2,290.1L583.6,290.5M581.2,290.1L580.9,294.3M581.2,290.1L583.8,295.0M583.6,290.5L587.0,290.1M583.6,290.5L583.8,295.0M583.6,290.5L587.1,293.7M587.0,290.1L590.5,290.7M587.0,290.1L587.1,293.7M590.5,290.7L594.4,291.1M590.5,290.7L591.3,295.0M594.4,291.1L593.6,294.2M543.0,293.7L544.8,295.3M543.0,293.7L542.8,298.0M544.8,295.3L548.6,294.6M544.8,295.3L545.3,297.3M548.6,294.6L552.1,295.3M548.6,294.6L548.6,298.2M552.1,295.3L556.9,294.6M552.1,295.3L553.3,298.3M556.9,294.6L558.7,294.2M556.9,294.6L556.9,297.8M558.7,294.2L563.4,294.6M558.7,294.2L558.6,297.7M563.4,294.6L566.1,294.3M563.4,294.6L562.7,297.1M566.1,294.3L569.1,294.3M566.1,294.3L565.7,298.8M569.1,294.3L574.1,294.3M569.1,294.3L570.8,297.3M569.1,294.3L572.7,299.0M574.1,294.3L576.9,293.8M574.1,294.3L572.7,299.0M576.9,293.8L580.9,294.3M576.9,293.8L576.3,297.6M576.9,293.8L580.0,297.4M580.9,294.3L583.8,295.0M580.9,294.3L580.0,297.4M583.8,295.0L587.1,293.7M583.8,295.0L583.1,297.9M583.8,295.0L588.1,297.1M587.1,293.7L591.3,295.0M587.1,293.7L588.1,297.1M591.3,295.0L593.6,294.2M591.3,295.0L591.0,297.3M591.3,295.0L595.1,298.8M593.6,294.2L595.1,298.8M542.8,298.0L545.3,297.3M542.8,298.0L542.7,301.6M542.8,298.0L544.8,301.9M545.3,297.3L548.6,298.2M545.3,297.3L544.8,301.9M548.6,298.2L553.3,298.3M548.6,298.2L548.1,302.1M553.3,298.3L556.9,297.8M553.3,298.3L552.1,302.3M553.3,298.3L555.6,302.0M556.9,297.8L558.6,297.7M556.9,297.8L555.6,302.0M556.9,297.8L559.5,301.0M558.6,297.7L562.7,297.1M558.6,297.7L559.5,301.0M562.7,297.1L565.7,298.8M562.7,297.1L563.0,301.4M562.7,297.1L565.8,301.6M565.7,298.8L570.8,297.3M565.7,298.8L565.8,301.6M570.8,297.3L572.7,299.0M570.8,297.3L570.1,301.9M572.7,299.0L576.3,297.6M572.7,299.0L573.2,301.7M576.3,297.6L580.0,297.4M576.3,297.6L576.4,301.5M580.0,297.4L583.1,297.9M580.0,297.4L580.0,302.1M580.0,297.4L583.4,301.1M583.1,297.9L588.1,297.1M583.1,297.9L583.4,301.1M588.1,297.1L591.0,297.3M588.1,297.1L586.6,301.1M591.0,297.3L595.1,298.8M591.0,297.3L591.1,301.0M595.1,298.8L593.7,302.3M542.7,301.6L544.8,301.9M542.7,301.6L541.6,304.4M544.8,301.9L548.1,302.1M544.8,301.9L545.3,305.7M548.1,302.1L552.1,302.3M548.1,302.1L549.5,305.8M552.1,302.3L555.6,302.0M552.1,302.3L552.6,304.7M552.1,302.3L556.0,304.1M555.6,302.0L559.5,301.0M555.6,302.0L556.0,304.1M559.5,301.0L563.0,301.4M559.5,301.0L559.9,305.7M563.0,301.4L565.8,301.6M563.0,301.4L563.8,305.7M565.8,301.6L570.1,301.9M565.8,301.6L566.8,305.6M570.1,301.9L573.2,301.7M570.1,301.9L569.6,305.1M573.2,301.7L576.4,301.5M573.2,301.7L572.8,305.9M576.4,301.5L580.0,302.1M576.4,301.5L577.0,304.4M580.0,302.1L583.4,301.1M580.0,302.1L581.5,305.2M583.4,301.1L586.6,301.1M583.4,301.1L583.4,305.7M583.4,301.1L587.8,305.2M586.6,301.1L591.1,301.0M586.6,301.1L587.8,305.2M591.1,301.0L593.7,302.3M591.1,301.0L591.8,304.6M593.7,302.3L594.1,305.1M541.6,304.4L545.3,305.7M541.6,304.4L541.4,308.9M545.3,305.7L549.5,305.8M545.3,305.7L545.5,307.9M549.5,305.8L552.6,304.7M549.5,305.8L548.2,307.8M549.5,305.8L552.7,309.3M552.6,304.7L556.0,304.1M552.6,304.7L552.7,309.3M552.6,304.7L556.6,309.2M556.0,304.1L559.9,305.7M556.0,304.1L556.6,309.2M556.0,304.1L559.6,309.1M559.9,305.7L563.8,305.7M559.9,305.7L559.6,309.1M563.8,305.7L566.8,305.6M563.8,305.7L562.7,308.2M566.8,305.6L569.6,305.1M566.8,305.6L567.3,308.0M569.6,305.1L572.8,305.9M569.6,305.1L570.2,308.6M572.8,305.9L577.0,304.4M572.8,305.9L572.6,308.6M577.0,304.4L581.5,305.2M577.0,304.4L577.6,309.3M581.5,305.2L583.4,305.7M581.5,305.2L580.3,309.3M583.4,305.7L587.8,305.2M583.4,305.7L583.1,309.3M587.8,305.2L591.8,304.6M587.8,305.2L587.9,309.1M587.8,305.2L590.9,308.7M591.8,304.6L594.1,305.1M591.8,304.6L590.9,308.7M594.1,305.1L595.2,307.9M541.4,308.9L545.5,307.9M541.4,308.9L541.4,312.5M541.4,308.9L546.3,311.5M545.5,307.9L548.2,307.8M545.5,307.9L546.3,311.5M548.2,307.8L552.7,309.3M548.2,307.8L549.1,312.0M552.7,309.3L556.6,309.2M552.7,309.3L552.1,312.7M552.7,309.3L555.6,312.6M556.6,309.2L559.6,309.1M556.6,309.2L555.6,312.6M559.6,309.1L562.7,308.2M559.6,309.1L559.3,311.3M559.6,309.1L563.9,311.3M562.7,308.2L567.3,308.0M562.7,308.2L563.9,311.3M567.3,308.0L570.2,308.6M567.3,308.0L565.7,311.1M567.3,308.0L569.7,311.1M570.2,308.6L572.6,308.6M570.2,308.6L569.7,311.1M570.2,308.6L572.8,312.9M572.6,308.6L577.6,309.3M572.6,308.6L572.8,312.9M577.6,309.3L580.3,309.3M577.6,309.3L576.5,312.4M580.3,309.3L583.1,309.3M580.3,309.3L579.9,311.0M583.1,309.3L587.9,309.1M583.1,309.3L583.0,311.2M587.9,309.1L590.9,308.7M587.9,309.1L588.4,311.9M590.9,308.7L595.2,307.9M590.9,308.7L590.5,311.1M590.9,308.7L594.8,311.6M595.2,307.9L594.8,311.6M541.4,312.5L546.3,311.5M541.4,312.5L541.4,315.4M546.3,311.5L549.1,312.0M546.3,311.5L545.9,315.2M546.3,311.5L549.1,314.9M549.1,312.0L552.1,312.7M549.1,312.0L549.1,314.9M552.1,312.7L555.6,312.6M552.1,312.7L552.6,314.6M552.1,312.7L556.8,316.4M555.6,312.6L559.3,311.3M555.6,312.6L556.8,316.4M555.6,312.6L559.7,315.4M559.3,311.3L563.9,311.3M559.3,311.3L559.7,315.4M563.9,311.3L565.7,311.1M563.9,311.3L562.8,316.0M565.7,311.1L569.7,311.1M565.7,311.1L566.7,315.9M569.7,311.1L572.8,312.9M569.7,311.1L569.9,315.3M572.8,312.9L576.5,312.4M572.8,312.9L573.9,314.9M572.8,312.9L576.7,315.0M576.5,312.4L579.9,311.0M576.5,312.4L576.7,315.0M579.9,311.0L583.0,311.2M579.9,311.0L579.9,316.2M583.0,311.2L588.4,311.9M583.0,311.2L583.6,316.0M583.0,311.2L586.6,316.3M588.4,311.9L590.5,311.1M588.4,311.9L586.6,316.3M590.5,311.1L594.8,311.6M590.5,311.1L590.9,316.0M594.8,311.6L593.7,315.7M541.4,315.4L545.9,315.2M541.4,315.4L542.6,318.6M545.9,315.2L549.1,314.9M545.9,315.2L544.7,318.8M549.1,314.9L552.6,314.6M549.1,314.9L549.5,319.5M549.1,314.9L551.6,318.6M552.6,314.6L556.8,316.4M552.6,314.6L551.6,318.6M556.8,316.4L559.7,315.4M556.8,316.4L556.8,318.6M559.7,315.4L562.8,316.0M559.7,315.4L558.7,319.7M562.8,316.0L566.7,315.9M562.8,316.0L563.6,318.9M566.7,315.9L569.9,315.3M566.7,315.9L566.9,319.5M569.9,315.3L573.9,314.9M569.9,315.3L570.7,318.4M573.9,314.9L576.7,315.0M573.9,314.9L574.0,319.8M573.9,314.9L577.6,319.0M576.7,315.0L579.9,316.2M576.7,315.0L577.6,319.0M576.7,315.0L580.3,320.0M579.9,316.2L583.6,316.0M579.9,316.2L580.3,320.0M579.9,316.2L585.0,319.6M583.6,316.0L586.6,316.3M583.6,316.0L585.0,319.6M583.6,316.0L587.5,319.8M586.6,316.3L590.9,316.0M586.6,316.3L587.5,319.8M586.6,316.3L591.7,319.0M590.9,316.0L593.7,315.7M590.9,316.0L591.7,319.0M590.9,316.0L593.8,319.2M593.7,315.7L593.8,319.2M542.6,318.6L544.7,318.8M542.6,318.6L541.3,322.2M544.7,318.8L549.5,319.5M544.7,318.8L545.6,322.5M549.5,319.5L551.6,318.6M549.5,319.5L549.3,323.1M551.6,318.6L556.8,318.6M551.6,318.6L553.4,322.1M556.8,318.6L558.7,319.7M556.8,318.6L556.9,322.1M556.8,318.6L559.2,323.0M558.7,319.7L563.6,318.9M558.7,319.7L559.2,323.0M563.6,318.9L566.9,319.5M563.6,318.9L564.0,322.5M566.9,319.5L570.7,318.4M566.9,319.5L567.1,323.2M570.7,318.4L574.0,319.8M570.7,318.4L569.6,322.7M570.7,318.4L574.4,321.5M574.0,319.8L577.6,319.0M574.0,319.8L574.4,321.5M574.0,319.8L576.2,323.2M577.6,319.0L580.3,320.0M577.6,319.0L576.2,323.2M577.6,319.0L580.6,322.3M580.3,320.0L585.0,319.6M580.3,320.0L580.6,322.3M585.0,319.6L587.5,319.8M585.0,319.6L584.6,322.4M585.0,319.6L586.8,322.2M587.5,319.8L591.7,319.0M587.5,319.8L586.8,322.2M591.7,319.0L593.8,319.2M591.7,319.0L591.5,322.8M593.8,319.2L594.5,321.5M541.3,322.2L545.6,322.5M541.3,322.2L543.0,325.2M545.6,322.5L549.3,323.1M545.6,322.5L545.1,326.6M545.6,322.5L549.9,326.4M549.3,323.1L553.4,322.1M549.3,323.1L549.9,326.4M553.4,322.1L556.9,322.1M553.4,322.1L552.3,326.5M556.9,322.1L559.2,323.0M556.9,322.1L556.3,326.2M559.2,323.0L564.0,322.5M559.2,323.0L560.1,326.1M564.0,322.5L567.1,323.2M564.0,322.5L563.1,325.5M567.1,323.2L569.6,322.7M567.1,323.2L567.1,325.2M569.6,322.7L574.4,321.5M569.6,322.7L569.2,326.3M569.6,322.7L572.6,326.7M574.4,321.5L576.2,323.2M574.4,321.5L572.6,326.7M574.4,321.5L576.4,325.9M576.2,323.2L580.6,322.3M576.2,323.2L576.4,325.9M576.2,323.2L580.0,326.0M580.6,322.3L584.6,322.4M580.6,322.3L580.0,326.0M580.6,322.3L584.2,325.4M584.6,322.4L586.8,322.2M584.6,322.4L584.2,325.4M586.8,322.2L591.5,322.8M586.8,322.2L587.6,326.9M591.5,322.8L594.5,321.5M591.5,322.8L590.3,325.4M591.5,322.8L593.9,325.2M594.5,321.5L593.9,325.2M543.0,325.2L545.1,326.6M543.0,325.2L541.0,330.4M543.0,325.2L546.4,328.6M545.1,326.6L549.9,326.4M545.1,326.6L546.4,328.6M545.1,326.6L549.7,329.7M549.9,326.4L552.3,326.5M549.9,326.4L549.7,329.7M552.3,326.5L556.3,326.2M552.3,326.5L551.9,330.3M556.3,326.2L560.1,326.1M556.3,326.2L555.2,329.8M560.1,326.1L563.1,325.5M560.1,326.1L559.8,329.9M563.1,325.5L567.1,325.2M563.1,325.5L562.5,328.8M563.1,325.5L566.8,329.1M567.1,325.2L569.2,326.3M567.1,325.2L566.8,329.1M569.2,326.3L572.6,326.7M569.2,326.3L570.2,330.0M569.2,326.3L572.6,330.0M572.6,326.7L576.4,325.9M572.6,326.7L572.6,330.0M576.4,325.9L580.0,326.0M576.4,325.9L578.0,329.3M580.0,326.0L584.2,325.4M580.0,326.0L580.6,329.2M580.0,326.0L584.8,328.9M584.2,325.4L587.6,326.9M584.2,325.4L584.8,328.9M587.6,326.9L590.3,325.4M587.6,326.9L586.7,329.5M587.6,326.9L590.9,329.6M590.3,325.4L593.9,325.2M590.3,325.4L590.9,329.6M593.9,325.2L593.9,330.4M541.0,330.4L546.4,328.6M541.0,330.4L542.1,332.8M541.0,330.4L546.0,332.1M546.4,328.6L549.7,329.7M546.4,328.6L546.0,332.1M549.7,329.7L551.9,330.3M549.7,329.7L549.8,333.7M549.7,329.7L552.0,332.9M551.9,330.3L555.2,329.8M551.9,330.3L552.0,332.9M551.9,330.3L555.1,333.6M555.2,329.8L559.8,329.9M555.2,329.8L555.1,333.6M559.8,329.9L562.5,328.8M559.8,329.9L560.4,333.2M562.5,328.8L566.8,329.1M562.5,328.8L564.0,332.9M566.8,329.1L570.2,330.0M566.8,329.1L567.2,333.7M566.8,329.1L570.9,332.9M570.2,330.0L572.6,330.0M570.2,330.0L570.9,332.9M572.6,330.0L578.0,329.3M572.6,330.0L573.5,332.1M572.6,330.0L577.9,332.2M578.0,329.3L580.6,329.2M578.0,329.3L577.9,332.2M580.6,329.2L584.8,328.9M580.6,329.2L580.7,333.2M580.6,329.2L583.3,332.7M584.8,328.9L586.7,329.5M584.8,328.9L583.3,332.7M584.8,328.9L587.1,332.0M586.7,329.5L590.9,329.6M586.7,329.5L587.1,332.0M590.9,329.6L593.9,330.4M590.9,329.6L590.8,332.8M590.9,329.6L594.9,333.4M593.9,330.4L594.9,333.4M542.1,332.8L546.0,332.1M542.1,332.8L542.9,337.2M542.1,332.8L545.0,336.7M546.0,332.1L549.8,333.7M546.0,332.1L545.0,336.7M546.0,332.1L549.4,337.1M549.8,333.7L552.0,332.9M549.8,333.7L549.4,337.1M549.8,333.7L551.8,336.2M552.0,332.9L555.1,333.6M552.0,332.9L551.8,336.2M555.1,333.6L560.4,333.2M555.1,333.6L556.2,336.1M560.4,333.2L564.0,332.9M560.4,333.2L560.3,336.3M560.4,333.2L563.4,335.6M564.0,332.9L567.2,333.7M564.0,332.9L563.4,335.6M567.2,333.7L570.9,332.9M567.2,333.7L567.3,337.4M570.9,332.9L573.5,332.1M570.9,332.9L570.9,336.2M570.9,332.9L574.2,337.5M573.5,332.1L577.9,332.2M573.5,332.1L574.2,337.5M573.5,332.1L576.2,335.6M577.9,332.2L580.7,333.2M577.9,332.2L576.2,335.6M577.9,332.2L580.8,337.5M580.7,333.2L583.3,332.7M580.7,333.2L580.8,337.5M583.3,332.7L587.1,332.0M583.3,332.7L583.1,337.2M587.1,332.0L590.8,332.8M587.1,332.0L587.8,336.5M590.8,332.8L594.9,333.4M590.8,332.8L590.3,336.5M590.8,332.8L594.5,335.9M594.9,333.4L594.5,335.9M542.9,337.2L545.0,336.7M542.9,337.2L542.8,340.5M545.0,336.7L549.4,337.1M545.0,336.7L544.8,340.2M549.4,337.1L551.8,336.2M549.4,337.1L549.2,340.9M551.8,336.2L556.2,336.1M551.8,336.2L553.5,340.8M551.8,336.2L555.1,339.8M556.2,336.1L560.3,336.3M556.2,336.1L555.1,339.8M556.2,336.1L558.8,340.5M560.3,336.3L563.4,335.6M560.3,336.3L558.8,340.5M563.4,335.6L567.3,337.4M563.4,335.6L562.2,340.7M563.4,335.6L566.7,340.3M567.3,337.4L570.9,336.2M567.3,337.4L566.7,340.3M570.9,336.2L574.2,337.5M570.9,336.2L570.9,340.7M574.2,337.5L576.2,335.6M574.2,337.5L574.0,340.3M574.2,337.5L577.1,340.0M576.2,335.6L580.8,337.5M576.2,335.6L577.1,340.0M576.2,335.6L579.6,339.4M580.8,337.5L583.1,337.2M580.8,337.5L579.6,339.4M580.8,337.5L584.4,339.8M583.1,337.2L587.8,336.5M583.1,337.2L584.4,339.8M587.8,336.5L590.3,336.5M587.8,336.5L587.4,340.7M590.3,336.5L594.5,335.9M590.3,336.5L590.8,340.5M594.5,335.9L595.1,340.7M542.8,340.5L544.8,340.2M542.8,340.5L541.5,343.7M544.8,340.2L549.2,340.9M544.8,340.2L545.4,343.7M544.8,340.2L548.2,342.9M549.2,340.9L553.5,340.8M549.2,340.9L548.2,342.9M553.5,340.8L555.1,339.8M553.5,340.8L552.0,344.1M553.5,340.8L556.6,343.3M555.1,339.8L558.8,340.5M555.1,339.8L556.6,343.3M555.1,339.8L559.7,343.4M558.8,340.5L562.2,340.7M558.8,340.5L559.7,343.4M562.2,340.7L566.7,340.3M562.2,340.7L563.1,343.0M562.2,340.7L566.2,344.4M566.7,340.3L570.9,340.7M566.7,340.3L566.2,344.4M570.9,340.7L574.0,340.3M570.9,340.7L570.8,342.7M574.0,340.3L577.1,340.0M574.0,340.3L572.7,344.2M577.1,340.0L579.6,339.4M577.1,340.0L576.9,343.8M577.1,340.0L580.7,343.7M579.6,339.4L584.4,339.8M579.6,339.4L580.7,343.7M584.4,339.8L587.4,340.7M584.4,339.8L584.8,342.8M587.4,340.7L590.8,340.5M587.4,340.7L588.2,343.0M587.4,340.7L590.2,343.1M590.8,340.5L595.1,340.7M590.8,340.5L590.2,343.1M590.8,340.5L594.5,344.1M595.1,340.7L594.5,344.1M541.5,343.7L545.4,343.7M541.5,343.7L542.2,347.9M541.5,343.7L544.9,346.8M545.4,343.7L548.2,342.9M545.4,343.7L544.9,346.8M545.4,343.7L549.1,347.2M548.2,342.9L552.0,344.1M548.2,342.9L549.1,347.2M552.0,344.1L556.6,343.3M552.0,344.1L552.9,347.0M556.6,343.3L559.7,343.4M556.6,343.3L555.2,347.6M559.7,343.4L563.1,343.0M559.7,343.4L560.1,346.1M563.1,343.0L566.2,344.4M563.1,343.0L563.6,346.0M566.2,344.4L570.8,342.7M566.2,344.4L566.9,347.2M570.8,342.7L572.7,344.2M570.8,342.7L569.6,346.2M572.7,344.2L576.9,343.8M572.7,344.2L573.0,347.3M576.9,343.8L580.7,343.7M576.9,343.8L577.1,347.6M580.7,343.7L584.8,342.8M580.7,343.7L579.8,347.2M580.7,343.7L583.6,346.1M584.8,342.8L588.2,343.0M584.8,342.8L583.6,346.1M588.2,343.0L590.2,343.1M588.2,343.0L586.9,346.2M590.2,343.1L594.5,344.1M590.2,343.1L590.3,346.1M594.5,344.1L595.5,346.7M542.2,347.9L544.9,346.8M544.9,346.8L549.1,347.2M549.1,347.2L552.9,347.0M552.9,347.0L555.2,347.6M555.2,347.6L560.1,346.1M560.1,346.1L563.6,346.0M563.6,346.0L566.9,347.2M566.9,347.2L569.6,346.2M569.6,346.2L573.0,347.3M573.0,347.3L577.1,347.6M577.1,347.6L579.8,347.2M579.8,347.2L583.6,346.1M583.6,346.1L586.9,346.2M586.9,346.2L590.3,346.1M590.3,346.1L595.5,346.7" stroke="#4a4a4a" stroke-width="0.3" fill="none" clip-path="url(#mb2)" opacity="1.0"/>
<path d="M547.0,292.0 C548.7,289.2 552.8,288.5 556.0,288.0 C559.2,287.5 563.0,287.8 566.0,289.0 C569.0,290.2 572.0,292.3 574.0,295.0 C576.0,297.7 576.2,301.2 578.0,305.0 C579.8,308.8 583.3,313.8 585.0,318.0 C586.7,322.2 588.3,326.3 588.0,330.0 C587.7,333.7 586.0,338.0 583.0,340.0 C580.0,342.0 573.8,343.0 570.0,342.0 C566.2,341.0 563.0,337.3 560.0,334.0 C557.0,330.7 554.3,326.8 552.0,322.0 C549.7,317.2 546.8,310.0 546.0,305.0 C545.2,300.0 545.3,294.8 547.0,292.0Z" fill="none" stroke="#777" stroke-width="0.5" opacity="1.0"/>
<clipPath id="mb3"><path d="M528.0,330.0 C530.0,326.7 536.0,326.0 540.0,326.0 C544.0,326.0 549.7,327.3 552.0,330.0 C554.3,332.7 554.7,338.3 554.0,342.0 C553.3,345.7 551.0,350.0 548.0,352.0 C545.0,354.0 539.3,355.0 536.0,354.0 C532.7,353.0 529.3,350.0 528.0,346.0 C526.7,342.0 526.0,333.3 528.0,330.0Z"/></clipPath>
<path d="M528.0,330.0 C530.0,326.7 536.0,326.0 540.0,326.0 C544.0,326.0 549.7,327.3 552.0,330.0 C554.3,332.7 554.7,338.3 554.0,342.0 C553.3,345.7 551.0,350.0 548.0,352.0 C545.0,354.0 539.3,355.0 536.0,354.0 C532.7,353.0 529.3,350.0 528.0,346.0 C526.7,342.0 526.0,333.3 528.0,330.0Z" fill="#ffffff" stroke="none" opacity="0.54"/>
<path d="M524.2,322.8L527.7,322.4M524.2,322.8L524.1,326.2M524.2,322.8L528.5,325.4M527.7,322.4L531.8,322.5M527.7,322.4L528.5,325.4M527.7,322.4L530.4,326.3M531.8,322.5L534.4,322.9M531.8,322.5L530.4,326.3M534.4,322.9L538.9,321.2M534.4,322.9L533.7,325.5M534.4,322.9L538.7,324.7M538.9,321.2L542.5,321.3M538.9,321.2L538.7,324.7M542.5,321.3L545.8,322.3M542.5,321.3L541.0,325.8M542.5,321.3L544.2,326.2M545.8,322.3L549.1,321.7M545.8,322.3L544.2,326.2M545.8,322.3L549.0,325.6M549.1,321.7L551.6,321.4M549.1,321.7L549.0,325.6M551.6,321.4L554.7,321.2M551.6,321.4L552.6,324.8M554.7,321.2L558.3,322.6M554.7,321.2L556.2,325.6M558.3,322.6L558.8,326.1M524.1,326.2L528.5,325.4M524.1,326.2L523.9,328.1M524.1,326.2L527.9,328.1M528.5,325.4L530.4,326.3M528.5,325.4L527.9,328.1M528.5,325.4L531.1,328.4M530.4,326.3L533.7,325.5M530.4,326.3L531.1,328.4M533.7,325.5L538.7,324.7M533.7,325.5L534.3,328.8M538.7,324.7L541.0,325.8M538.7,324.7L538.4,329.3M541.0,325.8L544.2,326.2M541.0,325.8L541.2,328.5M544.2,326.2L549.0,325.6M544.2,326.2L545.6,328.1M549.0,325.6L552.6,324.8M549.0,325.6L548.7,329.5M549.0,325.6L552.3,328.1M552.6,324.8L556.2,325.6M552.6,324.8L552.3,328.1M556.2,325.6L558.8,326.1M556.2,325.6L554.7,329.3M556.2,325.6L559.6,329.3M558.8,326.1L559.6,329.3M523.9,328.1L527.9,328.1M523.9,328.1L525.0,332.9M523.9,328.1L527.4,333.4M527.9,328.1L531.1,328.4M527.9,328.1L527.4,333.4M527.9,328.1L530.5,331.7M531.1,328.4L534.3,328.8M531.1,328.4L530.5,331.7M534.3,328.8L538.4,329.3M534.3,328.8L534.3,331.6M538.4,329.3L541.2,328.5M538.4,329.3L538.1,332.6M541.2,328.5L545.6,328.1M541.2,328.5L540.9,332.7M541.2,328.5L544.9,332.9M545.6,328.1L548.7,329.5M545.6,328.1L544.9,332.9M548.7,329.5L552.3,328.1M548.7,329.5L549.1,333.1M548.7,329.5L552.4,331.7M552.3,328.1L554.7,329.3M552.3,328.1L552.4,331.7M554.7,329.3L559.6,329.3M554.7,329.3L555.6,332.8M554.7,329.3L558.4,332.2M559.6,329.3L558.4,332.2M525.0,332.9L527.4,333.4M525.0,332.9L524.0,335.5M527.4,333.4L530.5,331.7M527.4,333.4L526.7,335.6M527.4,333.4L530.8,336.5M530.5,331.7L534.3,331.6M530.5,331.7L530.8,336.5M534.3,331.6L538.1,332.6M534.3,331.6L535.5,336.7M538.1,332.6L540.9,332.7M538.1,332.6L538.8,337.0M538.1,332.6L541.5,336.2M540.9,332.7L544.9,332.9M540.9,332.7L541.5,336.2M540.9,332.7L544.1,336.4M544.9,332.9L549.1,333.1M544.9,332.9L544.1,336.4M549.1,333.1L552.4,331.7M549.1,333.1L549.2,335.7M549.1,333.1L552.2,335.2M552.4,331.7L555.6,332.8M552.4,331.7L552.2,335.2M555.6,332.8L558.4,332.2M555.6,332.8L556.4,335.9M555.6,332.8L558.9,335.4M558.4,332.2L558.9,335.4M524.0,335.5L526.7,335.6M524.0,335.5L524.7,340.4M526.7,335.6L530.8,336.5M526.7,335.6L527.3,339.5M526.7,335.6L530.6,339.9M530.8,336.5L535.5,336.7M530.8,336.5L530.6,339.9M535.5,336.7L538.8,337.0M535.5,336.7L534.7,340.2M535.5,336.7L537.0,339.5M538.8,337.0L541.5,336.2M538.8,337.0L537.0,339.5M541.5,336.2L544.1,336.4M541.5,336.2L542.4,338.5M544.1,336.4L549.2,335.7M544.1,336.4L545.3,339.3M544.1,336.4L547.7,339.1M549.2,335.7L552.2,335.2M549.2,335.7L547.7,339.1M549.2,335.7L552.9,338.9M552.2,335.2L556.4,335.9M552.2,335.2L552.9,338.9M556.4,335.9L558.9,335.4M556.4,335.9L555.4,340.2M558.9,335.4L558.2,338.5M524.7,340.4L527.3,339.5M524.7,340.4L524.2,343.2M527.3,339.5L530.6,339.9M527.3,339.5L526.6,343.7M527.3,339.5L531.5,343.2M530.6,339.9L534.7,340.2M530.6,339.9L531.5,343.2M534.7,340.2L537.0,339.5M534.7,340.2L534.0,343.8M534.7,340.2L537.4,344.0M537.0,339.5L542.4,338.5M537.0,339.5L537.4,344.0M542.4,338.5L545.3,339.3M542.4,338.5L541.6,343.8M545.3,339.3L547.7,339.1M545.3,339.3L545.1,343.2M545.3,339.3L549.4,342.9M547.7,339.1L552.9,338.9M547.7,339.1L549.4,342.9M547.7,339.1L551.6,343.9M552.9,338.9L555.4,340.2M552.9,338.9L551.6,343.9M555.4,340.2L558.2,338.5M555.4,340.2L556.5,342.3M555.4,340.2L559.7,343.5M558.2,338.5L559.7,343.5M524.2,343.2L526.6,343.7M524.2,343.2L523.4,346.0M524.2,343.2L526.6,347.2M526.6,343.7L531.5,343.2M526.6,343.7L526.6,347.2M531.5,343.2L534.0,343.8M531.5,343.2L530.2,347.2M534.0,343.8L537.4,344.0M534.0,343.8L535.1,347.5M537.4,344.0L541.6,343.8M537.4,344.0L537.2,347.1M541.6,343.8L545.1,343.2M541.6,343.8L540.7,345.7M545.1,343.2L549.4,342.9M545.1,343.2L545.7,345.8M549.4,342.9L551.6,343.9M549.4,342.9L549.0,347.5M551.6,343.9L556.5,342.3M551.6,343.9L552.0,346.3M556.5,342.3L559.7,343.5M556.5,342.3L556.3,346.8M556.5,342.3L560.0,346.9M559.7,343.5L560.0,346.9M523.4,346.0L526.6,347.2M523.4,346.0L523.9,349.1M526.6,347.2L530.2,347.2M526.6,347.2L528.3,350.5M526.6,347.2L530.3,350.4M530.2,347.2L535.1,347.5M530.2,347.2L530.3,350.4M535.1,347.5L537.2,347.1M535.1,347.5L534.0,349.9M537.2,347.1L540.7,345.7M537.2,347.1L537.3,349.2M540.7,345.7L545.7,345.8M540.7,345.7L541.4,350.4M540.7,345.7L545.4,350.7M545.7,345.8L549.0,347.5M545.7,345.8L545.4,350.7M545.7,345.8L549.3,350.5M549.0,347.5L552.0,346.3M549.0,347.5L549.3,350.5M552.0,346.3L556.3,346.8M552.0,346.3L551.5,350.5M552.0,346.3L556.0,349.2M556.3,346.8L560.0,346.9M556.3,346.8L556.0,349.2M560.0,346.9L558.0,350.8M523.9,349.1L528.3,350.5M523.9,349.1L523.3,354.2M528.3,350.5L530.3,350.4M528.3,350.5L528.4,353.3M530.3,350.4L534.0,349.9M530.3,350.4L531.1,352.6M530.3,350.4L533.7,354.2M534.0,349.9L537.3,349.2M534.0,349.9L533.7,354.2M537.3,349.2L541.4,350.4M537.3,349.2L538.2,353.0M541.4,350.4L545.4,350.7M541.4,350.4L540.9,352.7M545.4,350.7L549.3,350.5M545.4,350.7L545.5,353.0M549.3,350.5L551.5,350.5M549.3,350.5L547.6,354.1M551.5,350.5L556.0,349.2M551.5,350.5L551.6,352.8M551.5,350.5L555.6,353.2M556.0,349.2L558.0,350.8M556.0,349.2L555.6,353.2M558.0,350.8L559.1,353.4M523.3,354.2L528.4,353.3M523.3,354.2L524.1,356.5M528.4,353.3L531.1,352.6M528.4,353.3L527.5,357.9M531.1,352.6L533.7,354.2M531.1,352.6L530.4,356.8M533.7,354.2L538.2,353.0M533.7,354.2L534.4,356.9M538.2,353.0L540.9,352.7M538.2,353.0L537.7,357.3M540.9,352.7L545.5,353.0M540.9,352.7L542.4,356.3M545.5,353.0L547.6,354.1M545.5,353.0L544.9,358.0M547.6,354.1L551.6,352.8M547.6,354.1L547.5,357.4M551.6,352.8L555.6,353.2M551.6,352.8L551.7,357.0M555.6,353.2L559.1,353.4M555.6,353.2L556.0,356.5M555.6,353.2L558.1,357.3M559.1,353.4L558.1,357.3M524.1,356.5L527.5,357.9M524.1,356.5L525.0,360.4M524.1,356.5L528.4,360.5M527.5,357.9L530.4,356.8M527.5,357.9L528.4,360.5M530.4,356.8L534.4,356.9M530.4,356.8L531.4,360.8M530.4,356.8L535.0,360.8M534.4,356.9L537.7,357.3M534.4,356.9L535.0,360.8M537.7,357.3L542.4,356.3M537.7,357.3L538.4,360.9M542.4,356.3L544.9,358.0M542.4,356.3L541.0,361.3M542.4,356.3L545.2,360.5M544.9,358.0L547.5,357.4M544.9,358.0L545.2,360.5M547.5,357.4L551.7,357.0M547.5,357.4L548.8,360.2M551.7,357.0L556.0,356.5M551.7,357.0L551.5,361.3M551.7,357.0L554.9,360.2M556.0,356.5L558.1,357.3M556.0,356.5L554.9,360.2M556.0,356.5L559.2,360.5M558.1,357.3L559.2,360.5M525.0,360.4L528.4,360.5M528.4,360.5L531.4,360.8M531.4,360.8L535.0,360.8M535.0,360.8L538.4,360.9M538.4,360.9L541.0,361.3M541.0,361.3L545.2,360.5M545.2,360.5L548.8,360.2M548.8,360.2L551.5,361.3M551.5,361.3L554.9,360.2M554.9,360.2L559.2,360.5" stroke="#4a4a4a" stroke-width="0.3" fill="none" clip-path="url(#mb3)" opacity="0.9"/>
<path d="M528.0,330.0 C530.0,326.7 536.0,326.0 540.0,326.0 C544.0,326.0 549.7,327.3 552.0,330.0 C554.3,332.7 554.7,338.3 554.0,342.0 C553.3,345.7 551.0,350.0 548.0,352.0 C545.0,354.0 539.3,355.0 536.0,354.0 C532.7,353.0 529.3,350.0 528.0,346.0 C526.7,342.0 526.0,333.3 528.0,330.0Z" fill="none" stroke="#777" stroke-width="0.5" opacity="0.9"/>
<path d="M495.0,309.0 C495.2,311.2 495.3,317.8 496.0,322.0 C496.7,326.2 497.2,331.0 499.0,334.0 C500.8,337.0 504.2,338.8 507.0,340.0 C509.8,341.2 514.5,340.8 516.0,341.0" fill="none" stroke="#8c0c84" stroke-width="2.5999999999999996"/>
<path d="M495.0,309.0 C495.2,311.2 495.3,317.8 496.0,322.0 C496.7,326.2 497.2,331.0 499.0,334.0 C500.8,337.0 504.2,338.8 507.0,340.0 C509.8,341.2 514.5,340.8 516.0,341.0" fill="none" stroke="#d21fc8" stroke-width="1.9"/>
<path d="M530.0,331.0 C531.7,330.7 537.0,329.5 540.0,329.0 C543.0,328.5 546.7,328.2 548.0,328.0" fill="none" stroke="#8c0c84" stroke-width="2.5999999999999996"/>
<path d="M530.0,331.0 C531.7,330.7 537.0,329.5 540.0,329.0 C543.0,328.5 546.7,328.2 548.0,328.0" fill="none" stroke="#d21fc8" stroke-width="1.9"/>
<path d="M563.0,341.0 C565.0,341.5 571.0,343.5 575.0,344.0 C579.0,344.5 585.0,344.0 587.0,344.0" fill="none" stroke="#8c0c84" stroke-width="2.5999999999999996"/>
<path d="M563.0,341.0 C565.0,341.5 571.0,343.5 575.0,344.0 C579.0,344.5 585.0,344.0 587.0,344.0" fill="none" stroke="#d21fc8" stroke-width="1.9"/>
<path d="M576.0,346.0 C578.3,347.7 586.0,352.3 590.0,356.0 C594.0,359.7 597.2,363.2 600.0,368.0 C602.8,372.8 605.7,379.7 607.0,385.0 C608.3,390.3 608.3,395.0 608.0,400.0 C607.7,405.0 606.0,410.7 605.0,415.0 C604.0,419.3 602.5,424.2 602.0,426.0" fill="none" stroke="#8c0c84" stroke-width="2.5999999999999996"/>
<path d="M576.0,346.0 C578.3,347.7 586.0,352.3 590.0,356.0 C594.0,359.7 597.2,363.2 600.0,368.0 C602.8,372.8 605.7,379.7 607.0,385.0 C608.3,390.3 608.3,395.0 608.0,400.0 C607.7,405.0 606.0,410.7 605.0,415.0 C604.0,419.3 602.5,424.2 602.0,426.0" fill="none" stroke="#d21fc8" stroke-width="1.9"/>
<path d="M436.0,285.0 L440.0,279.0 L452.0,273.0 L458.0,276.0 L455.0,283.0 L443.0,288.0 L436.0,285.0" fill="none" stroke="#5cc0c8" stroke-width="3.30"/>
<path d="M436.0,285.0 L440.0,279.0 L452.0,273.0 L458.0,276.0 L455.0,283.0 L443.0,288.0 L436.0,285.0" fill="none" stroke="#86e8ee" stroke-width="2.40"/>
<path d="M436.0,285.0 L440.0,279.0 L452.0,273.0 L458.0,276.0 L455.0,283.0 L443.0,288.0 L436.0,285.0" fill="none" stroke="#c8fbff" stroke-width="0.72" opacity="0.8"/>
<path d="M452.0,273.0 L466.0,264.0" fill="none" stroke="#5cc0c8" stroke-width="3.30"/>
<path d="M452.0,273.0 L466.0,264.0" fill="none" stroke="#86e8ee" stroke-width="2.40"/>
<path d="M452.0,273.0 L466.0,264.0" fill="none" stroke="#c8fbff" stroke-width="0.72" opacity="0.8"/>
<path d="M466.0,264.0 L468.0,257.0 L476.0,254.0 L482.0,258.0 L481.0,266.0 L473.0,270.0 L466.0,264.0" fill="none" stroke="#5cc0c8" stroke-width="3.30"/>
<path d="M466.0,264.0 L468.0,257.0 L476.0,254.0 L482.0,258.0 L481.0,266.0 L473.0,270.0 L466.0,264.0" fill="none" stroke="#86e8ee" stroke-width="2.40"/>
<path d="M466.0,264.0 L468.0,257.0 L476.0,254.0 L482.0,258.0 L481.0,266.0 L473.0,270.0 L466.0,264.0" fill="none" stroke="#c8fbff" stroke-width="0.72" opacity="0.8"/>
<path d="M478.0,256.0 L482.0,259.0" fill="none" stroke="#7070b8" stroke-width="3.30"/>
<path d="M478.0,256.0 L482.0,259.0" fill="none" stroke="#9090e0" stroke-width="2.40"/>
<path d="M478.0,256.0 L482.0,259.0" fill="none" stroke="#c0c0ff" stroke-width="0.72" opacity="0.8"/>
<path d="M475.0,270.0 L477.0,285.0" fill="none" stroke="#5cc0c8" stroke-width="3.10"/>
<path d="M475.0,270.0 L477.0,285.0" fill="none" stroke="#86e8ee" stroke-width="2.20"/>
<path d="M475.0,270.0 L477.0,285.0" fill="none" stroke="#c8fbff" stroke-width="0.66" opacity="0.8"/>
<path d="M466.0,262.0 L458.0,256.0" fill="none" stroke="#5cc0c8" stroke-width="3.10"/>
<path d="M466.0,262.0 L458.0,256.0" fill="none" stroke="#86e8ee" stroke-width="2.20"/>
<path d="M466.0,262.0 L458.0,256.0" fill="none" stroke="#c8fbff" stroke-width="0.66" opacity="0.8"/>
<path d="M436.0,285.0 L430.0,289.0 L420.0,291.0" fill="none" stroke="#5cc0c8" stroke-width="3.10"/>
<path d="M436.0,285.0 L430.0,289.0 L420.0,291.0" fill="none" stroke="#86e8ee" stroke-width="2.20"/>
<path d="M436.0,285.0 L430.0,289.0 L420.0,291.0" fill="none" stroke="#c8fbff" stroke-width="0.66" opacity="0.8"/>
<path d="M399.0,268.0 L406.0,271.0 L412.0,277.0 L416.0,283.0 L410.0,289.0 L402.0,287.0" fill="none" stroke="#5cc0c8" stroke-width="3.30"/>
<path d="M399.0,268.0 L406.0,271.0 L412.0,277.0 L416.0,283.0 L410.0,289.0 L402.0,287.0" fill="none" stroke="#86e8ee" stroke-width="2.40"/>
<path d="M399.0,268.0 L406.0,271.0 L412.0,277.0 L416.0,283.0 L410.0,289.0 L402.0,287.0" fill="none" stroke="#c8fbff" stroke-width="0.72" opacity="0.8"/>
<path d="M406.0,283.0 L412.0,287.0" fill="none" stroke="#7070b8" stroke-width="3.30"/>
<path d="M406.0,283.0 L412.0,287.0" fill="none" stroke="#9090e0" stroke-width="2.40"/>
<path d="M406.0,283.0 L412.0,287.0" fill="none" stroke="#c0c0ff" stroke-width="0.72" opacity="0.8"/>
<path d="M401.0,278.0 L404.0,284.0" fill="none" stroke="#c08080" stroke-width="3.10"/>
<path d="M401.0,278.0 L404.0,284.0" fill="none" stroke="#e8a0a0" stroke-width="2.20"/>
<path d="M401.0,278.0 L404.0,284.0" fill="none" stroke="#ffd0d0" stroke-width="0.66" opacity="0.8"/>
<path d="M436.0,279.0 L439.0,277.0" fill="none" stroke="#7070b8" stroke-width="3.30"/>
<path d="M436.0,279.0 L439.0,277.0" fill="none" stroke="#9090e0" stroke-width="2.40"/>
<path d="M436.0,279.0 L439.0,277.0" fill="none" stroke="#c0c0ff" stroke-width="0.72" opacity="0.8"/>
<path d="M399.0,309.0 L409.0,309.0" fill="none" stroke="#8a8a8a" stroke-width="3.10"/>
<path d="M399.0,309.0 L409.0,309.0" fill="none" stroke="#dedede" stroke-width="2.20"/>
<path d="M399.0,309.0 L409.0,309.0" fill="none" stroke="#fafafa" stroke-width="0.66" opacity="0.8"/>
<path d="M409.0,309.0 L417.0,309.5" fill="none" stroke="#c08080" stroke-width="3.10"/>
<path d="M409.0,309.0 L417.0,309.5" fill="none" stroke="#e8a0a0" stroke-width="2.20"/>
<path d="M409.0,309.0 L417.0,309.5" fill="none" stroke="#ffd0d0" stroke-width="0.66" opacity="0.8"/>
<path d="M471.0,283.0 L476.0,278.0 L489.0,277.0 L494.0,282.0 L490.0,288.0 L476.0,288.0 L471.0,283.0" fill="none" stroke="#8a8a8a" stroke-width="3.10"/>
<path d="M471.0,283.0 L476.0,278.0 L489.0,277.0 L494.0,282.0 L490.0,288.0 L476.0,288.0 L471.0,283.0" fill="none" stroke="#dedede" stroke-width="2.20"/>
<path d="M471.0,283.0 L476.0,278.0 L489.0,277.0 L494.0,282.0 L490.0,288.0 L476.0,288.0 L471.0,283.0" fill="none" stroke="#fafafa" stroke-width="0.66" opacity="0.8"/>
<path d="M489.0,277.0 L493.0,266.0 L493.0,258.0" fill="none" stroke="#8a8a8a" stroke-width="3.10"/>
<path d="M489.0,277.0 L493.0,266.0 L493.0,258.0" fill="none" stroke="#dedede" stroke-width="2.20"/>
<path d="M489.0,277.0 L493.0,266.0 L493.0,258.0" fill="none" stroke="#fafafa" stroke-width="0.66" opacity="0.8"/>
<line x1="430.70" y1="292.00" x2="435.40" y2="278.50" stroke="#e6d81a" stroke-width="1.3" stroke-dasharray="1.5,1.3" stroke-linecap="butt"/>
<line x1="430.70" y1="292.00" x2="418.00" y2="291.00" stroke="#e6d81a" stroke-width="1.3" stroke-dasharray="1.5,1.3" stroke-linecap="butt"/>
<line x1="430.70" y1="292.00" x2="420.00" y2="302.00" stroke="#e6d81a" stroke-width="1.3" stroke-dasharray="1.5,1.3" stroke-linecap="butt"/>
<line x1="429.30" y1="313.00" x2="418.00" y2="299.00" stroke="#e6d81a" stroke-width="1.3" stroke-dasharray="1.5,1.3" stroke-linecap="butt"/>
<line x1="429.30" y1="313.00" x2="416.70" y2="309.50" stroke="#e6d81a" stroke-width="1.3" stroke-dasharray="1.5,1.3" stroke-linecap="butt"/>
<line x1="429.30" y1="313.00" x2="455.00" y2="309.00" stroke="#e6d81a" stroke-width="1.3" stroke-dasharray="1.5,1.3" stroke-linecap="butt"/>
<line x1="430.70" y1="292.00" x2="428.00" y2="311.00" stroke="#e6d81a" stroke-width="1.3" stroke-dasharray="1.5,1.3" stroke-linecap="butt"/>
<circle cx="430.7" cy="292" r="2.8" fill="#d42020" stroke="#901010" stroke-width="0.4"/>
<circle cx="429.9" cy="291.1" r="0.9" fill="#ff9090"/>
<circle cx="429.3" cy="313" r="2.8" fill="#d42020" stroke="#901010" stroke-width="0.4"/>
<circle cx="428.5" cy="312.1" r="0.9" fill="#ff9090"/>
<path d="M450.0,319.0 L459.0,315.0" fill="none" stroke="#139aa6" stroke-width="4.90"/>
<path d="M450.0,319.0 L459.0,315.0" fill="none" stroke="#2fdde8" stroke-width="4.00"/>
<path d="M450.0,319.0 L459.0,315.0" fill="none" stroke="#a8fbff" stroke-width="1.20" opacity="0.8"/>
<path d="M485.0,314.5 L502.5,315.4" fill="none" stroke="#139aa6" stroke-width="4.90"/>
<path d="M485.0,314.5 L502.5,315.4" fill="none" stroke="#2fdde8" stroke-width="4.00"/>
<path d="M485.0,314.5 L502.5,315.4" fill="none" stroke="#a8fbff" stroke-width="1.20" opacity="0.8"/>
<path d="M502.5,315.4 C503.8,315.7 507.6,316.7 510.0,317.0 C512.4,317.3 515.8,317.0 517.0,317.0" fill="none" stroke="#8a8a8a" stroke-width="3.70"/>
<path d="M502.5,315.4 C503.8,315.7 507.6,316.7 510.0,317.0 C512.4,317.3 515.8,317.0 517.0,317.0" fill="none" stroke="#e2e2e2" stroke-width="2.40"/>
<path d="M502.5,315.4 C503.8,315.7 507.6,316.7 510.0,317.0 C512.4,317.3 515.8,317.0 517.0,317.0" fill="none" stroke="#fdfdfd" stroke-width="0.91"/>
<path d="M516.0,317.0 L520.0,317.0" fill="none" stroke="#12128a" stroke-width="3.30"/>
<path d="M516.0,317.0 L520.0,317.0" fill="none" stroke="#2b2be0" stroke-width="2.40"/>
<path d="M516.0,317.0 L520.0,317.0" fill="none" stroke="#7a7aff" stroke-width="0.72" opacity="0.8"/>
<polygon points="474,316 480,316 487,345 482,345" fill="#1fb8c4"/>
<path d="M474.0,316.0 L479.0,332.0 L482.0,345.0" fill="none" stroke="#139aa6" stroke-width="4.90"/>
<path d="M474.0,316.0 L479.0,332.0 L482.0,345.0" fill="none" stroke="#2fdde8" stroke-width="4.00"/>
<path d="M474.0,316.0 L479.0,332.0 L482.0,345.0" fill="none" stroke="#a8fbff" stroke-width="1.20" opacity="0.8"/>
<path d="M479.5,316.0 L484.5,332.0 L487.0,345.0" fill="none" stroke="#139aa6" stroke-width="4.30"/>
<path d="M479.5,316.0 L484.5,332.0 L487.0,345.0" fill="none" stroke="#2fdde8" stroke-width="3.40"/>
<path d="M479.5,316.0 L484.5,332.0 L487.0,345.0" fill="none" stroke="#a8fbff" stroke-width="1.02" opacity="0.8"/>
<path d="M482.0,343.0 L484.0,349.0" fill="none" stroke="#12128a" stroke-width="4.90"/>
<path d="M482.0,343.0 L484.0,349.0" fill="none" stroke="#2b2be0" stroke-width="4.00"/>
<path d="M482.0,343.0 L484.0,349.0" fill="none" stroke="#7a7aff" stroke-width="1.20" opacity="0.8"/>
<path d="M458.0,310.0 C458.7,309.0 459.7,305.2 462.0,304.0 C464.3,302.8 468.3,302.5 472.0,302.5 C475.7,302.5 481.3,302.9 484.0,304.0 C486.7,305.1 487.8,307.2 488.0,309.0 C488.2,310.8 487.7,313.8 485.0,315.0 C482.3,316.2 476.0,316.5 472.0,316.5 C468.0,316.5 463.3,316.1 461.0,315.0 C458.7,313.9 458.5,310.8 458.0,310.0" fill="none" stroke="#139aa6" stroke-width="4.90"/>
<path d="M458.0,310.0 C458.7,309.0 459.7,305.2 462.0,304.0 C464.3,302.8 468.3,302.5 472.0,302.5 C475.7,302.5 481.3,302.9 484.0,304.0 C486.7,305.1 487.8,307.2 488.0,309.0 C488.2,310.8 487.7,313.8 485.0,315.0 C482.3,316.2 476.0,316.5 472.0,316.5 C468.0,316.5 463.3,316.1 461.0,315.0 C458.7,313.9 458.5,310.8 458.0,310.0" fill="none" stroke="#2fdde8" stroke-width="4.00"/>
<path d="M458.0,310.0 C458.7,309.0 459.7,305.2 462.0,304.0 C464.3,302.8 468.3,302.5 472.0,302.5 C475.7,302.5 481.3,302.9 484.0,304.0 C486.7,305.1 487.8,307.2 488.0,309.0 C488.2,310.8 487.7,313.8 485.0,315.0 C482.3,316.2 476.0,316.5 472.0,316.5 C468.0,316.5 463.3,316.1 461.0,315.0 C458.7,313.9 458.5,310.8 458.0,310.0" fill="none" stroke="#a8fbff" stroke-width="1.20" opacity="0.8"/>
<path d="M458.0,311.0 L461.0,305.0" fill="none" stroke="#12128a" stroke-width="5.30"/>
<path d="M458.0,311.0 L461.0,305.0" fill="none" stroke="#2b2be0" stroke-width="4.40"/>
<path d="M458.0,311.0 L461.0,305.0" fill="none" stroke="#7a7aff" stroke-width="1.32" opacity="0.8"/>
<path d="M480.0,303.5 L487.0,308.0" fill="none" stroke="#12128a" stroke-width="5.30"/>
<path d="M480.0,303.5 L487.0,308.0" fill="none" stroke="#2b2be0" stroke-width="4.40"/>
<path d="M480.0,303.5 L487.0,308.0" fill="none" stroke="#7a7aff" stroke-width="1.32" opacity="0.8"/>
<path d="M485.0,350.0 L492.0,355.0 L495.2,355.7" fill="none" stroke="#139aa6" stroke-width="4.90"/>
<path d="M485.0,350.0 L492.0,355.0 L495.2,355.7" fill="none" stroke="#2fdde8" stroke-width="4.00"/>
<path d="M485.0,350.0 L492.0,355.0 L495.2,355.7" fill="none" stroke="#a8fbff" stroke-width="1.20" opacity="0.8"/>
<path d="M510.4,351.0 L518.5,359.2 L512.7,368.6" fill="none" stroke="#139aa6" stroke-width="4.90"/>
<path d="M510.4,351.0 L518.5,359.2 L512.7,368.6" fill="none" stroke="#2fdde8" stroke-width="4.00"/>
<path d="M510.4,351.0 L518.5,359.2 L512.7,368.6" fill="none" stroke="#a8fbff" stroke-width="1.20" opacity="0.8"/>
<path d="M495.2,355.7 L510.4,351.0" fill="none" stroke="#139aa6" stroke-width="4.90"/>
<path d="M495.2,355.7 L510.4,351.0" fill="none" stroke="#2fdde8" stroke-width="4.00"/>
<path d="M495.2,355.7 L510.4,351.0" fill="none" stroke="#a8fbff" stroke-width="1.20" opacity="0.8"/>
<path d="M495.2,355.7 L502.2,368.6" fill="none" stroke="#12128a" stroke-width="4.90"/>
<path d="M495.2,355.7 L502.2,368.6" fill="none" stroke="#2b2be0" stroke-width="4.00"/>
<path d="M495.2,355.7 L502.2,368.6" fill="none" stroke="#7a7aff" stroke-width="1.20" opacity="0.8"/>
<path d="M502.2,368.6 L512.7,368.6" fill="none" stroke="#12128a" stroke-width="4.90"/>
<path d="M502.2,368.6 L512.7,368.6" fill="none" stroke="#2b2be0" stroke-width="4.00"/>
<path d="M502.2,368.6 L512.7,368.6" fill="none" stroke="#7a7aff" stroke-width="1.20" opacity="0.8"/>
<path d="M509.0,369.0 L514.0,366.0" fill="none" stroke="#a01818" stroke-width="4.90"/>
<path d="M509.0,369.0 L514.0,366.0" fill="none" stroke="#e83a3a" stroke-width="4.00"/>
<path d="M509.0,369.0 L514.0,366.0" fill="none" stroke="#ffa0a0" stroke-width="1.20" opacity="0.8"/>
<path d="M518.5,359.2 L526.7,358.0" fill="none" stroke="#139aa6" stroke-width="3.70"/>
<path d="M518.5,359.2 L526.7,358.0" fill="none" stroke="#2fdde8" stroke-width="2.80"/>
<path d="M518.5,359.2 L526.7,358.0" fill="none" stroke="#a8fbff" stroke-width="0.84" opacity="0.8"/>
<path d="M526.7,358.0 L535.0,353.4" fill="none" stroke="#12128a" stroke-width="3.70"/>
<path d="M526.7,358.0 L535.0,353.4" fill="none" stroke="#2b2be0" stroke-width="2.80"/>
<path d="M526.7,358.0 L535.0,353.4" fill="none" stroke="#7a7aff" stroke-width="0.84" opacity="0.8"/>
<path d="M535.0,353.4 L536.0,346.4" fill="none" stroke="#139aa6" stroke-width="3.70"/>
<path d="M535.0,353.4 L536.0,346.4" fill="none" stroke="#2fdde8" stroke-width="2.80"/>
<path d="M535.0,353.4 L536.0,346.4" fill="none" stroke="#a8fbff" stroke-width="0.84" opacity="0.8"/>
<path d="M534.0,345.0 L531.5,339.5" fill="none" stroke="#a01818" stroke-width="3.50"/>
<path d="M534.0,345.0 L531.5,339.5" fill="none" stroke="#e83a3a" stroke-width="2.60"/>
<path d="M534.0,345.0 L531.5,339.5" fill="none" stroke="#ffa0a0" stroke-width="0.78" opacity="0.8"/>
<path d="M537.0,347.0 L545.0,345.0 L551.0,343.0" fill="none" stroke="#139aa6" stroke-width="3.50"/>
<path d="M537.0,347.0 L545.0,345.0 L551.0,343.0" fill="none" stroke="#2fdde8" stroke-width="2.60"/>
<path d="M537.0,347.0 L545.0,345.0 L551.0,343.0" fill="none" stroke="#a8fbff" stroke-width="0.78" opacity="0.8"/>
<path d="M549.0,344.0 L553.0,343.0" fill="none" stroke="#12128a" stroke-width="3.50"/>
<path d="M549.0,344.0 L553.0,343.0" fill="none" stroke="#2b2be0" stroke-width="2.60"/>
<path d="M549.0,344.0 L553.0,343.0" fill="none" stroke="#7a7aff" stroke-width="0.78" opacity="0.8"/>
<path d="M566.2,318.5 L575.6,318.5 L582.6,330.2 L579.0,338.4 L569.7,338.4 L563.9,330.2 L566.2,318.5" fill="none" stroke="#139aa6" stroke-width="3.70"/>
<path d="M566.2,318.5 L575.6,318.5 L582.6,330.2 L579.0,338.4 L569.7,338.4 L563.9,330.2 L566.2,318.5" fill="none" stroke="#2fdde8" stroke-width="2.80"/>
<path d="M566.2,318.5 L575.6,318.5 L582.6,330.2 L579.0,338.4 L569.7,338.4 L563.9,330.2 L566.2,318.5" fill="none" stroke="#a8fbff" stroke-width="0.84" opacity="0.8"/>
<path d="M569.0,333.0 L572.0,337.0" fill="none" stroke="#a01818" stroke-width="3.30"/>
<path d="M569.0,333.0 L572.0,337.0" fill="none" stroke="#e83a3a" stroke-width="2.40"/>
<path d="M569.0,333.0 L572.0,337.0" fill="none" stroke="#ffa0a0" stroke-width="0.72" opacity="0.8"/>
<path d="M563.9,330.2 L555.0,338.0 L551.0,343.0" fill="none" stroke="#139aa6" stroke-width="3.50"/>
<path d="M563.9,330.2 L555.0,338.0 L551.0,343.0" fill="none" stroke="#2fdde8" stroke-width="2.60"/>
<path d="M563.9,330.2 L555.0,338.0 L551.0,343.0" fill="none" stroke="#a8fbff" stroke-width="0.78" opacity="0.8"/>
<path d="M564.0,318.5 L561.5,306.9" fill="none" stroke="#139aa6" stroke-width="3.30"/>
<path d="M564.0,318.5 L561.5,306.9" fill="none" stroke="#2fdde8" stroke-width="2.40"/>
<path d="M564.0,318.5 L561.5,306.9" fill="none" stroke="#a8fbff" stroke-width="0.72" opacity="0.8"/>
<path d="M551.0,308.0 L571.0,304.5" fill="none" stroke="#5cc0c8" stroke-width="2.90"/>
<path d="M551.0,308.0 L571.0,304.5" fill="none" stroke="#86e8ee" stroke-width="2.00"/>
<path d="M551.0,308.0 L571.0,304.5" fill="none" stroke="#c8fbff" stroke-width="0.60" opacity="0.8"/>
<path d="M561.0,297.0 L561.5,312.0" fill="none" stroke="#5cc0c8" stroke-width="2.90"/>
<path d="M561.0,297.0 L561.5,312.0" fill="none" stroke="#86e8ee" stroke-width="2.00"/>
<path d="M561.0,297.0 L561.5,312.0" fill="none" stroke="#c8fbff" stroke-width="0.60" opacity="0.8"/>
<path d="M566.0,314.0 L572.0,319.0" fill="none" stroke="#12128a" stroke-width="3.70"/>
<path d="M566.0,314.0 L572.0,319.0" fill="none" stroke="#2b2be0" stroke-width="2.80"/>
<path d="M566.0,314.0 L572.0,319.0" fill="none" stroke="#7a7aff" stroke-width="0.84" opacity="0.8"/>
<path d="M583.0,233.0 L589.0,242.0 L598.0,247.0 L600.5,250.0" fill="none" stroke="#1c921c" stroke-width="3.70"/>
<path d="M583.0,233.0 L589.0,242.0 L598.0,247.0 L600.5,250.0" fill="none" stroke="#3cd83c" stroke-width="2.80"/>
<path d="M583.0,233.0 L589.0,242.0 L598.0,247.0 L600.5,250.0" fill="none" stroke="#a0ffa0" stroke-width="0.84" opacity="0.8"/>
<path d="M571.0,248.0 L583.0,253.0 L589.0,242.0" fill="none" stroke="#1c921c" stroke-width="3.50"/>
<path d="M571.0,248.0 L583.0,253.0 L589.0,242.0" fill="none" stroke="#3cd83c" stroke-width="2.60"/>
<path d="M571.0,248.0 L583.0,253.0 L589.0,242.0" fill="none" stroke="#a0ffa0" stroke-width="0.78" opacity="0.8"/>
<path d="M598.8,233.0 L589.0,242.0" fill="none" stroke="#1c921c" stroke-width="3.50"/>
<path d="M598.8,233.0 L589.0,242.0" fill="none" stroke="#3cd83c" stroke-width="2.60"/>
<path d="M598.8,233.0 L589.0,242.0" fill="none" stroke="#a0ffa0" stroke-width="0.78" opacity="0.8"/>
<path d="M600.5,250.0 L596.0,275.0 L591.0,298.0 L587.0,306.0" fill="none" stroke="#1c921c" stroke-width="3.90"/>
<path d="M600.5,250.0 L596.0,275.0 L591.0,298.0 L587.0,306.0" fill="none" stroke="#3cd83c" stroke-width="3.00"/>
<path d="M600.5,250.0 L596.0,275.0 L591.0,298.0 L587.0,306.0" fill="none" stroke="#a0ffa0" stroke-width="0.90" opacity="0.8"/>
<path d="M580.0,298.7 L585.0,304.5" fill="none" stroke="#1c921c" stroke-width="3.50"/>
<path d="M580.0,298.7 L585.0,304.5" fill="none" stroke="#3cd83c" stroke-width="2.60"/>
<path d="M580.0,298.7 L585.0,304.5" fill="none" stroke="#a0ffa0" stroke-width="0.78" opacity="0.8"/>
<path d="M583.7,309.8 L603.6,304.0" fill="none" stroke="#1c921c" stroke-width="3.70"/>
<path d="M583.7,309.8 L603.6,304.0" fill="none" stroke="#3cd83c" stroke-width="2.80"/>
<path d="M583.7,309.8 L603.6,304.0" fill="none" stroke="#a0ffa0" stroke-width="0.84" opacity="0.8"/>
<path d="M587.0,306.0 C585.7,306.9 582.7,309.0 579.0,311.5 C575.3,314.0 569.3,317.9 565.0,321.0 C560.7,324.1 556.3,326.7 553.4,330.2 C550.5,333.7 549.3,337.0 547.5,342.0 C545.7,347.0 544.0,354.5 542.8,360.0 C541.5,365.5 541.0,370.0 540.0,375.0 C539.0,380.0 537.5,387.5 537.0,390.0" fill="none" stroke="#1c921c" stroke-width="4.70"/>
<path d="M587.0,306.0 C585.7,306.9 582.7,309.0 579.0,311.5 C575.3,314.0 569.3,317.9 565.0,321.0 C560.7,324.1 556.3,326.7 553.4,330.2 C550.5,333.7 549.3,337.0 547.5,342.0 C545.7,347.0 544.0,354.5 542.8,360.0 C541.5,365.5 541.0,370.0 540.0,375.0 C539.0,380.0 537.5,387.5 537.0,390.0" fill="none" stroke="#3cd83c" stroke-width="3.80"/>
<path d="M587.0,306.0 C585.7,306.9 582.7,309.0 579.0,311.5 C575.3,314.0 569.3,317.9 565.0,321.0 C560.7,324.1 556.3,326.7 553.4,330.2 C550.5,333.7 549.3,337.0 547.5,342.0 C545.7,347.0 544.0,354.5 542.8,360.0 C541.5,365.5 541.0,370.0 540.0,375.0 C539.0,380.0 537.5,387.5 537.0,390.0" fill="none" stroke="#a0ffa0" stroke-width="1.14" opacity="0.8"/>
<path d="M583.0,309.0 C581.2,310.5 575.5,314.5 572.0,318.0 C568.5,321.5 564.7,325.5 562.0,330.0 C559.3,334.5 557.7,340.0 556.0,345.0 C554.3,350.0 553.2,355.5 552.0,360.0 C550.8,364.5 550.2,367.8 549.0,372.0 C547.8,376.2 545.7,382.8 545.0,385.0" fill="none" stroke="#1c921c" stroke-width="4.10"/>
<path d="M583.0,309.0 C581.2,310.5 575.5,314.5 572.0,318.0 C568.5,321.5 564.7,325.5 562.0,330.0 C559.3,334.5 557.7,340.0 556.0,345.0 C554.3,350.0 553.2,355.5 552.0,360.0 C550.8,364.5 550.2,367.8 549.0,372.0 C547.8,376.2 545.7,382.8 545.0,385.0" fill="none" stroke="#3cd83c" stroke-width="3.20"/>
<path d="M583.0,309.0 C581.2,310.5 575.5,314.5 572.0,318.0 C568.5,321.5 564.7,325.5 562.0,330.0 C559.3,334.5 557.7,340.0 556.0,345.0 C554.3,350.0 553.2,355.5 552.0,360.0 C550.8,364.5 550.2,367.8 549.0,372.0 C547.8,376.2 545.7,382.8 545.0,385.0" fill="none" stroke="#a0ffa0" stroke-width="0.96" opacity="0.8"/>
<path d="M548.0,333.8 L552.0,346.0 L555.0,356.0 L556.8,366.0 L556.8,382.8" fill="none" stroke="#1c921c" stroke-width="3.90"/>
<path d="M548.0,333.8 L552.0,346.0 L555.0,356.0 L556.8,366.0 L556.8,382.8" fill="none" stroke="#3cd83c" stroke-width="3.00"/>
<path d="M548.0,333.8 L552.0,346.0 L555.0,356.0 L556.8,366.0 L556.8,382.8" fill="none" stroke="#a0ffa0" stroke-width="0.90" opacity="0.8"/>
<path d="M542.8,368.8 L555.0,372.3" fill="none" stroke="#1c921c" stroke-width="3.90"/>
<path d="M542.8,368.8 L555.0,372.3" fill="none" stroke="#3cd83c" stroke-width="3.00"/>
<path d="M542.8,368.8 L555.0,372.3" fill="none" stroke="#a0ffa0" stroke-width="0.90" opacity="0.8"/>
<path d="M553.0,343.0 L557.0,347.0" fill="none" stroke="#12128a" stroke-width="3.90"/>
<path d="M553.0,343.0 L557.0,347.0" fill="none" stroke="#2b2be0" stroke-width="3.00"/>
<path d="M553.0,343.0 L557.0,347.0" fill="none" stroke="#7a7aff" stroke-width="0.90" opacity="0.8"/>
<path d="M575.0,322.0 L580.0,330.0 L584.0,342.0" fill="none" stroke="#1c921c" stroke-width="3.50"/>
<path d="M575.0,322.0 L580.0,330.0 L584.0,342.0" fill="none" stroke="#3cd83c" stroke-width="2.60"/>
<path d="M575.0,322.0 L580.0,330.0 L584.0,342.0" fill="none" stroke="#a0ffa0" stroke-width="0.78" opacity="0.8"/>
<path d="M566.0,314.0 L572.0,319.0" fill="none" stroke="#12128a" stroke-width="3.70"/>
<path d="M566.0,314.0 L572.0,319.0" fill="none" stroke="#2b2be0" stroke-width="2.80"/>
<path d="M566.0,314.0 L572.0,319.0" fill="none" stroke="#7a7aff" stroke-width="0.84" opacity="0.8"/>
<path d="M543.0,368.6 L551.0,370.7 L553.0,384.0" fill="none" stroke="#1c921c" stroke-width="3.70"/>
<path d="M543.0,368.6 L551.0,370.7 L553.0,384.0" fill="none" stroke="#3cd83c" stroke-width="2.80"/>
<path d="M543.0,368.6 L551.0,370.7 L553.0,384.0" fill="none" stroke="#a0ffa0" stroke-width="0.84" opacity="0.8"/>
<path d="M549.0,344.0 L553.0,343.0" fill="none" stroke="#12128a" stroke-width="3.70"/>
<path d="M549.0,344.0 L553.0,343.0" fill="none" stroke="#2b2be0" stroke-width="2.80"/>
<path d="M549.0,344.0 L553.0,343.0" fill="none" stroke="#7a7aff" stroke-width="0.84" opacity="0.8"/>
<path d="M541.0,383.0 L553.0,384.0 L561.3,384.0 L571.0,383.0 L581.8,382.0 L590.0,380.0 L596.0,370.7" fill="none" stroke="#1c921c" stroke-width="4.10"/>
<path d="M541.0,383.0 L553.0,384.0 L561.3,384.0 L571.0,383.0 L581.8,382.0 L590.0,380.0 L596.0,370.7" fill="none" stroke="#3cd83c" stroke-width="3.20"/>
<path d="M541.0,383.0 L553.0,384.0 L561.3,384.0 L571.0,383.0 L581.8,382.0 L590.0,380.0 L596.0,370.7" fill="none" stroke="#a0ffa0" stroke-width="0.96" opacity="0.8"/>
<path d="M583.0,382.8 L586.0,374.0 L592.0,370.7 L598.0,374.0 L596.0,382.0" fill="none" stroke="#1c921c" stroke-width="3.70"/>
<path d="M583.0,382.8 L586.0,374.0 L592.0,370.7 L598.0,374.0 L596.0,382.0" fill="none" stroke="#3cd83c" stroke-width="2.80"/>
<path d="M583.0,382.8 L586.0,374.0 L592.0,370.7 L598.0,374.0 L596.0,382.0" fill="none" stroke="#a0ffa0" stroke-width="0.84" opacity="0.8"/>
<path d="M558.0,384.0 L563.0,384.0" fill="none" stroke="#12128a" stroke-width="3.70"/>
<path d="M558.0,384.0 L563.0,384.0" fill="none" stroke="#2b2be0" stroke-width="2.80"/>
<path d="M558.0,384.0 L563.0,384.0" fill="none" stroke="#7a7aff" stroke-width="0.84" opacity="0.8"/>
<path d="M590.0,376.0 L595.0,369.0" fill="none" stroke="#12128a" stroke-width="3.70"/>
<path d="M590.0,376.0 L595.0,369.0" fill="none" stroke="#2b2be0" stroke-width="2.80"/>
<path d="M590.0,376.0 L595.0,369.0" fill="none" stroke="#7a7aff" stroke-width="0.84" opacity="0.8"/>
<path d="M583.8,384.0 L588.0,395.2 L604.3,399.3 L608.4,410.6" fill="none" stroke="#1c921c" stroke-width="3.50"/>
<path d="M583.8,384.0 L588.0,395.2 L604.3,399.3 L608.4,410.6" fill="none" stroke="#3cd83c" stroke-width="2.60"/>
<path d="M583.8,384.0 L588.0,395.2 L604.3,399.3 L608.4,410.6" fill="none" stroke="#a0ffa0" stroke-width="0.78" opacity="0.8"/>
<path d="M567.0,380.0 L569.0,376.0" fill="none" stroke="#a01818" stroke-width="3.30"/>
<path d="M567.0,380.0 L569.0,376.0" fill="none" stroke="#e83a3a" stroke-width="2.40"/>
<path d="M567.0,380.0 L569.0,376.0" fill="none" stroke="#ffa0a0" stroke-width="0.72" opacity="0.8"/>
<path d="M489.3,380.8 L495.2,381.4" fill="none" stroke="#a01818" stroke-width="3.50"/>
<path d="M489.3,380.8 L495.2,381.4" fill="none" stroke="#e83a3a" stroke-width="2.60"/>
<path d="M489.3,380.8 L495.2,381.4" fill="none" stroke="#ffa0a0" stroke-width="0.78" opacity="0.8"/>
<path d="M495.2,381.4 L502.2,383.7 L508.0,394.3 L519.7,397.2 L527.9,387.2 L520.9,376.7 L510.4,373.8 L502.2,383.7" fill="none" stroke="#1c921c" stroke-width="3.50"/>
<path d="M495.2,381.4 L502.2,383.7 L508.0,394.3 L519.7,397.2 L527.9,387.2 L520.9,376.7 L510.4,373.8 L502.2,383.7" fill="none" stroke="#3cd83c" stroke-width="2.60"/>
<path d="M495.2,381.4 L502.2,383.7 L508.0,394.3 L519.7,397.2 L527.9,387.2 L520.9,376.7 L510.4,373.8 L502.2,383.7" fill="none" stroke="#a0ffa0" stroke-width="0.78" opacity="0.8"/>
<path d="M527.9,387.2 L535.0,382.6" fill="none" stroke="#1c921c" stroke-width="3.50"/>
<path d="M527.9,387.2 L535.0,382.6" fill="none" stroke="#3cd83c" stroke-width="2.60"/>
<path d="M527.9,387.2 L535.0,382.6" fill="none" stroke="#a0ffa0" stroke-width="0.78" opacity="0.8"/>
<path d="M522.0,387.0 L528.0,385.0" fill="none" stroke="#a01818" stroke-width="3.50"/>
<path d="M522.0,387.0 L528.0,385.0" fill="none" stroke="#e83a3a" stroke-width="2.60"/>
<path d="M522.0,387.0 L528.0,385.0" fill="none" stroke="#ffa0a0" stroke-width="0.78" opacity="0.8"/>
<path d="M531.0,383.0 L540.0,390.0 L548.0,392.0 L556.0,389.0 L559.3,395.2" fill="none" stroke="#1c921c" stroke-width="3.70"/>
<path d="M531.0,383.0 L540.0,390.0 L548.0,392.0 L556.0,389.0 L559.3,395.2" fill="none" stroke="#3cd83c" stroke-width="2.80"/>
<path d="M531.0,383.0 L540.0,390.0 L548.0,392.0 L556.0,389.0 L559.3,395.2" fill="none" stroke="#a0ffa0" stroke-width="0.84" opacity="0.8"/>
<path d="M556.0,393.0 L560.0,397.0" fill="none" stroke="#12128a" stroke-width="3.70"/>
<path d="M556.0,393.0 L560.0,397.0" fill="none" stroke="#2b2be0" stroke-width="2.80"/>
<path d="M556.0,393.0 L560.0,397.0" fill="none" stroke="#7a7aff" stroke-width="0.84" opacity="0.8"/>
<path d="M544.0,389.0 L548.0,395.0" fill="none" stroke="#a01818" stroke-width="3.50"/>
<path d="M544.0,389.0 L548.0,395.0" fill="none" stroke="#e83a3a" stroke-width="2.60"/>
<path d="M544.0,389.0 L548.0,395.0" fill="none" stroke="#ffa0a0" stroke-width="0.78" opacity="0.8"/>
<path d="M547.0,398.0 L549.0,406.0" fill="none" stroke="#a01818" stroke-width="3.30"/>
<path d="M547.0,398.0 L549.0,406.0" fill="none" stroke="#e83a3a" stroke-width="2.40"/>
<path d="M547.0,398.0 L549.0,406.0" fill="none" stroke="#ffa0a0" stroke-width="0.72" opacity="0.8"/>
<path d="M535.0,388.0 L540.0,385.0" fill="none" stroke="#1c921c" stroke-width="4.90"/>
<path d="M535.0,388.0 L540.0,385.0" fill="none" stroke="#3cd83c" stroke-width="4.00"/>
<path d="M535.0,388.0 L540.0,385.0" fill="none" stroke="#a0ffa0" stroke-width="1.20" opacity="0.8"/>
<circle cx="537" cy="390" r="3.2" fill="#137013"/>
<line x1="538.40" y1="389.00" x2="542.80" y2="409.00" stroke="#111" stroke-width="0.8" />
<line x1="480.00" y1="286.60" x2="475.80" y2="303.30" stroke="#8a2be2" stroke-width="1.5" stroke-dasharray="1.5,1.3" stroke-linecap="butt"/>
<line x1="510.80" y1="368.00" x2="514.30" y2="382.00" stroke="#8a2be2" stroke-width="1.5" stroke-dasharray="1.5,1.3" stroke-linecap="butt"/>
<line x1="519.50" y1="317.30" x2="531.80" y2="336.50" stroke="#e6d81a" stroke-width="1.3" stroke-dasharray="1.5,1.3" stroke-linecap="butt"/>
<line x1="533.60" y1="357.60" x2="537.00" y2="378.60" stroke="#e6d81a" stroke-width="1.3" stroke-dasharray="1.5,1.3" stroke-linecap="butt"/>
<line x1="554.60" y1="352.30" x2="568.60" y2="375.00" stroke="#e6d81a" stroke-width="1.3" stroke-dasharray="1.5,1.3" stroke-linecap="butt"/>
<line x1="498.00" y1="372.00" x2="489.00" y2="380.00" stroke="#e6d81a" stroke-width="1.3" stroke-dasharray="1.5,1.3" stroke-linecap="butt"/>
</g>
<text x="411.80" y="269.80" font-size="8.0" font-weight="bold" fill="#151515" >L112_B</text>
<text x="398.00" y="317.60" font-size="8.0" font-weight="bold" fill="#151515" >11_B</text>
<text x="493.80" y="279.60" font-size="8.0" font-weight="bold" fill="#151515" >F116</text>
<text x="546.50" y="282.00" font-size="8.0" font-weight="bold" fill="#151515" >P113</text>
<text x="503.80" y="312.90" font-size="8.0" font-weight="bold" fill="#151515" >V126</text>
<text x="567.40" y="293.20" font-size="8.0" font-weight="bold" fill="#151515" >V95</text>
<text x="590.00" y="300.30" font-size="8.0" font-weight="bold" fill="#151515" >V154</text>
<text x="587.40" y="230.30" font-size="8.0" font-weight="bold" fill="#151515" >I156</text>
<text x="576.00" y="266.90" font-size="8.0" font-weight="bold" fill="#151515" >W89</text>
<text x="601.40" y="317.80" font-size="8.0" font-weight="bold" fill="#151515" >I147</text>
<text x="563.50" y="364.40" font-size="8.0" font-weight="bold" fill="#151515" >I139</text>
<text x="567.30" y="396.80" font-size="8.0" font-weight="bold" fill="#151515" >L149</text>
<text x="491.80" y="406.40" font-size="8.0" font-weight="bold" fill="#151515" >Y150</text>
<text x="533.40" y="417.40" font-size="8.0" font-weight="bold" fill="#151515" >G151</text>
</svg></body></html>
